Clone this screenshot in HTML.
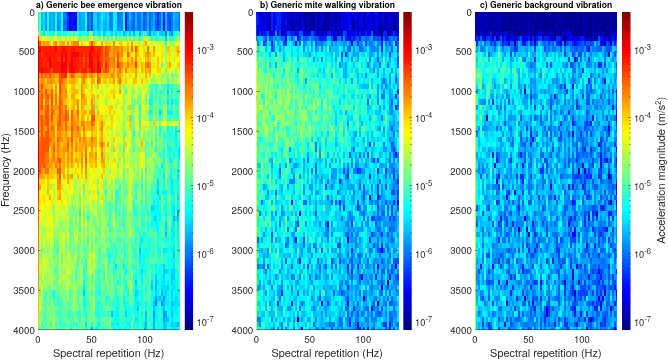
<!DOCTYPE html><html><head><meta charset="utf-8"><style>html,body{margin:0;padding:0;background:#fff;overflow:hidden}svg{display:block;font-family:"TeX Gyre Heros","Liberation Sans",Arial,Helvetica,sans-serif}</style></head><body>
<svg width="668" height="361" viewBox="0 0 668 361" fill="#262626">
<defs><linearGradient id="jetg" x1="0" y1="0" x2="0" y2="1"><stop offset="0" stop-color="#800000"/><stop offset="0.02" stop-color="#8f0000"/><stop offset="0.03" stop-color="#9f0000"/><stop offset="0.05" stop-color="#af0000"/><stop offset="0.06" stop-color="#bf0000"/><stop offset="0.08" stop-color="#cf0000"/><stop offset="0.09" stop-color="#df0000"/><stop offset="0.11" stop-color="#ef0000"/><stop offset="0.12" stop-color="#ff0000"/><stop offset="0.14" stop-color="#ff1000"/><stop offset="0.16" stop-color="#ff2000"/><stop offset="0.17" stop-color="#ff3000"/><stop offset="0.19" stop-color="#ff4000"/><stop offset="0.2" stop-color="#ff5000"/><stop offset="0.22" stop-color="#ff6000"/><stop offset="0.23" stop-color="#ff7000"/><stop offset="0.25" stop-color="#ff8000"/><stop offset="0.27" stop-color="#ff8f00"/><stop offset="0.28" stop-color="#ff9f00"/><stop offset="0.3" stop-color="#ffaf00"/><stop offset="0.31" stop-color="#ffbf00"/><stop offset="0.33" stop-color="#ffcf00"/><stop offset="0.34" stop-color="#ffdf00"/><stop offset="0.36" stop-color="#ffef00"/><stop offset="0.38" stop-color="#ffff00"/><stop offset="0.39" stop-color="#efff10"/><stop offset="0.41" stop-color="#dfff20"/><stop offset="0.42" stop-color="#cfff30"/><stop offset="0.44" stop-color="#bfff40"/><stop offset="0.45" stop-color="#afff50"/><stop offset="0.47" stop-color="#9fff60"/><stop offset="0.48" stop-color="#8fff70"/><stop offset="0.5" stop-color="#80ff80"/><stop offset="0.52" stop-color="#70ff8f"/><stop offset="0.53" stop-color="#60ff9f"/><stop offset="0.55" stop-color="#50ffaf"/><stop offset="0.56" stop-color="#40ffbf"/><stop offset="0.58" stop-color="#30ffcf"/><stop offset="0.59" stop-color="#20ffdf"/><stop offset="0.61" stop-color="#10ffef"/><stop offset="0.62" stop-color="#00ffff"/><stop offset="0.64" stop-color="#00efff"/><stop offset="0.66" stop-color="#00dfff"/><stop offset="0.67" stop-color="#00cfff"/><stop offset="0.69" stop-color="#00bfff"/><stop offset="0.7" stop-color="#00afff"/><stop offset="0.72" stop-color="#009fff"/><stop offset="0.73" stop-color="#008fff"/><stop offset="0.75" stop-color="#0080ff"/><stop offset="0.77" stop-color="#0070ff"/><stop offset="0.78" stop-color="#0060ff"/><stop offset="0.8" stop-color="#0050ff"/><stop offset="0.81" stop-color="#0040ff"/><stop offset="0.83" stop-color="#0030ff"/><stop offset="0.84" stop-color="#0020ff"/><stop offset="0.86" stop-color="#0010ff"/><stop offset="0.88" stop-color="#0000ff"/><stop offset="0.89" stop-color="#0000ef"/><stop offset="0.91" stop-color="#0000df"/><stop offset="0.92" stop-color="#0000cf"/><stop offset="0.94" stop-color="#0000bf"/><stop offset="0.95" stop-color="#0000af"/><stop offset="0.97" stop-color="#00009f"/><stop offset="0.98" stop-color="#00008f"/><stop offset="1" stop-color="#000080"/></linearGradient><filter id="bl" x="0" y="0" width="1" height="1"><feGaussianBlur stdDeviation="0.45"/></filter></defs>
<rect width="668" height="361" fill="#fff"/>
<g shape-rendering="crispEdges" filter="url(#bl)"><path fill="#0000e1" d="M69 12h2v2.65h-2zM69 14.65h2v5.3h-2zM69 19.95h2v5.3h-2zM69 25.25h2v5.3h-2z"/>
<path fill="#0000f1" d="M75 14.65h2v5.3h-2zM75 19.95h2v5.3h-2z"/>
<path fill="#0002ff" d="M73 12h4v2.65h-4zM125 14.65h2v5.3h-2zM73 19.95h2v5.3h-2zM125 19.95h2v5.3h-2zM75 25.25h2v5.3h-2zM125 25.25h2v5.3h-2z"/>
<path fill="#0012ff" d="M71 12h2v2.65h-2zM125 12h2v2.65h-2zM71 14.65h4v5.3h-4zM71 19.95h2v5.3h-2zM163 19.95h2v5.3h-2zM71 25.25h4v5.3h-4zM163 25.25h2v5.3h-2z"/>
<path fill="#0022ff" d="M67 12h2v2.65h-2zM163 12h2v2.65h-2zM163 14.65h2v5.3h-2zM67 19.95h2v5.3h-2zM67 25.25h2v5.3h-2z"/>
<path fill="#0033ff" d="M157 12h2v2.65h-2zM67 14.65h2v5.3h-2zM157 19.95h2v5.3h-2z"/>
<path fill="#0043ff" d="M157 14.65h2v5.3h-2zM169 19.95h2v5.3h-2zM157 25.25h2v5.3h-2zM169 25.25h2v5.3h-2z"/>
<path fill="#0053ff" d="M87 12h2v2.65h-2zM91 12h2v2.65h-2zM169 12h2v2.65h-2zM91 14.65h2v5.3h-2zM167 14.65h4v5.3h-4zM91 19.95h2v5.3h-2zM143 19.95h2v5.3h-2zM87 25.25h2v5.3h-2zM91 25.25h2v5.3h-2z"/>
<path fill="#0063ff" d="M117 12h2v2.65h-2zM133 12h2v2.65h-2zM143 12h4v2.65h-4zM149 12h2v2.65h-2zM155 12h2v2.65h-2zM159 12h2v2.65h-2zM167 12h2v2.65h-2zM179 12h1v2.65h-1zM87 14.65h2v5.3h-2zM133 14.65h2v5.3h-2zM143 14.65h2v5.3h-2zM149 14.65h2v5.3h-2zM179 14.65h1v5.3h-1zM63 19.95h2v5.3h-2zM87 19.95h2v5.3h-2zM133 19.95h2v5.3h-2zM149 19.95h2v5.3h-2zM155 19.95h2v5.3h-2zM159 19.95h2v5.3h-2zM167 19.95h2v5.3h-2zM179 19.95h1v5.3h-1zM133 25.25h2v5.3h-2zM143 25.25h2v5.3h-2zM149 25.25h2v5.3h-2zM155 25.25h2v5.3h-2zM167 25.25h2v5.3h-2zM179 25.25h1v5.3h-1z"/>
<path fill="#0073ff" d="M63 12h4v2.65h-4zM109 12h2v2.65h-2zM127 12h2v2.65h-2zM131 12h2v2.65h-2zM137 12h4v2.65h-4zM171 12h2v2.65h-2zM117 14.65h2v5.3h-2zM127 14.65h2v5.3h-2zM137 14.65h4v5.3h-4zM145 14.65h2v5.3h-2zM155 14.65h2v5.3h-2zM159 14.65h2v5.3h-2zM171 14.65h2v5.3h-2zM65 19.95h2v5.3h-2zM117 19.95h2v5.3h-2zM131 19.95h2v5.3h-2zM137 19.95h4v5.3h-4zM145 19.95h2v5.3h-2zM171 19.95h2v5.3h-2zM63 25.25h4v5.3h-4zM127 25.25h2v5.3h-2zM131 25.25h2v5.3h-2zM137 25.25h4v5.3h-4zM145 25.25h2v5.3h-2zM159 25.25h2v5.3h-2zM171 25.25h2v5.3h-2zM155 300.85h2v5.3h-2z"/>
<path fill="#0084ff" d="M89 12h2v2.65h-2zM111 12h2v2.65h-2zM119 12h4v2.65h-4zM151 12h2v2.65h-2zM63 14.65h4v5.3h-4zM89 14.65h2v5.3h-2zM109 14.65h4v5.3h-4zM119 14.65h2v5.3h-2zM131 14.65h2v5.3h-2zM151 14.65h2v5.3h-2zM57 19.95h2v5.3h-2zM109 19.95h4v5.3h-4zM119 19.95h4v5.3h-4zM127 19.95h2v5.3h-2zM57 25.25h2v5.3h-2zM89 25.25h2v5.3h-2zM109 25.25h4v5.3h-4zM117 25.25h2v5.3h-2zM121 25.25h2v5.3h-2zM149 30.55h2v5.3h-2zM165 30.55h2v5.3h-2zM163 295.55h2v5.3h-2zM161 300.85h2v5.3h-2z"/>
<path fill="#0094ff" d="M45 12h2v2.65h-2zM45 14.65h2v5.3h-2zM97 14.65h2v5.3h-2zM121 14.65h2v5.3h-2zM89 19.95h2v5.3h-2zM97 19.95h2v5.3h-2zM151 19.95h2v5.3h-2zM175 19.95h4v5.3h-4zM45 25.25h2v5.3h-2zM119 25.25h2v5.3h-2zM129 25.25h2v5.3h-2zM151 25.25h2v5.3h-2zM175 25.25h2v5.3h-2zM171 30.55h2v5.3h-2zM153 311.45h2v5.3h-2z"/>
<path fill="#00a4ff" d="M49 12h2v2.65h-2zM53 12h2v2.65h-2zM57 12h4v2.65h-4zM79 12h2v2.65h-2zM97 12h2v2.65h-2zM141 12h2v2.65h-2zM147 12h2v2.65h-2zM153 12h2v2.65h-2zM161 12h2v2.65h-2zM175 12h4v2.65h-4zM53 14.65h2v5.3h-2zM57 14.65h2v5.3h-2zM79 14.65h2v5.3h-2zM175 14.65h4v5.3h-4zM45 19.95h2v5.3h-2zM49 19.95h2v5.3h-2zM53 19.95h2v5.3h-2zM59 19.95h2v5.3h-2zM79 19.95h2v5.3h-2zM83 19.95h2v5.3h-2zM129 19.95h2v5.3h-2zM141 19.95h2v5.3h-2zM147 19.95h2v5.3h-2zM153 19.95h2v5.3h-2zM49 25.25h2v5.3h-2zM53 25.25h2v5.3h-2zM59 25.25h2v5.3h-2zM79 25.25h2v5.3h-2zM83 25.25h2v5.3h-2zM97 25.25h2v5.3h-2zM135 25.25h2v5.3h-2zM141 25.25h2v5.3h-2zM177 25.25h2v5.3h-2zM177 210.75h2v5.3h-2zM155 295.55h2v5.3h-2zM163 311.45h4v5.3h-4zM163 316.75h2v5.3h-2z"/>
<path fill="#00b4ff" d="M41 12h2v2.65h-2zM51 12h2v2.65h-2zM81 12h4v2.65h-4zM99 12h2v2.65h-2zM129 12h2v2.65h-2zM135 12h2v2.65h-2zM173 12h2v2.65h-2zM49 14.65h2v5.3h-2zM59 14.65h2v5.3h-2zM81 14.65h4v5.3h-4zM105 14.65h2v5.3h-2zM135 14.65h2v5.3h-2zM141 14.65h2v5.3h-2zM147 14.65h2v5.3h-2zM153 14.65h2v5.3h-2zM161 14.65h2v5.3h-2zM81 19.95h2v5.3h-2zM103 19.95h4v5.3h-4zM135 19.95h2v5.3h-2zM161 19.95h2v5.3h-2zM165 19.95h2v5.3h-2zM173 19.95h2v5.3h-2zM41 25.25h2v5.3h-2zM81 25.25h2v5.3h-2zM103 25.25h4v5.3h-4zM147 25.25h2v5.3h-2zM153 25.25h2v5.3h-2zM161 25.25h2v5.3h-2zM165 25.25h2v5.3h-2zM173 25.25h2v5.3h-2zM123 30.55h2v5.3h-2zM133 30.55h2v5.3h-2zM139 30.55h2v5.3h-2zM169 30.55h2v5.3h-2zM173 216.05h2v5.3h-2zM155 284.95h2v5.3h-2zM161 290.25h2v5.3h-2zM153 316.75h2v5.3h-2zM167 316.75h2v5.3h-2zM145 322.05h2v5.3h-2zM153 322.05h2v5.3h-2zM177 322.05h2v5.3h-2zM153 327.35h2v2.65h-2z"/>
<path fill="#00c4ff" d="M93 12h2v2.65h-2zM105 12h2v2.65h-2zM165 12h2v2.65h-2zM41 14.65h2v5.3h-2zM51 14.65h2v5.3h-2zM99 14.65h2v5.3h-2zM129 14.65h2v5.3h-2zM165 14.65h2v5.3h-2zM173 14.65h2v5.3h-2zM41 19.95h2v5.3h-2zM51 19.95h2v5.3h-2zM99 19.95h2v5.3h-2zM51 25.25h2v5.3h-2zM93 25.25h2v5.3h-2zM99 25.25h2v5.3h-2zM103 30.55h2v5.3h-2zM129 30.55h2v5.3h-2zM161 30.55h2v5.3h-2zM165 35.85h2v5.3h-2zM179 147.15h1v5.3h-1zM157 189.55h2v5.3h-2zM177 216.05h2v5.3h-2zM165 231.95h2v5.3h-2zM139 247.85h2v5.3h-2zM173 253.15h2v5.3h-2zM171 274.35h2v5.3h-2zM155 279.65h2v5.3h-2zM151 284.95h2v5.3h-2zM167 284.95h2v5.3h-2zM159 295.55h2v5.3h-2zM153 300.85h2v5.3h-2zM163 300.85h2v5.3h-2zM171 300.85h2v5.3h-2zM137 306.15h2v5.3h-2zM153 306.15h2v5.3h-2zM163 306.15h2v5.3h-2zM111 311.45h2v5.3h-2zM145 311.45h2v5.3h-2zM171 311.45h2v5.3h-2zM165 316.75h2v5.3h-2zM163 322.05h2v5.3h-2zM171 322.05h2v5.3h-2zM163 327.35h2v2.65h-2z"/>
<path fill="#00d4ff" d="M77 12h2v2.65h-2zM95 12h2v2.65h-2zM103 12h2v2.65h-2zM107 12h2v2.65h-2zM77 14.65h2v5.3h-2zM93 14.65h2v5.3h-2zM103 14.65h2v5.3h-2zM43 19.95h2v5.3h-2zM77 19.95h2v5.3h-2zM93 19.95h2v5.3h-2zM107 19.95h2v5.3h-2zM77 25.25h2v5.3h-2zM95 25.25h2v5.3h-2zM107 25.25h2v5.3h-2zM93 30.55h2v5.3h-2zM111 30.55h2v5.3h-2zM115 30.55h2v5.3h-2zM147 30.55h2v5.3h-2zM153 30.55h2v5.3h-2zM159 30.55h2v5.3h-2zM163 30.55h2v5.3h-2zM167 88.85h2v5.3h-2zM159 110.05h2v5.3h-2zM179 152.45h1v5.3h-1zM177 173.65h2v5.3h-2zM157 178.95h2v5.3h-2zM177 194.85h2v5.3h-2zM151 205.45h2v5.3h-2zM155 216.05h2v5.3h-2zM165 221.35h2v5.3h-2zM163 263.75h2v5.3h-2zM141 269.05h2v5.3h-2zM163 269.05h4v5.3h-4zM171 269.05h4v5.3h-4zM155 274.35h2v5.3h-2zM163 274.35h2v5.3h-2zM173 274.35h2v5.3h-2zM135 279.65h2v5.3h-2zM151 279.65h2v5.3h-2zM171 279.65h2v5.3h-2zM83 290.25h2v5.3h-2zM135 290.25h2v5.3h-2zM155 290.25h2v5.3h-2zM165 290.25h2v5.3h-2zM171 290.25h2v5.3h-2zM157 295.55h2v5.3h-2zM175 295.55h2v5.3h-2zM173 300.85h2v5.3h-2zM179 300.85h1v5.3h-1zM171 306.15h2v5.3h-2zM125 311.45h2v5.3h-2zM145 316.75h2v5.3h-2zM165 322.05h2v5.3h-2zM175 322.05h2v5.3h-2zM145 327.35h2v2.65h-2zM165 327.35h2v2.65h-2zM173 327.35h2v2.65h-2z"/>
<path fill="#00e5ff" d="M43 12h2v2.65h-2zM101 12h2v2.65h-2zM115 12h2v2.65h-2zM43 14.65h2v5.3h-2zM95 14.65h2v5.3h-2zM107 14.65h2v5.3h-2zM95 19.95h2v5.3h-2zM101 19.95h2v5.3h-2zM115 19.95h2v5.3h-2zM43 25.25h2v5.3h-2zM101 25.25h2v5.3h-2zM115 25.25h2v5.3h-2zM43 30.55h2v5.3h-2zM87 30.55h2v5.3h-2zM97 30.55h4v5.3h-4zM119 30.55h2v5.3h-2zM125 30.55h2v5.3h-2zM141 30.55h2v5.3h-2zM155 30.55h2v5.3h-2zM167 99.45h2v5.3h-2zM171 99.45h2v5.3h-2zM175 131.25h2v5.3h-2zM163 173.65h2v5.3h-2zM171 178.95h2v5.3h-2zM157 184.25h2v5.3h-2zM159 194.85h2v5.3h-2zM153 205.45h2v5.3h-2zM173 205.45h2v5.3h-2zM173 210.75h2v5.3h-2zM153 216.05h2v5.3h-2zM175 216.05h2v5.3h-2zM173 221.35h2v5.3h-2zM177 221.35h2v5.3h-2zM165 226.65h2v5.3h-2zM171 226.65h2v5.3h-2zM173 231.95h2v5.3h-2zM141 237.25h2v5.3h-2zM163 247.85h2v5.3h-2zM173 247.85h2v5.3h-2zM139 253.15h2v5.3h-2zM115 263.75h2v5.3h-2zM173 263.75h2v5.3h-2zM167 269.05h2v5.3h-2zM157 279.65h2v5.3h-2zM163 279.65h2v5.3h-2zM161 284.95h6v5.3h-6zM173 284.95h2v5.3h-2zM137 290.25h2v5.3h-2zM163 290.25h2v5.3h-2zM135 295.55h2v5.3h-2zM153 295.55h2v5.3h-2zM161 295.55h2v5.3h-2zM165 295.55h2v5.3h-2zM171 295.55h2v5.3h-2zM177 295.55h2v5.3h-2zM137 300.85h2v5.3h-2zM167 300.85h2v5.3h-2zM175 300.85h4v5.3h-4zM175 306.15h2v5.3h-2zM135 316.75h2v5.3h-2zM171 316.75h2v5.3h-2zM85 322.05h2v5.3h-2zM173 322.05h2v5.3h-2zM91 327.35h2v2.65h-2zM95 327.35h2v2.65h-2z"/>
<path fill="#00f5ff" d="M38 12h1v2.65h-1zM55 12h2v2.65h-2zM113 12h2v2.65h-2zM123 12h2v2.65h-2zM101 14.65h2v5.3h-2zM113 14.65h4v5.3h-4zM38 25.25h1v5.3h-1zM105 30.55h2v5.3h-2zM151 30.55h2v5.3h-2zM173 30.55h2v5.3h-2zM179 30.55h1v5.3h-1zM167 83.55h2v5.3h-2zM149 99.45h2v5.3h-2zM149 110.05h2v5.3h-2zM167 110.05h4v5.3h-4zM167 125.95h2v5.3h-2zM175 125.95h2v5.3h-2zM169 147.15h2v5.3h-2zM169 157.75h2v5.3h-2zM161 163.05h2v5.3h-2zM169 173.65h2v5.3h-2zM171 184.25h2v5.3h-2zM163 189.55h4v5.3h-4zM171 189.55h4v5.3h-4zM153 200.15h2v5.3h-2zM157 200.15h2v5.3h-2zM177 200.15h2v5.3h-2zM157 205.45h2v5.3h-2zM177 205.45h2v5.3h-2zM155 210.75h2v5.3h-2zM159 210.75h2v5.3h-2zM165 210.75h2v5.3h-2zM159 216.05h2v5.3h-2zM151 221.35h2v5.3h-2zM155 221.35h2v5.3h-2zM157 226.65h2v5.3h-2zM177 226.65h2v5.3h-2zM177 231.95h2v5.3h-2zM171 237.25h2v5.3h-2zM177 237.25h2v5.3h-2zM139 242.55h2v5.3h-2zM173 242.55h2v5.3h-2zM165 247.85h2v5.3h-2zM171 247.85h2v5.3h-2zM139 258.45h2v5.3h-2zM171 258.45h4v5.3h-4zM123 263.75h2v5.3h-2zM155 263.75h2v5.3h-2zM125 269.05h2v5.3h-2zM159 269.05h2v5.3h-2zM175 269.05h2v5.3h-2zM141 274.35h2v5.3h-2zM161 274.35h2v5.3h-2zM169 274.35h2v5.3h-2zM141 279.65h2v5.3h-2zM161 279.65h2v5.3h-2zM167 279.65h2v5.3h-2zM173 279.65h4v5.3h-4zM83 284.95h2v5.3h-2zM135 284.95h2v5.3h-2zM171 284.95h2v5.3h-2zM175 284.95h2v5.3h-2zM157 290.25h2v5.3h-2zM167 290.25h2v5.3h-2zM175 290.25h4v5.3h-4zM167 295.55h2v5.3h-2zM83 300.85h2v5.3h-2zM123 300.85h2v5.3h-2zM135 300.85h2v5.3h-2zM145 300.85h2v5.3h-2zM157 300.85h2v5.3h-2zM165 300.85h2v5.3h-2zM135 306.15h2v5.3h-2zM155 306.15h2v5.3h-2zM161 306.15h2v5.3h-2zM173 306.15h2v5.3h-2zM177 306.15h2v5.3h-2zM117 311.45h2v5.3h-2zM141 311.45h2v5.3h-2zM155 311.45h2v5.3h-2zM161 311.45h2v5.3h-2zM173 311.45h6v5.3h-6zM97 322.05h2v5.3h-2zM111 322.05h2v5.3h-2zM117 322.05h2v5.3h-2zM127 322.05h2v5.3h-2zM143 322.05h2v5.3h-2zM157 322.05h2v5.3h-2zM169 322.05h2v5.3h-2zM113 327.35h2v2.65h-2zM119 327.35h2v2.65h-2zM125 327.35h2v2.65h-2zM159 327.35h2v2.65h-2zM171 327.35h2v2.65h-2zM175 327.35h2v2.65h-2z"/>
<path fill="#06fff9" d="M61 12h2v2.65h-2zM85 12h2v2.65h-2zM38 14.65h1v5.3h-1zM55 14.65h2v5.3h-2zM123 14.65h2v5.3h-2zM38 19.95h1v5.3h-1zM55 19.95h2v5.3h-2zM61 19.95h2v5.3h-2zM113 19.95h2v5.3h-2zM123 19.95h2v5.3h-2zM55 25.25h2v5.3h-2zM61 25.25h2v5.3h-2zM113 25.25h2v5.3h-2zM123 25.25h2v5.3h-2zM53 30.55h2v5.3h-2zM57 30.55h4v5.3h-4zM65 30.55h2v5.3h-2zM109 30.55h2v5.3h-2zM117 30.55h2v5.3h-2zM145 30.55h2v5.3h-2zM171 88.85h2v5.3h-2zM167 94.15h2v5.3h-2zM151 99.45h2v5.3h-2zM175 99.45h2v5.3h-2zM139 104.75h2v5.3h-2zM171 110.05h2v5.3h-2zM169 131.25h2v5.3h-2zM175 136.55h2v5.3h-2zM175 141.85h2v5.3h-2zM179 141.85h1v5.3h-1zM177 147.15h2v5.3h-2zM177 152.45h2v5.3h-2zM171 157.75h2v5.3h-2zM177 163.05h2v5.3h-2zM171 168.35h2v5.3h-2zM177 168.35h2v5.3h-2zM177 178.95h2v5.3h-2zM177 184.25h2v5.3h-2zM177 189.55h2v5.3h-2zM165 194.85h2v5.3h-2zM155 205.45h2v5.3h-2zM165 205.45h2v5.3h-2zM171 205.45h2v5.3h-2zM79 210.75h2v5.3h-2zM151 210.75h4v5.3h-4zM157 210.75h2v5.3h-2zM171 210.75h2v5.3h-2zM157 221.35h2v5.3h-2zM171 221.35h2v5.3h-2zM173 226.65h2v5.3h-2zM171 231.95h2v5.3h-2zM165 237.25h2v5.3h-2zM173 237.25h2v5.3h-2zM177 242.55h2v5.3h-2zM145 247.85h2v5.3h-2zM159 247.85h2v5.3h-2zM167 247.85h2v5.3h-2zM177 247.85h2v5.3h-2zM109 253.15h2v5.3h-2zM143 253.15h2v5.3h-2zM143 258.45h2v5.3h-2zM159 263.75h4v5.3h-4zM171 263.75h2v5.3h-2zM145 269.05h2v5.3h-2zM169 269.05h2v5.3h-2zM135 274.35h2v5.3h-2zM151 274.35h2v5.3h-2zM177 274.35h2v5.3h-2zM83 279.65h2v5.3h-2zM117 279.65h2v5.3h-2zM125 284.95h2v5.3h-2zM159 284.95h2v5.3h-2zM169 284.95h2v5.3h-2zM53 290.25h2v5.3h-2zM127 290.25h2v5.3h-2zM141 290.25h2v5.3h-2zM151 290.25h2v5.3h-2zM83 295.55h2v5.3h-2zM123 295.55h2v5.3h-2zM141 295.55h2v5.3h-2zM151 295.55h2v5.3h-2zM173 295.55h2v5.3h-2zM97 300.85h2v5.3h-2zM117 300.85h2v5.3h-2zM139 300.85h2v5.3h-2zM151 300.85h2v5.3h-2zM169 300.85h2v5.3h-2zM117 306.15h2v5.3h-2zM125 306.15h2v5.3h-2zM133 306.15h2v5.3h-2zM145 306.15h2v5.3h-2zM151 306.15h2v5.3h-2zM167 306.15h4v5.3h-4zM115 311.45h2v5.3h-2zM137 311.45h2v5.3h-2zM157 311.45h2v5.3h-2zM167 311.45h4v5.3h-4zM115 316.75h2v5.3h-2zM137 316.75h2v5.3h-2zM155 316.75h2v5.3h-2zM161 316.75h2v5.3h-2zM169 316.75h2v5.3h-2zM173 316.75h2v5.3h-2zM99 322.05h2v5.3h-2zM129 322.05h2v5.3h-2zM137 322.05h2v5.3h-2zM167 322.05h2v5.3h-2zM129 327.35h2v2.65h-2zM161 327.35h2v2.65h-2zM167 327.35h4v2.65h-4z"/>
<path fill="#16ffe9" d="M47 12h2v2.65h-2zM47 14.65h2v5.3h-2zM61 14.65h2v5.3h-2zM85 14.65h2v5.3h-2zM47 19.95h2v5.3h-2zM85 19.95h2v5.3h-2zM47 25.25h2v5.3h-2zM85 25.25h2v5.3h-2zM49 30.55h2v5.3h-2zM79 30.55h6v5.3h-6zM95 30.55h2v5.3h-2zM121 30.55h2v5.3h-2zM135 30.55h2v5.3h-2zM115 35.85h2v5.3h-2zM139 35.85h2v5.3h-2zM177 88.85h2v5.3h-2zM151 94.15h2v5.3h-2zM177 110.05h2v5.3h-2zM159 125.95h2v5.3h-2zM171 125.95h2v5.3h-2zM133 131.25h2v5.3h-2zM173 136.55h2v5.3h-2zM155 147.15h2v5.3h-2zM171 147.15h2v5.3h-2zM163 152.45h2v5.3h-2zM169 152.45h2v5.3h-2zM173 152.45h2v5.3h-2zM163 157.75h2v5.3h-2zM177 157.75h3v5.3h-3zM163 168.35h2v5.3h-2zM171 173.65h2v5.3h-2zM163 178.95h2v5.3h-2zM141 184.25h2v5.3h-2zM163 184.25h2v5.3h-2zM173 184.25h2v5.3h-2zM105 189.55h2v5.3h-2zM115 189.55h2v5.3h-2zM155 189.55h2v5.3h-2zM161 189.55h2v5.3h-2zM135 194.85h2v5.3h-2zM153 194.85h2v5.3h-2zM157 194.85h2v5.3h-2zM173 194.85h2v5.3h-2zM115 200.15h2v5.3h-2zM165 200.15h2v5.3h-2zM171 200.15h4v5.3h-4zM115 205.45h2v5.3h-2zM133 205.45h2v5.3h-2zM159 205.45h2v5.3h-2zM163 205.45h2v5.3h-2zM135 210.75h2v5.3h-2zM147 210.75h2v5.3h-2zM87 216.05h2v5.3h-2zM151 216.05h2v5.3h-2zM157 216.05h2v5.3h-2zM165 216.05h2v5.3h-2zM143 221.35h2v5.3h-2zM147 221.35h2v5.3h-2zM153 221.35h2v5.3h-2zM147 226.65h2v5.3h-2zM155 226.65h2v5.3h-2zM143 231.95h2v5.3h-2zM157 231.95h2v5.3h-2zM135 237.25h2v5.3h-2zM139 237.25h2v5.3h-2zM147 237.25h2v5.3h-2zM167 237.25h2v5.3h-2zM149 242.55h2v5.3h-2zM157 242.55h2v5.3h-2zM165 242.55h2v5.3h-2zM171 242.55h2v5.3h-2zM143 247.85h2v5.3h-2zM147 247.85h4v5.3h-4zM157 247.85h2v5.3h-2zM147 253.15h2v5.3h-2zM159 253.15h2v5.3h-2zM163 253.15h2v5.3h-2zM169 253.15h2v5.3h-2zM177 253.15h2v5.3h-2zM113 258.45h2v5.3h-2zM163 258.45h2v5.3h-2zM167 258.45h4v5.3h-4zM141 263.75h4v5.3h-4zM151 263.75h2v5.3h-2zM169 263.75h2v5.3h-2zM83 269.05h2v5.3h-2zM113 269.05h2v5.3h-2zM139 269.05h2v5.3h-2zM143 269.05h2v5.3h-2zM151 269.05h2v5.3h-2zM155 269.05h4v5.3h-4zM133 274.35h2v5.3h-2zM139 274.35h2v5.3h-2zM157 274.35h4v5.3h-4zM165 274.35h4v5.3h-4zM175 274.35h2v5.3h-2zM159 279.65h2v5.3h-2zM165 279.65h2v5.3h-2zM169 279.65h2v5.3h-2zM177 279.65h2v5.3h-2zM137 284.95h2v5.3h-2zM141 284.95h2v5.3h-2zM145 284.95h2v5.3h-2zM157 284.95h2v5.3h-2zM177 284.95h2v5.3h-2zM99 290.25h2v5.3h-2zM133 290.25h2v5.3h-2zM145 290.25h2v5.3h-2zM153 290.25h2v5.3h-2zM169 290.25h2v5.3h-2zM173 290.25h2v5.3h-2zM179 290.25h1v5.3h-1zM53 295.55h2v5.3h-2zM85 295.55h2v5.3h-2zM105 295.55h2v5.3h-2zM115 295.55h4v5.3h-4zM137 295.55h2v5.3h-2zM169 295.55h2v5.3h-2zM113 300.85h2v5.3h-2zM125 300.85h4v5.3h-4zM141 300.85h2v5.3h-2zM159 300.85h2v5.3h-2zM83 306.15h2v5.3h-2zM115 306.15h2v5.3h-2zM127 306.15h4v5.3h-4zM141 306.15h2v5.3h-2zM157 306.15h2v5.3h-2zM165 306.15h2v5.3h-2zM85 311.45h2v5.3h-2zM95 311.45h6v5.3h-6zM113 311.45h2v5.3h-2zM127 311.45h4v5.3h-4zM135 311.45h2v5.3h-2zM113 316.75h2v5.3h-2zM117 316.75h2v5.3h-2zM149 316.75h2v5.3h-2zM157 316.75h2v5.3h-2zM175 316.75h4v5.3h-4zM113 322.05h4v5.3h-4zM121 322.05h6v5.3h-6zM133 322.05h4v5.3h-4zM141 322.05h2v5.3h-2zM151 322.05h2v5.3h-2zM161 322.05h2v5.3h-2zM69 327.35h4v2.65h-4zM85 327.35h2v2.65h-2zM97 327.35h2v2.65h-2zM115 327.35h2v2.65h-2zM143 327.35h2v2.65h-2zM147 327.35h2v2.65h-2zM155 327.35h4v2.65h-4zM177 327.35h3v2.65h-3z"/>
<path fill="#26ffd9" d="M41 30.55h2v5.3h-2zM51 30.55h2v5.3h-2zM63 30.55h2v5.3h-2zM107 30.55h2v5.3h-2zM113 30.55h2v5.3h-2zM127 30.55h2v5.3h-2zM131 30.55h2v5.3h-2zM167 30.55h2v5.3h-2zM175 30.55h2v5.3h-2zM103 35.85h2v5.3h-2zM155 35.85h4v5.3h-4zM169 35.85h2v5.3h-2zM155 83.55h2v5.3h-2zM163 83.55h2v5.3h-2zM155 88.85h2v5.3h-2zM171 94.15h2v5.3h-2zM159 99.45h2v5.3h-2zM177 99.45h2v5.3h-2zM167 104.75h2v5.3h-2zM175 104.75h2v5.3h-2zM151 110.05h2v5.3h-2zM175 110.05h2v5.3h-2zM169 115.35h2v5.3h-2zM159 131.25h2v5.3h-2zM167 131.25h2v5.3h-2zM171 131.25h2v5.3h-2zM155 136.55h2v5.3h-2zM163 136.55h2v5.3h-2zM167 136.55h2v5.3h-2zM179 136.55h1v5.3h-1zM151 141.85h2v5.3h-2zM167 141.85h2v5.3h-2zM123 147.15h2v5.3h-2zM163 147.15h2v5.3h-2zM167 147.15h2v5.3h-2zM175 147.15h2v5.3h-2zM159 152.45h2v5.3h-2zM167 152.45h2v5.3h-2zM163 163.05h2v5.3h-2zM159 168.35h2v5.3h-2zM167 178.95h4v5.3h-4zM173 178.95h4v5.3h-4zM119 184.25h2v5.3h-2zM155 184.25h2v5.3h-2zM169 184.25h2v5.3h-2zM117 189.55h2v5.3h-2zM169 189.55h2v5.3h-2zM115 194.85h2v5.3h-2zM163 194.85h2v5.3h-2zM171 194.85h2v5.3h-2zM133 200.15h2v5.3h-2zM155 200.15h2v5.3h-2zM159 200.15h2v5.3h-2zM145 205.45h2v5.3h-2zM133 210.75h2v5.3h-2zM141 210.75h2v5.3h-2zM171 216.05h2v5.3h-2zM141 221.35h2v5.3h-2zM79 226.65h2v5.3h-2zM137 226.65h2v5.3h-2zM153 226.65h2v5.3h-2zM145 231.95h2v5.3h-2zM159 231.95h2v5.3h-2zM143 237.25h2v5.3h-2zM149 237.25h4v5.3h-4zM157 237.25h2v5.3h-2zM163 237.25h2v5.3h-2zM131 242.55h2v5.3h-2zM147 242.55h2v5.3h-2zM159 242.55h2v5.3h-2zM169 242.55h2v5.3h-2zM107 247.85h2v5.3h-2zM115 247.85h2v5.3h-2zM133 247.85h2v5.3h-2zM141 247.85h2v5.3h-2zM169 247.85h2v5.3h-2zM107 253.15h2v5.3h-2zM115 253.15h2v5.3h-2zM125 253.15h2v5.3h-2zM135 253.15h2v5.3h-2zM141 253.15h2v5.3h-2zM145 253.15h2v5.3h-2zM153 253.15h2v5.3h-2zM157 253.15h2v5.3h-2zM165 253.15h4v5.3h-4zM171 253.15h2v5.3h-2zM85 258.45h2v5.3h-2zM141 258.45h2v5.3h-2zM147 258.45h2v5.3h-2zM177 258.45h2v5.3h-2zM113 263.75h2v5.3h-2zM125 263.75h2v5.3h-2zM133 263.75h2v5.3h-2zM139 263.75h2v5.3h-2zM145 263.75h2v5.3h-2zM149 263.75h2v5.3h-2zM167 263.75h2v5.3h-2zM99 269.05h2v5.3h-2zM161 269.05h2v5.3h-2zM177 269.05h2v5.3h-2zM97 274.35h2v5.3h-2zM119 274.35h2v5.3h-2zM147 274.35h2v5.3h-2zM99 279.65h2v5.3h-2zM123 279.65h4v5.3h-4zM153 279.65h2v5.3h-2zM97 284.95h4v5.3h-4zM133 284.95h2v5.3h-2zM153 284.95h2v5.3h-2zM95 290.25h4v5.3h-4zM115 290.25h2v5.3h-2zM123 290.25h2v5.3h-2zM139 290.25h2v5.3h-2zM57 295.55h2v5.3h-2zM95 295.55h2v5.3h-2zM107 295.55h2v5.3h-2zM57 300.85h2v5.3h-2zM85 300.85h2v5.3h-2zM99 300.85h2v5.3h-2zM115 300.85h2v5.3h-2zM133 300.85h2v5.3h-2zM95 306.15h4v5.3h-4zM101 306.15h2v5.3h-2zM123 306.15h2v5.3h-2zM149 306.15h2v5.3h-2zM67 311.45h2v5.3h-2zM77 311.45h4v5.3h-4zM103 311.45h2v5.3h-2zM107 311.45h2v5.3h-2zM123 311.45h2v5.3h-2zM133 311.45h2v5.3h-2zM151 311.45h2v5.3h-2zM85 316.75h2v5.3h-2zM125 316.75h8v5.3h-8zM141 316.75h4v5.3h-4zM151 316.75h2v5.3h-2zM179 316.75h1v5.3h-1zM59 322.05h2v5.3h-2zM71 322.05h2v5.3h-2zM75 322.05h2v5.3h-2zM91 322.05h2v5.3h-2zM159 322.05h2v5.3h-2zM179 322.05h1v5.3h-1zM39 327.35h2v2.65h-2zM121 327.35h4v2.65h-4zM127 327.35h2v2.65h-2zM135 327.35h2v2.65h-2zM141 327.35h2v2.65h-2zM151 327.35h2v2.65h-2z"/>
<path fill="#37ffc8" d="M47 30.55h2v5.3h-2zM69 30.55h2v5.3h-2zM73 30.55h2v5.3h-2zM77 30.55h2v5.3h-2zM85 30.55h2v5.3h-2zM137 30.55h2v5.3h-2zM157 30.55h2v5.3h-2zM177 30.55h2v5.3h-2zM151 35.85h2v5.3h-2zM161 35.85h4v5.3h-4zM171 35.85h4v5.3h-4zM165 41.15h2v5.3h-2zM151 83.55h2v5.3h-2zM169 83.55h4v5.3h-4zM151 88.85h2v5.3h-2zM159 88.85h6v5.3h-6zM155 94.15h2v5.3h-2zM177 94.15h2v5.3h-2zM173 99.45h2v5.3h-2zM151 104.75h2v5.3h-2zM159 104.75h2v5.3h-2zM171 104.75h2v5.3h-2zM177 104.75h2v5.3h-2zM139 110.05h2v5.3h-2zM161 110.05h2v5.3h-2zM131 115.35h2v5.3h-2zM139 115.35h2v5.3h-2zM149 115.35h4v5.3h-4zM159 115.35h2v5.3h-2zM167 115.35h2v5.3h-2zM175 115.35h4v5.3h-4zM139 120.65h2v5.3h-2zM163 131.25h2v5.3h-2zM179 131.25h1v5.3h-1zM169 136.55h4v5.3h-4zM169 141.85h2v5.3h-2zM173 141.85h2v5.3h-2zM133 147.15h2v5.3h-2zM173 147.15h2v5.3h-2zM175 152.45h2v5.3h-2zM169 163.05h4v5.3h-4zM179 163.05h1v5.3h-1zM145 168.35h2v5.3h-2zM169 168.35h2v5.3h-2zM175 168.35h2v5.3h-2zM141 173.65h2v5.3h-2zM157 173.65h4v5.3h-4zM141 178.95h2v5.3h-2zM145 178.95h2v5.3h-2zM161 178.95h2v5.3h-2zM135 184.25h2v5.3h-2zM145 184.25h2v5.3h-2zM175 184.25h2v5.3h-2zM125 189.55h2v5.3h-2zM145 189.55h2v5.3h-2zM151 189.55h2v5.3h-2zM159 189.55h2v5.3h-2zM179 189.55h1v5.3h-1zM117 194.85h2v5.3h-2zM155 194.85h2v5.3h-2zM141 200.15h2v5.3h-2zM109 205.45h2v5.3h-2zM123 205.45h2v5.3h-2zM135 205.45h2v5.3h-2zM175 205.45h2v5.3h-2zM179 205.45h1v5.3h-1zM109 210.75h2v5.3h-2zM115 210.75h2v5.3h-2zM119 210.75h2v5.3h-2zM125 210.75h2v5.3h-2zM143 210.75h2v5.3h-2zM149 210.75h2v5.3h-2zM161 210.75h2v5.3h-2zM167 210.75h2v5.3h-2zM79 216.05h2v5.3h-2zM109 216.05h2v5.3h-2zM123 216.05h2v5.3h-2zM141 216.05h4v5.3h-4zM123 221.35h2v5.3h-2zM135 221.35h2v5.3h-2zM149 221.35h2v5.3h-2zM159 221.35h4v5.3h-4zM109 226.65h2v5.3h-2zM135 226.65h2v5.3h-2zM141 226.65h2v5.3h-2zM159 226.65h2v5.3h-2zM163 226.65h2v5.3h-2zM167 226.65h2v5.3h-2zM175 226.65h2v5.3h-2zM139 231.95h4v5.3h-4zM87 237.25h2v5.3h-2zM119 237.25h2v5.3h-2zM159 237.25h2v5.3h-2zM113 242.55h2v5.3h-2zM123 242.55h2v5.3h-2zM141 242.55h6v5.3h-6zM151 242.55h4v5.3h-4zM167 242.55h2v5.3h-2zM57 247.85h2v5.3h-2zM99 247.85h2v5.3h-2zM111 247.85h4v5.3h-4zM123 247.85h2v5.3h-2zM135 247.85h2v5.3h-2zM151 247.85h2v5.3h-2zM111 253.15h2v5.3h-2zM133 253.15h2v5.3h-2zM149 253.15h4v5.3h-4zM179 253.15h1v5.3h-1zM109 258.45h2v5.3h-2zM123 258.45h2v5.3h-2zM157 258.45h2v5.3h-2zM165 258.45h2v5.3h-2zM175 258.45h2v5.3h-2zM85 263.75h2v5.3h-2zM107 263.75h2v5.3h-2zM117 263.75h2v5.3h-2zM131 263.75h2v5.3h-2zM135 263.75h2v5.3h-2zM153 263.75h2v5.3h-2zM157 263.75h2v5.3h-2zM165 263.75h2v5.3h-2zM175 263.75h2v5.3h-2zM55 269.05h2v5.3h-2zM97 269.05h2v5.3h-2zM123 269.05h2v5.3h-2zM135 269.05h4v5.3h-4zM75 274.35h2v5.3h-2zM83 274.35h2v5.3h-2zM103 274.35h2v5.3h-2zM123 274.35h2v5.3h-2zM137 274.35h2v5.3h-2zM145 274.35h2v5.3h-2zM153 274.35h2v5.3h-2zM119 279.65h2v5.3h-2zM133 279.65h2v5.3h-2zM137 279.65h2v5.3h-2zM143 279.65h2v5.3h-2zM85 284.95h2v5.3h-2zM95 284.95h2v5.3h-2zM115 284.95h2v5.3h-2zM139 284.95h2v5.3h-2zM149 284.95h2v5.3h-2zM85 290.25h2v5.3h-2zM159 290.25h2v5.3h-2zM43 295.55h2v5.3h-2zM109 295.55h2v5.3h-2zM133 295.55h2v5.3h-2zM139 295.55h2v5.3h-2zM59 300.85h2v5.3h-2zM87 300.85h2v5.3h-2zM105 300.85h2v5.3h-2zM111 300.85h2v5.3h-2zM119 300.85h2v5.3h-2zM143 300.85h2v5.3h-2zM147 300.85h4v5.3h-4zM85 306.15h2v5.3h-2zM99 306.15h2v5.3h-2zM111 306.15h4v5.3h-4zM131 306.15h2v5.3h-2zM143 306.15h2v5.3h-2zM59 311.45h2v5.3h-2zM69 311.45h2v5.3h-2zM83 311.45h2v5.3h-2zM101 311.45h2v5.3h-2zM109 311.45h2v5.3h-2zM119 311.45h2v5.3h-2zM131 311.45h2v5.3h-2zM149 311.45h2v5.3h-2zM159 311.45h2v5.3h-2zM59 316.75h2v5.3h-2zM97 316.75h4v5.3h-4zM119 316.75h4v5.3h-4zM139 316.75h2v5.3h-2zM147 316.75h2v5.3h-2zM159 316.75h2v5.3h-2zM41 322.05h2v5.3h-2zM55 322.05h2v5.3h-2zM61 322.05h2v5.3h-2zM65 322.05h2v5.3h-2zM77 322.05h2v5.3h-2zM119 322.05h2v5.3h-2zM149 322.05h2v5.3h-2zM155 322.05h2v5.3h-2zM43 327.35h2v2.65h-2zM57 327.35h2v2.65h-2zM77 327.35h2v2.65h-2zM93 327.35h2v2.65h-2zM103 327.35h2v2.65h-2zM107 327.35h2v2.65h-2zM111 327.35h2v2.65h-2zM117 327.35h2v2.65h-2zM133 327.35h2v2.65h-2zM137 327.35h4v2.65h-4z"/>
<path fill="#47ffb8" d="M61 30.55h2v5.3h-2zM67 30.55h2v5.3h-2zM101 30.55h2v5.3h-2zM143 30.55h2v5.3h-2zM79 35.85h2v5.3h-2zM107 35.85h2v5.3h-2zM111 35.85h2v5.3h-2zM133 35.85h2v5.3h-2zM179 35.85h1v5.3h-1zM171 72.95h2v5.3h-2zM157 83.55h2v5.3h-2zM165 83.55h2v5.3h-2zM173 83.55h2v5.3h-2zM177 83.55h2v5.3h-2zM125 88.85h2v5.3h-2zM149 88.85h2v5.3h-2zM175 88.85h2v5.3h-2zM149 94.15h2v5.3h-2zM159 94.15h2v5.3h-2zM175 94.15h2v5.3h-2zM155 99.45h2v5.3h-2zM169 99.45h2v5.3h-2zM149 104.75h2v5.3h-2zM161 104.75h2v5.3h-2zM169 104.75h2v5.3h-2zM173 110.05h2v5.3h-2zM173 115.35h2v5.3h-2zM155 125.95h2v5.3h-2zM161 125.95h2v5.3h-2zM155 131.25h2v5.3h-2zM165 131.25h2v5.3h-2zM173 131.25h2v5.3h-2zM165 136.55h2v5.3h-2zM177 136.55h2v5.3h-2zM171 152.45h2v5.3h-2zM155 163.05h2v5.3h-2zM157 168.35h2v5.3h-2zM161 168.35h2v5.3h-2zM173 168.35h2v5.3h-2zM153 173.65h4v5.3h-4zM161 173.65h2v5.3h-2zM115 178.95h2v5.3h-2zM151 184.25h4v5.3h-4zM159 184.25h4v5.3h-4zM167 184.25h2v5.3h-2zM179 184.25h1v5.3h-1zM97 189.55h2v5.3h-2zM119 189.55h2v5.3h-2zM135 189.55h2v5.3h-2zM141 189.55h2v5.3h-2zM153 189.55h2v5.3h-2zM119 194.85h2v5.3h-2zM133 194.85h2v5.3h-2zM145 194.85h2v5.3h-2zM151 194.85h2v5.3h-2zM109 200.15h2v5.3h-2zM117 200.15h2v5.3h-2zM145 200.15h4v5.3h-4zM151 200.15h2v5.3h-2zM163 200.15h2v5.3h-2zM175 200.15h2v5.3h-2zM111 205.45h2v5.3h-2zM141 205.45h2v5.3h-2zM147 205.45h2v5.3h-2zM167 205.45h2v5.3h-2zM117 210.75h2v5.3h-2zM123 210.75h2v5.3h-2zM137 210.75h2v5.3h-2zM163 210.75h2v5.3h-2zM169 210.75h2v5.3h-2zM115 216.05h2v5.3h-2zM135 216.05h2v5.3h-2zM147 216.05h2v5.3h-2zM161 216.05h2v5.3h-2zM107 221.35h4v5.3h-4zM121 221.35h2v5.3h-2zM163 221.35h2v5.3h-2zM167 221.35h2v5.3h-2zM69 226.65h2v5.3h-2zM143 226.65h2v5.3h-2zM149 226.65h4v5.3h-4zM125 231.95h2v5.3h-2zM167 231.95h2v5.3h-2zM175 231.95h2v5.3h-2zM109 237.25h2v5.3h-2zM145 237.25h2v5.3h-2zM153 237.25h2v5.3h-2zM161 237.25h2v5.3h-2zM169 237.25h2v5.3h-2zM57 242.55h2v5.3h-2zM115 242.55h2v5.3h-2zM119 242.55h2v5.3h-2zM125 242.55h2v5.3h-2zM135 242.55h2v5.3h-2zM155 242.55h2v5.3h-2zM161 242.55h4v5.3h-4zM85 247.85h2v5.3h-2zM109 247.85h2v5.3h-2zM119 247.85h2v5.3h-2zM125 247.85h2v5.3h-2zM131 247.85h2v5.3h-2zM153 247.85h2v5.3h-2zM175 247.85h2v5.3h-2zM99 253.15h2v5.3h-2zM113 253.15h2v5.3h-2zM119 253.15h2v5.3h-2zM123 253.15h2v5.3h-2zM137 253.15h2v5.3h-2zM99 258.45h2v5.3h-2zM107 258.45h2v5.3h-2zM127 258.45h2v5.3h-2zM135 258.45h4v5.3h-4zM145 258.45h2v5.3h-2zM155 258.45h2v5.3h-2zM159 258.45h2v5.3h-2zM77 263.75h2v5.3h-2zM103 263.75h2v5.3h-2zM147 263.75h2v5.3h-2zM85 269.05h2v5.3h-2zM103 269.05h2v5.3h-2zM107 269.05h2v5.3h-2zM115 269.05h2v5.3h-2zM119 269.05h2v5.3h-2zM127 269.05h2v5.3h-2zM133 269.05h2v5.3h-2zM147 269.05h2v5.3h-2zM153 269.05h2v5.3h-2zM85 274.35h2v5.3h-2zM91 274.35h2v5.3h-2zM99 274.35h2v5.3h-2zM107 274.35h2v5.3h-2zM113 274.35h4v5.3h-4zM97 279.65h2v5.3h-2zM109 279.65h2v5.3h-2zM113 279.65h2v5.3h-2zM139 279.65h2v5.3h-2zM145 279.65h4v5.3h-4zM179 279.65h1v5.3h-1zM105 284.95h2v5.3h-2zM113 284.95h2v5.3h-2zM123 284.95h2v5.3h-2zM127 284.95h2v5.3h-2zM147 284.95h2v5.3h-2zM45 290.25h2v5.3h-2zM51 290.25h2v5.3h-2zM69 290.25h2v5.3h-2zM91 290.25h2v5.3h-2zM125 290.25h2v5.3h-2zM147 290.25h2v5.3h-2zM45 295.55h2v5.3h-2zM59 295.55h2v5.3h-2zM99 295.55h4v5.3h-4zM113 295.55h2v5.3h-2zM119 295.55h2v5.3h-2zM125 295.55h4v5.3h-4zM145 295.55h2v5.3h-2zM149 295.55h2v5.3h-2zM53 300.85h2v5.3h-2zM61 300.85h2v5.3h-2zM67 300.85h4v5.3h-4zM95 300.85h2v5.3h-2zM109 300.85h2v5.3h-2zM59 306.15h4v5.3h-4zM79 306.15h2v5.3h-2zM119 306.15h2v5.3h-2zM159 306.15h2v5.3h-2zM179 306.15h1v5.3h-1zM43 311.45h2v5.3h-2zM57 311.45h2v5.3h-2zM71 311.45h2v5.3h-2zM121 311.45h2v5.3h-2zM139 311.45h2v5.3h-2zM143 311.45h2v5.3h-2zM147 311.45h2v5.3h-2zM179 311.45h1v5.3h-1zM43 316.75h2v5.3h-2zM61 316.75h2v5.3h-2zM69 316.75h2v5.3h-2zM77 316.75h4v5.3h-4zM107 316.75h2v5.3h-2zM111 316.75h2v5.3h-2zM123 316.75h2v5.3h-2zM45 322.05h2v5.3h-2zM63 322.05h2v5.3h-2zM69 322.05h2v5.3h-2zM101 322.05h2v5.3h-2zM107 322.05h2v5.3h-2zM139 322.05h2v5.3h-2zM147 322.05h2v5.3h-2zM45 327.35h2v2.65h-2zM63 327.35h4v2.65h-4zM99 327.35h4v2.65h-4zM105 327.35h2v2.65h-2zM149 327.35h2v2.65h-2z"/>
<path fill="#57ffa8" d="M39 12h2v2.65h-2zM45 30.55h2v5.3h-2zM71 30.55h2v5.3h-2zM75 30.55h2v5.3h-2zM125 35.85h2v5.3h-2zM129 35.85h2v5.3h-2zM159 35.85h2v5.3h-2zM167 78.25h2v5.3h-2zM149 83.55h2v5.3h-2zM153 83.55h2v5.3h-2zM157 94.15h2v5.3h-2zM161 94.15h2v5.3h-2zM157 99.45h2v5.3h-2zM163 99.45h2v5.3h-2zM155 110.05h2v5.3h-2zM161 115.35h2v5.3h-2zM139 125.95h2v5.3h-2zM169 125.95h2v5.3h-2zM173 125.95h2v5.3h-2zM177 125.95h2v5.3h-2zM139 131.25h2v5.3h-2zM161 131.25h2v5.3h-2zM151 136.55h2v5.3h-2zM145 141.85h4v5.3h-4zM155 141.85h2v5.3h-2zM161 141.85h2v5.3h-2zM171 141.85h2v5.3h-2zM177 141.85h2v5.3h-2zM145 147.15h2v5.3h-2zM161 147.15h2v5.3h-2zM145 152.45h2v5.3h-2zM161 152.45h2v5.3h-2zM167 157.75h2v5.3h-2zM173 157.75h2v5.3h-2zM157 163.05h2v5.3h-2zM155 168.35h2v5.3h-2zM123 173.65h2v5.3h-2zM167 173.65h2v5.3h-2zM173 173.65h4v5.3h-4zM153 178.95h2v5.3h-2zM159 178.95h2v5.3h-2zM179 178.95h1v5.3h-1zM133 184.25h2v5.3h-2zM137 184.25h2v5.3h-2zM149 189.55h2v5.3h-2zM167 189.55h2v5.3h-2zM123 194.85h2v5.3h-2zM141 194.85h2v5.3h-2zM147 194.85h4v5.3h-4zM105 200.15h2v5.3h-2zM119 200.15h2v5.3h-2zM161 200.15h2v5.3h-2zM167 200.15h4v5.3h-4zM179 200.15h1v5.3h-1zM79 205.45h2v5.3h-2zM119 205.45h2v5.3h-2zM137 205.45h2v5.3h-2zM143 205.45h2v5.3h-2zM169 205.45h2v5.3h-2zM75 210.75h2v5.3h-2zM83 210.75h2v5.3h-2zM105 210.75h2v5.3h-2zM111 210.75h2v5.3h-2zM139 210.75h2v5.3h-2zM145 210.75h2v5.3h-2zM175 210.75h2v5.3h-2zM133 216.05h2v5.3h-2zM137 216.05h2v5.3h-2zM163 216.05h2v5.3h-2zM167 216.05h2v5.3h-2zM79 221.35h2v5.3h-2zM119 221.35h2v5.3h-2zM133 221.35h2v5.3h-2zM175 221.35h2v5.3h-2zM99 226.65h2v5.3h-2zM111 226.65h2v5.3h-2zM117 226.65h4v5.3h-4zM123 226.65h2v5.3h-2zM139 226.65h2v5.3h-2zM145 226.65h2v5.3h-2zM99 231.95h2v5.3h-2zM117 231.95h2v5.3h-2zM135 231.95h4v5.3h-4zM147 231.95h10v5.3h-10zM161 231.95h2v5.3h-2zM169 231.95h2v5.3h-2zM95 237.25h2v5.3h-2zM111 237.25h2v5.3h-2zM115 237.25h4v5.3h-4zM121 237.25h2v5.3h-2zM131 237.25h2v5.3h-2zM155 237.25h2v5.3h-2zM179 237.25h1v5.3h-1zM65 242.55h2v5.3h-2zM83 242.55h2v5.3h-2zM91 242.55h2v5.3h-2zM109 242.55h4v5.3h-4zM137 242.55h2v5.3h-2zM55 247.85h2v5.3h-2zM77 247.85h2v5.3h-2zM83 247.85h2v5.3h-2zM117 247.85h2v5.3h-2zM121 247.85h2v5.3h-2zM155 247.85h2v5.3h-2zM161 247.85h2v5.3h-2zM179 247.85h1v5.3h-1zM53 253.15h2v5.3h-2zM97 253.15h2v5.3h-2zM103 253.15h2v5.3h-2zM127 253.15h2v5.3h-2zM77 258.45h2v5.3h-2zM81 258.45h2v5.3h-2zM97 258.45h2v5.3h-2zM101 258.45h2v5.3h-2zM111 258.45h2v5.3h-2zM115 258.45h2v5.3h-2zM121 258.45h2v5.3h-2zM131 258.45h4v5.3h-4zM149 258.45h6v5.3h-6zM161 258.45h2v5.3h-2zM179 258.45h1v5.3h-1zM83 263.75h2v5.3h-2zM97 263.75h2v5.3h-2zM109 263.75h2v5.3h-2zM119 263.75h2v5.3h-2zM177 263.75h3v5.3h-3zM75 269.05h2v5.3h-2zM95 269.05h2v5.3h-2zM101 269.05h2v5.3h-2zM111 269.05h2v5.3h-2zM87 274.35h2v5.3h-2zM125 274.35h6v5.3h-6zM143 274.35h2v5.3h-2zM179 274.35h1v5.3h-1zM53 279.65h2v5.3h-2zM85 279.65h4v5.3h-4zM91 279.65h2v5.3h-2zM95 279.65h2v5.3h-2zM103 279.65h2v5.3h-2zM115 279.65h2v5.3h-2zM149 279.65h2v5.3h-2zM109 284.95h2v5.3h-2zM43 290.25h2v5.3h-2zM49 290.25h2v5.3h-2zM57 290.25h2v5.3h-2zM77 290.25h4v5.3h-4zM101 290.25h8v5.3h-8zM117 290.25h4v5.3h-4zM143 290.25h2v5.3h-2zM149 290.25h2v5.3h-2zM49 295.55h2v5.3h-2zM55 295.55h2v5.3h-2zM69 295.55h2v5.3h-2zM77 295.55h2v5.3h-2zM87 295.55h2v5.3h-2zM97 295.55h2v5.3h-2zM129 295.55h4v5.3h-4zM143 295.55h2v5.3h-2zM147 295.55h2v5.3h-2zM179 295.55h1v5.3h-1zM43 300.85h8v5.3h-8zM55 300.85h2v5.3h-2zM77 300.85h2v5.3h-2zM101 300.85h4v5.3h-4zM107 300.85h2v5.3h-2zM129 300.85h4v5.3h-4zM45 306.15h2v5.3h-2zM63 306.15h2v5.3h-2zM69 306.15h2v5.3h-2zM87 306.15h2v5.3h-2zM105 306.15h2v5.3h-2zM109 306.15h2v5.3h-2zM139 306.15h2v5.3h-2zM147 306.15h2v5.3h-2zM45 311.45h2v5.3h-2zM55 311.45h2v5.3h-2zM61 311.45h4v5.3h-4zM89 311.45h2v5.3h-2zM105 311.45h2v5.3h-2zM45 316.75h2v5.3h-2zM71 316.75h4v5.3h-4zM87 316.75h2v5.3h-2zM133 316.75h2v5.3h-2zM43 322.05h2v5.3h-2zM49 322.05h4v5.3h-4zM73 322.05h2v5.3h-2zM81 322.05h2v5.3h-2zM87 322.05h4v5.3h-4zM103 322.05h2v5.3h-2zM55 327.35h2v2.65h-2zM59 327.35h4v2.65h-4zM87 327.35h4v2.65h-4z"/>
<path fill="#67ff98" d="M39 14.65h2v5.3h-2zM39 19.95h2v5.3h-2zM39 25.25h2v5.3h-2zM39 30.55h2v5.3h-2zM99 35.85h2v5.3h-2zM119 35.85h2v5.3h-2zM123 35.85h2v5.3h-2zM153 35.85h2v5.3h-2zM165 46.45h2v5.3h-2zM161 62.35h2v5.3h-2zM161 83.55h2v5.3h-2zM175 83.55h2v5.3h-2zM157 88.85h2v5.3h-2zM165 88.85h2v5.3h-2zM169 88.85h2v5.3h-2zM139 94.15h2v5.3h-2zM153 94.15h2v5.3h-2zM165 94.15h2v5.3h-2zM169 94.15h2v5.3h-2zM173 94.15h2v5.3h-2zM133 99.45h2v5.3h-2zM139 99.45h2v5.3h-2zM145 99.45h2v5.3h-2zM161 99.45h2v5.3h-2zM165 99.45h2v5.3h-2zM131 104.75h2v5.3h-2zM155 104.75h2v5.3h-2zM155 115.35h2v5.3h-2zM171 115.35h2v5.3h-2zM123 120.65h2v5.3h-2zM131 125.95h4v5.3h-4zM179 125.95h1v5.3h-1zM123 131.25h2v5.3h-2zM159 136.55h2v5.3h-2zM163 141.85h4v5.3h-4zM137 147.15h2v5.3h-2zM157 147.15h2v5.3h-2zM165 147.15h2v5.3h-2zM165 152.45h2v5.3h-2zM145 157.75h2v5.3h-2zM153 157.75h2v5.3h-2zM161 157.75h2v5.3h-2zM175 157.75h2v5.3h-2zM117 163.05h2v5.3h-2zM141 168.35h2v5.3h-2zM179 168.35h1v5.3h-1zM137 173.65h2v5.3h-2zM145 173.65h2v5.3h-2zM179 173.65h1v5.3h-1zM105 178.95h2v5.3h-2zM117 178.95h2v5.3h-2zM123 178.95h2v5.3h-2zM155 178.95h2v5.3h-2zM83 184.25h2v5.3h-2zM103 184.25h2v5.3h-2zM123 184.25h4v5.3h-4zM149 184.25h2v5.3h-2zM83 189.55h2v5.3h-2zM123 189.55h2v5.3h-2zM133 189.55h2v5.3h-2zM147 189.55h2v5.3h-2zM175 189.55h2v5.3h-2zM79 194.85h2v5.3h-2zM105 194.85h2v5.3h-2zM179 194.85h1v5.3h-1zM123 200.15h2v5.3h-2zM135 200.15h2v5.3h-2zM139 200.15h2v5.3h-2zM149 200.15h2v5.3h-2zM73 205.45h2v5.3h-2zM105 205.45h2v5.3h-2zM125 205.45h2v5.3h-2zM139 205.45h2v5.3h-2zM149 205.45h2v5.3h-2zM71 210.75h2v5.3h-2zM87 210.75h4v5.3h-4zM121 210.75h2v5.3h-2zM129 210.75h2v5.3h-2zM179 210.75h1v5.3h-1zM93 216.05h2v5.3h-2zM99 216.05h2v5.3h-2zM117 216.05h2v5.3h-2zM121 216.05h2v5.3h-2zM131 216.05h2v5.3h-2zM149 216.05h2v5.3h-2zM169 216.05h2v5.3h-2zM71 221.35h2v5.3h-2zM75 221.35h2v5.3h-2zM111 221.35h2v5.3h-2zM115 221.35h2v5.3h-2zM131 221.35h2v5.3h-2zM137 221.35h2v5.3h-2zM145 221.35h2v5.3h-2zM95 226.65h4v5.3h-4zM125 226.65h2v5.3h-2zM133 226.65h2v5.3h-2zM161 226.65h2v5.3h-2zM169 226.65h2v5.3h-2zM69 231.95h4v5.3h-4zM105 231.95h2v5.3h-2zM109 231.95h2v5.3h-2zM119 231.95h2v5.3h-2zM133 231.95h2v5.3h-2zM163 231.95h2v5.3h-2zM57 237.25h2v5.3h-2zM69 237.25h2v5.3h-2zM79 237.25h2v5.3h-2zM105 237.25h2v5.3h-2zM123 237.25h8v5.3h-8zM133 237.25h2v5.3h-2zM137 237.25h2v5.3h-2zM175 237.25h2v5.3h-2zM53 242.55h4v5.3h-4zM69 242.55h2v5.3h-2zM73 242.55h2v5.3h-2zM79 242.55h2v5.3h-2zM87 242.55h2v5.3h-2zM99 242.55h2v5.3h-2zM117 242.55h2v5.3h-2zM127 242.55h2v5.3h-2zM133 242.55h2v5.3h-2zM175 242.55h2v5.3h-2zM179 242.55h1v5.3h-1zM41 247.85h2v5.3h-2zM53 247.85h2v5.3h-2zM91 247.85h2v5.3h-2zM97 247.85h2v5.3h-2zM127 247.85h2v5.3h-2zM137 247.85h2v5.3h-2zM57 253.15h2v5.3h-2zM61 253.15h2v5.3h-2zM71 253.15h2v5.3h-2zM77 253.15h2v5.3h-2zM85 253.15h2v5.3h-2zM105 253.15h2v5.3h-2zM117 253.15h2v5.3h-2zM131 253.15h2v5.3h-2zM161 253.15h2v5.3h-2zM175 253.15h2v5.3h-2zM57 258.45h2v5.3h-2zM61 258.45h2v5.3h-2zM119 258.45h2v5.3h-2zM125 258.45h2v5.3h-2zM55 263.75h2v5.3h-2zM99 263.75h4v5.3h-4zM121 263.75h2v5.3h-2zM127 263.75h2v5.3h-2zM137 263.75h2v5.3h-2zM53 269.05h2v5.3h-2zM57 269.05h2v5.3h-2zM109 269.05h2v5.3h-2zM117 269.05h2v5.3h-2zM129 269.05h2v5.3h-2zM179 269.05h1v5.3h-1zM57 274.35h2v5.3h-2zM71 274.35h2v5.3h-2zM109 274.35h2v5.3h-2zM55 279.65h2v5.3h-2zM49 284.95h2v5.3h-2zM79 284.95h2v5.3h-2zM87 284.95h2v5.3h-2zM103 284.95h2v5.3h-2zM117 284.95h4v5.3h-4zM55 290.25h2v5.3h-2zM59 290.25h2v5.3h-2zM63 290.25h2v5.3h-2zM71 290.25h2v5.3h-2zM81 290.25h2v5.3h-2zM87 290.25h2v5.3h-2zM111 290.25h4v5.3h-4zM131 290.25h2v5.3h-2zM61 295.55h2v5.3h-2zM65 295.55h2v5.3h-2zM71 295.55h2v5.3h-2zM91 295.55h2v5.3h-2zM71 300.85h2v5.3h-2zM79 300.85h4v5.3h-4zM91 300.85h2v5.3h-2zM55 306.15h4v5.3h-4zM67 306.15h2v5.3h-2zM71 306.15h2v5.3h-2zM91 306.15h2v5.3h-2zM103 306.15h2v5.3h-2zM121 306.15h2v5.3h-2zM49 311.45h2v5.3h-2zM65 311.45h2v5.3h-2zM73 311.45h4v5.3h-4zM81 311.45h2v5.3h-2zM47 316.75h2v5.3h-2zM51 316.75h2v5.3h-2zM57 316.75h2v5.3h-2zM63 316.75h4v5.3h-4zM83 316.75h2v5.3h-2zM91 316.75h2v5.3h-2zM95 316.75h2v5.3h-2zM101 316.75h4v5.3h-4zM57 322.05h2v5.3h-2zM79 322.05h2v5.3h-2zM93 322.05h4v5.3h-4zM105 322.05h2v5.3h-2zM49 327.35h2v2.65h-2zM81 327.35h4v2.65h-4zM131 327.35h2v2.65h-2z"/>
<path fill="#77ff88" d="M91 30.55h2v5.3h-2zM87 35.85h2v5.3h-2zM135 35.85h4v5.3h-4zM141 35.85h2v5.3h-2zM149 35.85h2v5.3h-2zM175 35.85h2v5.3h-2zM165 67.65h2v5.3h-2zM167 72.95h2v5.3h-2zM175 72.95h2v5.3h-2zM151 78.25h2v5.3h-2zM153 88.85h2v5.3h-2zM173 88.85h2v5.3h-2zM179 88.85h1v5.3h-1zM137 94.15h2v5.3h-2zM145 94.15h2v5.3h-2zM163 94.15h2v5.3h-2zM105 99.45h2v5.3h-2zM131 99.45h2v5.3h-2zM137 99.45h2v5.3h-2zM153 99.45h2v5.3h-2zM95 104.75h2v5.3h-2zM127 104.75h2v5.3h-2zM133 104.75h2v5.3h-2zM153 104.75h2v5.3h-2zM147 110.05h2v5.3h-2zM157 110.05h2v5.3h-2zM133 115.35h2v5.3h-2zM157 115.35h2v5.3h-2zM133 120.65h2v5.3h-2zM159 120.65h2v5.3h-2zM151 125.95h2v5.3h-2zM143 131.25h2v5.3h-2zM147 131.25h6v5.3h-6zM177 131.25h2v5.3h-2zM123 136.55h2v5.3h-2zM131 136.55h4v5.3h-4zM143 136.55h2v5.3h-2zM123 141.85h2v5.3h-2zM131 141.85h4v5.3h-4zM159 141.85h2v5.3h-2zM151 147.15h2v5.3h-2zM159 147.15h2v5.3h-2zM123 152.45h2v5.3h-2zM147 152.45h2v5.3h-2zM155 152.45h2v5.3h-2zM119 157.75h2v5.3h-2zM123 157.75h2v5.3h-2zM123 163.05h2v5.3h-2zM145 163.05h2v5.3h-2zM167 163.05h2v5.3h-2zM173 163.05h2v5.3h-2zM123 168.35h2v5.3h-2zM127 168.35h2v5.3h-2zM149 168.35h2v5.3h-2zM153 168.35h2v5.3h-2zM167 168.35h2v5.3h-2zM133 178.95h2v5.3h-2zM137 178.95h2v5.3h-2zM115 184.25h2v5.3h-2zM131 189.55h2v5.3h-2zM111 194.85h2v5.3h-2zM125 194.85h2v5.3h-2zM167 194.85h4v5.3h-4zM79 200.15h2v5.3h-2zM125 200.15h2v5.3h-2zM53 205.45h2v5.3h-2zM69 205.45h2v5.3h-2zM103 205.45h2v5.3h-2zM107 205.45h2v5.3h-2zM117 205.45h2v5.3h-2zM121 205.45h2v5.3h-2zM99 210.75h2v5.3h-2zM107 210.75h2v5.3h-2zM71 216.05h2v5.3h-2zM75 216.05h2v5.3h-2zM83 216.05h2v5.3h-2zM89 216.05h2v5.3h-2zM111 216.05h2v5.3h-2zM119 216.05h2v5.3h-2zM145 216.05h2v5.3h-2zM179 216.05h1v5.3h-1zM61 221.35h2v5.3h-2zM69 221.35h2v5.3h-2zM87 221.35h2v5.3h-2zM93 221.35h4v5.3h-4zM99 221.35h2v5.3h-2zM125 221.35h2v5.3h-2zM83 226.65h2v5.3h-2zM87 226.65h2v5.3h-2zM113 226.65h2v5.3h-2zM127 226.65h2v5.3h-2zM179 226.65h1v5.3h-1zM79 231.95h2v5.3h-2zM83 231.95h2v5.3h-2zM87 231.95h2v5.3h-2zM95 231.95h2v5.3h-2zM111 231.95h2v5.3h-2zM115 231.95h2v5.3h-2zM127 231.95h2v5.3h-2zM179 231.95h1v5.3h-1zM71 237.25h2v5.3h-2zM83 237.25h2v5.3h-2zM91 237.25h2v5.3h-2zM97 237.25h2v5.3h-2zM107 237.25h2v5.3h-2zM77 242.55h2v5.3h-2zM85 242.55h2v5.3h-2zM97 242.55h2v5.3h-2zM101 242.55h4v5.3h-4zM107 242.55h2v5.3h-2zM121 242.55h2v5.3h-2zM71 247.85h4v5.3h-4zM87 247.85h2v5.3h-2zM105 247.85h2v5.3h-2zM55 253.15h2v5.3h-2zM79 253.15h2v5.3h-2zM83 253.15h2v5.3h-2zM129 253.15h2v5.3h-2zM155 253.15h2v5.3h-2zM83 258.45h2v5.3h-2zM103 258.45h2v5.3h-2zM117 258.45h2v5.3h-2zM57 263.75h2v5.3h-2zM75 263.75h2v5.3h-2zM111 263.75h2v5.3h-2zM129 263.75h2v5.3h-2zM131 269.05h2v5.3h-2zM39 274.35h2v5.3h-2zM95 274.35h2v5.3h-2zM101 274.35h2v5.3h-2zM117 274.35h2v5.3h-2zM121 274.35h2v5.3h-2zM149 274.35h2v5.3h-2zM71 279.65h2v5.3h-2zM75 279.65h2v5.3h-2zM101 279.65h2v5.3h-2zM121 279.65h2v5.3h-2zM131 279.65h2v5.3h-2zM53 284.95h8v5.3h-8zM77 284.95h2v5.3h-2zM81 284.95h2v5.3h-2zM91 284.95h2v5.3h-2zM143 284.95h2v5.3h-2zM179 284.95h1v5.3h-1zM47 290.25h2v5.3h-2zM89 290.25h2v5.3h-2zM109 290.25h2v5.3h-2zM121 290.25h2v5.3h-2zM51 295.55h2v5.3h-2zM75 295.55h2v5.3h-2zM79 295.55h4v5.3h-4zM103 295.55h2v5.3h-2zM111 295.55h2v5.3h-2zM121 295.55h2v5.3h-2zM63 300.85h4v5.3h-4zM89 300.85h2v5.3h-2zM121 300.85h2v5.3h-2zM43 306.15h2v5.3h-2zM49 306.15h2v5.3h-2zM53 306.15h2v5.3h-2zM65 306.15h2v5.3h-2zM75 306.15h2v5.3h-2zM89 306.15h2v5.3h-2zM107 306.15h2v5.3h-2zM41 311.45h2v5.3h-2zM51 311.45h4v5.3h-4zM87 311.45h2v5.3h-2zM91 311.45h4v5.3h-4zM55 316.75h2v5.3h-2zM67 316.75h2v5.3h-2zM81 316.75h2v5.3h-2zM93 316.75h2v5.3h-2zM105 316.75h2v5.3h-2zM67 322.05h2v5.3h-2zM83 322.05h2v5.3h-2zM131 322.05h2v5.3h-2zM41 327.35h2v2.65h-2zM47 327.35h2v2.65h-2zM73 327.35h4v2.65h-4zM79 327.35h2v2.65h-2z"/>
<path fill="#88ff77" d="M69 35.85h2v5.3h-2zM85 35.85h2v5.3h-2zM121 35.85h2v5.3h-2zM167 35.85h2v5.3h-2zM175 67.65h2v5.3h-2zM153 72.95h2v5.3h-2zM161 72.95h2v5.3h-2zM179 83.55h1v5.3h-1zM133 88.85h2v5.3h-2zM123 94.15h2v5.3h-2zM131 94.15h2v5.3h-2zM135 99.45h2v5.3h-2zM123 104.75h2v5.3h-2zM157 104.75h2v5.3h-2zM173 104.75h2v5.3h-2zM123 110.05h2v5.3h-2zM131 110.05h2v5.3h-2zM179 115.35h1v5.3h-1zM131 120.65h2v5.3h-2zM163 125.95h4v5.3h-4zM125 131.25h2v5.3h-2zM137 131.25h2v5.3h-2zM157 131.25h2v5.3h-2zM139 136.55h2v5.3h-2zM145 136.55h4v5.3h-4zM161 136.55h2v5.3h-2zM111 141.85h2v5.3h-2zM135 141.85h2v5.3h-2zM119 147.15h2v5.3h-2zM139 147.15h2v5.3h-2zM143 147.15h2v5.3h-2zM153 147.15h2v5.3h-2zM131 152.45h2v5.3h-2zM149 152.45h4v5.3h-4zM157 152.45h2v5.3h-2zM133 157.75h2v5.3h-2zM137 157.75h2v5.3h-2zM155 157.75h2v5.3h-2zM159 157.75h2v5.3h-2zM133 163.05h2v5.3h-2zM137 163.05h2v5.3h-2zM147 163.05h2v5.3h-2zM159 163.05h2v5.3h-2zM109 168.35h2v5.3h-2zM133 168.35h2v5.3h-2zM137 168.35h2v5.3h-2zM117 173.65h2v5.3h-2zM135 173.65h2v5.3h-2zM75 178.95h2v5.3h-2zM97 178.95h2v5.3h-2zM111 178.95h2v5.3h-2zM119 178.95h4v5.3h-4zM135 178.95h2v5.3h-2zM139 178.95h2v5.3h-2zM149 178.95h2v5.3h-2zM165 178.95h2v5.3h-2zM105 184.25h2v5.3h-2zM165 184.25h2v5.3h-2zM79 189.55h2v5.3h-2zM111 189.55h2v5.3h-2zM127 189.55h2v5.3h-2zM139 189.55h2v5.3h-2zM73 194.85h2v5.3h-2zM139 194.85h2v5.3h-2zM175 194.85h2v5.3h-2zM97 200.15h2v5.3h-2zM103 200.15h2v5.3h-2zM107 200.15h2v5.3h-2zM111 200.15h2v5.3h-2zM131 200.15h2v5.3h-2zM137 200.15h2v5.3h-2zM71 205.45h2v5.3h-2zM83 205.45h2v5.3h-2zM87 205.45h2v5.3h-2zM97 205.45h4v5.3h-4zM113 205.45h2v5.3h-2zM161 205.45h2v5.3h-2zM53 210.75h2v5.3h-2zM69 210.75h2v5.3h-2zM97 210.75h2v5.3h-2zM131 210.75h2v5.3h-2zM69 216.05h2v5.3h-2zM107 216.05h2v5.3h-2zM125 216.05h2v5.3h-2zM139 216.05h2v5.3h-2zM59 221.35h2v5.3h-2zM83 221.35h2v5.3h-2zM91 221.35h2v5.3h-2zM101 221.35h2v5.3h-2zM117 221.35h2v5.3h-2zM127 221.35h2v5.3h-2zM139 221.35h2v5.3h-2zM169 221.35h2v5.3h-2zM57 226.65h2v5.3h-2zM71 226.65h2v5.3h-2zM105 226.65h2v5.3h-2zM121 226.65h2v5.3h-2zM131 226.65h2v5.3h-2zM91 231.95h2v5.3h-2zM107 231.95h2v5.3h-2zM113 231.95h2v5.3h-2zM121 231.95h4v5.3h-4zM131 231.95h2v5.3h-2zM53 237.25h4v5.3h-4zM65 237.25h2v5.3h-2zM73 237.25h2v5.3h-2zM99 237.25h4v5.3h-4zM113 237.25h2v5.3h-2zM45 242.55h2v5.3h-2zM95 242.55h2v5.3h-2zM43 247.85h2v5.3h-2zM47 247.85h2v5.3h-2zM65 247.85h2v5.3h-2zM69 247.85h2v5.3h-2zM75 247.85h2v5.3h-2zM81 247.85h2v5.3h-2zM95 247.85h2v5.3h-2zM39 253.15h2v5.3h-2zM65 253.15h2v5.3h-2zM87 253.15h2v5.3h-2zM95 253.15h2v5.3h-2zM101 253.15h2v5.3h-2zM121 253.15h2v5.3h-2zM49 258.45h2v5.3h-2zM53 258.45h4v5.3h-4zM91 258.45h2v5.3h-2zM95 258.45h2v5.3h-2zM51 263.75h4v5.3h-4zM81 263.75h2v5.3h-2zM61 269.05h4v5.3h-4zM77 269.05h4v5.3h-4zM121 269.05h2v5.3h-2zM149 269.05h2v5.3h-2zM45 274.35h2v5.3h-2zM53 274.35h4v5.3h-4zM69 274.35h2v5.3h-2zM77 274.35h4v5.3h-4zM93 274.35h2v5.3h-2zM111 274.35h2v5.3h-2zM131 274.35h2v5.3h-2zM41 279.65h2v5.3h-2zM57 279.65h2v5.3h-2zM61 279.65h2v5.3h-2zM77 279.65h2v5.3h-2zM93 279.65h2v5.3h-2zM105 279.65h4v5.3h-4zM111 279.65h2v5.3h-2zM127 279.65h2v5.3h-2zM43 284.95h2v5.3h-2zM47 284.95h2v5.3h-2zM61 284.95h4v5.3h-4zM69 284.95h4v5.3h-4zM101 284.95h2v5.3h-2zM107 284.95h2v5.3h-2zM131 284.95h2v5.3h-2zM39 290.25h2v5.3h-2zM61 290.25h2v5.3h-2zM65 290.25h4v5.3h-4zM75 290.25h2v5.3h-2zM93 290.25h2v5.3h-2zM129 290.25h2v5.3h-2zM41 300.85h2v5.3h-2zM75 300.85h2v5.3h-2zM77 306.15h2v5.3h-2zM81 306.15h2v5.3h-2zM39 311.45h2v5.3h-2zM47 311.45h2v5.3h-2zM41 316.75h2v5.3h-2zM49 316.75h2v5.3h-2zM89 316.75h2v5.3h-2zM109 316.75h2v5.3h-2zM39 322.05h2v5.3h-2zM109 322.05h2v5.3h-2zM51 327.35h2v2.65h-2z"/>
<path fill="#98ff67" d="M89 30.55h2v5.3h-2zM57 35.85h4v5.3h-4zM65 35.85h2v5.3h-2zM77 35.85h2v5.3h-2zM93 35.85h6v5.3h-6zM117 35.85h2v5.3h-2zM131 35.85h2v5.3h-2zM163 41.15h2v5.3h-2zM169 41.15h4v5.3h-4zM165 51.75h2v5.3h-2zM165 57.05h2v5.3h-2zM177 72.95h2v5.3h-2zM153 78.25h2v5.3h-2zM161 78.25h2v5.3h-2zM171 78.25h4v5.3h-4zM123 83.55h2v5.3h-2zM159 83.55h2v5.3h-2zM131 88.85h2v5.3h-2zM123 99.45h2v5.3h-2zM163 104.75h2v5.3h-2zM133 110.05h2v5.3h-2zM105 115.35h2v5.3h-2zM127 115.35h2v5.3h-2zM143 115.35h2v5.3h-2zM163 115.35h4v5.3h-4zM149 120.65h4v5.3h-4zM155 120.65h2v5.3h-2zM167 120.65h2v5.3h-2zM111 125.95h2v5.3h-2zM123 125.95h2v5.3h-2zM143 125.95h2v5.3h-2zM149 125.95h2v5.3h-2zM131 131.25h2v5.3h-2zM145 131.25h2v5.3h-2zM149 141.85h2v5.3h-2zM157 141.85h2v5.3h-2zM111 147.15h2v5.3h-2zM131 147.15h2v5.3h-2zM147 147.15h4v5.3h-4zM133 152.45h2v5.3h-2zM137 152.45h2v5.3h-2zM157 157.75h2v5.3h-2zM165 157.75h2v5.3h-2zM153 163.05h2v5.3h-2zM165 163.05h2v5.3h-2zM135 168.35h2v5.3h-2zM149 173.65h2v5.3h-2zM103 178.95h2v5.3h-2zM125 178.95h4v5.3h-4zM147 178.95h2v5.3h-2zM151 178.95h2v5.3h-2zM75 184.25h2v5.3h-2zM109 184.25h4v5.3h-4zM117 184.25h2v5.3h-2zM121 184.25h2v5.3h-2zM139 184.25h2v5.3h-2zM89 189.55h2v5.3h-2zM103 189.55h2v5.3h-2zM143 189.55h2v5.3h-2zM71 194.85h2v5.3h-2zM83 194.85h2v5.3h-2zM97 194.85h2v5.3h-2zM109 194.85h2v5.3h-2zM161 194.85h2v5.3h-2zM71 200.15h2v5.3h-2zM93 200.15h2v5.3h-2zM121 200.15h2v5.3h-2zM143 200.15h2v5.3h-2zM75 205.45h2v5.3h-2zM85 205.45h2v5.3h-2zM131 205.45h2v5.3h-2zM67 210.75h2v5.3h-2zM73 210.75h2v5.3h-2zM91 210.75h2v5.3h-2zM103 210.75h2v5.3h-2zM53 216.05h2v5.3h-2zM85 216.05h2v5.3h-2zM95 216.05h2v5.3h-2zM103 216.05h4v5.3h-4zM127 216.05h4v5.3h-4zM65 221.35h2v5.3h-2zM73 221.35h2v5.3h-2zM77 221.35h2v5.3h-2zM105 221.35h2v5.3h-2zM129 221.35h2v5.3h-2zM179 221.35h1v5.3h-1zM43 226.65h2v5.3h-2zM55 226.65h2v5.3h-2zM61 226.65h4v5.3h-4zM73 226.65h2v5.3h-2zM103 226.65h2v5.3h-2zM107 226.65h2v5.3h-2zM115 226.65h2v5.3h-2zM53 231.95h6v5.3h-6zM97 231.95h2v5.3h-2zM77 237.25h2v5.3h-2zM93 237.25h2v5.3h-2zM103 237.25h2v5.3h-2zM41 242.55h2v5.3h-2zM71 242.55h2v5.3h-2zM75 242.55h2v5.3h-2zM81 242.55h2v5.3h-2zM105 242.55h2v5.3h-2zM129 242.55h2v5.3h-2zM49 247.85h2v5.3h-2zM79 247.85h2v5.3h-2zM101 247.85h4v5.3h-4zM129 247.85h2v5.3h-2zM41 253.15h2v5.3h-2zM47 253.15h2v5.3h-2zM73 253.15h2v5.3h-2zM71 258.45h2v5.3h-2zM49 263.75h2v5.3h-2zM61 263.75h2v5.3h-2zM69 263.75h2v5.3h-2zM73 263.75h2v5.3h-2zM79 263.75h2v5.3h-2zM87 263.75h2v5.3h-2zM91 263.75h2v5.3h-2zM95 263.75h2v5.3h-2zM49 269.05h2v5.3h-2zM71 269.05h4v5.3h-4zM87 269.05h2v5.3h-2zM93 269.05h2v5.3h-2zM49 274.35h2v5.3h-2zM81 274.35h2v5.3h-2zM49 279.65h2v5.3h-2zM65 279.65h2v5.3h-2zM79 279.65h2v5.3h-2zM129 279.65h2v5.3h-2zM45 284.95h2v5.3h-2zM51 284.95h2v5.3h-2zM75 284.95h2v5.3h-2zM93 284.95h2v5.3h-2zM111 284.95h2v5.3h-2zM121 284.95h2v5.3h-2zM73 290.25h2v5.3h-2zM47 295.55h2v5.3h-2zM63 295.55h2v5.3h-2zM89 295.55h2v5.3h-2zM41 306.15h2v5.3h-2zM47 306.15h2v5.3h-2zM51 306.15h2v5.3h-2zM73 306.15h2v5.3h-2zM39 316.75h2v5.3h-2zM75 316.75h2v5.3h-2zM47 322.05h2v5.3h-2zM53 327.35h2v2.65h-2zM67 327.35h2v2.65h-2zM109 327.35h2v2.65h-2z"/>
<path fill="#a8ff57" d="M55 30.55h2v5.3h-2zM49 35.85h4v5.3h-4zM73 35.85h2v5.3h-2zM83 35.85h2v5.3h-2zM105 35.85h2v5.3h-2zM109 35.85h2v5.3h-2zM159 41.15h2v5.3h-2zM173 41.15h2v5.3h-2zM163 51.75h2v5.3h-2zM151 57.05h2v5.3h-2zM165 62.35h2v5.3h-2zM163 72.95h4v5.3h-4zM169 78.25h2v5.3h-2zM53 83.55h2v5.3h-2zM121 83.55h2v5.3h-2zM101 88.85h2v5.3h-2zM123 88.85h2v5.3h-2zM139 88.85h2v5.3h-2zM147 88.85h2v5.3h-2zM179 94.15h1v5.3h-1zM95 99.45h2v5.3h-2zM125 99.45h2v5.3h-2zM143 99.45h2v5.3h-2zM179 99.45h1v5.3h-1zM87 104.75h2v5.3h-2zM115 104.75h2v5.3h-2zM165 104.75h2v5.3h-2zM153 110.05h2v5.3h-2zM163 110.05h2v5.3h-2zM123 115.35h4v5.3h-4zM137 115.35h2v5.3h-2zM145 115.35h2v5.3h-2zM121 125.95h2v5.3h-2zM111 131.25h2v5.3h-2zM117 131.25h2v5.3h-2zM135 131.25h2v5.3h-2zM157 136.55h2v5.3h-2zM139 141.85h2v5.3h-2zM129 147.15h2v5.3h-2zM111 152.45h2v5.3h-2zM117 152.45h2v5.3h-2zM135 152.45h2v5.3h-2zM127 157.75h4v5.3h-4zM135 157.75h2v5.3h-2zM151 157.75h2v5.3h-2zM83 163.05h2v5.3h-2zM129 163.05h4v5.3h-4zM151 163.05h2v5.3h-2zM175 163.05h2v5.3h-2zM117 168.35h2v5.3h-2zM151 168.35h2v5.3h-2zM165 168.35h2v5.3h-2zM105 173.65h2v5.3h-2zM127 173.65h2v5.3h-2zM147 173.65h2v5.3h-2zM51 184.25h2v5.3h-2zM97 184.25h2v5.3h-2zM127 184.25h2v5.3h-2zM131 184.25h2v5.3h-2zM147 184.25h2v5.3h-2zM53 189.55h2v5.3h-2zM73 189.55h2v5.3h-2zM107 189.55h4v5.3h-4zM137 189.55h2v5.3h-2zM53 194.85h2v5.3h-2zM67 194.85h2v5.3h-2zM77 194.85h2v5.3h-2zM103 194.85h2v5.3h-2zM121 194.85h2v5.3h-2zM137 194.85h2v5.3h-2zM143 194.85h2v5.3h-2zM113 200.15h2v5.3h-2zM63 205.45h2v5.3h-2zM93 205.45h2v5.3h-2zM101 205.45h2v5.3h-2zM77 210.75h2v5.3h-2zM85 210.75h2v5.3h-2zM93 210.75h2v5.3h-2zM127 210.75h2v5.3h-2zM59 216.05h2v5.3h-2zM91 216.05h2v5.3h-2zM97 216.05h2v5.3h-2zM53 221.35h2v5.3h-2zM89 221.35h2v5.3h-2zM97 221.35h2v5.3h-2zM103 221.35h2v5.3h-2zM41 226.65h2v5.3h-2zM53 226.65h2v5.3h-2zM59 226.65h2v5.3h-2zM65 226.65h4v5.3h-4zM75 226.65h2v5.3h-2zM85 226.65h2v5.3h-2zM89 226.65h6v5.3h-6zM129 226.65h2v5.3h-2zM41 231.95h4v5.3h-4zM65 231.95h2v5.3h-2zM75 231.95h4v5.3h-4zM93 231.95h2v5.3h-2zM41 237.25h2v5.3h-2zM45 237.25h2v5.3h-2zM85 237.25h2v5.3h-2zM89 237.25h2v5.3h-2zM49 242.55h2v5.3h-2zM61 242.55h2v5.3h-2zM67 242.55h2v5.3h-2zM45 247.85h2v5.3h-2zM51 247.85h2v5.3h-2zM61 247.85h4v5.3h-4zM67 247.85h2v5.3h-2zM51 253.15h2v5.3h-2zM81 253.15h2v5.3h-2zM91 253.15h2v5.3h-2zM41 258.45h2v5.3h-2zM65 258.45h2v5.3h-2zM73 258.45h4v5.3h-4zM79 258.45h2v5.3h-2zM87 258.45h2v5.3h-2zM105 258.45h2v5.3h-2zM129 258.45h2v5.3h-2zM47 263.75h2v5.3h-2zM47 269.05h2v5.3h-2zM51 269.05h2v5.3h-2zM65 269.05h2v5.3h-2zM81 269.05h2v5.3h-2zM91 269.05h2v5.3h-2zM105 269.05h2v5.3h-2zM47 274.35h2v5.3h-2zM61 274.35h2v5.3h-2zM67 274.35h2v5.3h-2zM73 274.35h2v5.3h-2zM43 279.65h4v5.3h-4zM63 279.65h2v5.3h-2zM69 279.65h2v5.3h-2zM73 279.65h2v5.3h-2zM81 279.65h2v5.3h-2zM89 279.65h2v5.3h-2zM39 284.95h2v5.3h-2zM65 284.95h2v5.3h-2zM89 284.95h2v5.3h-2zM39 295.55h2v5.3h-2zM67 295.55h2v5.3h-2zM39 300.85h2v5.3h-2zM51 300.85h2v5.3h-2zM73 300.85h2v5.3h-2zM93 300.85h2v5.3h-2z"/>
<path fill="#b8ff47" d="M47 35.85h2v5.3h-2zM81 35.85h2v5.3h-2zM143 35.85h6v5.3h-6zM177 35.85h2v5.3h-2zM111 41.15h2v5.3h-2zM139 41.15h2v5.3h-2zM151 41.15h2v5.3h-2zM145 46.45h2v5.3h-2zM173 57.05h2v5.3h-2zM173 72.95h2v5.3h-2zM147 78.25h2v5.3h-2zM163 78.25h4v5.3h-4zM175 78.25h2v5.3h-2zM87 83.55h2v5.3h-2zM95 83.55h2v5.3h-2zM105 83.55h4v5.3h-4zM127 83.55h2v5.3h-2zM131 83.55h4v5.3h-4zM137 83.55h4v5.3h-4zM143 83.55h2v5.3h-2zM141 88.85h2v5.3h-2zM145 88.85h2v5.3h-2zM105 94.15h2v5.3h-2zM133 94.15h2v5.3h-2zM117 99.45h2v5.3h-2zM147 99.45h2v5.3h-2zM137 104.75h2v5.3h-2zM145 110.05h2v5.3h-2zM165 110.05h2v5.3h-2zM147 115.35h2v5.3h-2zM135 120.65h2v5.3h-2zM177 120.65h2v5.3h-2zM105 125.95h2v5.3h-2zM147 125.95h2v5.3h-2zM153 125.95h2v5.3h-2zM153 131.25h2v5.3h-2zM111 136.55h2v5.3h-2zM135 136.55h2v5.3h-2zM149 136.55h2v5.3h-2zM117 141.85h4v5.3h-4zM109 147.15h2v5.3h-2zM135 147.15h2v5.3h-2zM105 152.45h2v5.3h-2zM119 152.45h2v5.3h-2zM129 152.45h2v5.3h-2zM99 157.75h2v5.3h-2zM117 157.75h2v5.3h-2zM131 157.75h2v5.3h-2zM139 157.75h2v5.3h-2zM147 157.75h2v5.3h-2zM105 163.05h2v5.3h-2zM149 163.05h2v5.3h-2zM87 168.35h2v5.3h-2zM107 168.35h2v5.3h-2zM125 168.35h2v5.3h-2zM147 168.35h2v5.3h-2zM73 173.65h2v5.3h-2zM87 173.65h2v5.3h-2zM129 173.65h2v5.3h-2zM133 173.65h2v5.3h-2zM151 173.65h2v5.3h-2zM165 173.65h2v5.3h-2zM73 178.95h2v5.3h-2zM83 178.95h2v5.3h-2zM87 178.95h2v5.3h-2zM131 178.95h2v5.3h-2zM143 178.95h2v5.3h-2zM73 184.25h2v5.3h-2zM79 184.25h2v5.3h-2zM107 184.25h2v5.3h-2zM113 184.25h2v5.3h-2zM143 184.25h2v5.3h-2zM77 189.55h2v5.3h-2zM87 189.55h2v5.3h-2zM121 189.55h2v5.3h-2zM87 194.85h2v5.3h-2zM107 194.85h2v5.3h-2zM131 194.85h2v5.3h-2zM67 200.15h2v5.3h-2zM73 200.15h4v5.3h-4zM83 200.15h6v5.3h-6zM91 200.15h2v5.3h-2zM127 200.15h2v5.3h-2zM51 205.45h2v5.3h-2zM67 205.45h2v5.3h-2zM77 205.45h2v5.3h-2zM89 205.45h2v5.3h-2zM95 205.45h2v5.3h-2zM127 205.45h4v5.3h-4zM45 210.75h2v5.3h-2zM101 210.75h2v5.3h-2zM113 210.75h2v5.3h-2zM43 216.05h2v5.3h-2zM61 216.05h2v5.3h-2zM101 216.05h2v5.3h-2zM113 216.05h2v5.3h-2zM39 221.35h4v5.3h-4zM57 221.35h2v5.3h-2zM63 221.35h2v5.3h-2zM67 221.35h2v5.3h-2zM39 226.65h2v5.3h-2zM45 226.65h2v5.3h-2zM49 226.65h2v5.3h-2zM77 226.65h2v5.3h-2zM101 226.65h2v5.3h-2zM45 231.95h2v5.3h-2zM59 231.95h4v5.3h-4zM85 231.95h2v5.3h-2zM89 231.95h2v5.3h-2zM101 231.95h4v5.3h-4zM61 237.25h2v5.3h-2zM39 242.55h2v5.3h-2zM47 242.55h2v5.3h-2zM59 242.55h2v5.3h-2zM93 242.55h2v5.3h-2zM93 247.85h2v5.3h-2zM43 253.15h4v5.3h-4zM49 253.15h2v5.3h-2zM63 253.15h2v5.3h-2zM69 253.15h2v5.3h-2zM39 258.45h2v5.3h-2zM51 258.45h2v5.3h-2zM63 258.45h2v5.3h-2zM67 258.45h4v5.3h-4zM41 263.75h2v5.3h-2zM45 263.75h2v5.3h-2zM59 263.75h2v5.3h-2zM63 263.75h6v5.3h-6zM71 263.75h2v5.3h-2zM93 263.75h2v5.3h-2zM39 269.05h4v5.3h-4zM59 269.05h2v5.3h-2zM69 269.05h2v5.3h-2zM43 274.35h2v5.3h-2zM59 274.35h2v5.3h-2zM65 274.35h2v5.3h-2zM105 274.35h2v5.3h-2zM39 279.65h2v5.3h-2zM47 279.65h2v5.3h-2zM51 279.65h2v5.3h-2zM73 284.95h2v5.3h-2zM129 284.95h2v5.3h-2zM41 290.25h2v5.3h-2zM41 295.55h2v5.3h-2zM93 295.55h2v5.3h-2zM93 306.15h2v5.3h-2zM53 316.75h2v5.3h-2z"/>
<path fill="#c8ff37" d="M61 35.85h2v5.3h-2zM89 35.85h2v5.3h-2zM127 35.85h2v5.3h-2zM103 41.15h2v5.3h-2zM141 41.15h2v5.3h-2zM155 41.15h2v5.3h-2zM155 46.45h2v5.3h-2zM173 46.45h2v5.3h-2zM151 62.35h2v5.3h-2zM163 62.35h2v5.3h-2zM167 67.65h2v5.3h-2zM171 67.65h2v5.3h-2zM123 72.95h2v5.3h-2zM131 72.95h2v5.3h-2zM137 72.95h4v5.3h-4zM157 72.95h4v5.3h-4zM155 78.25h6v5.3h-6zM177 78.25h3v5.3h-3zM79 83.55h2v5.3h-2zM101 83.55h2v5.3h-2zM115 83.55h2v5.3h-2zM125 83.55h2v5.3h-2zM147 83.55h2v5.3h-2zM79 88.85h2v5.3h-2zM95 88.85h2v5.3h-2zM99 88.85h2v5.3h-2zM115 88.85h2v5.3h-2zM127 88.85h2v5.3h-2zM135 88.85h4v5.3h-4zM127 94.15h2v5.3h-2zM79 99.45h2v5.3h-2zM115 99.45h2v5.3h-2zM127 99.45h2v5.3h-2zM145 104.75h2v5.3h-2zM99 110.05h2v5.3h-2zM121 110.05h2v5.3h-2zM125 110.05h4v5.3h-4zM135 110.05h4v5.3h-4zM141 110.05h4v5.3h-4zM117 115.35h2v5.3h-2zM153 115.35h2v5.3h-2zM119 120.65h2v5.3h-2zM175 120.65h2v5.3h-2zM125 125.95h4v5.3h-4zM135 125.95h2v5.3h-2zM145 125.95h2v5.3h-2zM157 125.95h2v5.3h-2zM107 131.25h2v5.3h-2zM115 131.25h2v5.3h-2zM119 131.25h2v5.3h-2zM137 136.55h2v5.3h-2zM153 136.55h2v5.3h-2zM121 141.85h2v5.3h-2zM137 141.85h2v5.3h-2zM143 141.85h2v5.3h-2zM115 147.15h2v5.3h-2zM121 147.15h2v5.3h-2zM109 152.45h2v5.3h-2zM127 152.45h2v5.3h-2zM153 152.45h2v5.3h-2zM109 157.75h4v5.3h-4zM149 157.75h2v5.3h-2zM135 163.05h2v5.3h-2zM69 168.35h2v5.3h-2zM97 168.35h2v5.3h-2zM105 168.35h2v5.3h-2zM115 168.35h2v5.3h-2zM131 168.35h2v5.3h-2zM139 168.35h2v5.3h-2zM95 173.65h2v5.3h-2zM107 173.65h2v5.3h-2zM115 173.65h2v5.3h-2zM119 173.65h2v5.3h-2zM125 173.65h2v5.3h-2zM131 173.65h2v5.3h-2zM143 173.65h2v5.3h-2zM79 178.95h2v5.3h-2zM95 178.95h2v5.3h-2zM107 178.95h2v5.3h-2zM53 184.25h2v5.3h-2zM45 189.55h2v5.3h-2zM65 189.55h2v5.3h-2zM75 189.55h2v5.3h-2zM91 189.55h2v5.3h-2zM99 189.55h2v5.3h-2zM113 189.55h2v5.3h-2zM75 194.85h2v5.3h-2zM85 194.85h2v5.3h-2zM99 194.85h2v5.3h-2zM127 194.85h2v5.3h-2zM53 200.15h2v5.3h-2zM77 200.15h2v5.3h-2zM99 200.15h2v5.3h-2zM129 200.15h2v5.3h-2zM61 205.45h2v5.3h-2zM91 205.45h2v5.3h-2zM51 210.75h2v5.3h-2zM55 210.75h2v5.3h-2zM59 210.75h4v5.3h-4zM65 210.75h2v5.3h-2zM57 216.05h2v5.3h-2zM63 216.05h6v5.3h-6zM73 216.05h2v5.3h-2zM77 216.05h2v5.3h-2zM55 221.35h2v5.3h-2zM113 221.35h2v5.3h-2zM47 226.65h2v5.3h-2zM81 226.65h2v5.3h-2zM73 231.95h2v5.3h-2zM81 231.95h2v5.3h-2zM129 231.95h2v5.3h-2zM39 237.25h2v5.3h-2zM47 237.25h4v5.3h-4zM59 237.25h2v5.3h-2zM67 237.25h2v5.3h-2zM81 237.25h2v5.3h-2zM63 242.55h2v5.3h-2zM89 242.55h2v5.3h-2zM39 247.85h2v5.3h-2zM89 247.85h2v5.3h-2zM75 253.15h2v5.3h-2zM89 253.15h2v5.3h-2zM45 258.45h4v5.3h-4zM93 258.45h2v5.3h-2zM39 263.75h2v5.3h-2zM89 263.75h2v5.3h-2zM105 263.75h2v5.3h-2zM43 269.05h4v5.3h-4zM41 274.35h2v5.3h-2zM51 274.35h2v5.3h-2zM89 274.35h2v5.3h-2zM59 279.65h2v5.3h-2zM67 279.65h2v5.3h-2zM67 284.95h2v5.3h-2zM73 295.55h2v5.3h-2zM53 322.05h2v5.3h-2z"/>
<path fill="#d9ff26" d="M41 35.85h2v5.3h-2zM45 35.85h2v5.3h-2zM53 35.85h2v5.3h-2zM63 35.85h2v5.3h-2zM83 41.15h2v5.3h-2zM129 41.15h2v5.3h-2zM133 41.15h2v5.3h-2zM177 41.15h3v5.3h-3zM151 46.45h2v5.3h-2zM171 46.45h2v5.3h-2zM173 51.75h2v5.3h-2zM141 57.05h2v5.3h-2zM179 67.65h1v5.3h-1zM141 72.95h4v5.3h-4zM151 72.95h2v5.3h-2zM169 72.95h2v5.3h-2zM123 78.25h2v5.3h-2zM57 83.55h2v5.3h-2zM77 83.55h2v5.3h-2zM89 83.55h2v5.3h-2zM129 83.55h2v5.3h-2zM141 83.55h2v5.3h-2zM145 83.55h2v5.3h-2zM87 88.85h2v5.3h-2zM105 88.85h2v5.3h-2zM121 88.85h2v5.3h-2zM95 94.15h2v5.3h-2zM125 94.15h2v5.3h-2zM141 94.15h4v5.3h-4zM147 94.15h2v5.3h-2zM69 99.45h2v5.3h-2zM101 99.45h2v5.3h-2zM107 99.45h4v5.3h-4zM119 104.75h2v5.3h-2zM135 104.75h2v5.3h-2zM143 104.75h2v5.3h-2zM147 104.75h2v5.3h-2zM95 110.05h2v5.3h-2zM111 110.05h2v5.3h-2zM179 110.05h1v5.3h-1zM109 115.35h2v5.3h-2zM119 115.35h2v5.3h-2zM117 120.65h2v5.3h-2zM121 120.65h2v5.3h-2zM125 120.65h2v5.3h-2zM145 120.65h2v5.3h-2zM169 120.65h6v5.3h-6zM115 125.95h4v5.3h-4zM121 131.25h2v5.3h-2zM105 136.55h2v5.3h-2zM109 136.55h2v5.3h-2zM117 136.55h2v5.3h-2zM127 136.55h4v5.3h-4zM129 141.85h2v5.3h-2zM153 141.85h2v5.3h-2zM97 147.15h2v5.3h-2zM105 147.15h2v5.3h-2zM117 147.15h2v5.3h-2zM113 152.45h2v5.3h-2zM139 152.45h2v5.3h-2zM143 152.45h2v5.3h-2zM83 157.75h2v5.3h-2zM105 157.75h2v5.3h-2zM125 157.75h2v5.3h-2zM143 157.75h2v5.3h-2zM109 163.05h2v5.3h-2zM119 163.05h2v5.3h-2zM143 163.05h2v5.3h-2zM65 168.35h2v5.3h-2zM83 168.35h2v5.3h-2zM99 168.35h2v5.3h-2zM119 168.35h4v5.3h-4zM79 173.65h2v5.3h-2zM89 173.65h2v5.3h-2zM97 173.65h2v5.3h-2zM103 173.65h2v5.3h-2zM111 173.65h4v5.3h-4zM121 173.65h2v5.3h-2zM51 178.95h2v5.3h-2zM63 184.25h2v5.3h-2zM67 184.25h2v5.3h-2zM77 184.25h2v5.3h-2zM85 184.25h4v5.3h-4zM91 184.25h2v5.3h-2zM95 184.25h2v5.3h-2zM43 189.55h2v5.3h-2zM63 189.55h2v5.3h-2zM55 194.85h2v5.3h-2zM63 194.85h2v5.3h-2zM91 194.85h2v5.3h-2zM113 194.85h2v5.3h-2zM57 200.15h2v5.3h-2zM89 200.15h2v5.3h-2zM95 200.15h2v5.3h-2zM45 205.45h2v5.3h-2zM59 205.45h2v5.3h-2zM57 210.75h2v5.3h-2zM63 210.75h2v5.3h-2zM95 210.75h2v5.3h-2zM45 216.05h2v5.3h-2zM55 216.05h2v5.3h-2zM45 221.35h2v5.3h-2zM85 221.35h2v5.3h-2zM39 231.95h2v5.3h-2zM63 231.95h2v5.3h-2zM67 231.95h2v5.3h-2zM43 237.25h2v5.3h-2zM51 237.25h2v5.3h-2zM75 237.25h2v5.3h-2zM43 242.55h2v5.3h-2zM59 247.85h2v5.3h-2zM59 253.15h2v5.3h-2zM67 253.15h2v5.3h-2zM59 258.45h2v5.3h-2zM43 263.75h2v5.3h-2zM63 274.35h2v5.3h-2zM39 306.15h2v5.3h-2z"/>
<path fill="#e9ff16" d="M43 35.85h2v5.3h-2zM67 35.85h2v5.3h-2zM75 35.85h2v5.3h-2zM91 35.85h2v5.3h-2zM101 35.85h2v5.3h-2zM113 35.85h2v5.3h-2zM97 41.15h2v5.3h-2zM149 41.15h2v5.3h-2zM157 41.15h2v5.3h-2zM175 41.15h2v5.3h-2zM139 46.45h2v5.3h-2zM163 46.45h2v5.3h-2zM155 51.75h2v5.3h-2zM171 51.75h2v5.3h-2zM163 57.05h2v5.3h-2zM167 57.05h2v5.3h-2zM171 57.05h2v5.3h-2zM171 62.35h4v5.3h-4zM173 67.65h2v5.3h-2zM179 72.95h1v5.3h-1zM79 78.25h2v5.3h-2zM129 78.25h4v5.3h-4zM69 83.55h2v5.3h-2zM93 83.55h2v5.3h-2zM67 88.85h2v5.3h-2zM107 88.85h2v5.3h-2zM129 88.85h2v5.3h-2zM69 94.15h2v5.3h-2zM99 94.15h2v5.3h-2zM111 94.15h2v5.3h-2zM121 94.15h2v5.3h-2zM135 94.15h2v5.3h-2zM99 99.45h2v5.3h-2zM103 99.45h2v5.3h-2zM119 99.45h2v5.3h-2zM99 104.75h2v5.3h-2zM105 104.75h2v5.3h-2zM113 104.75h2v5.3h-2zM125 104.75h2v5.3h-2zM179 104.75h1v5.3h-1zM117 110.05h2v5.3h-2zM141 115.35h2v5.3h-2zM143 120.65h2v5.3h-2zM147 120.65h2v5.3h-2zM157 120.65h2v5.3h-2zM161 120.65h2v5.3h-2zM97 125.95h2v5.3h-2zM87 131.25h2v5.3h-2zM97 131.25h2v5.3h-2zM105 131.25h2v5.3h-2zM127 131.25h4v5.3h-4zM125 136.55h2v5.3h-2zM97 141.85h2v5.3h-2zM105 141.85h2v5.3h-2zM109 141.85h2v5.3h-2zM127 147.15h2v5.3h-2zM87 152.45h2v5.3h-2zM97 152.45h2v5.3h-2zM87 163.05h2v5.3h-2zM125 163.05h2v5.3h-2zM139 163.05h4v5.3h-4zM73 168.35h2v5.3h-2zM89 168.35h2v5.3h-2zM111 168.35h2v5.3h-2zM129 168.35h2v5.3h-2zM143 168.35h2v5.3h-2zM61 173.65h2v5.3h-2zM75 173.65h2v5.3h-2zM109 173.65h2v5.3h-2zM139 173.65h2v5.3h-2zM55 178.95h2v5.3h-2zM71 178.95h2v5.3h-2zM81 178.95h2v5.3h-2zM89 178.95h4v5.3h-4zM109 178.95h2v5.3h-2zM113 178.95h2v5.3h-2zM129 178.95h2v5.3h-2zM55 184.25h2v5.3h-2zM65 184.25h2v5.3h-2zM89 184.25h2v5.3h-2zM129 184.25h2v5.3h-2zM67 189.55h2v5.3h-2zM101 189.55h2v5.3h-2zM129 189.55h2v5.3h-2zM39 194.85h2v5.3h-2zM51 194.85h2v5.3h-2zM69 194.85h2v5.3h-2zM89 194.85h2v5.3h-2zM129 194.85h2v5.3h-2zM69 200.15h2v5.3h-2zM39 205.45h2v5.3h-2zM43 205.45h2v5.3h-2zM55 205.45h4v5.3h-4zM65 205.45h2v5.3h-2zM39 210.75h6v5.3h-6zM47 210.75h2v5.3h-2zM41 216.05h2v5.3h-2zM47 216.05h2v5.3h-2zM51 216.05h2v5.3h-2zM43 221.35h2v5.3h-2zM47 221.35h6v5.3h-6zM49 231.95h4v5.3h-4zM63 237.25h2v5.3h-2zM51 242.55h2v5.3h-2zM93 253.15h2v5.3h-2zM43 258.45h2v5.3h-2zM67 269.05h2v5.3h-2zM89 269.05h2v5.3h-2zM41 284.95h2v5.3h-2z"/>
<path fill="#f9ff06" d="M71 35.85h2v5.3h-2zM51 41.15h2v5.3h-2zM79 41.15h2v5.3h-2zM85 41.15h4v5.3h-4zM99 41.15h2v5.3h-2zM115 41.15h2v5.3h-2zM123 41.15h4v5.3h-4zM153 41.15h2v5.3h-2zM161 41.15h2v5.3h-2zM167 41.15h2v5.3h-2zM159 46.45h2v5.3h-2zM141 51.75h2v5.3h-2zM159 51.75h2v5.3h-2zM153 57.05h2v5.3h-2zM159 57.05h2v5.3h-2zM175 57.05h4v5.3h-4zM175 62.35h2v5.3h-2zM139 67.65h2v5.3h-2zM153 67.65h2v5.3h-2zM161 67.65h4v5.3h-4zM155 72.95h2v5.3h-2zM87 78.25h2v5.3h-2zM95 78.25h2v5.3h-2zM115 78.25h2v5.3h-2zM139 78.25h2v5.3h-2zM149 78.25h2v5.3h-2zM99 83.55h2v5.3h-2zM103 83.55h2v5.3h-2zM111 83.55h2v5.3h-2zM117 83.55h2v5.3h-2zM135 83.55h2v5.3h-2zM85 88.85h2v5.3h-2zM93 88.85h2v5.3h-2zM103 88.85h2v5.3h-2zM117 88.85h2v5.3h-2zM143 88.85h2v5.3h-2zM79 94.15h2v5.3h-2zM115 94.15h6v5.3h-6zM87 99.45h2v5.3h-2zM111 99.45h2v5.3h-2zM141 99.45h2v5.3h-2zM117 104.75h2v5.3h-2zM141 104.75h2v5.3h-2zM101 110.05h4v5.3h-4zM119 110.05h2v5.3h-2zM85 115.35h2v5.3h-2zM89 115.35h2v5.3h-2zM113 115.35h4v5.3h-4zM121 115.35h2v5.3h-2zM135 115.35h2v5.3h-2zM113 120.65h4v5.3h-4zM127 120.65h2v5.3h-2zM163 120.65h4v5.3h-4zM137 125.95h2v5.3h-2zM81 131.25h2v5.3h-2zM89 131.25h2v5.3h-2zM109 131.25h2v5.3h-2zM113 131.25h2v5.3h-2zM115 136.55h2v5.3h-2zM119 136.55h2v5.3h-2zM115 141.85h2v5.3h-2zM127 141.85h2v5.3h-2zM89 147.15h2v5.3h-2zM115 152.45h2v5.3h-2zM125 152.45h2v5.3h-2zM141 152.45h2v5.3h-2zM97 157.75h2v5.3h-2zM121 157.75h2v5.3h-2zM141 157.75h2v5.3h-2zM75 163.05h2v5.3h-2zM99 163.05h2v5.3h-2zM91 168.35h2v5.3h-2zM83 173.65h2v5.3h-2zM93 173.65h2v5.3h-2zM45 178.95h2v5.3h-2zM53 178.95h2v5.3h-2zM61 178.95h2v5.3h-2zM41 184.25h2v5.3h-2zM45 184.25h2v5.3h-2zM71 184.25h2v5.3h-2zM93 184.25h2v5.3h-2zM39 189.55h2v5.3h-2zM49 189.55h4v5.3h-4zM55 189.55h2v5.3h-2zM61 189.55h2v5.3h-2zM69 189.55h4v5.3h-4zM81 189.55h2v5.3h-2zM61 194.85h2v5.3h-2zM65 194.85h2v5.3h-2zM41 200.15h2v5.3h-2zM47 200.15h2v5.3h-2zM63 200.15h4v5.3h-4zM81 200.15h2v5.3h-2zM101 200.15h2v5.3h-2zM41 205.45h2v5.3h-2zM81 210.75h2v5.3h-2zM39 216.05h2v5.3h-2zM49 216.05h2v5.3h-2zM81 221.35h2v5.3h-2zM47 231.95h2v5.3h-2zM89 258.45h2v5.3h-2z"/>
<path fill="#fff500" d="M55 35.85h2v5.3h-2zM117 41.15h2v5.3h-2zM135 41.15h2v5.3h-2zM147 41.15h2v5.3h-2zM141 46.45h2v5.3h-2zM157 46.45h2v5.3h-2zM133 51.75h2v5.3h-2zM139 51.75h2v5.3h-2zM157 51.75h2v5.3h-2zM179 51.75h1v5.3h-1zM137 57.05h2v5.3h-2zM143 57.05h2v5.3h-2zM155 57.05h2v5.3h-2zM179 57.05h1v5.3h-1zM155 62.35h2v5.3h-2zM159 62.35h2v5.3h-2zM151 67.65h2v5.3h-2zM155 67.65h2v5.3h-2zM169 67.65h2v5.3h-2zM177 67.65h2v5.3h-2zM127 72.95h2v5.3h-2zM133 72.95h2v5.3h-2zM147 72.95h2v5.3h-2zM89 78.25h2v5.3h-2zM101 78.25h2v5.3h-2zM127 78.25h2v5.3h-2zM137 78.25h2v5.3h-2zM143 78.25h2v5.3h-2zM67 83.55h2v5.3h-2zM109 83.55h2v5.3h-2zM57 88.85h2v5.3h-2zM97 88.85h2v5.3h-2zM75 94.15h4v5.3h-4zM87 94.15h2v5.3h-2zM101 94.15h4v5.3h-4zM129 94.15h2v5.3h-2zM97 99.45h2v5.3h-2zM113 99.45h2v5.3h-2zM121 99.45h2v5.3h-2zM129 99.45h2v5.3h-2zM69 104.75h2v5.3h-2zM75 104.75h2v5.3h-2zM79 104.75h2v5.3h-2zM101 104.75h4v5.3h-4zM69 110.05h2v5.3h-2zM87 110.05h2v5.3h-2zM107 110.05h2v5.3h-2zM115 110.05h2v5.3h-2zM129 110.05h2v5.3h-2zM107 115.35h2v5.3h-2zM97 120.65h2v5.3h-2zM105 120.65h6v5.3h-6zM103 125.95h2v5.3h-2zM113 125.95h2v5.3h-2zM119 125.95h2v5.3h-2zM103 131.25h2v5.3h-2zM141 131.25h2v5.3h-2zM97 136.55h2v5.3h-2zM107 136.55h2v5.3h-2zM121 136.55h2v5.3h-2zM107 147.15h2v5.3h-2zM125 147.15h2v5.3h-2zM73 152.45h2v5.3h-2zM99 152.45h2v5.3h-2zM79 163.05h2v5.3h-2zM97 163.05h2v5.3h-2zM107 163.05h2v5.3h-2zM111 163.05h6v5.3h-6zM121 163.05h2v5.3h-2zM127 163.05h2v5.3h-2zM71 168.35h2v5.3h-2zM77 168.35h4v5.3h-4zM95 168.35h2v5.3h-2zM101 168.35h2v5.3h-2zM113 168.35h2v5.3h-2zM91 173.65h2v5.3h-2zM99 173.65h2v5.3h-2zM49 178.95h2v5.3h-2zM63 178.95h4v5.3h-4zM77 178.95h2v5.3h-2zM99 178.95h4v5.3h-4zM99 184.25h2v5.3h-2zM41 189.55h2v5.3h-2zM95 189.55h2v5.3h-2zM41 194.85h2v5.3h-2zM45 194.85h4v5.3h-4zM81 194.85h2v5.3h-2zM93 194.85h4v5.3h-4zM45 200.15h2v5.3h-2zM49 200.15h2v5.3h-2zM55 200.15h2v5.3h-2zM59 200.15h2v5.3h-2zM47 205.45h4v5.3h-4zM81 205.45h2v5.3h-2zM49 210.75h2v5.3h-2zM81 216.05h2v5.3h-2zM51 226.65h2v5.3h-2z"/>
<path fill="#ffe500" d="M38 30.55h1v5.3h-1zM57 41.15h2v5.3h-2zM65 41.15h2v5.3h-2zM69 41.15h2v5.3h-2zM137 41.15h2v5.3h-2zM129 46.45h2v5.3h-2zM133 46.45h2v5.3h-2zM149 46.45h2v5.3h-2zM161 46.45h2v5.3h-2zM179 46.45h1v5.3h-1zM123 51.75h4v5.3h-4zM131 51.75h2v5.3h-2zM151 51.75h2v5.3h-2zM161 51.75h2v5.3h-2zM167 51.75h2v5.3h-2zM175 51.75h2v5.3h-2zM123 57.05h4v5.3h-4zM161 57.05h2v5.3h-2zM169 57.05h2v5.3h-2zM139 62.35h2v5.3h-2zM123 67.65h2v5.3h-2zM125 72.95h2v5.3h-2zM107 78.25h2v5.3h-2zM145 78.25h2v5.3h-2zM75 83.55h2v5.3h-2zM113 83.55h2v5.3h-2zM69 88.85h2v5.3h-2zM89 88.85h2v5.3h-2zM109 88.85h2v5.3h-2zM89 94.15h2v5.3h-2zM107 94.15h4v5.3h-4zM89 99.45h2v5.3h-2zM85 104.75h2v5.3h-2zM89 104.75h2v5.3h-2zM107 104.75h2v5.3h-2zM121 104.75h2v5.3h-2zM79 110.05h2v5.3h-2zM105 110.05h2v5.3h-2zM69 115.35h2v5.3h-2zM79 115.35h2v5.3h-2zM103 115.35h2v5.3h-2zM137 120.65h2v5.3h-2zM141 120.65h2v5.3h-2zM55 125.95h2v5.3h-2zM107 125.95h4v5.3h-4zM141 125.95h2v5.3h-2zM69 131.25h2v5.3h-2zM103 136.55h2v5.3h-2zM113 141.85h2v5.3h-2zM49 147.15h2v5.3h-2zM87 147.15h2v5.3h-2zM93 147.15h2v5.3h-2zM99 147.15h2v5.3h-2zM107 152.45h2v5.3h-2zM87 157.75h2v5.3h-2zM115 157.75h2v5.3h-2zM93 163.05h2v5.3h-2zM93 168.35h2v5.3h-2zM55 173.65h2v5.3h-2zM65 173.65h2v5.3h-2zM39 178.95h2v5.3h-2zM69 178.95h2v5.3h-2zM93 178.95h2v5.3h-2zM43 184.25h2v5.3h-2zM69 184.25h2v5.3h-2zM81 184.25h2v5.3h-2zM101 184.25h2v5.3h-2zM85 189.55h2v5.3h-2zM93 189.55h2v5.3h-2zM39 200.15h2v5.3h-2zM43 200.15h2v5.3h-2zM51 200.15h2v5.3h-2zM61 200.15h2v5.3h-2z"/>
<path fill="#ffd500" d="M39 35.85h2v5.3h-2zM95 41.15h2v5.3h-2zM107 41.15h4v5.3h-4zM121 41.15h2v5.3h-2zM143 41.15h2v5.3h-2zM143 46.45h2v5.3h-2zM169 46.45h2v5.3h-2zM175 46.45h2v5.3h-2zM143 51.75h2v5.3h-2zM169 51.75h2v5.3h-2zM129 57.05h2v5.3h-2zM133 57.05h2v5.3h-2zM139 57.05h2v5.3h-2zM143 62.35h2v5.3h-2zM153 62.35h2v5.3h-2zM167 62.35h2v5.3h-2zM177 62.35h3v5.3h-3zM129 67.65h2v5.3h-2zM137 67.65h2v5.3h-2zM143 67.65h2v5.3h-2zM157 67.65h4v5.3h-4zM67 72.95h2v5.3h-2zM95 72.95h2v5.3h-2zM115 72.95h2v5.3h-2zM129 72.95h2v5.3h-2zM67 78.25h2v5.3h-2zM77 78.25h2v5.3h-2zM111 78.25h2v5.3h-2zM121 78.25h2v5.3h-2zM91 88.85h2v5.3h-2zM111 88.85h4v5.3h-4zM57 94.15h2v5.3h-2zM67 94.15h2v5.3h-2zM85 94.15h2v5.3h-2zM43 99.45h2v5.3h-2zM53 99.45h2v5.3h-2zM67 99.45h2v5.3h-2zM71 99.45h2v5.3h-2zM67 104.75h2v5.3h-2zM97 104.75h2v5.3h-2zM109 104.75h2v5.3h-2zM113 110.05h2v5.3h-2zM95 115.35h6v5.3h-6zM95 120.65h2v5.3h-2zM103 120.65h2v5.3h-2zM111 120.65h2v5.3h-2zM129 125.95h2v5.3h-2zM85 131.25h2v5.3h-2zM93 131.25h2v5.3h-2zM99 131.25h2v5.3h-2zM141 136.55h2v5.3h-2zM73 141.85h2v5.3h-2zM69 147.15h2v5.3h-2zM103 147.15h2v5.3h-2zM141 147.15h2v5.3h-2zM65 152.45h2v5.3h-2zM77 152.45h2v5.3h-2zM83 152.45h2v5.3h-2zM121 152.45h2v5.3h-2zM65 157.75h2v5.3h-2zM73 157.75h2v5.3h-2zM79 157.75h2v5.3h-2zM107 157.75h2v5.3h-2zM113 157.75h2v5.3h-2zM65 163.05h2v5.3h-2zM69 163.05h2v5.3h-2zM73 163.05h2v5.3h-2zM89 163.05h2v5.3h-2zM75 168.35h2v5.3h-2zM53 173.65h2v5.3h-2zM81 173.65h2v5.3h-2zM41 178.95h4v5.3h-4zM85 178.95h2v5.3h-2zM49 184.25h2v5.3h-2zM61 184.25h2v5.3h-2zM57 189.55h2v5.3h-2zM43 194.85h2v5.3h-2zM101 194.85h2v5.3h-2zM38 322.05h1v5.3h-1zM38 327.35h1v2.65h-1z"/>
<path fill="#ffc400" d="M41 41.15h2v5.3h-2zM49 41.15h2v5.3h-2zM81 41.15h2v5.3h-2zM105 41.15h2v5.3h-2zM119 41.15h2v5.3h-2zM127 41.15h2v5.3h-2zM125 46.45h2v5.3h-2zM167 46.45h2v5.3h-2zM129 51.75h2v5.3h-2zM137 51.75h2v5.3h-2zM177 51.75h2v5.3h-2zM115 57.05h2v5.3h-2zM145 57.05h2v5.3h-2zM149 57.05h2v5.3h-2zM157 57.05h2v5.3h-2zM137 62.35h2v5.3h-2zM157 62.35h2v5.3h-2zM111 67.65h2v5.3h-2zM115 67.65h2v5.3h-2zM127 67.65h2v5.3h-2zM131 67.65h4v5.3h-4zM87 72.95h2v5.3h-2zM121 72.95h2v5.3h-2zM149 72.95h2v5.3h-2zM45 78.25h2v5.3h-2zM55 78.25h2v5.3h-2zM75 78.25h2v5.3h-2zM85 78.25h2v5.3h-2zM103 78.25h4v5.3h-4zM109 78.25h2v5.3h-2zM125 78.25h2v5.3h-2zM135 78.25h2v5.3h-2zM141 78.25h2v5.3h-2zM71 83.55h2v5.3h-2zM83 83.55h4v5.3h-4zM91 83.55h2v5.3h-2zM119 83.55h2v5.3h-2zM53 88.85h2v5.3h-2zM71 88.85h2v5.3h-2zM77 88.85h2v5.3h-2zM83 88.85h2v5.3h-2zM53 94.15h2v5.3h-2zM91 94.15h2v5.3h-2zM97 94.15h2v5.3h-2zM49 99.45h2v5.3h-2zM57 99.45h2v5.3h-2zM65 99.45h2v5.3h-2zM93 99.45h2v5.3h-2zM71 104.75h2v5.3h-2zM83 104.75h2v5.3h-2zM111 104.75h2v5.3h-2zM129 104.75h2v5.3h-2zM81 110.05h2v5.3h-2zM109 110.05h2v5.3h-2zM83 115.35h2v5.3h-2zM87 115.35h2v5.3h-2zM101 115.35h2v5.3h-2zM111 115.35h2v5.3h-2zM69 120.65h2v5.3h-2zM79 120.65h2v5.3h-2zM99 120.65h2v5.3h-2zM129 120.65h2v5.3h-2zM153 120.65h2v5.3h-2zM179 120.65h1v5.3h-1zM81 125.95h2v5.3h-2zM95 125.95h2v5.3h-2zM55 131.25h2v5.3h-2zM67 131.25h2v5.3h-2zM95 131.25h2v5.3h-2zM55 136.55h2v5.3h-2zM73 136.55h2v5.3h-2zM77 136.55h2v5.3h-2zM87 136.55h2v5.3h-2zM99 136.55h2v5.3h-2zM113 136.55h2v5.3h-2zM61 141.85h2v5.3h-2zM69 141.85h2v5.3h-2zM87 141.85h2v5.3h-2zM125 141.85h2v5.3h-2zM73 147.15h2v5.3h-2zM83 147.15h2v5.3h-2zM95 147.15h2v5.3h-2zM113 147.15h2v5.3h-2zM49 152.45h2v5.3h-2zM55 152.45h2v5.3h-2zM75 152.45h2v5.3h-2zM79 152.45h2v5.3h-2zM93 152.45h2v5.3h-2zM103 152.45h2v5.3h-2zM91 157.75h4v5.3h-4zM53 163.05h2v5.3h-2zM61 163.05h2v5.3h-2zM91 163.05h2v5.3h-2zM101 163.05h2v5.3h-2zM49 168.35h2v5.3h-2zM53 168.35h4v5.3h-4zM67 168.35h2v5.3h-2zM103 168.35h2v5.3h-2zM45 173.65h2v5.3h-2zM49 173.65h4v5.3h-4zM69 173.65h2v5.3h-2zM47 178.95h2v5.3h-2zM47 184.25h2v5.3h-2zM47 189.55h2v5.3h-2zM57 194.85h2v5.3h-2zM38 290.25h1v5.3h-1zM38 295.55h1v5.3h-1zM38 300.85h1v5.3h-1zM38 306.15h1v5.3h-1zM38 311.45h1v5.3h-1zM38 316.75h1v5.3h-1z"/>
<path fill="#ffb400" d="M59 41.15h2v5.3h-2zM123 46.45h2v5.3h-2zM137 46.45h2v5.3h-2zM177 46.45h2v5.3h-2zM149 51.75h2v5.3h-2zM153 51.75h2v5.3h-2zM121 57.05h2v5.3h-2zM127 57.05h2v5.3h-2zM123 62.35h4v5.3h-4zM129 62.35h2v5.3h-2zM133 62.35h2v5.3h-2zM141 62.35h2v5.3h-2zM141 67.65h2v5.3h-2zM147 67.65h2v5.3h-2zM75 72.95h6v5.3h-6zM93 72.95h2v5.3h-2zM101 72.95h4v5.3h-4zM107 72.95h4v5.3h-4zM145 72.95h2v5.3h-2zM39 78.25h2v5.3h-2zM57 78.25h2v5.3h-2zM69 78.25h2v5.3h-2zM93 78.25h2v5.3h-2zM117 78.25h2v5.3h-2zM133 78.25h2v5.3h-2zM47 83.55h4v5.3h-4zM65 83.55h2v5.3h-2zM73 83.55h2v5.3h-2zM97 83.55h2v5.3h-2zM43 88.85h2v5.3h-2zM73 88.85h4v5.3h-4zM93 94.15h2v5.3h-2zM113 94.15h2v5.3h-2zM63 99.45h2v5.3h-2zM73 99.45h4v5.3h-4zM85 99.45h2v5.3h-2zM55 110.05h2v5.3h-2zM73 110.05h2v5.3h-2zM85 110.05h2v5.3h-2zM97 110.05h2v5.3h-2zM53 115.35h4v5.3h-4zM75 115.35h2v5.3h-2zM129 115.35h2v5.3h-2zM55 120.65h2v5.3h-2zM67 120.65h2v5.3h-2zM85 120.65h2v5.3h-2zM89 120.65h2v5.3h-2zM63 125.95h2v5.3h-2zM85 125.95h6v5.3h-6zM93 125.95h2v5.3h-2zM99 125.95h2v5.3h-2zM63 131.25h2v5.3h-2zM91 131.25h2v5.3h-2zM63 136.55h2v5.3h-2zM81 136.55h2v5.3h-2zM89 136.55h2v5.3h-2zM55 141.85h2v5.3h-2zM77 141.85h4v5.3h-4zM93 141.85h2v5.3h-2zM141 141.85h2v5.3h-2zM77 147.15h2v5.3h-2zM61 152.45h2v5.3h-2zM69 152.45h2v5.3h-2zM69 157.75h2v5.3h-2zM77 157.75h2v5.3h-2zM89 157.75h2v5.3h-2zM77 163.05h2v5.3h-2zM95 163.05h2v5.3h-2zM51 168.35h2v5.3h-2zM61 168.35h4v5.3h-4zM81 168.35h2v5.3h-2zM43 173.65h2v5.3h-2zM47 173.65h2v5.3h-2zM77 173.65h2v5.3h-2zM101 173.65h2v5.3h-2zM67 178.95h2v5.3h-2zM59 189.55h2v5.3h-2zM49 194.85h2v5.3h-2z"/>
<path fill="#ffa400" d="M45 41.15h2v5.3h-2zM53 41.15h2v5.3h-2zM61 41.15h4v5.3h-4zM67 41.15h2v5.3h-2zM71 41.15h2v5.3h-2zM89 41.15h2v5.3h-2zM93 41.15h2v5.3h-2zM101 41.15h2v5.3h-2zM131 41.15h2v5.3h-2zM145 41.15h2v5.3h-2zM111 46.45h2v5.3h-2zM119 46.45h2v5.3h-2zM127 46.45h2v5.3h-2zM109 51.75h4v5.3h-4zM145 51.75h2v5.3h-2zM119 57.05h2v5.3h-2zM147 57.05h2v5.3h-2zM115 62.35h2v5.3h-2zM131 62.35h2v5.3h-2zM169 62.35h2v5.3h-2zM121 67.65h2v5.3h-2zM135 67.65h2v5.3h-2zM145 67.65h2v5.3h-2zM55 72.95h4v5.3h-4zM99 72.95h2v5.3h-2zM105 72.95h2v5.3h-2zM113 72.95h2v5.3h-2zM119 72.95h2v5.3h-2zM135 72.95h2v5.3h-2zM53 78.25h2v5.3h-2zM65 78.25h2v5.3h-2zM71 78.25h4v5.3h-4zM81 78.25h2v5.3h-2zM91 78.25h2v5.3h-2zM45 83.55h2v5.3h-2zM51 83.55h2v5.3h-2zM81 83.55h2v5.3h-2zM49 88.85h2v5.3h-2zM63 88.85h2v5.3h-2zM119 88.85h2v5.3h-2zM63 94.15h2v5.3h-2zM71 94.15h4v5.3h-4zM81 99.45h4v5.3h-4zM49 104.75h2v5.3h-2zM73 104.75h2v5.3h-2zM81 104.75h2v5.3h-2zM93 104.75h2v5.3h-2zM43 110.05h2v5.3h-2zM49 110.05h2v5.3h-2zM57 110.05h2v5.3h-2zM75 110.05h2v5.3h-2zM83 110.05h2v5.3h-2zM89 110.05h2v5.3h-2zM81 115.35h2v5.3h-2zM49 120.65h2v5.3h-2zM53 120.65h2v5.3h-2zM63 120.65h2v5.3h-2zM77 120.65h2v5.3h-2zM45 125.95h2v5.3h-2zM67 125.95h4v5.3h-4zM79 125.95h2v5.3h-2zM39 131.25h2v5.3h-2zM61 131.25h2v5.3h-2zM73 131.25h4v5.3h-4zM79 131.25h2v5.3h-2zM101 131.25h2v5.3h-2zM65 136.55h2v5.3h-2zM69 136.55h2v5.3h-2zM75 136.55h2v5.3h-2zM85 136.55h2v5.3h-2zM93 136.55h4v5.3h-4zM101 136.55h2v5.3h-2zM51 141.85h2v5.3h-2zM59 141.85h2v5.3h-2zM63 141.85h4v5.3h-4zM81 141.85h4v5.3h-4zM89 141.85h2v5.3h-2zM95 141.85h2v5.3h-2zM99 141.85h2v5.3h-2zM103 141.85h2v5.3h-2zM107 141.85h2v5.3h-2zM55 147.15h2v5.3h-2zM59 147.15h4v5.3h-4zM79 147.15h4v5.3h-4zM51 152.45h2v5.3h-2zM59 152.45h2v5.3h-2zM89 152.45h4v5.3h-4zM49 157.75h2v5.3h-2zM55 157.75h2v5.3h-2zM61 157.75h4v5.3h-4zM75 157.75h2v5.3h-2zM95 157.75h2v5.3h-2zM103 157.75h2v5.3h-2zM51 163.05h2v5.3h-2zM57 163.05h2v5.3h-2zM63 163.05h2v5.3h-2zM67 163.05h2v5.3h-2zM71 163.05h2v5.3h-2zM81 163.05h2v5.3h-2zM103 163.05h2v5.3h-2zM43 168.35h2v5.3h-2zM41 173.65h2v5.3h-2zM57 173.65h2v5.3h-2zM63 173.65h2v5.3h-2zM67 173.65h2v5.3h-2zM85 173.65h2v5.3h-2zM39 184.25h2v5.3h-2z"/>
<path fill="#ff9400" d="M43 41.15h2v5.3h-2zM47 41.15h2v5.3h-2zM153 46.45h2v5.3h-2zM115 51.75h2v5.3h-2zM119 51.75h2v5.3h-2zM135 51.75h2v5.3h-2zM147 51.75h2v5.3h-2zM131 57.05h2v5.3h-2zM111 62.35h2v5.3h-2zM109 67.65h2v5.3h-2zM113 67.65h2v5.3h-2zM117 67.65h2v5.3h-2zM149 67.65h2v5.3h-2zM69 72.95h2v5.3h-2zM89 72.95h2v5.3h-2zM43 78.25h2v5.3h-2zM47 78.25h6v5.3h-6zM63 78.25h2v5.3h-2zM113 78.25h2v5.3h-2zM39 83.55h2v5.3h-2zM43 83.55h2v5.3h-2zM55 83.55h2v5.3h-2zM63 83.55h2v5.3h-2zM39 88.85h2v5.3h-2zM47 88.85h2v5.3h-2zM55 88.85h2v5.3h-2zM81 88.85h2v5.3h-2zM43 94.15h2v5.3h-2zM49 94.15h2v5.3h-2zM61 94.15h2v5.3h-2zM65 94.15h2v5.3h-2zM83 94.15h2v5.3h-2zM77 99.45h2v5.3h-2zM91 99.45h2v5.3h-2zM43 104.75h2v5.3h-2zM53 104.75h6v5.3h-6zM63 104.75h2v5.3h-2zM91 104.75h2v5.3h-2zM41 110.05h2v5.3h-2zM63 110.05h2v5.3h-2zM93 110.05h2v5.3h-2zM49 115.35h2v5.3h-2zM73 115.35h2v5.3h-2zM75 120.65h2v5.3h-2zM87 120.65h2v5.3h-2zM49 125.95h2v5.3h-2zM73 125.95h4v5.3h-4zM91 125.95h2v5.3h-2zM43 131.25h2v5.3h-2zM49 131.25h4v5.3h-4zM57 131.25h2v5.3h-2zM65 131.25h2v5.3h-2zM83 131.25h2v5.3h-2zM51 136.55h4v5.3h-4zM61 136.55h2v5.3h-2zM75 141.85h2v5.3h-2zM85 141.85h2v5.3h-2zM91 141.85h2v5.3h-2zM51 147.15h2v5.3h-2zM63 147.15h4v5.3h-4zM71 147.15h2v5.3h-2zM91 147.15h2v5.3h-2zM101 147.15h2v5.3h-2zM63 152.45h2v5.3h-2zM67 152.45h2v5.3h-2zM81 152.45h2v5.3h-2zM95 152.45h2v5.3h-2zM51 157.75h2v5.3h-2zM67 157.75h2v5.3h-2zM71 157.75h2v5.3h-2zM101 157.75h2v5.3h-2zM47 163.05h4v5.3h-4zM85 168.35h2v5.3h-2zM39 173.65h2v5.3h-2zM71 173.65h2v5.3h-2zM57 184.25h4v5.3h-4zM59 194.85h2v5.3h-2zM38 284.95h1v5.3h-1z"/>
<path fill="#ff8400" d="M55 41.15h2v5.3h-2zM73 41.15h6v5.3h-6zM113 41.15h2v5.3h-2zM113 46.45h6v5.3h-6zM121 46.45h2v5.3h-2zM113 51.75h2v5.3h-2zM121 51.75h2v5.3h-2zM111 57.05h2v5.3h-2zM135 57.05h2v5.3h-2zM103 62.35h2v5.3h-2zM109 62.35h2v5.3h-2zM113 62.35h2v5.3h-2zM121 62.35h2v5.3h-2zM127 62.35h2v5.3h-2zM145 62.35h2v5.3h-2zM149 62.35h2v5.3h-2zM101 67.65h2v5.3h-2zM125 67.65h2v5.3h-2zM39 72.95h2v5.3h-2zM43 72.95h2v5.3h-2zM47 72.95h2v5.3h-2zM51 72.95h4v5.3h-4zM81 72.95h2v5.3h-2zM91 72.95h2v5.3h-2zM111 72.95h2v5.3h-2zM117 72.95h2v5.3h-2zM41 78.25h2v5.3h-2zM83 78.25h2v5.3h-2zM99 78.25h2v5.3h-2zM61 83.55h2v5.3h-2zM61 88.85h2v5.3h-2zM65 88.85h2v5.3h-2zM39 94.15h2v5.3h-2zM81 94.15h2v5.3h-2zM39 99.45h2v5.3h-2zM61 104.75h2v5.3h-2zM77 104.75h2v5.3h-2zM39 110.05h2v5.3h-2zM67 110.05h2v5.3h-2zM91 110.05h2v5.3h-2zM43 115.35h2v5.3h-2zM57 115.35h2v5.3h-2zM61 115.35h2v5.3h-2zM77 115.35h2v5.3h-2zM39 120.65h2v5.3h-2zM43 120.65h2v5.3h-2zM51 120.65h2v5.3h-2zM61 120.65h2v5.3h-2zM73 120.65h2v5.3h-2zM81 120.65h4v5.3h-4zM93 120.65h2v5.3h-2zM101 120.65h2v5.3h-2zM39 125.95h2v5.3h-2zM43 125.95h2v5.3h-2zM53 125.95h2v5.3h-2zM59 125.95h2v5.3h-2zM101 125.95h2v5.3h-2zM53 131.25h2v5.3h-2zM59 131.25h2v5.3h-2zM77 131.25h2v5.3h-2zM59 136.55h2v5.3h-2zM67 136.55h2v5.3h-2zM79 136.55h2v5.3h-2zM83 136.55h2v5.3h-2zM49 141.85h2v5.3h-2zM57 147.15h2v5.3h-2zM75 147.15h2v5.3h-2zM57 152.45h2v5.3h-2zM71 152.45h2v5.3h-2zM53 157.75h2v5.3h-2zM81 157.75h2v5.3h-2zM85 163.05h2v5.3h-2zM41 168.35h2v5.3h-2zM57 178.95h2v5.3h-2zM38 247.85h1v5.3h-1zM38 253.15h1v5.3h-1zM38 258.45h1v5.3h-1zM38 263.75h1v5.3h-1zM38 269.05h1v5.3h-1zM38 274.35h1v5.3h-1zM38 279.65h1v5.3h-1z"/>
<path fill="#ff7300" d="M103 46.45h2v5.3h-2zM109 46.45h2v5.3h-2zM131 46.45h2v5.3h-2zM147 46.45h2v5.3h-2zM109 57.05h2v5.3h-2zM113 57.05h2v5.3h-2zM119 67.65h2v5.3h-2zM73 72.95h2v5.3h-2zM83 72.95h4v5.3h-4zM119 78.25h2v5.3h-2zM41 88.85h2v5.3h-2zM45 94.15h2v5.3h-2zM55 94.15h2v5.3h-2zM45 99.45h4v5.3h-4zM55 99.45h2v5.3h-2zM61 99.45h2v5.3h-2zM39 104.75h2v5.3h-2zM45 104.75h2v5.3h-2zM51 104.75h2v5.3h-2zM65 104.75h2v5.3h-2zM53 110.05h2v5.3h-2zM61 110.05h2v5.3h-2zM39 115.35h2v5.3h-2zM63 115.35h2v5.3h-2zM67 115.35h2v5.3h-2zM71 120.65h2v5.3h-2zM61 125.95h2v5.3h-2zM83 125.95h2v5.3h-2zM39 136.55h2v5.3h-2zM91 136.55h2v5.3h-2zM53 141.85h2v5.3h-2zM57 141.85h2v5.3h-2zM71 141.85h2v5.3h-2zM67 147.15h2v5.3h-2zM85 147.15h2v5.3h-2zM45 152.45h4v5.3h-4zM53 152.45h2v5.3h-2zM85 152.45h2v5.3h-2zM101 152.45h2v5.3h-2zM45 157.75h4v5.3h-4zM41 163.05h2v5.3h-2zM45 163.05h2v5.3h-2zM55 163.05h2v5.3h-2zM59 163.05h2v5.3h-2zM45 168.35h4v5.3h-4zM59 178.95h2v5.3h-2zM38 231.95h1v5.3h-1zM38 237.25h1v5.3h-1zM38 242.55h1v5.3h-1z"/>
<path fill="#ff6300" d="M107 46.45h2v5.3h-2zM103 51.75h2v5.3h-2zM103 57.05h2v5.3h-2zM107 57.05h2v5.3h-2zM119 62.35h2v5.3h-2zM147 62.35h2v5.3h-2zM107 67.65h2v5.3h-2zM45 72.95h2v5.3h-2zM97 72.95h2v5.3h-2zM61 78.25h2v5.3h-2zM51 88.85h2v5.3h-2zM59 94.15h2v5.3h-2zM51 110.05h2v5.3h-2zM71 110.05h2v5.3h-2zM77 110.05h2v5.3h-2zM71 115.35h2v5.3h-2zM57 120.65h2v5.3h-2zM65 120.65h2v5.3h-2zM51 125.95h2v5.3h-2zM57 125.95h2v5.3h-2zM65 125.95h2v5.3h-2zM77 125.95h2v5.3h-2zM71 131.25h2v5.3h-2zM49 136.55h2v5.3h-2zM57 136.55h2v5.3h-2zM39 141.85h2v5.3h-2zM101 141.85h2v5.3h-2zM39 147.15h2v5.3h-2zM53 147.15h2v5.3h-2zM39 157.75h2v5.3h-2zM43 157.75h2v5.3h-2zM57 157.75h2v5.3h-2zM39 168.35h2v5.3h-2zM57 168.35h2v5.3h-2zM38 221.35h1v5.3h-1zM38 226.65h1v5.3h-1z"/>
<path fill="#ff5300" d="M39 41.15h2v5.3h-2zM135 46.45h2v5.3h-2zM107 51.75h2v5.3h-2zM117 51.75h2v5.3h-2zM127 51.75h2v5.3h-2zM83 57.05h2v5.3h-2zM105 57.05h2v5.3h-2zM117 57.05h2v5.3h-2zM107 62.35h2v5.3h-2zM87 67.65h2v5.3h-2zM103 67.65h2v5.3h-2zM41 72.95h2v5.3h-2zM49 72.95h2v5.3h-2zM59 72.95h2v5.3h-2zM71 72.95h2v5.3h-2zM59 78.25h2v5.3h-2zM97 78.25h2v5.3h-2zM41 83.55h2v5.3h-2zM59 83.55h2v5.3h-2zM45 88.85h2v5.3h-2zM59 88.85h2v5.3h-2zM41 94.15h2v5.3h-2zM47 94.15h2v5.3h-2zM51 94.15h2v5.3h-2zM41 99.45h2v5.3h-2zM51 99.45h2v5.3h-2zM59 99.45h2v5.3h-2zM41 104.75h2v5.3h-2zM47 104.75h2v5.3h-2zM59 104.75h2v5.3h-2zM45 110.05h4v5.3h-4zM59 110.05h2v5.3h-2zM65 110.05h2v5.3h-2zM41 115.35h2v5.3h-2zM45 115.35h4v5.3h-4zM51 115.35h2v5.3h-2zM59 115.35h2v5.3h-2zM65 115.35h2v5.3h-2zM91 115.35h4v5.3h-4zM41 120.65h2v5.3h-2zM45 120.65h4v5.3h-4zM59 120.65h2v5.3h-2zM91 120.65h2v5.3h-2zM41 125.95h2v5.3h-2zM47 125.95h2v5.3h-2zM71 125.95h2v5.3h-2zM41 131.25h2v5.3h-2zM45 131.25h4v5.3h-4zM41 136.55h8v5.3h-8zM71 136.55h2v5.3h-2zM41 141.85h8v5.3h-8zM67 141.85h2v5.3h-2zM41 147.15h8v5.3h-8zM39 152.45h6v5.3h-6zM41 157.75h2v5.3h-2zM59 157.75h2v5.3h-2zM85 157.75h2v5.3h-2zM39 163.05h2v5.3h-2zM43 163.05h2v5.3h-2zM59 168.35h2v5.3h-2zM59 173.65h2v5.3h-2zM38 210.75h1v5.3h-1zM38 216.05h1v5.3h-1z"/>
<path fill="#ff4300" d="M91 41.15h2v5.3h-2zM101 46.45h2v5.3h-2zM105 46.45h2v5.3h-2zM101 51.75h2v5.3h-2zM105 51.75h2v5.3h-2zM87 57.05h2v5.3h-2zM99 57.05h4v5.3h-4zM83 62.35h2v5.3h-2zM101 62.35h2v5.3h-2zM135 62.35h2v5.3h-2zM51 67.65h2v5.3h-2zM67 67.65h2v5.3h-2zM79 67.65h2v5.3h-2zM105 67.65h2v5.3h-2zM38 200.15h1v5.3h-1zM38 205.45h1v5.3h-1z"/>
<path fill="#ff3300" d="M38 35.85h1v5.3h-1zM95 46.45h2v5.3h-2zM41 51.75h2v5.3h-2zM83 51.75h2v5.3h-2zM57 57.05h4v5.3h-4zM63 57.05h2v5.3h-2zM79 57.05h2v5.3h-2zM93 57.05h4v5.3h-4zM43 62.35h2v5.3h-2zM47 62.35h2v5.3h-2zM67 62.35h2v5.3h-2zM87 62.35h2v5.3h-2zM95 62.35h2v5.3h-2zM117 62.35h2v5.3h-2zM95 67.65h2v5.3h-2zM61 72.95h4v5.3h-4zM38 194.85h1v5.3h-1z"/>
<path fill="#ff2200" d="M41 46.45h2v5.3h-2zM47 46.45h2v5.3h-2zM51 46.45h2v5.3h-2zM57 46.45h4v5.3h-4zM67 46.45h4v5.3h-4zM75 46.45h14v5.3h-14zM97 46.45h4v5.3h-4zM55 51.75h6v5.3h-6zM67 51.75h4v5.3h-4zM79 51.75h2v5.3h-2zM85 51.75h4v5.3h-4zM95 51.75h2v5.3h-2zM99 51.75h2v5.3h-2zM43 57.05h4v5.3h-4zM51 57.05h2v5.3h-2zM67 57.05h4v5.3h-4zM81 57.05h2v5.3h-2zM85 57.05h2v5.3h-2zM79 62.35h4v5.3h-4zM93 62.35h2v5.3h-2zM105 62.35h2v5.3h-2zM49 67.65h2v5.3h-2zM57 67.65h2v5.3h-2zM77 67.65h2v5.3h-2zM81 67.65h2v5.3h-2zM89 67.65h2v5.3h-2zM65 72.95h2v5.3h-2z"/>
<path fill="#ff1200" d="M43 46.45h4v5.3h-4zM49 46.45h2v5.3h-2zM53 46.45h2v5.3h-2zM61 46.45h2v5.3h-2zM65 46.45h2v5.3h-2zM71 46.45h4v5.3h-4zM89 46.45h2v5.3h-2zM93 46.45h2v5.3h-2zM39 51.75h2v5.3h-2zM43 51.75h12v5.3h-12zM63 51.75h2v5.3h-2zM81 51.75h2v5.3h-2zM91 51.75h4v5.3h-4zM97 51.75h2v5.3h-2zM39 57.05h4v5.3h-4zM47 57.05h2v5.3h-2zM53 57.05h4v5.3h-4zM73 57.05h6v5.3h-6zM39 62.35h4v5.3h-4zM45 62.35h2v5.3h-2zM51 62.35h10v5.3h-10zM73 62.35h6v5.3h-6zM85 62.35h2v5.3h-2zM99 62.35h2v5.3h-2zM39 67.65h2v5.3h-2zM43 67.65h6v5.3h-6zM53 67.65h4v5.3h-4zM59 67.65h2v5.3h-2zM69 67.65h2v5.3h-2zM75 67.65h2v5.3h-2zM83 67.65h4v5.3h-4zM93 67.65h2v5.3h-2zM38 189.55h1v5.3h-1z"/>
<path fill="#ff0200" d="M39 46.45h2v5.3h-2zM55 46.45h2v5.3h-2zM63 46.45h2v5.3h-2zM61 51.75h2v5.3h-2zM71 51.75h2v5.3h-2zM75 51.75h4v5.3h-4zM49 57.05h2v5.3h-2zM61 57.05h2v5.3h-2zM65 57.05h2v5.3h-2zM89 57.05h4v5.3h-4zM97 57.05h2v5.3h-2zM69 62.35h2v5.3h-2zM91 62.35h2v5.3h-2zM41 67.65h2v5.3h-2zM63 67.65h4v5.3h-4zM73 67.65h2v5.3h-2zM91 67.65h2v5.3h-2zM97 67.65h4v5.3h-4z"/>
<path fill="#f10000" d="M91 46.45h2v5.3h-2zM65 51.75h2v5.3h-2zM73 51.75h2v5.3h-2zM89 51.75h2v5.3h-2zM71 57.05h2v5.3h-2zM49 62.35h2v5.3h-2zM61 62.35h6v5.3h-6zM71 62.35h2v5.3h-2zM89 62.35h2v5.3h-2zM97 62.35h2v5.3h-2zM61 67.65h2v5.3h-2zM71 67.65h2v5.3h-2zM38 184.25h1v5.3h-1z"/>
<path fill="#d00000" d="M38 178.95h1v5.3h-1z"/>
<path fill="#c00000" d="M38 41.15h1v5.3h-1zM38 46.45h1v5.3h-1zM38 51.75h1v5.3h-1zM38 57.05h1v5.3h-1zM38 62.35h1v5.3h-1zM38 67.65h1v5.3h-1zM38 72.95h1v5.3h-1zM38 78.25h1v5.3h-1zM38 83.55h1v5.3h-1zM38 88.85h1v5.3h-1zM38 94.15h1v5.3h-1zM38 99.45h1v5.3h-1zM38 104.75h1v5.3h-1zM38 110.05h1v5.3h-1zM38 115.35h1v5.3h-1zM38 120.65h1v5.3h-1zM38 125.95h1v5.3h-1zM38 131.25h1v5.3h-1zM38 136.55h1v5.3h-1zM38 141.85h1v5.3h-1zM38 147.15h1v5.3h-1zM38 152.45h1v5.3h-1zM38 157.75h1v5.3h-1zM38 163.05h1v5.3h-1zM38 168.35h1v5.3h-1zM38 173.65h1v5.3h-1z"/></g>
<rect x="184.8" y="12" width="8.3" height="318" fill="url(#jetg)"/>
<g shape-rendering="crispEdges" filter="url(#bl)"><path fill="#000080" d="M305.4 12h2v2.65h-2zM313.4 12h2v2.65h-2zM327.4 12h2v2.65h-2zM395.4 12h2v2.65h-2zM305.4 14.65h2v5.3h-2zM305.4 19.95h2v5.3h-2zM313.4 19.95h2v5.3h-2zM291.4 25.25h2v5.3h-2zM305.4 25.25h2v5.3h-2zM313.4 25.25h2v5.3h-2zM327.4 25.25h2v5.3h-2zM393.4 25.25h2v5.3h-2zM281.4 30.55h2v5.3h-2zM337.4 30.55h2v5.3h-2zM373.4 30.55h2v5.3h-2zM381.4 30.55h2v5.3h-2zM389.4 30.55h2v5.3h-2z"/>
<path fill="#000090" d="M317.4 12h2v2.65h-2zM335.4 12h2v2.65h-2zM385.4 12h2v2.65h-2zM309.4 14.65h2v5.3h-2zM313.4 14.65h2v5.3h-2zM327.4 14.65h2v5.3h-2zM335.4 14.65h2v5.3h-2zM395.4 14.65h2v5.3h-2zM299.4 19.95h2v5.3h-2zM317.4 19.95h2v5.3h-2zM323.4 25.25h2v5.3h-2zM335.4 25.25h2v5.3h-2zM379.4 25.25h2v5.3h-2zM395.4 25.25h2v5.3h-2zM317.4 30.55h2v5.3h-2zM387.4 279.65h2v5.3h-2z"/>
<path fill="#0000a0" d="M291.4 12h2v2.65h-2zM307.4 12h6v2.65h-6zM323.4 12h4v2.65h-4zM329.4 12h2v2.65h-2zM379.4 12h2v2.65h-2zM317.4 14.65h2v5.3h-2zM325.4 14.65h2v5.3h-2zM363.4 14.65h2v5.3h-2zM385.4 14.65h2v5.3h-2zM393.4 14.65h2v5.3h-2zM291.4 19.95h2v5.3h-2zM295.4 19.95h2v5.3h-2zM309.4 19.95h4v5.3h-4zM323.4 19.95h6v5.3h-6zM335.4 19.95h2v5.3h-2zM353.4 19.95h2v5.3h-2zM385.4 19.95h2v5.3h-2zM393.4 19.95h4v5.3h-4zM309.4 25.25h2v5.3h-2zM317.4 25.25h2v5.3h-2zM373.4 25.25h2v5.3h-2zM321.4 30.55h2v5.3h-2zM379.4 30.55h2v5.3h-2zM377.4 300.85h2v5.3h-2zM297.4 316.75h2v5.3h-2z"/>
<path fill="#0000b0" d="M269.4 12h2v2.65h-2zM297.4 12h4v2.65h-4zM303.4 12h2v2.65h-2zM339.4 12h2v2.65h-2zM359.4 12h2v2.65h-2zM393.4 12h2v2.65h-2zM269.4 14.65h2v5.3h-2zM287.4 14.65h2v5.3h-2zM291.4 14.65h2v5.3h-2zM303.4 14.65h2v5.3h-2zM323.4 14.65h2v5.3h-2zM331.4 14.65h2v5.3h-2zM339.4 14.65h2v5.3h-2zM357.4 14.65h2v5.3h-2zM379.4 14.65h2v5.3h-2zM269.4 19.95h2v5.3h-2zM287.4 19.95h2v5.3h-2zM351.4 19.95h2v5.3h-2zM363.4 19.95h2v5.3h-2zM379.4 19.95h2v5.3h-2zM267.4 25.25h4v5.3h-4zM287.4 25.25h2v5.3h-2zM293.4 25.25h2v5.3h-2zM325.4 25.25h2v5.3h-2zM339.4 25.25h2v5.3h-2zM353.4 25.25h2v5.3h-2zM357.4 25.25h2v5.3h-2zM381.4 25.25h2v5.3h-2zM385.4 25.25h2v5.3h-2zM387.4 30.55h2v5.3h-2zM333.4 35.85h2v5.3h-2z"/>
<path fill="#0000c0" d="M259.4 12h2v2.65h-2zM267.4 12h2v2.65h-2zM287.4 12h2v2.65h-2zM293.4 12h2v2.65h-2zM321.4 12h2v2.65h-2zM331.4 12h4v2.65h-4zM351.4 12h2v2.65h-2zM357.4 12h2v2.65h-2zM363.4 12h4v2.65h-4zM371.4 12h2v2.65h-2zM381.4 12h2v2.65h-2zM389.4 12h2v2.65h-2zM267.4 14.65h2v5.3h-2zM295.4 14.65h6v5.3h-6zM311.4 14.65h2v5.3h-2zM319.4 14.65h2v5.3h-2zM329.4 14.65h2v5.3h-2zM337.4 14.65h2v5.3h-2zM391.4 14.65h2v5.3h-2zM267.4 19.95h2v5.3h-2zM289.4 19.95h2v5.3h-2zM297.4 19.95h2v5.3h-2zM307.4 19.95h2v5.3h-2zM329.4 19.95h4v5.3h-4zM357.4 19.95h2v5.3h-2zM373.4 19.95h2v5.3h-2zM381.4 19.95h2v5.3h-2zM387.4 19.95h2v5.3h-2zM297.4 25.25h4v5.3h-4zM307.4 25.25h2v5.3h-2zM311.4 25.25h2v5.3h-2zM319.4 25.25h4v5.3h-4zM329.4 25.25h6v5.3h-6zM351.4 25.25h2v5.3h-2zM363.4 25.25h2v5.3h-2zM389.4 25.25h2v5.3h-2zM257.4 30.55h2v5.3h-2zM271.4 30.55h2v5.3h-2zM303.4 30.55h2v5.3h-2zM307.4 30.55h2v5.3h-2zM341.4 30.55h2v5.3h-2zM357.4 30.55h2v5.3h-2zM381.4 35.85h2v5.3h-2zM369.4 194.85h2v5.3h-2zM381.4 284.95h2v5.3h-2z"/>
<path fill="#0000d0" d="M261.4 12h2v2.65h-2zM281.4 12h2v2.65h-2zM295.4 12h2v2.65h-2zM301.4 12h2v2.65h-2zM337.4 12h2v2.65h-2zM343.4 12h4v2.65h-4zM373.4 12h2v2.65h-2zM391.4 12h2v2.65h-2zM259.4 14.65h2v5.3h-2zM263.4 14.65h2v5.3h-2zM283.4 14.65h2v5.3h-2zM293.4 14.65h2v5.3h-2zM301.4 14.65h2v5.3h-2zM307.4 14.65h2v5.3h-2zM315.4 14.65h2v5.3h-2zM333.4 14.65h2v5.3h-2zM343.4 14.65h2v5.3h-2zM351.4 14.65h4v5.3h-4zM365.4 14.65h2v5.3h-2zM369.4 14.65h6v5.3h-6zM377.4 14.65h2v5.3h-2zM387.4 14.65h2v5.3h-2zM263.4 19.95h2v5.3h-2zM281.4 19.95h4v5.3h-4zM293.4 19.95h2v5.3h-2zM303.4 19.95h2v5.3h-2zM319.4 19.95h2v5.3h-2zM333.4 19.95h2v5.3h-2zM337.4 19.95h4v5.3h-4zM355.4 19.95h2v5.3h-2zM365.4 19.95h2v5.3h-2zM391.4 19.95h2v5.3h-2zM261.4 25.25h2v5.3h-2zM265.4 25.25h2v5.3h-2zM283.4 25.25h2v5.3h-2zM295.4 25.25h2v5.3h-2zM303.4 25.25h2v5.3h-2zM337.4 25.25h2v5.3h-2zM359.4 25.25h2v5.3h-2zM365.4 25.25h2v5.3h-2zM371.4 25.25h2v5.3h-2zM377.4 25.25h2v5.3h-2zM383.4 25.25h2v5.3h-2zM387.4 25.25h2v5.3h-2zM391.4 25.25h2v5.3h-2zM277.4 30.55h2v5.3h-2zM325.4 30.55h2v5.3h-2zM331.4 30.55h2v5.3h-2zM361.4 30.55h2v5.3h-2zM347.4 237.25h2v5.3h-2z"/>
<path fill="#0000e1" d="M263.4 12h4v2.65h-4zM273.4 12h2v2.65h-2zM283.4 12h4v2.65h-4zM289.4 12h2v2.65h-2zM315.4 12h2v2.65h-2zM319.4 12h2v2.65h-2zM347.4 12h2v2.65h-2zM353.4 12h2v2.65h-2zM361.4 12h2v2.65h-2zM369.4 12h2v2.65h-2zM377.4 12h2v2.65h-2zM387.4 12h2v2.65h-2zM397.4 12h1.2v2.65h-1.2zM261.4 14.65h2v5.3h-2zM273.4 14.65h2v5.3h-2zM281.4 14.65h2v5.3h-2zM289.4 14.65h2v5.3h-2zM321.4 14.65h2v5.3h-2zM345.4 14.65h2v5.3h-2zM361.4 14.65h2v5.3h-2zM375.4 14.65h2v5.3h-2zM381.4 14.65h4v5.3h-4zM389.4 14.65h2v5.3h-2zM259.4 19.95h2v5.3h-2zM301.4 19.95h2v5.3h-2zM315.4 19.95h2v5.3h-2zM321.4 19.95h2v5.3h-2zM343.4 19.95h6v5.3h-6zM359.4 19.95h2v5.3h-2zM367.4 19.95h2v5.3h-2zM371.4 19.95h2v5.3h-2zM383.4 19.95h2v5.3h-2zM389.4 19.95h2v5.3h-2zM257.4 25.25h2v5.3h-2zM273.4 25.25h2v5.3h-2zM281.4 25.25h2v5.3h-2zM285.4 25.25h2v5.3h-2zM315.4 25.25h2v5.3h-2zM341.4 25.25h8v5.3h-8zM355.4 25.25h2v5.3h-2zM361.4 25.25h2v5.3h-2zM367.4 25.25h2v5.3h-2zM269.4 30.55h2v5.3h-2zM309.4 30.55h2v5.3h-2zM333.4 30.55h2v5.3h-2zM351.4 30.55h2v5.3h-2zM397.4 30.55h1.2v5.3h-1.2zM297.4 35.85h2v5.3h-2zM347.4 300.85h2v5.3h-2zM357.4 322.05h2v5.3h-2z"/>
<path fill="#0000f1" d="M341.4 12h2v2.65h-2zM349.4 12h2v2.65h-2zM355.4 12h2v2.65h-2zM383.4 12h2v2.65h-2zM265.4 14.65h2v5.3h-2zM341.4 14.65h2v5.3h-2zM359.4 14.65h2v5.3h-2zM367.4 14.65h2v5.3h-2zM261.4 19.95h2v5.3h-2zM265.4 19.95h2v5.3h-2zM273.4 19.95h4v5.3h-4zM341.4 19.95h2v5.3h-2zM369.4 19.95h2v5.3h-2zM377.4 19.95h2v5.3h-2zM397.4 19.95h1.2v5.3h-1.2zM259.4 25.25h2v5.3h-2zM263.4 25.25h2v5.3h-2zM289.4 25.25h2v5.3h-2zM301.4 25.25h2v5.3h-2zM369.4 25.25h2v5.3h-2zM397.4 25.25h1.2v5.3h-1.2zM295.4 30.55h2v5.3h-2zM315.4 30.55h2v5.3h-2zM347.4 30.55h4v5.3h-4zM353.4 30.55h2v5.3h-2zM367.4 30.55h4v5.3h-4zM375.4 30.55h4v5.3h-4zM391.4 30.55h2v5.3h-2zM349.4 35.85h2v5.3h-2zM397.4 200.15h1.2v5.3h-1.2zM377.4 263.75h2v5.3h-2zM361.4 274.35h2v5.3h-2zM363.4 295.55h2v5.3h-2zM321.4 300.85h2v5.3h-2zM371.4 306.15h2v5.3h-2z"/>
<path fill="#0002ff" d="M257.4 12h2v2.65h-2zM285.4 14.65h2v5.3h-2zM347.4 14.65h4v5.3h-4zM355.4 14.65h2v5.3h-2zM397.4 14.65h1.2v5.3h-1.2zM349.4 19.95h2v5.3h-2zM361.4 19.95h2v5.3h-2zM375.4 19.95h2v5.3h-2zM375.4 25.25h2v5.3h-2zM261.4 30.55h2v5.3h-2zM273.4 30.55h2v5.3h-2zM283.4 30.55h4v5.3h-4zM297.4 30.55h2v5.3h-2zM305.4 30.55h2v5.3h-2zM319.4 30.55h2v5.3h-2zM323.4 30.55h2v5.3h-2zM335.4 30.55h2v5.3h-2zM339.4 30.55h2v5.3h-2zM363.4 30.55h2v5.3h-2zM395.4 30.55h2v5.3h-2zM285.4 35.85h2v5.3h-2zM351.4 41.15h2v5.3h-2zM377.4 194.85h2v5.3h-2zM299.4 210.75h2v5.3h-2zM327.4 221.35h2v5.3h-2zM381.4 247.85h2v5.3h-2zM395.4 263.75h2v5.3h-2zM301.4 327.35h2v2.65h-2z"/>
<path fill="#0012ff" d="M275.4 12h4v2.65h-4zM367.4 12h2v2.65h-2zM375.4 12h2v2.65h-2zM257.4 14.65h2v5.3h-2zM275.4 14.65h2v5.3h-2zM285.4 19.95h2v5.3h-2zM349.4 25.25h2v5.3h-2zM263.4 30.55h4v5.3h-4zM291.4 30.55h2v5.3h-2zM327.4 30.55h2v5.3h-2zM355.4 30.55h2v5.3h-2zM359.4 30.55h2v5.3h-2zM319.4 35.85h4v5.3h-4zM335.4 35.85h2v5.3h-2zM347.4 35.85h2v5.3h-2zM353.4 35.85h2v5.3h-2zM359.4 35.85h2v5.3h-2zM385.4 35.85h2v5.3h-2zM271.4 41.15h2v5.3h-2zM295.4 41.15h2v5.3h-2zM395.4 41.15h2v5.3h-2zM395.4 152.45h2v5.3h-2zM339.4 178.95h2v5.3h-2zM295.4 237.25h2v5.3h-2zM299.4 258.45h2v5.3h-2z"/>
<path fill="#0022ff" d="M256.4 12h1v2.65h-1zM279.4 12h2v2.65h-2zM279.4 14.65h2v5.3h-2zM257.4 19.95h2v5.3h-2zM271.4 19.95h2v5.3h-2zM279.4 19.95h2v5.3h-2zM271.4 25.25h2v5.3h-2zM275.4 25.25h6v5.3h-6zM259.4 30.55h2v5.3h-2zM293.4 30.55h2v5.3h-2zM329.4 30.55h2v5.3h-2zM365.4 30.55h2v5.3h-2zM383.4 30.55h4v5.3h-4zM323.4 35.85h2v5.3h-2zM341.4 35.85h2v5.3h-2zM345.4 35.85h2v5.3h-2zM381.4 41.15h2v5.3h-2zM381.4 46.45h2v5.3h-2zM347.4 173.65h2v5.3h-2zM291.4 200.15h2v5.3h-2zM339.4 200.15h2v5.3h-2zM393.4 200.15h2v5.3h-2zM347.4 263.75h2v5.3h-2zM389.4 274.35h2v5.3h-2zM281.4 290.25h2v5.3h-2zM349.4 322.05h2v5.3h-2zM389.4 322.05h2v5.3h-2zM359.4 327.35h2v2.65h-2zM367.4 327.35h2v2.65h-2z"/>
<path fill="#0033ff" d="M271.4 12h2v2.65h-2zM256.4 14.65h1v5.3h-1zM271.4 14.65h2v5.3h-2zM277.4 14.65h2v5.3h-2zM256.4 19.95h1v5.3h-1zM277.4 19.95h2v5.3h-2zM256.4 25.25h1v5.3h-1zM256.4 30.55h1v5.3h-1zM289.4 30.55h2v5.3h-2zM313.4 30.55h2v5.3h-2zM345.4 30.55h2v5.3h-2zM393.4 30.55h2v5.3h-2zM325.4 35.85h2v5.3h-2zM351.4 35.85h2v5.3h-2zM373.4 35.85h2v5.3h-2zM387.4 35.85h2v5.3h-2zM397.4 35.85h1.2v5.3h-1.2zM357.4 41.15h2v5.3h-2zM365.4 41.15h2v5.3h-2zM345.4 51.75h2v5.3h-2zM395.4 104.75h2v5.3h-2zM357.4 168.35h2v5.3h-2zM377.4 168.35h2v5.3h-2zM369.4 173.65h2v5.3h-2zM393.4 173.65h2v5.3h-2zM343.4 205.45h2v5.3h-2zM357.4 205.45h2v5.3h-2zM371.4 216.05h2v5.3h-2zM381.4 231.95h2v5.3h-2zM369.4 237.25h2v5.3h-2zM381.4 242.55h2v5.3h-2zM351.4 247.85h2v5.3h-2zM357.4 263.75h2v5.3h-2zM351.4 269.05h2v5.3h-2zM375.4 274.35h2v5.3h-2zM347.4 284.95h2v5.3h-2zM291.4 300.85h2v5.3h-2zM353.4 306.15h2v5.3h-2zM383.4 322.05h4v5.3h-4zM357.4 327.35h2v2.65h-2zM389.4 327.35h2v2.65h-2z"/>
<path fill="#0043ff" d="M279.4 30.55h2v5.3h-2zM287.4 30.55h2v5.3h-2zM265.4 35.85h2v5.3h-2zM355.4 35.85h2v5.3h-2zM377.4 35.85h2v5.3h-2zM263.4 41.15h2v5.3h-2zM283.4 41.15h4v5.3h-4zM397.4 88.85h1.2v5.3h-1.2zM395.4 94.15h2v5.3h-2zM369.4 141.85h2v5.3h-2zM391.4 141.85h2v5.3h-2zM393.4 147.15h2v5.3h-2zM373.4 157.75h2v5.3h-2zM385.4 168.35h2v5.3h-2zM397.4 178.95h1.2v5.3h-1.2zM377.4 184.25h2v5.3h-2zM377.4 189.55h2v5.3h-2zM391.4 189.55h2v5.3h-2zM397.4 189.55h1.2v5.3h-1.2zM363.4 194.85h2v5.3h-2zM357.4 200.15h2v5.3h-2zM377.4 205.45h2v5.3h-2zM391.4 205.45h2v5.3h-2zM391.4 210.75h2v5.3h-2zM373.4 216.05h2v5.3h-2zM389.4 216.05h2v5.3h-2zM393.4 216.05h2v5.3h-2zM351.4 221.35h2v5.3h-2zM371.4 231.95h2v5.3h-2zM379.4 247.85h2v5.3h-2zM347.4 269.05h2v5.3h-2zM391.4 269.05h2v5.3h-2zM397.4 274.35h1.2v5.3h-1.2zM347.4 295.55h2v5.3h-2zM277.4 300.85h2v5.3h-2zM389.4 300.85h2v5.3h-2zM349.4 316.75h2v5.3h-2z"/>
<path fill="#0053ff" d="M267.4 30.55h2v5.3h-2zM299.4 30.55h4v5.3h-4zM311.4 30.55h2v5.3h-2zM343.4 30.55h2v5.3h-2zM269.4 35.85h2v5.3h-2zM291.4 35.85h2v5.3h-2zM299.4 35.85h2v5.3h-2zM305.4 35.85h2v5.3h-2zM315.4 35.85h4v5.3h-4zM331.4 35.85h2v5.3h-2zM357.4 35.85h2v5.3h-2zM379.4 35.85h2v5.3h-2zM383.4 35.85h2v5.3h-2zM315.4 41.15h2v5.3h-2zM389.4 41.15h2v5.3h-2zM271.4 46.45h2v5.3h-2zM341.4 51.75h2v5.3h-2zM389.4 51.75h2v5.3h-2zM377.4 57.05h2v5.3h-2zM397.4 57.05h1.2v5.3h-1.2zM349.4 152.45h2v5.3h-2zM367.4 152.45h2v5.3h-2zM377.4 157.75h2v5.3h-2zM343.4 168.35h2v5.3h-2zM359.4 168.35h2v5.3h-2zM393.4 168.35h2v5.3h-2zM325.4 184.25h2v5.3h-2zM359.4 184.25h2v5.3h-2zM385.4 184.25h2v5.3h-2zM363.4 189.55h2v5.3h-2zM393.4 189.55h2v5.3h-2zM331.4 200.15h2v5.3h-2zM385.4 200.15h2v5.3h-2zM387.4 205.45h2v5.3h-2zM315.4 210.75h2v5.3h-2zM297.4 221.35h2v5.3h-2zM375.4 221.35h2v5.3h-2zM327.4 226.65h2v5.3h-2zM389.4 226.65h2v5.3h-2zM271.4 231.95h2v5.3h-2zM387.4 231.95h2v5.3h-2zM303.4 237.25h2v5.3h-2zM337.4 242.55h4v5.3h-4zM373.4 242.55h2v5.3h-2zM377.4 247.85h2v5.3h-2zM331.4 258.45h2v5.3h-2zM339.4 258.45h2v5.3h-2zM351.4 258.45h2v5.3h-2zM381.4 258.45h2v5.3h-2zM393.4 258.45h5.2v5.3h-5.2zM307.4 263.75h2v5.3h-2zM325.4 263.75h2v5.3h-2zM351.4 263.75h2v5.3h-2zM359.4 274.35h2v5.3h-2zM341.4 290.25h2v5.3h-2zM327.4 300.85h2v5.3h-2zM381.4 306.15h2v5.3h-2zM351.4 311.45h2v5.3h-2zM357.4 311.45h2v5.3h-2zM379.4 311.45h2v5.3h-2zM391.4 316.75h2v5.3h-2zM331.4 327.35h2v2.65h-2zM363.4 327.35h2v2.65h-2z"/>
<path fill="#0063ff" d="M371.4 30.55h2v5.3h-2zM271.4 35.85h2v5.3h-2zM281.4 35.85h4v5.3h-4zM303.4 35.85h2v5.3h-2zM307.4 35.85h2v5.3h-2zM313.4 35.85h2v5.3h-2zM337.4 35.85h2v5.3h-2zM365.4 35.85h4v5.3h-4zM375.4 35.85h2v5.3h-2zM393.4 35.85h2v5.3h-2zM265.4 41.15h2v5.3h-2zM299.4 41.15h2v5.3h-2zM397.4 41.15h1.2v5.3h-1.2zM349.4 46.45h2v5.3h-2zM359.4 46.45h2v5.3h-2zM391.4 46.45h2v5.3h-2zM397.4 46.45h1.2v5.3h-1.2zM397.4 62.35h1.2v5.3h-1.2zM395.4 78.25h2v5.3h-2zM391.4 99.45h2v5.3h-2zM391.4 125.95h2v5.3h-2zM359.4 152.45h2v5.3h-2zM307.4 157.75h2v5.3h-2zM389.4 157.75h2v5.3h-2zM315.4 163.05h2v5.3h-2zM279.4 168.35h2v5.3h-2zM347.4 168.35h2v5.3h-2zM363.4 184.25h2v5.3h-2zM275.4 189.55h2v5.3h-2zM327.4 194.85h2v5.3h-2zM379.4 194.85h2v5.3h-2zM397.4 194.85h1.2v5.3h-1.2zM303.4 200.15h4v5.3h-4zM335.4 200.15h2v5.3h-2zM397.4 205.45h1.2v5.3h-1.2zM363.4 210.75h2v5.3h-2zM377.4 210.75h2v5.3h-2zM381.4 210.75h4v5.3h-4zM387.4 210.75h2v5.3h-2zM363.4 216.05h2v5.3h-2zM377.4 216.05h4v5.3h-4zM377.4 226.65h2v5.3h-2zM347.4 231.95h2v5.3h-2zM351.4 231.95h2v5.3h-2zM257.4 237.25h2v5.3h-2zM391.4 237.25h2v5.3h-2zM285.4 242.55h2v5.3h-2zM303.4 242.55h2v5.3h-2zM377.4 242.55h2v5.3h-2zM321.4 247.85h2v5.3h-2zM383.4 247.85h2v5.3h-2zM387.4 247.85h2v5.3h-2zM347.4 253.15h2v5.3h-2zM359.4 253.15h2v5.3h-2zM389.4 253.15h2v5.3h-2zM285.4 258.45h2v5.3h-2zM367.4 258.45h2v5.3h-2zM267.4 263.75h2v5.3h-2zM335.4 263.75h2v5.3h-2zM373.4 263.75h2v5.3h-2zM391.4 263.75h2v5.3h-2zM381.4 269.05h4v5.3h-4zM387.4 269.05h2v5.3h-2zM351.4 274.35h2v5.3h-2zM395.4 274.35h2v5.3h-2zM359.4 279.65h2v5.3h-2zM381.4 279.65h2v5.3h-2zM387.4 284.95h2v5.3h-2zM333.4 290.25h2v5.3h-2zM359.4 290.25h2v5.3h-2zM381.4 290.25h2v5.3h-2zM319.4 295.55h2v5.3h-2zM357.4 300.85h2v5.3h-2zM373.4 300.85h2v5.3h-2zM391.4 300.85h2v5.3h-2zM345.4 306.15h2v5.3h-2zM367.4 306.15h2v5.3h-2zM393.4 306.15h2v5.3h-2zM347.4 311.45h2v5.3h-2zM377.4 311.45h2v5.3h-2zM389.4 311.45h2v5.3h-2zM339.4 316.75h2v5.3h-2zM389.4 316.75h2v5.3h-2zM313.4 322.05h2v5.3h-2zM329.4 322.05h2v5.3h-2zM373.4 327.35h2v2.65h-2zM385.4 327.35h2v2.65h-2zM393.4 327.35h2v2.65h-2z"/>
<path fill="#0073ff" d="M256.4 35.85h1v5.3h-1zM363.4 35.85h2v5.3h-2zM389.4 35.85h2v5.3h-2zM395.4 35.85h2v5.3h-2zM321.4 41.15h2v5.3h-2zM369.4 41.15h2v5.3h-2zM385.4 41.15h2v5.3h-2zM273.4 46.45h2v5.3h-2zM361.4 46.45h2v5.3h-2zM379.4 62.35h2v5.3h-2zM387.4 62.35h2v5.3h-2zM383.4 78.25h2v5.3h-2zM381.4 94.15h2v5.3h-2zM367.4 99.45h2v5.3h-2zM397.4 104.75h1.2v5.3h-1.2zM393.4 131.25h2v5.3h-2zM383.4 141.85h2v5.3h-2zM353.4 147.15h2v5.3h-2zM391.4 147.15h2v5.3h-2zM393.4 152.45h2v5.3h-2zM355.4 163.05h2v5.3h-2zM391.4 163.05h2v5.3h-2zM315.4 168.35h2v5.3h-2zM355.4 168.35h2v5.3h-2zM345.4 173.65h2v5.3h-2zM385.4 173.65h2v5.3h-2zM291.4 178.95h2v5.3h-2zM327.4 178.95h2v5.3h-2zM379.4 178.95h2v5.3h-2zM395.4 178.95h2v5.3h-2zM393.4 184.25h2v5.3h-2zM397.4 184.25h1.2v5.3h-1.2zM337.4 189.55h2v5.3h-2zM353.4 189.55h2v5.3h-2zM261.4 200.15h2v5.3h-2zM371.4 200.15h2v5.3h-2zM375.4 200.15h4v5.3h-4zM359.4 205.45h2v5.3h-2zM351.4 216.05h2v5.3h-2zM325.4 221.35h2v5.3h-2zM347.4 221.35h2v5.3h-2zM391.4 221.35h2v5.3h-2zM287.4 226.65h2v5.3h-2zM295.4 226.65h2v5.3h-2zM379.4 226.65h2v5.3h-2zM391.4 226.65h4v5.3h-4zM345.4 231.95h2v5.3h-2zM373.4 231.95h2v5.3h-2zM391.4 231.95h2v5.3h-2zM271.4 237.25h2v5.3h-2zM287.4 237.25h2v5.3h-2zM377.4 237.25h2v5.3h-2zM313.4 242.55h2v5.3h-2zM387.4 242.55h2v5.3h-2zM315.4 247.85h2v5.3h-2zM369.4 247.85h2v5.3h-2zM351.4 253.15h2v5.3h-2zM317.4 258.45h2v5.3h-2zM359.4 258.45h2v5.3h-2zM257.4 263.75h2v5.3h-2zM263.4 263.75h2v5.3h-2zM291.4 263.75h2v5.3h-2zM319.4 263.75h2v5.3h-2zM331.4 263.75h2v5.3h-2zM265.4 269.05h2v5.3h-2zM357.4 269.05h2v5.3h-2zM377.4 269.05h2v5.3h-2zM291.4 274.35h2v5.3h-2zM309.4 274.35h2v5.3h-2zM315.4 274.35h2v5.3h-2zM381.4 274.35h2v5.3h-2zM345.4 279.65h2v5.3h-2zM397.4 279.65h1.2v5.3h-1.2zM339.4 284.95h2v5.3h-2zM371.4 284.95h2v5.3h-2zM297.4 290.25h2v5.3h-2zM343.4 290.25h2v5.3h-2zM379.4 290.25h2v5.3h-2zM389.4 290.25h2v5.3h-2zM279.4 295.55h2v5.3h-2zM345.4 295.55h2v5.3h-2zM365.4 295.55h2v5.3h-2zM375.4 295.55h2v5.3h-2zM387.4 295.55h2v5.3h-2zM391.4 295.55h2v5.3h-2zM301.4 300.85h2v5.3h-2zM385.4 300.85h2v5.3h-2zM299.4 306.15h2v5.3h-2zM313.4 306.15h2v5.3h-2zM347.4 306.15h2v5.3h-2zM365.4 306.15h2v5.3h-2zM373.4 306.15h2v5.3h-2zM377.4 306.15h2v5.3h-2zM361.4 311.45h2v5.3h-2zM371.4 311.45h2v5.3h-2zM375.4 311.45h2v5.3h-2zM385.4 311.45h2v5.3h-2zM257.4 316.75h2v5.3h-2zM347.4 316.75h2v5.3h-2zM355.4 316.75h2v5.3h-2zM365.4 316.75h2v5.3h-2zM281.4 322.05h2v5.3h-2zM333.4 322.05h2v5.3h-2zM339.4 322.05h4v5.3h-4zM355.4 322.05h2v5.3h-2zM373.4 322.05h2v5.3h-2zM391.4 322.05h2v5.3h-2zM397.4 322.05h1.2v5.3h-1.2zM281.4 327.35h2v2.65h-2zM323.4 327.35h2v2.65h-2zM355.4 327.35h2v2.65h-2z"/>
<path fill="#0084ff" d="M263.4 35.85h2v5.3h-2zM275.4 35.85h2v5.3h-2zM311.4 35.85h2v5.3h-2zM339.4 35.85h2v5.3h-2zM361.4 35.85h2v5.3h-2zM369.4 35.85h2v5.3h-2zM391.4 35.85h2v5.3h-2zM257.4 41.15h2v5.3h-2zM303.4 41.15h2v5.3h-2zM311.4 41.15h2v5.3h-2zM317.4 41.15h4v5.3h-4zM331.4 41.15h2v5.3h-2zM349.4 41.15h2v5.3h-2zM359.4 41.15h4v5.3h-4zM371.4 41.15h2v5.3h-2zM377.4 41.15h2v5.3h-2zM303.4 46.45h2v5.3h-2zM315.4 46.45h2v5.3h-2zM321.4 46.45h2v5.3h-2zM347.4 46.45h2v5.3h-2zM371.4 46.45h4v5.3h-4zM377.4 46.45h2v5.3h-2zM341.4 57.05h2v5.3h-2zM351.4 57.05h2v5.3h-2zM369.4 57.05h2v5.3h-2zM339.4 62.35h2v5.3h-2zM367.4 62.35h2v5.3h-2zM365.4 72.95h2v5.3h-2zM385.4 83.55h2v5.3h-2zM383.4 94.15h2v5.3h-2zM389.4 104.75h2v5.3h-2zM391.4 110.05h2v5.3h-2zM381.4 115.35h2v5.3h-2zM389.4 136.55h2v5.3h-2zM315.4 141.85h2v5.3h-2zM393.4 141.85h2v5.3h-2zM315.4 147.15h2v5.3h-2zM389.4 152.45h2v5.3h-2zM397.4 152.45h1.2v5.3h-1.2zM289.4 157.75h2v5.3h-2zM393.4 157.75h2v5.3h-2zM295.4 163.05h2v5.3h-2zM347.4 163.05h2v5.3h-2zM351.4 163.05h2v5.3h-2zM389.4 163.05h2v5.3h-2zM311.4 168.35h2v5.3h-2zM353.4 168.35h2v5.3h-2zM361.4 168.35h2v5.3h-2zM391.4 168.35h2v5.3h-2zM331.4 173.65h2v5.3h-2zM397.4 173.65h1.2v5.3h-1.2zM289.4 178.95h2v5.3h-2zM293.4 178.95h2v5.3h-2zM331.4 184.25h2v5.3h-2zM371.4 184.25h2v5.3h-2zM267.4 189.55h2v5.3h-2zM381.4 189.55h2v5.3h-2zM343.4 200.15h2v5.3h-2zM363.4 200.15h2v5.3h-2zM339.4 205.45h2v5.3h-2zM381.4 205.45h4v5.3h-4zM259.4 210.75h2v5.3h-2zM275.4 210.75h2v5.3h-2zM281.4 210.75h2v5.3h-2zM349.4 210.75h2v5.3h-2zM361.4 210.75h2v5.3h-2zM341.4 216.05h2v5.3h-2zM349.4 216.05h2v5.3h-2zM367.4 216.05h2v5.3h-2zM375.4 216.05h2v5.3h-2zM381.4 216.05h2v5.3h-2zM391.4 216.05h2v5.3h-2zM395.4 216.05h2v5.3h-2zM279.4 221.35h2v5.3h-2zM319.4 221.35h2v5.3h-2zM361.4 221.35h2v5.3h-2zM367.4 221.35h2v5.3h-2zM393.4 221.35h2v5.3h-2zM325.4 231.95h4v5.3h-4zM331.4 231.95h2v5.3h-2zM357.4 231.95h2v5.3h-2zM379.4 231.95h2v5.3h-2zM327.4 237.25h2v5.3h-2zM355.4 237.25h2v5.3h-2zM359.4 237.25h2v5.3h-2zM393.4 237.25h2v5.3h-2zM355.4 242.55h2v5.3h-2zM371.4 247.85h2v5.3h-2zM393.4 247.85h2v5.3h-2zM357.4 253.15h2v5.3h-2zM379.4 253.15h2v5.3h-2zM309.4 258.45h2v5.3h-2zM343.4 258.45h2v5.3h-2zM349.4 258.45h2v5.3h-2zM383.4 258.45h2v5.3h-2zM387.4 258.45h2v5.3h-2zM367.4 263.75h2v5.3h-2zM383.4 263.75h2v5.3h-2zM393.4 263.75h2v5.3h-2zM279.4 269.05h2v5.3h-2zM319.4 269.05h2v5.3h-2zM373.4 269.05h2v5.3h-2zM393.4 269.05h2v5.3h-2zM397.4 269.05h1.2v5.3h-1.2zM275.4 274.35h2v5.3h-2zM293.4 274.35h2v5.3h-2zM331.4 274.35h2v5.3h-2zM371.4 274.35h2v5.3h-2zM341.4 279.65h2v5.3h-2zM367.4 279.65h2v5.3h-2zM371.4 279.65h2v5.3h-2zM377.4 279.65h4v5.3h-4zM383.4 279.65h2v5.3h-2zM393.4 279.65h4v5.3h-4zM271.4 284.95h2v5.3h-2zM281.4 284.95h2v5.3h-2zM291.4 284.95h2v5.3h-2zM385.4 284.95h2v5.3h-2zM391.4 284.95h2v5.3h-2zM395.4 284.95h2v5.3h-2zM363.4 290.25h2v5.3h-2zM311.4 295.55h2v5.3h-2zM383.4 300.85h2v5.3h-2zM393.4 300.85h2v5.3h-2zM363.4 311.45h2v5.3h-2zM367.4 311.45h2v5.3h-2zM381.4 311.45h2v5.3h-2zM391.4 311.45h6v5.3h-6zM259.4 316.75h2v5.3h-2zM271.4 316.75h2v5.3h-2zM315.4 316.75h2v5.3h-2zM341.4 316.75h2v5.3h-2zM357.4 316.75h2v5.3h-2zM367.4 316.75h2v5.3h-2zM371.4 316.75h6v5.3h-6zM259.4 322.05h2v5.3h-2zM331.4 322.05h2v5.3h-2zM347.4 322.05h2v5.3h-2zM353.4 322.05h2v5.3h-2zM367.4 322.05h2v5.3h-2zM293.4 327.35h2v2.65h-2zM317.4 327.35h2v2.65h-2zM321.4 327.35h2v2.65h-2zM371.4 327.35h2v2.65h-2zM387.4 327.35h2v2.65h-2z"/>
<path fill="#0094ff" d="M275.4 30.55h2v5.3h-2zM273.4 35.85h2v5.3h-2zM279.4 35.85h2v5.3h-2zM293.4 35.85h2v5.3h-2zM301.4 35.85h2v5.3h-2zM309.4 35.85h2v5.3h-2zM329.4 35.85h2v5.3h-2zM343.4 35.85h2v5.3h-2zM273.4 41.15h2v5.3h-2zM305.4 41.15h2v5.3h-2zM335.4 41.15h2v5.3h-2zM343.4 41.15h4v5.3h-4zM379.4 41.15h2v5.3h-2zM387.4 41.15h2v5.3h-2zM391.4 41.15h2v5.3h-2zM279.4 46.45h2v5.3h-2zM329.4 46.45h2v5.3h-2zM343.4 46.45h2v5.3h-2zM353.4 46.45h2v5.3h-2zM375.4 46.45h2v5.3h-2zM309.4 51.75h2v5.3h-2zM353.4 51.75h2v5.3h-2zM377.4 51.75h2v5.3h-2zM381.4 51.75h2v5.3h-2zM397.4 51.75h1.2v5.3h-1.2zM313.4 57.05h2v5.3h-2zM321.4 57.05h2v5.3h-2zM373.4 67.65h2v5.3h-2zM391.4 67.65h2v5.3h-2zM377.4 72.95h2v5.3h-2zM389.4 72.95h2v5.3h-2zM395.4 72.95h2v5.3h-2zM389.4 78.25h2v5.3h-2zM377.4 83.55h2v5.3h-2zM383.4 88.85h2v5.3h-2zM389.4 88.85h2v5.3h-2zM389.4 94.15h2v5.3h-2zM377.4 99.45h2v5.3h-2zM397.4 99.45h1.2v5.3h-1.2zM391.4 104.75h2v5.3h-2zM347.4 120.65h2v5.3h-2zM393.4 120.65h2v5.3h-2zM365.4 147.15h2v5.3h-2zM385.4 147.15h2v5.3h-2zM319.4 152.45h2v5.3h-2zM363.4 152.45h2v5.3h-2zM371.4 157.75h2v5.3h-2zM357.4 163.05h2v5.3h-2zM365.4 163.05h2v5.3h-2zM381.4 163.05h2v5.3h-2zM393.4 163.05h2v5.3h-2zM333.4 168.35h2v5.3h-2zM363.4 168.35h2v5.3h-2zM279.4 173.65h2v5.3h-2zM293.4 173.65h2v5.3h-2zM299.4 173.65h2v5.3h-2zM389.4 173.65h2v5.3h-2zM321.4 178.95h2v5.3h-2zM347.4 178.95h2v5.3h-2zM359.4 178.95h2v5.3h-2zM393.4 178.95h2v5.3h-2zM309.4 184.25h2v5.3h-2zM351.4 184.25h2v5.3h-2zM381.4 184.25h2v5.3h-2zM395.4 184.25h2v5.3h-2zM303.4 189.55h2v5.3h-2zM395.4 189.55h2v5.3h-2zM369.4 200.15h2v5.3h-2zM381.4 200.15h2v5.3h-2zM389.4 200.15h2v5.3h-2zM395.4 200.15h2v5.3h-2zM365.4 205.45h2v5.3h-2zM359.4 210.75h2v5.3h-2zM395.4 210.75h2v5.3h-2zM383.4 216.05h2v5.3h-2zM295.4 221.35h2v5.3h-2zM305.4 221.35h2v5.3h-2zM331.4 221.35h2v5.3h-2zM345.4 221.35h2v5.3h-2zM377.4 221.35h4v5.3h-4zM383.4 221.35h8v5.3h-8zM395.4 221.35h2v5.3h-2zM347.4 226.65h4v5.3h-4zM353.4 226.65h2v5.3h-2zM357.4 226.65h2v5.3h-2zM361.4 226.65h2v5.3h-2zM395.4 226.65h2v5.3h-2zM263.4 231.95h2v5.3h-2zM293.4 231.95h2v5.3h-2zM355.4 231.95h2v5.3h-2zM375.4 231.95h2v5.3h-2zM293.4 237.25h2v5.3h-2zM339.4 237.25h2v5.3h-2zM349.4 237.25h4v5.3h-4zM381.4 237.25h2v5.3h-2zM389.4 237.25h2v5.3h-2zM287.4 242.55h2v5.3h-2zM315.4 242.55h2v5.3h-2zM375.4 242.55h2v5.3h-2zM385.4 242.55h2v5.3h-2zM267.4 247.85h2v5.3h-2zM295.4 247.85h2v5.3h-2zM301.4 247.85h2v5.3h-2zM307.4 247.85h2v5.3h-2zM311.4 253.15h2v5.3h-2zM337.4 253.15h4v5.3h-4zM353.4 253.15h2v5.3h-2zM361.4 253.15h2v5.3h-2zM365.4 253.15h2v5.3h-2zM369.4 253.15h2v5.3h-2zM263.4 258.45h2v5.3h-2zM333.4 258.45h2v5.3h-2zM373.4 258.45h6v5.3h-6zM389.4 258.45h2v5.3h-2zM259.4 263.75h2v5.3h-2zM281.4 263.75h2v5.3h-2zM303.4 263.75h2v5.3h-2zM323.4 263.75h2v5.3h-2zM353.4 263.75h2v5.3h-2zM361.4 263.75h2v5.3h-2zM365.4 263.75h2v5.3h-2zM387.4 263.75h2v5.3h-2zM339.4 269.05h2v5.3h-2zM363.4 269.05h2v5.3h-2zM299.4 274.35h2v5.3h-2zM349.4 274.35h2v5.3h-2zM365.4 274.35h2v5.3h-2zM369.4 274.35h2v5.3h-2zM387.4 274.35h2v5.3h-2zM393.4 274.35h2v5.3h-2zM269.4 279.65h2v5.3h-2zM281.4 279.65h2v5.3h-2zM297.4 279.65h2v5.3h-2zM311.4 279.65h2v5.3h-2zM347.4 279.65h2v5.3h-2zM351.4 279.65h2v5.3h-2zM357.4 279.65h2v5.3h-2zM257.4 284.95h2v5.3h-2zM351.4 284.95h2v5.3h-2zM355.4 284.95h4v5.3h-4zM369.4 284.95h2v5.3h-2zM265.4 290.25h2v5.3h-2zM319.4 290.25h2v5.3h-2zM339.4 290.25h2v5.3h-2zM347.4 290.25h2v5.3h-2zM355.4 290.25h2v5.3h-2zM365.4 290.25h2v5.3h-2zM371.4 290.25h2v5.3h-2zM385.4 290.25h2v5.3h-2zM397.4 290.25h1.2v5.3h-1.2zM325.4 295.55h2v5.3h-2zM355.4 295.55h2v5.3h-2zM373.4 295.55h2v5.3h-2zM383.4 295.55h2v5.3h-2zM269.4 300.85h2v5.3h-2zM371.4 300.85h2v5.3h-2zM395.4 300.85h2v5.3h-2zM287.4 306.15h4v5.3h-4zM325.4 306.15h2v5.3h-2zM355.4 306.15h4v5.3h-4zM363.4 306.15h2v5.3h-2zM375.4 306.15h2v5.3h-2zM385.4 306.15h2v5.3h-2zM321.4 311.45h2v5.3h-2zM325.4 311.45h2v5.3h-2zM355.4 311.45h2v5.3h-2zM293.4 316.75h2v5.3h-2zM321.4 316.75h2v5.3h-2zM327.4 322.05h2v5.3h-2zM361.4 322.05h2v5.3h-2zM381.4 322.05h2v5.3h-2zM395.4 322.05h2v5.3h-2zM273.4 327.35h2v2.65h-2zM277.4 327.35h2v2.65h-2zM285.4 327.35h2v2.65h-2zM315.4 327.35h2v2.65h-2zM337.4 327.35h2v2.65h-2zM341.4 327.35h2v2.65h-2z"/>
<path fill="#00a4ff" d="M277.4 35.85h2v5.3h-2zM289.4 35.85h2v5.3h-2zM327.4 35.85h2v5.3h-2zM371.4 35.85h2v5.3h-2zM277.4 41.15h2v5.3h-2zM293.4 41.15h2v5.3h-2zM323.4 41.15h4v5.3h-4zM341.4 41.15h2v5.3h-2zM355.4 41.15h2v5.3h-2zM367.4 41.15h2v5.3h-2zM373.4 41.15h2v5.3h-2zM363.4 46.45h2v5.3h-2zM369.4 46.45h2v5.3h-2zM385.4 46.45h4v5.3h-4zM275.4 51.75h2v5.3h-2zM347.4 51.75h2v5.3h-2zM357.4 51.75h2v5.3h-2zM369.4 51.75h4v5.3h-4zM335.4 57.05h2v5.3h-2zM389.4 57.05h2v5.3h-2zM345.4 62.35h2v5.3h-2zM297.4 67.65h2v5.3h-2zM345.4 72.95h2v5.3h-2zM305.4 78.25h2v5.3h-2zM351.4 78.25h2v5.3h-2zM381.4 78.25h2v5.3h-2zM385.4 78.25h2v5.3h-2zM381.4 83.55h2v5.3h-2zM377.4 88.85h2v5.3h-2zM369.4 94.15h2v5.3h-2zM389.4 99.45h2v5.3h-2zM379.4 104.75h2v5.3h-2zM383.4 104.75h2v5.3h-2zM389.4 110.05h2v5.3h-2zM393.4 115.35h2v5.3h-2zM389.4 120.65h2v5.3h-2zM379.4 125.95h2v5.3h-2zM383.4 125.95h2v5.3h-2zM389.4 125.95h2v5.3h-2zM355.4 131.25h2v5.3h-2zM393.4 136.55h2v5.3h-2zM373.4 141.85h2v5.3h-2zM289.4 147.15h2v5.3h-2zM383.4 147.15h2v5.3h-2zM395.4 147.15h2v5.3h-2zM307.4 152.45h2v5.3h-2zM303.4 157.75h2v5.3h-2zM331.4 157.75h2v5.3h-2zM351.4 157.75h2v5.3h-2zM357.4 157.75h2v5.3h-2zM397.4 157.75h1.2v5.3h-1.2zM285.4 163.05h2v5.3h-2zM293.4 163.05h2v5.3h-2zM329.4 163.05h2v5.3h-2zM385.4 163.05h2v5.3h-2zM291.4 168.35h2v5.3h-2zM335.4 168.35h2v5.3h-2zM387.4 168.35h4v5.3h-4zM315.4 173.65h2v5.3h-2zM321.4 173.65h2v5.3h-2zM333.4 173.65h4v5.3h-4zM333.4 178.95h2v5.3h-2zM341.4 178.95h2v5.3h-2zM391.4 178.95h2v5.3h-2zM263.4 184.25h2v5.3h-2zM287.4 184.25h2v5.3h-2zM303.4 184.25h2v5.3h-2zM311.4 184.25h2v5.3h-2zM347.4 184.25h2v5.3h-2zM391.4 184.25h2v5.3h-2zM315.4 189.55h4v5.3h-4zM365.4 189.55h4v5.3h-4zM309.4 194.85h2v5.3h-2zM343.4 194.85h2v5.3h-2zM351.4 194.85h4v5.3h-4zM361.4 194.85h2v5.3h-2zM381.4 194.85h4v5.3h-4zM395.4 194.85h2v5.3h-2zM309.4 200.15h2v5.3h-2zM341.4 200.15h2v5.3h-2zM353.4 200.15h2v5.3h-2zM387.4 200.15h2v5.3h-2zM391.4 200.15h2v5.3h-2zM281.4 205.45h2v5.3h-2zM315.4 205.45h2v5.3h-2zM363.4 205.45h2v5.3h-2zM379.4 205.45h2v5.3h-2zM271.4 210.75h2v5.3h-2zM283.4 210.75h2v5.3h-2zM351.4 210.75h2v5.3h-2zM373.4 210.75h2v5.3h-2zM279.4 216.05h2v5.3h-2zM287.4 216.05h2v5.3h-2zM347.4 216.05h2v5.3h-2zM353.4 216.05h2v5.3h-2zM385.4 216.05h2v5.3h-2zM365.4 221.35h2v5.3h-2zM275.4 226.65h2v5.3h-2zM325.4 226.65h2v5.3h-2zM351.4 226.65h2v5.3h-2zM359.4 226.65h2v5.3h-2zM369.4 226.65h2v5.3h-2zM375.4 226.65h2v5.3h-2zM383.4 226.65h2v5.3h-2zM291.4 231.95h2v5.3h-2zM323.4 231.95h2v5.3h-2zM349.4 231.95h2v5.3h-2zM389.4 231.95h2v5.3h-2zM397.4 231.95h1.2v5.3h-1.2zM261.4 237.25h2v5.3h-2zM275.4 237.25h2v5.3h-2zM353.4 237.25h2v5.3h-2zM387.4 237.25h2v5.3h-2zM309.4 242.55h2v5.3h-2zM347.4 242.55h2v5.3h-2zM357.4 242.55h2v5.3h-2zM367.4 242.55h2v5.3h-2zM391.4 242.55h2v5.3h-2zM261.4 247.85h2v5.3h-2zM309.4 247.85h2v5.3h-2zM335.4 247.85h2v5.3h-2zM339.4 247.85h2v5.3h-2zM355.4 247.85h2v5.3h-2zM375.4 247.85h2v5.3h-2zM389.4 247.85h2v5.3h-2zM395.4 247.85h2v5.3h-2zM263.4 253.15h2v5.3h-2zM267.4 253.15h2v5.3h-2zM397.4 253.15h1.2v5.3h-1.2zM297.4 258.45h2v5.3h-2zM321.4 258.45h2v5.3h-2zM341.4 258.45h2v5.3h-2zM355.4 258.45h4v5.3h-4zM261.4 263.75h2v5.3h-2zM317.4 263.75h2v5.3h-2zM369.4 263.75h2v5.3h-2zM379.4 263.75h4v5.3h-4zM385.4 263.75h2v5.3h-2zM287.4 269.05h2v5.3h-2zM359.4 269.05h2v5.3h-2zM389.4 269.05h2v5.3h-2zM317.4 274.35h4v5.3h-4zM325.4 274.35h4v5.3h-4zM347.4 274.35h2v5.3h-2zM355.4 274.35h4v5.3h-4zM363.4 274.35h2v5.3h-2zM259.4 279.65h2v5.3h-2zM339.4 279.65h2v5.3h-2zM363.4 279.65h4v5.3h-4zM259.4 284.95h2v5.3h-2zM263.4 284.95h2v5.3h-2zM279.4 284.95h2v5.3h-2zM313.4 284.95h2v5.3h-2zM323.4 284.95h2v5.3h-2zM331.4 284.95h2v5.3h-2zM341.4 284.95h2v5.3h-2zM349.4 284.95h2v5.3h-2zM365.4 284.95h2v5.3h-2zM373.4 284.95h6v5.3h-6zM393.4 284.95h2v5.3h-2zM277.4 290.25h4v5.3h-4zM291.4 290.25h2v5.3h-2zM303.4 290.25h2v5.3h-2zM325.4 290.25h2v5.3h-2zM337.4 290.25h2v5.3h-2zM345.4 290.25h2v5.3h-2zM369.4 290.25h2v5.3h-2zM395.4 290.25h2v5.3h-2zM317.4 295.55h2v5.3h-2zM327.4 295.55h2v5.3h-2zM351.4 295.55h2v5.3h-2zM359.4 295.55h2v5.3h-2zM379.4 295.55h2v5.3h-2zM393.4 295.55h2v5.3h-2zM303.4 300.85h2v5.3h-2zM317.4 300.85h2v5.3h-2zM329.4 300.85h2v5.3h-2zM335.4 300.85h2v5.3h-2zM345.4 300.85h2v5.3h-2zM353.4 300.85h2v5.3h-2zM363.4 300.85h4v5.3h-4zM341.4 306.15h2v5.3h-2zM359.4 306.15h2v5.3h-2zM297.4 311.45h2v5.3h-2zM339.4 311.45h2v5.3h-2zM343.4 311.45h2v5.3h-2zM369.4 311.45h2v5.3h-2zM283.4 316.75h2v5.3h-2zM301.4 316.75h2v5.3h-2zM307.4 316.75h2v5.3h-2zM329.4 316.75h2v5.3h-2zM345.4 316.75h2v5.3h-2zM385.4 316.75h2v5.3h-2zM393.4 316.75h4v5.3h-4zM325.4 322.05h2v5.3h-2zM337.4 322.05h2v5.3h-2zM271.4 327.35h2v2.65h-2zM351.4 327.35h4v2.65h-4zM361.4 327.35h2v2.65h-2zM397.4 327.35h1.2v2.65h-1.2z"/>
<path fill="#00b4ff" d="M257.4 35.85h2v5.3h-2zM297.4 41.15h2v5.3h-2zM333.4 41.15h2v5.3h-2zM339.4 41.15h2v5.3h-2zM353.4 41.15h2v5.3h-2zM311.4 46.45h2v5.3h-2zM317.4 46.45h2v5.3h-2zM335.4 46.45h2v5.3h-2zM365.4 46.45h2v5.3h-2zM269.4 51.75h2v5.3h-2zM355.4 51.75h2v5.3h-2zM283.4 57.05h2v5.3h-2zM357.4 57.05h2v5.3h-2zM275.4 62.35h2v5.3h-2zM373.4 62.35h2v5.3h-2zM343.4 67.65h4v5.3h-4zM377.4 67.65h2v5.3h-2zM383.4 67.65h2v5.3h-2zM331.4 72.95h2v5.3h-2zM343.4 72.95h2v5.3h-2zM357.4 72.95h2v5.3h-2zM397.4 78.25h1.2v5.3h-1.2zM363.4 83.55h4v5.3h-4zM397.4 83.55h1.2v5.3h-1.2zM377.4 94.15h2v5.3h-2zM391.4 94.15h2v5.3h-2zM345.4 110.05h2v5.3h-2zM379.4 110.05h2v5.3h-2zM361.4 120.65h2v5.3h-2zM397.4 120.65h1.2v5.3h-1.2zM377.4 125.95h2v5.3h-2zM393.4 125.95h2v5.3h-2zM383.4 131.25h2v5.3h-2zM353.4 136.55h2v5.3h-2zM363.4 136.55h2v5.3h-2zM391.4 136.55h2v5.3h-2zM335.4 141.85h2v5.3h-2zM319.4 147.15h2v5.3h-2zM351.4 147.15h2v5.3h-2zM355.4 152.45h2v5.3h-2zM371.4 152.45h2v5.3h-2zM379.4 152.45h2v5.3h-2zM271.4 157.75h2v5.3h-2zM319.4 157.75h2v5.3h-2zM325.4 157.75h2v5.3h-2zM335.4 157.75h2v5.3h-2zM355.4 157.75h2v5.3h-2zM365.4 157.75h2v5.3h-2zM271.4 163.05h2v5.3h-2zM325.4 163.05h2v5.3h-2zM343.4 163.05h2v5.3h-2zM379.4 163.05h2v5.3h-2zM383.4 163.05h2v5.3h-2zM395.4 163.05h2v5.3h-2zM303.4 168.35h2v5.3h-2zM331.4 168.35h2v5.3h-2zM339.4 168.35h2v5.3h-2zM345.4 168.35h2v5.3h-2zM395.4 168.35h3.2v5.3h-3.2zM317.4 173.65h2v5.3h-2zM363.4 173.65h2v5.3h-2zM377.4 173.65h2v5.3h-2zM383.4 173.65h2v5.3h-2zM315.4 178.95h2v5.3h-2zM319.4 178.95h2v5.3h-2zM377.4 178.95h2v5.3h-2zM385.4 178.95h2v5.3h-2zM281.4 184.25h2v5.3h-2zM339.4 184.25h4v5.3h-4zM349.4 184.25h2v5.3h-2zM353.4 184.25h2v5.3h-2zM375.4 184.25h2v5.3h-2zM389.4 184.25h2v5.3h-2zM311.4 189.55h2v5.3h-2zM339.4 189.55h2v5.3h-2zM361.4 189.55h2v5.3h-2zM371.4 189.55h2v5.3h-2zM331.4 194.85h2v5.3h-2zM371.4 194.85h2v5.3h-2zM391.4 194.85h4v5.3h-4zM271.4 200.15h2v5.3h-2zM315.4 200.15h2v5.3h-2zM319.4 200.15h2v5.3h-2zM327.4 200.15h4v5.3h-4zM337.4 200.15h2v5.3h-2zM351.4 200.15h2v5.3h-2zM361.4 200.15h2v5.3h-2zM373.4 200.15h2v5.3h-2zM383.4 200.15h2v5.3h-2zM355.4 205.45h2v5.3h-2zM395.4 205.45h2v5.3h-2zM295.4 210.75h2v5.3h-2zM347.4 210.75h2v5.3h-2zM365.4 210.75h2v5.3h-2zM393.4 210.75h2v5.3h-2zM271.4 216.05h2v5.3h-2zM297.4 216.05h2v5.3h-2zM315.4 216.05h2v5.3h-2zM387.4 216.05h2v5.3h-2zM397.4 216.05h1.2v5.3h-1.2zM397.4 221.35h1.2v5.3h-1.2zM333.4 226.65h2v5.3h-2zM343.4 226.65h2v5.3h-2zM355.4 226.65h2v5.3h-2zM367.4 226.65h2v5.3h-2zM381.4 226.65h2v5.3h-2zM387.4 226.65h2v5.3h-2zM343.4 231.95h2v5.3h-2zM383.4 231.95h4v5.3h-4zM279.4 237.25h2v5.3h-2zM285.4 237.25h2v5.3h-2zM321.4 237.25h2v5.3h-2zM335.4 237.25h2v5.3h-2zM295.4 242.55h2v5.3h-2zM351.4 242.55h2v5.3h-2zM359.4 242.55h2v5.3h-2zM371.4 242.55h2v5.3h-2zM393.4 242.55h2v5.3h-2zM327.4 247.85h2v5.3h-2zM331.4 247.85h4v5.3h-4zM345.4 247.85h4v5.3h-4zM353.4 247.85h2v5.3h-2zM359.4 247.85h2v5.3h-2zM283.4 253.15h2v5.3h-2zM289.4 253.15h2v5.3h-2zM299.4 253.15h4v5.3h-4zM341.4 253.15h2v5.3h-2zM381.4 253.15h4v5.3h-4zM393.4 253.15h2v5.3h-2zM257.4 258.45h2v5.3h-2zM345.4 258.45h2v5.3h-2zM353.4 258.45h2v5.3h-2zM363.4 258.45h4v5.3h-4zM379.4 258.45h2v5.3h-2zM311.4 263.75h2v5.3h-2zM339.4 263.75h2v5.3h-2zM345.4 263.75h2v5.3h-2zM359.4 263.75h2v5.3h-2zM371.4 263.75h2v5.3h-2zM301.4 269.05h2v5.3h-2zM307.4 269.05h2v5.3h-2zM311.4 269.05h2v5.3h-2zM323.4 269.05h4v5.3h-4zM335.4 269.05h2v5.3h-2zM345.4 269.05h2v5.3h-2zM349.4 269.05h2v5.3h-2zM367.4 269.05h4v5.3h-4zM287.4 274.35h2v5.3h-2zM343.4 274.35h2v5.3h-2zM353.4 274.35h2v5.3h-2zM367.4 274.35h2v5.3h-2zM391.4 274.35h2v5.3h-2zM267.4 279.65h2v5.3h-2zM295.4 279.65h2v5.3h-2zM325.4 279.65h2v5.3h-2zM277.4 284.95h2v5.3h-2zM287.4 284.95h2v5.3h-2zM327.4 284.95h4v5.3h-4zM335.4 284.95h2v5.3h-2zM353.4 284.95h2v5.3h-2zM389.4 284.95h2v5.3h-2zM307.4 290.25h2v5.3h-2zM349.4 290.25h4v5.3h-4zM367.4 290.25h2v5.3h-2zM393.4 290.25h2v5.3h-2zM273.4 295.55h2v5.3h-2zM295.4 295.55h2v5.3h-2zM323.4 295.55h2v5.3h-2zM329.4 295.55h2v5.3h-2zM349.4 295.55h2v5.3h-2zM369.4 295.55h2v5.3h-2zM385.4 295.55h2v5.3h-2zM395.4 295.55h2v5.3h-2zM313.4 300.85h2v5.3h-2zM325.4 300.85h2v5.3h-2zM341.4 300.85h2v5.3h-2zM351.4 300.85h2v5.3h-2zM379.4 300.85h2v5.3h-2zM397.4 300.85h1.2v5.3h-1.2zM265.4 306.15h2v5.3h-2zM271.4 306.15h2v5.3h-2zM279.4 306.15h4v5.3h-4zM311.4 306.15h2v5.3h-2zM315.4 306.15h2v5.3h-2zM323.4 306.15h2v5.3h-2zM327.4 306.15h2v5.3h-2zM269.4 311.45h2v5.3h-2zM303.4 311.45h2v5.3h-2zM313.4 311.45h2v5.3h-2zM349.4 311.45h2v5.3h-2zM353.4 311.45h2v5.3h-2zM275.4 316.75h2v5.3h-2zM287.4 316.75h4v5.3h-4zM309.4 316.75h2v5.3h-2zM337.4 316.75h2v5.3h-2zM351.4 316.75h2v5.3h-2zM359.4 316.75h2v5.3h-2zM279.4 322.05h2v5.3h-2zM287.4 322.05h2v5.3h-2zM293.4 322.05h2v5.3h-2zM319.4 322.05h4v5.3h-4zM359.4 322.05h2v5.3h-2zM363.4 322.05h4v5.3h-4zM299.4 327.35h2v2.65h-2zM335.4 327.35h2v2.65h-2zM347.4 327.35h4v2.65h-4zM377.4 327.35h4v2.65h-4zM391.4 327.35h2v2.65h-2z"/>
<path fill="#00c4ff" d="M259.4 35.85h4v5.3h-4zM267.4 35.85h2v5.3h-2zM287.4 35.85h2v5.3h-2zM269.4 41.15h2v5.3h-2zM279.4 41.15h2v5.3h-2zM337.4 41.15h2v5.3h-2zM347.4 41.15h2v5.3h-2zM265.4 46.45h2v5.3h-2zM307.4 46.45h2v5.3h-2zM331.4 46.45h4v5.3h-4zM337.4 46.45h2v5.3h-2zM357.4 46.45h2v5.3h-2zM389.4 46.45h2v5.3h-2zM283.4 51.75h2v5.3h-2zM331.4 51.75h2v5.3h-2zM335.4 51.75h4v5.3h-4zM373.4 51.75h2v5.3h-2zM385.4 51.75h2v5.3h-2zM391.4 51.75h2v5.3h-2zM347.4 57.05h2v5.3h-2zM375.4 57.05h2v5.3h-2zM395.4 57.05h2v5.3h-2zM341.4 62.35h2v5.3h-2zM353.4 62.35h2v5.3h-2zM369.4 62.35h2v5.3h-2zM375.4 62.35h4v5.3h-4zM323.4 67.65h2v5.3h-2zM369.4 67.65h2v5.3h-2zM395.4 67.65h2v5.3h-2zM383.4 72.95h2v5.3h-2zM357.4 78.25h2v5.3h-2zM371.4 78.25h2v5.3h-2zM361.4 83.55h2v5.3h-2zM367.4 83.55h2v5.3h-2zM387.4 83.55h4v5.3h-4zM393.4 83.55h2v5.3h-2zM391.4 88.85h2v5.3h-2zM393.4 94.15h2v5.3h-2zM397.4 94.15h1.2v5.3h-1.2zM383.4 99.45h2v5.3h-2zM367.4 104.75h4v5.3h-4zM375.4 110.05h4v5.3h-4zM393.4 110.05h2v5.3h-2zM369.4 115.35h2v5.3h-2zM391.4 120.65h2v5.3h-2zM395.4 125.95h2v5.3h-2zM353.4 131.25h2v5.3h-2zM359.4 131.25h2v5.3h-2zM371.4 131.25h2v5.3h-2zM387.4 131.25h2v5.3h-2zM391.4 131.25h2v5.3h-2zM351.4 136.55h2v5.3h-2zM367.4 136.55h2v5.3h-2zM377.4 136.55h2v5.3h-2zM357.4 141.85h2v5.3h-2zM367.4 141.85h2v5.3h-2zM371.4 147.15h2v5.3h-2zM327.4 152.45h2v5.3h-2zM343.4 152.45h2v5.3h-2zM385.4 152.45h2v5.3h-2zM391.4 152.45h2v5.3h-2zM269.4 157.75h2v5.3h-2zM291.4 157.75h2v5.3h-2zM339.4 157.75h2v5.3h-2zM361.4 157.75h2v5.3h-2zM367.4 157.75h2v5.3h-2zM375.4 157.75h2v5.3h-2zM385.4 157.75h4v5.3h-4zM257.4 163.05h4v5.3h-4zM279.4 163.05h2v5.3h-2zM297.4 163.05h2v5.3h-2zM303.4 163.05h2v5.3h-2zM363.4 163.05h2v5.3h-2zM367.4 163.05h2v5.3h-2zM397.4 163.05h1.2v5.3h-1.2zM307.4 168.35h2v5.3h-2zM369.4 168.35h2v5.3h-2zM373.4 168.35h2v5.3h-2zM379.4 168.35h4v5.3h-4zM267.4 173.65h2v5.3h-2zM359.4 173.65h4v5.3h-4zM373.4 173.65h2v5.3h-2zM395.4 173.65h2v5.3h-2zM307.4 178.95h2v5.3h-2zM311.4 178.95h2v5.3h-2zM331.4 178.95h2v5.3h-2zM345.4 178.95h2v5.3h-2zM357.4 178.95h2v5.3h-2zM369.4 178.95h2v5.3h-2zM373.4 178.95h2v5.3h-2zM265.4 184.25h2v5.3h-2zM319.4 184.25h2v5.3h-2zM329.4 184.25h2v5.3h-2zM333.4 184.25h2v5.3h-2zM357.4 184.25h2v5.3h-2zM281.4 189.55h2v5.3h-2zM293.4 189.55h2v5.3h-2zM345.4 189.55h2v5.3h-2zM349.4 189.55h2v5.3h-2zM357.4 189.55h2v5.3h-2zM375.4 189.55h2v5.3h-2zM383.4 189.55h2v5.3h-2zM265.4 194.85h4v5.3h-4zM275.4 194.85h2v5.3h-2zM299.4 194.85h2v5.3h-2zM341.4 194.85h2v5.3h-2zM365.4 194.85h2v5.3h-2zM385.4 194.85h2v5.3h-2zM275.4 200.15h2v5.3h-2zM321.4 200.15h2v5.3h-2zM325.4 200.15h2v5.3h-2zM327.4 205.45h4v5.3h-4zM393.4 205.45h2v5.3h-2zM265.4 210.75h2v5.3h-2zM291.4 210.75h2v5.3h-2zM305.4 210.75h2v5.3h-2zM313.4 210.75h2v5.3h-2zM327.4 210.75h2v5.3h-2zM335.4 210.75h2v5.3h-2zM339.4 210.75h2v5.3h-2zM375.4 210.75h2v5.3h-2zM379.4 210.75h2v5.3h-2zM273.4 216.05h2v5.3h-2zM281.4 216.05h2v5.3h-2zM317.4 216.05h2v5.3h-2zM335.4 216.05h2v5.3h-2zM339.4 216.05h2v5.3h-2zM343.4 216.05h2v5.3h-2zM275.4 221.35h2v5.3h-2zM315.4 221.35h2v5.3h-2zM337.4 221.35h2v5.3h-2zM341.4 221.35h4v5.3h-4zM349.4 221.35h2v5.3h-2zM355.4 221.35h2v5.3h-2zM265.4 226.65h2v5.3h-2zM321.4 226.65h2v5.3h-2zM331.4 226.65h2v5.3h-2zM337.4 226.65h4v5.3h-4zM345.4 226.65h2v5.3h-2zM303.4 231.95h2v5.3h-2zM317.4 231.95h2v5.3h-2zM369.4 231.95h2v5.3h-2zM377.4 231.95h2v5.3h-2zM315.4 237.25h2v5.3h-2zM361.4 237.25h2v5.3h-2zM371.4 237.25h6v5.3h-6zM379.4 237.25h2v5.3h-2zM383.4 237.25h4v5.3h-4zM397.4 237.25h1.2v5.3h-1.2zM257.4 242.55h2v5.3h-2zM293.4 242.55h2v5.3h-2zM299.4 242.55h4v5.3h-4zM307.4 242.55h2v5.3h-2zM319.4 242.55h2v5.3h-2zM343.4 242.55h4v5.3h-4zM395.4 242.55h3.2v5.3h-3.2zM259.4 247.85h2v5.3h-2zM271.4 247.85h2v5.3h-2zM275.4 247.85h2v5.3h-2zM279.4 247.85h4v5.3h-4zM299.4 247.85h2v5.3h-2zM361.4 247.85h2v5.3h-2zM367.4 247.85h2v5.3h-2zM265.4 253.15h2v5.3h-2zM287.4 253.15h2v5.3h-2zM323.4 253.15h2v5.3h-2zM345.4 253.15h2v5.3h-2zM375.4 253.15h4v5.3h-4zM385.4 253.15h4v5.3h-4zM281.4 258.45h2v5.3h-2zM291.4 258.45h2v5.3h-2zM319.4 258.45h2v5.3h-2zM325.4 258.45h2v5.3h-2zM335.4 258.45h2v5.3h-2zM347.4 258.45h2v5.3h-2zM371.4 258.45h2v5.3h-2zM385.4 258.45h2v5.3h-2zM269.4 263.75h2v5.3h-2zM315.4 263.75h2v5.3h-2zM343.4 263.75h2v5.3h-2zM397.4 263.75h1.2v5.3h-1.2zM263.4 269.05h2v5.3h-2zM269.4 269.05h2v5.3h-2zM315.4 269.05h2v5.3h-2zM333.4 269.05h2v5.3h-2zM355.4 269.05h2v5.3h-2zM365.4 269.05h2v5.3h-2zM375.4 269.05h2v5.3h-2zM395.4 269.05h2v5.3h-2zM265.4 274.35h2v5.3h-2zM269.4 274.35h2v5.3h-2zM277.4 274.35h2v5.3h-2zM281.4 274.35h2v5.3h-2zM285.4 274.35h2v5.3h-2zM311.4 274.35h2v5.3h-2zM323.4 274.35h2v5.3h-2zM341.4 274.35h2v5.3h-2zM377.4 274.35h4v5.3h-4zM383.4 274.35h2v5.3h-2zM273.4 279.65h2v5.3h-2zM309.4 279.65h2v5.3h-2zM343.4 279.65h2v5.3h-2zM361.4 279.65h2v5.3h-2zM369.4 279.65h2v5.3h-2zM391.4 279.65h2v5.3h-2zM295.4 284.95h2v5.3h-2zM307.4 284.95h2v5.3h-2zM325.4 284.95h2v5.3h-2zM359.4 284.95h2v5.3h-2zM379.4 284.95h2v5.3h-2zM383.4 284.95h2v5.3h-2zM273.4 290.25h2v5.3h-2zM313.4 290.25h2v5.3h-2zM327.4 290.25h2v5.3h-2zM353.4 290.25h2v5.3h-2zM357.4 290.25h2v5.3h-2zM373.4 290.25h2v5.3h-2zM293.4 295.55h2v5.3h-2zM313.4 295.55h2v5.3h-2zM333.4 295.55h2v5.3h-2zM343.4 295.55h2v5.3h-2zM361.4 295.55h2v5.3h-2zM371.4 295.55h2v5.3h-2zM377.4 295.55h2v5.3h-2zM265.4 300.85h2v5.3h-2zM271.4 300.85h2v5.3h-2zM279.4 300.85h2v5.3h-2zM295.4 300.85h2v5.3h-2zM299.4 300.85h2v5.3h-2zM315.4 300.85h2v5.3h-2zM359.4 300.85h2v5.3h-2zM367.4 300.85h2v5.3h-2zM381.4 300.85h2v5.3h-2zM277.4 306.15h2v5.3h-2zM295.4 306.15h2v5.3h-2zM319.4 306.15h2v5.3h-2zM339.4 306.15h2v5.3h-2zM351.4 306.15h2v5.3h-2zM395.4 306.15h2v5.3h-2zM261.4 311.45h4v5.3h-4zM271.4 311.45h4v5.3h-4zM281.4 311.45h2v5.3h-2zM301.4 311.45h2v5.3h-2zM315.4 311.45h4v5.3h-4zM329.4 311.45h2v5.3h-2zM341.4 311.45h2v5.3h-2zM359.4 311.45h2v5.3h-2zM383.4 311.45h2v5.3h-2zM299.4 316.75h2v5.3h-2zM363.4 316.75h2v5.3h-2zM369.4 316.75h2v5.3h-2zM379.4 316.75h2v5.3h-2zM383.4 316.75h2v5.3h-2zM273.4 322.05h2v5.3h-2zM305.4 322.05h2v5.3h-2zM315.4 322.05h2v5.3h-2zM323.4 322.05h2v5.3h-2zM345.4 322.05h2v5.3h-2zM351.4 322.05h2v5.3h-2zM369.4 322.05h4v5.3h-4zM375.4 322.05h2v5.3h-2zM393.4 322.05h2v5.3h-2zM319.4 327.35h2v2.65h-2zM325.4 327.35h4v2.65h-4zM333.4 327.35h2v2.65h-2zM339.4 327.35h2v2.65h-2zM343.4 327.35h4v2.65h-4zM365.4 327.35h2v2.65h-2zM381.4 327.35h4v2.65h-4z"/>
<path fill="#00d4ff" d="M295.4 35.85h2v5.3h-2zM259.4 41.15h2v5.3h-2zM291.4 41.15h2v5.3h-2zM307.4 41.15h4v5.3h-4zM329.4 41.15h2v5.3h-2zM375.4 41.15h2v5.3h-2zM283.4 46.45h2v5.3h-2zM297.4 46.45h2v5.3h-2zM325.4 46.45h2v5.3h-2zM345.4 46.45h2v5.3h-2zM355.4 46.45h2v5.3h-2zM393.4 46.45h2v5.3h-2zM291.4 51.75h2v5.3h-2zM305.4 51.75h4v5.3h-4zM351.4 51.75h2v5.3h-2zM363.4 51.75h2v5.3h-2zM297.4 57.05h2v5.3h-2zM331.4 57.05h2v5.3h-2zM379.4 57.05h4v5.3h-4zM385.4 57.05h2v5.3h-2zM269.4 62.35h2v5.3h-2zM343.4 62.35h2v5.3h-2zM389.4 62.35h2v5.3h-2zM395.4 62.35h2v5.3h-2zM319.4 67.65h2v5.3h-2zM355.4 67.65h2v5.3h-2zM371.4 67.65h2v5.3h-2zM345.4 78.25h2v5.3h-2zM359.4 83.55h2v5.3h-2zM371.4 83.55h2v5.3h-2zM381.4 88.85h2v5.3h-2zM387.4 88.85h2v5.3h-2zM343.4 94.15h2v5.3h-2zM351.4 94.15h2v5.3h-2zM361.4 94.15h2v5.3h-2zM367.4 94.15h2v5.3h-2zM339.4 99.45h2v5.3h-2zM367.4 110.05h2v5.3h-2zM387.4 110.05h2v5.3h-2zM335.4 115.35h2v5.3h-2zM347.4 115.35h2v5.3h-2zM351.4 115.35h2v5.3h-2zM359.4 115.35h2v5.3h-2zM391.4 115.35h2v5.3h-2zM395.4 115.35h2v5.3h-2zM335.4 120.65h2v5.3h-2zM379.4 120.65h2v5.3h-2zM395.4 120.65h2v5.3h-2zM347.4 125.95h2v5.3h-2zM359.4 125.95h2v5.3h-2zM397.4 125.95h1.2v5.3h-1.2zM327.4 131.25h2v5.3h-2zM367.4 131.25h2v5.3h-2zM389.4 131.25h2v5.3h-2zM397.4 131.25h1.2v5.3h-1.2zM311.4 136.55h2v5.3h-2zM317.4 136.55h2v5.3h-2zM325.4 136.55h2v5.3h-2zM335.4 136.55h2v5.3h-2zM371.4 136.55h4v5.3h-4zM387.4 136.55h2v5.3h-2zM395.4 136.55h2v5.3h-2zM307.4 141.85h2v5.3h-2zM319.4 141.85h2v5.3h-2zM325.4 141.85h2v5.3h-2zM353.4 141.85h2v5.3h-2zM363.4 141.85h2v5.3h-2zM389.4 141.85h2v5.3h-2zM395.4 141.85h2v5.3h-2zM373.4 147.15h2v5.3h-2zM381.4 147.15h2v5.3h-2zM387.4 147.15h4v5.3h-4zM337.4 152.45h2v5.3h-2zM351.4 152.45h2v5.3h-2zM381.4 152.45h2v5.3h-2zM315.4 157.75h4v5.3h-4zM321.4 157.75h2v5.3h-2zM319.4 163.05h2v5.3h-2zM359.4 163.05h2v5.3h-2zM375.4 163.05h2v5.3h-2zM271.4 168.35h2v5.3h-2zM293.4 168.35h2v5.3h-2zM319.4 168.35h2v5.3h-2zM341.4 168.35h2v5.3h-2zM349.4 168.35h2v5.3h-2zM303.4 173.65h2v5.3h-2zM307.4 173.65h2v5.3h-2zM323.4 173.65h6v5.3h-6zM339.4 173.65h2v5.3h-2zM343.4 173.65h2v5.3h-2zM353.4 173.65h2v5.3h-2zM367.4 173.65h2v5.3h-2zM275.4 178.95h2v5.3h-2zM325.4 178.95h2v5.3h-2zM329.4 178.95h2v5.3h-2zM335.4 178.95h2v5.3h-2zM349.4 178.95h2v5.3h-2zM355.4 178.95h2v5.3h-2zM361.4 178.95h2v5.3h-2zM365.4 178.95h2v5.3h-2zM383.4 178.95h2v5.3h-2zM387.4 178.95h4v5.3h-4zM279.4 184.25h2v5.3h-2zM293.4 184.25h2v5.3h-2zM315.4 184.25h2v5.3h-2zM327.4 184.25h2v5.3h-2zM343.4 184.25h4v5.3h-4zM367.4 184.25h2v5.3h-2zM383.4 184.25h2v5.3h-2zM279.4 189.55h2v5.3h-2zM319.4 189.55h2v5.3h-2zM341.4 189.55h2v5.3h-2zM355.4 189.55h2v5.3h-2zM389.4 189.55h2v5.3h-2zM283.4 194.85h2v5.3h-2zM291.4 194.85h2v5.3h-2zM307.4 194.85h2v5.3h-2zM315.4 194.85h2v5.3h-2zM321.4 194.85h2v5.3h-2zM325.4 194.85h2v5.3h-2zM335.4 194.85h2v5.3h-2zM347.4 194.85h2v5.3h-2zM357.4 194.85h2v5.3h-2zM373.4 194.85h2v5.3h-2zM389.4 194.85h2v5.3h-2zM263.4 200.15h2v5.3h-2zM277.4 200.15h2v5.3h-2zM295.4 200.15h2v5.3h-2zM313.4 200.15h2v5.3h-2zM323.4 200.15h2v5.3h-2zM349.4 200.15h2v5.3h-2zM379.4 200.15h2v5.3h-2zM293.4 205.45h2v5.3h-2zM325.4 205.45h2v5.3h-2zM351.4 205.45h2v5.3h-2zM371.4 205.45h2v5.3h-2zM389.4 205.45h2v5.3h-2zM309.4 210.75h2v5.3h-2zM321.4 210.75h2v5.3h-2zM325.4 210.75h2v5.3h-2zM337.4 210.75h2v5.3h-2zM369.4 210.75h4v5.3h-4zM321.4 216.05h2v5.3h-2zM325.4 216.05h2v5.3h-2zM337.4 216.05h2v5.3h-2zM359.4 216.05h2v5.3h-2zM283.4 221.35h2v5.3h-2zM313.4 221.35h2v5.3h-2zM371.4 221.35h2v5.3h-2zM381.4 221.35h2v5.3h-2zM271.4 226.65h2v5.3h-2zM293.4 226.65h2v5.3h-2zM307.4 226.65h2v5.3h-2zM319.4 226.65h2v5.3h-2zM323.4 226.65h2v5.3h-2zM335.4 226.65h2v5.3h-2zM341.4 226.65h2v5.3h-2zM363.4 226.65h2v5.3h-2zM371.4 226.65h4v5.3h-4zM397.4 226.65h1.2v5.3h-1.2zM277.4 231.95h2v5.3h-2zM353.4 231.95h2v5.3h-2zM367.4 231.95h2v5.3h-2zM393.4 231.95h4v5.3h-4zM277.4 237.25h2v5.3h-2zM301.4 237.25h2v5.3h-2zM307.4 237.25h2v5.3h-2zM325.4 237.25h2v5.3h-2zM343.4 237.25h2v5.3h-2zM367.4 237.25h2v5.3h-2zM281.4 242.55h2v5.3h-2zM297.4 242.55h2v5.3h-2zM321.4 242.55h2v5.3h-2zM349.4 242.55h2v5.3h-2zM353.4 242.55h2v5.3h-2zM361.4 242.55h2v5.3h-2zM365.4 242.55h2v5.3h-2zM369.4 242.55h2v5.3h-2zM383.4 242.55h2v5.3h-2zM389.4 242.55h2v5.3h-2zM265.4 247.85h2v5.3h-2zM317.4 247.85h2v5.3h-2zM349.4 247.85h2v5.3h-2zM385.4 247.85h2v5.3h-2zM261.4 253.15h2v5.3h-2zM279.4 253.15h2v5.3h-2zM285.4 253.15h2v5.3h-2zM293.4 253.15h4v5.3h-4zM307.4 253.15h2v5.3h-2zM325.4 253.15h2v5.3h-2zM391.4 253.15h2v5.3h-2zM395.4 253.15h2v5.3h-2zM269.4 258.45h2v5.3h-2zM273.4 263.75h2v5.3h-2zM287.4 263.75h4v5.3h-4zM299.4 263.75h2v5.3h-2zM341.4 263.75h2v5.3h-2zM389.4 263.75h2v5.3h-2zM281.4 269.05h2v5.3h-2zM289.4 269.05h2v5.3h-2zM295.4 269.05h2v5.3h-2zM299.4 269.05h2v5.3h-2zM313.4 269.05h2v5.3h-2zM317.4 269.05h2v5.3h-2zM331.4 269.05h2v5.3h-2zM337.4 269.05h2v5.3h-2zM343.4 269.05h2v5.3h-2zM371.4 269.05h2v5.3h-2zM379.4 269.05h2v5.3h-2zM257.4 274.35h2v5.3h-2zM297.4 274.35h2v5.3h-2zM303.4 274.35h2v5.3h-2zM337.4 274.35h4v5.3h-4zM373.4 274.35h2v5.3h-2zM263.4 279.65h2v5.3h-2zM289.4 279.65h2v5.3h-2zM307.4 279.65h2v5.3h-2zM327.4 279.65h2v5.3h-2zM333.4 279.65h2v5.3h-2zM355.4 279.65h2v5.3h-2zM375.4 279.65h2v5.3h-2zM389.4 279.65h2v5.3h-2zM299.4 284.95h6v5.3h-6zM317.4 284.95h2v5.3h-2zM333.4 284.95h2v5.3h-2zM343.4 284.95h4v5.3h-4zM397.4 284.95h1.2v5.3h-1.2zM263.4 290.25h2v5.3h-2zM305.4 290.25h2v5.3h-2zM311.4 290.25h2v5.3h-2zM329.4 290.25h2v5.3h-2zM335.4 290.25h2v5.3h-2zM375.4 290.25h2v5.3h-2zM391.4 290.25h2v5.3h-2zM263.4 295.55h2v5.3h-2zM271.4 295.55h2v5.3h-2zM277.4 295.55h2v5.3h-2zM283.4 295.55h2v5.3h-2zM289.4 295.55h2v5.3h-2zM353.4 295.55h2v5.3h-2zM357.4 295.55h2v5.3h-2zM381.4 295.55h2v5.3h-2zM389.4 295.55h2v5.3h-2zM257.4 300.85h2v5.3h-2zM293.4 300.85h2v5.3h-2zM323.4 300.85h2v5.3h-2zM337.4 300.85h2v5.3h-2zM349.4 300.85h2v5.3h-2zM355.4 300.85h2v5.3h-2zM291.4 306.15h2v5.3h-2zM303.4 306.15h2v5.3h-2zM337.4 306.15h2v5.3h-2zM361.4 306.15h2v5.3h-2zM379.4 306.15h2v5.3h-2zM383.4 306.15h2v5.3h-2zM389.4 306.15h2v5.3h-2zM257.4 311.45h2v5.3h-2zM279.4 311.45h2v5.3h-2zM293.4 311.45h2v5.3h-2zM305.4 311.45h2v5.3h-2zM319.4 311.45h2v5.3h-2zM327.4 311.45h2v5.3h-2zM331.4 311.45h4v5.3h-4zM337.4 311.45h2v5.3h-2zM373.4 311.45h2v5.3h-2zM387.4 311.45h2v5.3h-2zM397.4 311.45h1.2v5.3h-1.2zM295.4 316.75h2v5.3h-2zM303.4 316.75h2v5.3h-2zM319.4 316.75h2v5.3h-2zM323.4 316.75h2v5.3h-2zM335.4 316.75h2v5.3h-2zM353.4 316.75h2v5.3h-2zM377.4 316.75h2v5.3h-2zM387.4 316.75h2v5.3h-2zM257.4 322.05h2v5.3h-2zM297.4 322.05h2v5.3h-2zM387.4 322.05h2v5.3h-2zM265.4 327.35h2v2.65h-2zM287.4 327.35h2v2.65h-2zM311.4 327.35h2v2.65h-2zM329.4 327.35h2v2.65h-2zM369.4 327.35h2v2.65h-2zM375.4 327.35h2v2.65h-2z"/>
<path fill="#00e5ff" d="M281.4 41.15h2v5.3h-2zM287.4 41.15h2v5.3h-2zM327.4 41.15h2v5.3h-2zM363.4 41.15h2v5.3h-2zM383.4 41.15h2v5.3h-2zM257.4 46.45h2v5.3h-2zM281.4 46.45h2v5.3h-2zM291.4 46.45h2v5.3h-2zM341.4 46.45h2v5.3h-2zM351.4 46.45h2v5.3h-2zM379.4 46.45h2v5.3h-2zM395.4 46.45h2v5.3h-2zM297.4 51.75h2v5.3h-2zM303.4 51.75h2v5.3h-2zM315.4 51.75h2v5.3h-2zM325.4 51.75h6v5.3h-6zM343.4 51.75h2v5.3h-2zM361.4 51.75h2v5.3h-2zM367.4 51.75h2v5.3h-2zM383.4 51.75h2v5.3h-2zM387.4 51.75h2v5.3h-2zM393.4 51.75h2v5.3h-2zM317.4 57.05h2v5.3h-2zM325.4 57.05h2v5.3h-2zM355.4 57.05h2v5.3h-2zM365.4 57.05h2v5.3h-2zM373.4 57.05h2v5.3h-2zM393.4 57.05h2v5.3h-2zM331.4 62.35h2v5.3h-2zM335.4 62.35h2v5.3h-2zM361.4 62.35h2v5.3h-2zM365.4 62.35h2v5.3h-2zM385.4 62.35h2v5.3h-2zM283.4 67.65h2v5.3h-2zM335.4 67.65h2v5.3h-2zM351.4 67.65h2v5.3h-2zM357.4 67.65h2v5.3h-2zM317.4 72.95h2v5.3h-2zM323.4 72.95h2v5.3h-2zM347.4 72.95h2v5.3h-2zM361.4 72.95h2v5.3h-2zM381.4 72.95h2v5.3h-2zM397.4 72.95h1.2v5.3h-1.2zM339.4 78.25h2v5.3h-2zM363.4 78.25h2v5.3h-2zM319.4 83.55h2v5.3h-2zM379.4 83.55h2v5.3h-2zM383.4 83.55h2v5.3h-2zM385.4 88.85h2v5.3h-2zM353.4 94.15h2v5.3h-2zM357.4 94.15h2v5.3h-2zM371.4 99.45h2v5.3h-2zM387.4 99.45h2v5.3h-2zM393.4 99.45h2v5.3h-2zM333.4 104.75h2v5.3h-2zM353.4 104.75h2v5.3h-2zM335.4 110.05h2v5.3h-2zM339.4 110.05h4v5.3h-4zM371.4 110.05h2v5.3h-2zM395.4 110.05h3.2v5.3h-3.2zM349.4 115.35h2v5.3h-2zM377.4 115.35h4v5.3h-4zM383.4 115.35h2v5.3h-2zM389.4 115.35h2v5.3h-2zM353.4 120.65h2v5.3h-2zM343.4 125.95h2v5.3h-2zM375.4 125.95h2v5.3h-2zM387.4 125.95h2v5.3h-2zM321.4 131.25h2v5.3h-2zM335.4 131.25h2v5.3h-2zM343.4 131.25h2v5.3h-2zM349.4 131.25h2v5.3h-2zM381.4 131.25h2v5.3h-2zM361.4 136.55h2v5.3h-2zM379.4 136.55h4v5.3h-4zM337.4 141.85h2v5.3h-2zM351.4 141.85h2v5.3h-2zM355.4 141.85h2v5.3h-2zM387.4 141.85h2v5.3h-2zM281.4 147.15h2v5.3h-2zM339.4 147.15h2v5.3h-2zM363.4 147.15h2v5.3h-2zM367.4 147.15h2v5.3h-2zM375.4 147.15h2v5.3h-2zM379.4 147.15h2v5.3h-2zM315.4 152.45h2v5.3h-2zM333.4 152.45h2v5.3h-2zM353.4 152.45h2v5.3h-2zM357.4 152.45h2v5.3h-2zM361.4 152.45h2v5.3h-2zM373.4 152.45h2v5.3h-2zM295.4 157.75h4v5.3h-4zM369.4 157.75h2v5.3h-2zM379.4 157.75h2v5.3h-2zM299.4 163.05h2v5.3h-2zM305.4 163.05h2v5.3h-2zM313.4 163.05h2v5.3h-2zM339.4 163.05h2v5.3h-2zM345.4 163.05h2v5.3h-2zM349.4 163.05h2v5.3h-2zM361.4 163.05h2v5.3h-2zM373.4 163.05h2v5.3h-2zM321.4 168.35h2v5.3h-2zM337.4 168.35h2v5.3h-2zM365.4 168.35h4v5.3h-4zM271.4 173.65h2v5.3h-2zM277.4 173.65h2v5.3h-2zM313.4 173.65h2v5.3h-2zM319.4 173.65h2v5.3h-2zM351.4 173.65h2v5.3h-2zM357.4 173.65h2v5.3h-2zM371.4 173.65h2v5.3h-2zM379.4 173.65h4v5.3h-4zM387.4 173.65h2v5.3h-2zM391.4 173.65h2v5.3h-2zM343.4 178.95h2v5.3h-2zM353.4 178.95h2v5.3h-2zM363.4 178.95h2v5.3h-2zM371.4 178.95h2v5.3h-2zM375.4 178.95h2v5.3h-2zM381.4 178.95h2v5.3h-2zM321.4 184.25h2v5.3h-2zM365.4 184.25h2v5.3h-2zM379.4 184.25h2v5.3h-2zM271.4 189.55h2v5.3h-2zM331.4 189.55h2v5.3h-2zM343.4 189.55h2v5.3h-2zM359.4 189.55h2v5.3h-2zM373.4 189.55h2v5.3h-2zM385.4 189.55h4v5.3h-4zM281.4 194.85h2v5.3h-2zM305.4 194.85h2v5.3h-2zM329.4 194.85h2v5.3h-2zM355.4 194.85h2v5.3h-2zM359.4 194.85h2v5.3h-2zM387.4 194.85h2v5.3h-2zM279.4 200.15h2v5.3h-2zM285.4 200.15h4v5.3h-4zM311.4 200.15h2v5.3h-2zM317.4 200.15h2v5.3h-2zM345.4 200.15h2v5.3h-2zM359.4 200.15h2v5.3h-2zM365.4 200.15h2v5.3h-2zM277.4 205.45h2v5.3h-2zM283.4 205.45h2v5.3h-2zM287.4 205.45h2v5.3h-2zM297.4 205.45h2v5.3h-2zM305.4 205.45h2v5.3h-2zM335.4 205.45h2v5.3h-2zM345.4 205.45h4v5.3h-4zM361.4 205.45h2v5.3h-2zM375.4 205.45h2v5.3h-2zM261.4 210.75h2v5.3h-2zM287.4 210.75h4v5.3h-4zM319.4 210.75h2v5.3h-2zM323.4 210.75h2v5.3h-2zM367.4 210.75h2v5.3h-2zM397.4 210.75h1.2v5.3h-1.2zM263.4 216.05h2v5.3h-2zM283.4 216.05h2v5.3h-2zM323.4 216.05h2v5.3h-2zM333.4 216.05h2v5.3h-2zM345.4 216.05h2v5.3h-2zM289.4 221.35h4v5.3h-4zM309.4 221.35h2v5.3h-2zM317.4 221.35h2v5.3h-2zM321.4 221.35h2v5.3h-2zM339.4 221.35h2v5.3h-2zM357.4 221.35h2v5.3h-2zM261.4 226.65h2v5.3h-2zM279.4 226.65h2v5.3h-2zM311.4 226.65h4v5.3h-4zM317.4 226.65h2v5.3h-2zM265.4 231.95h2v5.3h-2zM315.4 231.95h2v5.3h-2zM319.4 231.95h4v5.3h-4zM259.4 237.25h2v5.3h-2zM289.4 237.25h2v5.3h-2zM299.4 237.25h2v5.3h-2zM323.4 237.25h2v5.3h-2zM331.4 237.25h2v5.3h-2zM337.4 237.25h2v5.3h-2zM345.4 237.25h2v5.3h-2zM357.4 237.25h2v5.3h-2zM271.4 242.55h4v5.3h-4zM279.4 242.55h2v5.3h-2zM325.4 242.55h4v5.3h-4zM331.4 242.55h2v5.3h-2zM379.4 242.55h2v5.3h-2zM263.4 247.85h2v5.3h-2zM293.4 247.85h2v5.3h-2zM303.4 247.85h2v5.3h-2zM341.4 247.85h2v5.3h-2zM363.4 247.85h2v5.3h-2zM259.4 253.15h2v5.3h-2zM269.4 253.15h2v5.3h-2zM281.4 253.15h2v5.3h-2zM303.4 253.15h2v5.3h-2zM309.4 253.15h2v5.3h-2zM315.4 253.15h2v5.3h-2zM319.4 253.15h2v5.3h-2zM329.4 253.15h2v5.3h-2zM333.4 253.15h4v5.3h-4zM343.4 253.15h2v5.3h-2zM349.4 253.15h2v5.3h-2zM371.4 253.15h4v5.3h-4zM293.4 258.45h2v5.3h-2zM307.4 258.45h2v5.3h-2zM361.4 258.45h2v5.3h-2zM277.4 263.75h2v5.3h-2zM283.4 263.75h2v5.3h-2zM293.4 263.75h2v5.3h-2zM297.4 263.75h2v5.3h-2zM321.4 263.75h2v5.3h-2zM327.4 263.75h2v5.3h-2zM349.4 263.75h2v5.3h-2zM355.4 263.75h2v5.3h-2zM375.4 263.75h2v5.3h-2zM259.4 269.05h2v5.3h-2zM283.4 269.05h2v5.3h-2zM291.4 269.05h2v5.3h-2zM321.4 269.05h2v5.3h-2zM353.4 269.05h2v5.3h-2zM385.4 269.05h2v5.3h-2zM273.4 274.35h2v5.3h-2zM283.4 274.35h2v5.3h-2zM289.4 274.35h2v5.3h-2zM307.4 274.35h2v5.3h-2zM313.4 274.35h2v5.3h-2zM345.4 274.35h2v5.3h-2zM385.4 274.35h2v5.3h-2zM291.4 279.65h2v5.3h-2zM299.4 279.65h2v5.3h-2zM303.4 279.65h2v5.3h-2zM319.4 279.65h6v5.3h-6zM373.4 279.65h2v5.3h-2zM261.4 284.95h2v5.3h-2zM269.4 284.95h2v5.3h-2zM309.4 284.95h2v5.3h-2zM315.4 284.95h2v5.3h-2zM319.4 284.95h4v5.3h-4zM269.4 290.25h4v5.3h-4zM283.4 290.25h2v5.3h-2zM293.4 290.25h4v5.3h-4zM331.4 290.25h2v5.3h-2zM387.4 290.25h2v5.3h-2zM269.4 295.55h2v5.3h-2zM299.4 295.55h2v5.3h-2zM321.4 295.55h2v5.3h-2zM331.4 295.55h2v5.3h-2zM341.4 295.55h2v5.3h-2zM367.4 295.55h2v5.3h-2zM259.4 300.85h2v5.3h-2zM273.4 300.85h2v5.3h-2zM283.4 300.85h2v5.3h-2zM287.4 300.85h4v5.3h-4zM309.4 300.85h2v5.3h-2zM333.4 300.85h2v5.3h-2zM343.4 300.85h2v5.3h-2zM375.4 300.85h2v5.3h-2zM387.4 300.85h2v5.3h-2zM259.4 306.15h2v5.3h-2zM321.4 306.15h2v5.3h-2zM329.4 306.15h2v5.3h-2zM349.4 306.15h2v5.3h-2zM387.4 306.15h2v5.3h-2zM391.4 306.15h2v5.3h-2zM397.4 306.15h1.2v5.3h-1.2zM277.4 311.45h2v5.3h-2zM289.4 311.45h4v5.3h-4zM323.4 311.45h2v5.3h-2zM365.4 311.45h2v5.3h-2zM261.4 316.75h2v5.3h-2zM279.4 316.75h2v5.3h-2zM313.4 316.75h2v5.3h-2zM317.4 316.75h2v5.3h-2zM325.4 316.75h2v5.3h-2zM361.4 316.75h2v5.3h-2zM397.4 316.75h1.2v5.3h-1.2zM267.4 322.05h4v5.3h-4zM303.4 322.05h2v5.3h-2zM309.4 322.05h2v5.3h-2zM317.4 322.05h2v5.3h-2zM335.4 322.05h2v5.3h-2zM343.4 322.05h2v5.3h-2zM377.4 322.05h4v5.3h-4zM269.4 327.35h2v2.65h-2zM313.4 327.35h2v2.65h-2zM395.4 327.35h2v2.65h-2z"/>
<path fill="#00f5ff" d="M267.4 41.15h2v5.3h-2zM289.4 41.15h2v5.3h-2zM393.4 41.15h2v5.3h-2zM267.4 46.45h2v5.3h-2zM277.4 46.45h2v5.3h-2zM289.4 46.45h2v5.3h-2zM295.4 46.45h2v5.3h-2zM319.4 46.45h2v5.3h-2zM323.4 46.45h2v5.3h-2zM367.4 46.45h2v5.3h-2zM383.4 46.45h2v5.3h-2zM311.4 51.75h2v5.3h-2zM349.4 51.75h2v5.3h-2zM395.4 51.75h2v5.3h-2zM291.4 57.05h2v5.3h-2zM307.4 57.05h2v5.3h-2zM315.4 57.05h2v5.3h-2zM327.4 57.05h2v5.3h-2zM345.4 57.05h2v5.3h-2zM391.4 57.05h2v5.3h-2zM323.4 62.35h4v5.3h-4zM347.4 62.35h2v5.3h-2zM351.4 62.35h2v5.3h-2zM329.4 67.65h2v5.3h-2zM337.4 67.65h2v5.3h-2zM347.4 67.65h4v5.3h-4zM365.4 67.65h2v5.3h-2zM375.4 67.65h2v5.3h-2zM295.4 72.95h2v5.3h-2zM337.4 72.95h2v5.3h-2zM355.4 72.95h2v5.3h-2zM359.4 72.95h2v5.3h-2zM367.4 72.95h2v5.3h-2zM385.4 72.95h2v5.3h-2zM297.4 78.25h2v5.3h-2zM343.4 78.25h2v5.3h-2zM349.4 78.25h2v5.3h-2zM367.4 78.25h2v5.3h-2zM373.4 78.25h2v5.3h-2zM387.4 78.25h2v5.3h-2zM393.4 78.25h2v5.3h-2zM303.4 83.55h2v5.3h-2zM333.4 83.55h2v5.3h-2zM357.4 83.55h2v5.3h-2zM395.4 83.55h2v5.3h-2zM337.4 88.85h2v5.3h-2zM349.4 88.85h2v5.3h-2zM353.4 88.85h2v5.3h-2zM367.4 88.85h2v5.3h-2zM375.4 94.15h2v5.3h-2zM321.4 99.45h2v5.3h-2zM359.4 99.45h2v5.3h-2zM395.4 99.45h2v5.3h-2zM371.4 104.75h2v5.3h-2zM393.4 104.75h2v5.3h-2zM273.4 115.35h2v5.3h-2zM397.4 115.35h1.2v5.3h-1.2zM359.4 120.65h2v5.3h-2zM369.4 120.65h2v5.3h-2zM381.4 120.65h2v5.3h-2zM387.4 120.65h2v5.3h-2zM337.4 125.95h2v5.3h-2zM369.4 125.95h2v5.3h-2zM315.4 131.25h2v5.3h-2zM351.4 131.25h2v5.3h-2zM365.4 131.25h2v5.3h-2zM379.4 131.25h2v5.3h-2zM259.4 136.55h2v5.3h-2zM319.4 136.55h2v5.3h-2zM337.4 136.55h2v5.3h-2zM369.4 136.55h2v5.3h-2zM375.4 136.55h2v5.3h-2zM385.4 136.55h2v5.3h-2zM257.4 141.85h2v5.3h-2zM295.4 141.85h2v5.3h-2zM361.4 141.85h2v5.3h-2zM279.4 147.15h2v5.3h-2zM297.4 147.15h2v5.3h-2zM307.4 147.15h2v5.3h-2zM325.4 147.15h2v5.3h-2zM335.4 147.15h2v5.3h-2zM345.4 147.15h2v5.3h-2zM361.4 147.15h2v5.3h-2zM369.4 147.15h2v5.3h-2zM271.4 152.45h2v5.3h-2zM275.4 152.45h2v5.3h-2zM281.4 152.45h2v5.3h-2zM293.4 152.45h2v5.3h-2zM297.4 152.45h2v5.3h-2zM311.4 152.45h2v5.3h-2zM347.4 152.45h2v5.3h-2zM387.4 152.45h2v5.3h-2zM283.4 157.75h2v5.3h-2zM299.4 157.75h2v5.3h-2zM313.4 157.75h2v5.3h-2zM343.4 157.75h2v5.3h-2zM391.4 157.75h2v5.3h-2zM395.4 157.75h2v5.3h-2zM281.4 163.05h2v5.3h-2zM289.4 163.05h4v5.3h-4zM307.4 163.05h2v5.3h-2zM317.4 163.05h2v5.3h-2zM337.4 163.05h2v5.3h-2zM369.4 163.05h2v5.3h-2zM277.4 168.35h2v5.3h-2zM295.4 168.35h2v5.3h-2zM317.4 168.35h2v5.3h-2zM327.4 168.35h2v5.3h-2zM351.4 168.35h2v5.3h-2zM371.4 168.35h2v5.3h-2zM257.4 173.65h4v5.3h-4zM289.4 173.65h2v5.3h-2zM311.4 173.65h2v5.3h-2zM337.4 173.65h2v5.3h-2zM375.4 173.65h2v5.3h-2zM271.4 178.95h2v5.3h-2zM283.4 178.95h2v5.3h-2zM287.4 178.95h2v5.3h-2zM295.4 178.95h2v5.3h-2zM313.4 178.95h2v5.3h-2zM317.4 178.95h2v5.3h-2zM337.4 178.95h2v5.3h-2zM351.4 178.95h2v5.3h-2zM267.4 184.25h2v5.3h-2zM291.4 184.25h2v5.3h-2zM305.4 184.25h2v5.3h-2zM313.4 184.25h2v5.3h-2zM361.4 184.25h2v5.3h-2zM369.4 184.25h2v5.3h-2zM387.4 184.25h2v5.3h-2zM291.4 189.55h2v5.3h-2zM299.4 189.55h2v5.3h-2zM309.4 189.55h2v5.3h-2zM321.4 189.55h2v5.3h-2zM335.4 189.55h2v5.3h-2zM369.4 189.55h2v5.3h-2zM379.4 189.55h2v5.3h-2zM279.4 194.85h2v5.3h-2zM297.4 194.85h2v5.3h-2zM319.4 194.85h2v5.3h-2zM333.4 194.85h2v5.3h-2zM339.4 194.85h2v5.3h-2zM345.4 194.85h2v5.3h-2zM349.4 194.85h2v5.3h-2zM259.4 200.15h2v5.3h-2zM281.4 200.15h2v5.3h-2zM347.4 200.15h2v5.3h-2zM355.4 200.15h2v5.3h-2zM367.4 200.15h2v5.3h-2zM257.4 205.45h2v5.3h-2zM263.4 205.45h2v5.3h-2zM275.4 205.45h2v5.3h-2zM295.4 205.45h2v5.3h-2zM309.4 205.45h2v5.3h-2zM313.4 205.45h2v5.3h-2zM319.4 205.45h4v5.3h-4zM337.4 205.45h2v5.3h-2zM349.4 205.45h2v5.3h-2zM285.4 210.75h2v5.3h-2zM311.4 210.75h2v5.3h-2zM329.4 210.75h2v5.3h-2zM333.4 210.75h2v5.3h-2zM341.4 210.75h4v5.3h-4zM355.4 210.75h2v5.3h-2zM385.4 210.75h2v5.3h-2zM289.4 216.05h2v5.3h-2zM295.4 216.05h2v5.3h-2zM309.4 216.05h2v5.3h-2zM327.4 216.05h6v5.3h-6zM355.4 216.05h2v5.3h-2zM369.4 216.05h2v5.3h-2zM257.4 221.35h2v5.3h-2zM271.4 221.35h2v5.3h-2zM287.4 221.35h2v5.3h-2zM335.4 221.35h2v5.3h-2zM359.4 221.35h2v5.3h-2zM363.4 221.35h2v5.3h-2zM373.4 221.35h2v5.3h-2zM283.4 226.65h2v5.3h-2zM315.4 226.65h2v5.3h-2zM329.4 226.65h2v5.3h-2zM267.4 231.95h2v5.3h-2zM279.4 231.95h4v5.3h-4zM287.4 231.95h4v5.3h-4zM299.4 231.95h2v5.3h-2zM307.4 231.95h6v5.3h-6zM329.4 231.95h2v5.3h-2zM359.4 231.95h2v5.3h-2zM365.4 231.95h2v5.3h-2zM263.4 237.25h2v5.3h-2zM291.4 237.25h2v5.3h-2zM363.4 237.25h2v5.3h-2zM395.4 237.25h2v5.3h-2zM259.4 242.55h2v5.3h-2zM283.4 242.55h2v5.3h-2zM291.4 242.55h2v5.3h-2zM329.4 242.55h2v5.3h-2zM341.4 242.55h2v5.3h-2zM257.4 247.85h2v5.3h-2zM287.4 247.85h2v5.3h-2zM311.4 247.85h2v5.3h-2zM373.4 247.85h2v5.3h-2zM391.4 247.85h2v5.3h-2zM397.4 247.85h1.2v5.3h-1.2zM305.4 253.15h2v5.3h-2zM331.4 253.15h2v5.3h-2zM355.4 253.15h2v5.3h-2zM363.4 253.15h2v5.3h-2zM367.4 253.15h2v5.3h-2zM259.4 258.45h2v5.3h-2zM323.4 258.45h2v5.3h-2zM337.4 258.45h2v5.3h-2zM369.4 258.45h2v5.3h-2zM391.4 258.45h2v5.3h-2zM275.4 263.75h2v5.3h-2zM295.4 263.75h2v5.3h-2zM309.4 263.75h2v5.3h-2zM329.4 263.75h2v5.3h-2zM333.4 263.75h2v5.3h-2zM363.4 263.75h2v5.3h-2zM257.4 269.05h2v5.3h-2zM271.4 269.05h2v5.3h-2zM293.4 269.05h2v5.3h-2zM309.4 269.05h2v5.3h-2zM329.4 269.05h2v5.3h-2zM361.4 269.05h2v5.3h-2zM263.4 274.35h2v5.3h-2zM271.4 274.35h2v5.3h-2zM321.4 274.35h2v5.3h-2zM335.4 274.35h2v5.3h-2zM257.4 279.65h2v5.3h-2zM265.4 279.65h2v5.3h-2zM277.4 279.65h2v5.3h-2zM283.4 279.65h2v5.3h-2zM301.4 279.65h2v5.3h-2zM313.4 279.65h2v5.3h-2zM317.4 279.65h2v5.3h-2zM329.4 279.65h4v5.3h-4zM335.4 279.65h4v5.3h-4zM349.4 279.65h2v5.3h-2zM385.4 279.65h2v5.3h-2zM283.4 284.95h2v5.3h-2zM297.4 284.95h2v5.3h-2zM361.4 284.95h2v5.3h-2zM257.4 290.25h2v5.3h-2zM275.4 290.25h2v5.3h-2zM287.4 290.25h4v5.3h-4zM299.4 290.25h4v5.3h-4zM315.4 290.25h4v5.3h-4zM361.4 290.25h2v5.3h-2zM377.4 290.25h2v5.3h-2zM261.4 295.55h2v5.3h-2zM267.4 295.55h2v5.3h-2zM291.4 295.55h2v5.3h-2zM297.4 295.55h2v5.3h-2zM301.4 295.55h6v5.3h-6zM309.4 295.55h2v5.3h-2zM263.4 300.85h2v5.3h-2zM281.4 300.85h2v5.3h-2zM305.4 300.85h2v5.3h-2zM311.4 300.85h2v5.3h-2zM319.4 300.85h2v5.3h-2zM331.4 300.85h2v5.3h-2zM361.4 300.85h2v5.3h-2zM369.4 300.85h2v5.3h-2zM273.4 306.15h2v5.3h-2zM285.4 306.15h2v5.3h-2zM301.4 306.15h2v5.3h-2zM333.4 306.15h4v5.3h-4zM369.4 306.15h2v5.3h-2zM259.4 311.45h2v5.3h-2zM267.4 311.45h2v5.3h-2zM285.4 311.45h2v5.3h-2zM307.4 311.45h4v5.3h-4zM335.4 311.45h2v5.3h-2zM345.4 311.45h2v5.3h-2zM263.4 316.75h2v5.3h-2zM277.4 316.75h2v5.3h-2zM285.4 316.75h2v5.3h-2zM331.4 316.75h4v5.3h-4zM381.4 316.75h2v5.3h-2zM271.4 322.05h2v5.3h-2zM299.4 322.05h4v5.3h-4zM267.4 327.35h2v2.65h-2zM279.4 327.35h2v2.65h-2zM291.4 327.35h2v2.65h-2zM297.4 327.35h2v2.65h-2zM305.4 327.35h2v2.65h-2zM309.4 327.35h2v2.65h-2z"/>
<path fill="#06fff9" d="M313.4 41.15h2v5.3h-2zM275.4 46.45h2v5.3h-2zM299.4 46.45h2v5.3h-2zM305.4 46.45h2v5.3h-2zM313.4 46.45h2v5.3h-2zM339.4 46.45h2v5.3h-2zM257.4 51.75h2v5.3h-2zM261.4 51.75h2v5.3h-2zM271.4 51.75h2v5.3h-2zM281.4 51.75h2v5.3h-2zM285.4 51.75h2v5.3h-2zM293.4 51.75h4v5.3h-4zM299.4 51.75h2v5.3h-2zM317.4 51.75h2v5.3h-2zM323.4 51.75h2v5.3h-2zM359.4 51.75h2v5.3h-2zM269.4 57.05h2v5.3h-2zM285.4 57.05h2v5.3h-2zM329.4 57.05h2v5.3h-2zM343.4 57.05h2v5.3h-2zM349.4 57.05h2v5.3h-2zM361.4 57.05h2v5.3h-2zM387.4 57.05h2v5.3h-2zM299.4 62.35h2v5.3h-2zM307.4 62.35h2v5.3h-2zM311.4 62.35h2v5.3h-2zM315.4 62.35h2v5.3h-2zM319.4 62.35h2v5.3h-2zM355.4 62.35h2v5.3h-2zM391.4 62.35h4v5.3h-4zM265.4 67.65h2v5.3h-2zM317.4 67.65h2v5.3h-2zM363.4 67.65h2v5.3h-2zM385.4 67.65h6v5.3h-6zM393.4 67.65h2v5.3h-2zM273.4 72.95h2v5.3h-2zM281.4 72.95h4v5.3h-4zM297.4 72.95h2v5.3h-2zM313.4 72.95h2v5.3h-2zM321.4 72.95h2v5.3h-2zM325.4 72.95h2v5.3h-2zM363.4 72.95h2v5.3h-2zM375.4 72.95h2v5.3h-2zM387.4 72.95h2v5.3h-2zM359.4 78.25h2v5.3h-2zM365.4 78.25h2v5.3h-2zM375.4 78.25h4v5.3h-4zM391.4 78.25h2v5.3h-2zM343.4 83.55h2v5.3h-2zM391.4 83.55h2v5.3h-2zM319.4 88.85h2v5.3h-2zM333.4 88.85h2v5.3h-2zM343.4 88.85h2v5.3h-2zM351.4 88.85h2v5.3h-2zM359.4 88.85h2v5.3h-2zM363.4 88.85h2v5.3h-2zM379.4 88.85h2v5.3h-2zM395.4 88.85h2v5.3h-2zM261.4 94.15h2v5.3h-2zM275.4 94.15h2v5.3h-2zM339.4 94.15h4v5.3h-4zM365.4 94.15h2v5.3h-2zM387.4 94.15h2v5.3h-2zM347.4 99.45h4v5.3h-4zM353.4 99.45h2v5.3h-2zM373.4 99.45h2v5.3h-2zM321.4 104.75h2v5.3h-2zM337.4 104.75h2v5.3h-2zM375.4 104.75h4v5.3h-4zM381.4 104.75h2v5.3h-2zM387.4 104.75h2v5.3h-2zM315.4 110.05h2v5.3h-2zM347.4 110.05h2v5.3h-2zM351.4 110.05h2v5.3h-2zM359.4 110.05h2v5.3h-2zM369.4 110.05h2v5.3h-2zM381.4 110.05h4v5.3h-4zM363.4 115.35h2v5.3h-2zM371.4 115.35h2v5.3h-2zM343.4 120.65h2v5.3h-2zM365.4 120.65h2v5.3h-2zM375.4 120.65h4v5.3h-4zM277.4 125.95h2v5.3h-2zM287.4 125.95h2v5.3h-2zM287.4 131.25h2v5.3h-2zM347.4 136.55h2v5.3h-2zM355.4 136.55h2v5.3h-2zM299.4 141.85h2v5.3h-2zM317.4 141.85h2v5.3h-2zM329.4 141.85h2v5.3h-2zM339.4 141.85h2v5.3h-2zM349.4 141.85h2v5.3h-2zM381.4 141.85h2v5.3h-2zM385.4 141.85h2v5.3h-2zM331.4 147.15h2v5.3h-2zM343.4 147.15h2v5.3h-2zM357.4 147.15h4v5.3h-4zM377.4 147.15h2v5.3h-2zM397.4 147.15h1.2v5.3h-1.2zM299.4 152.45h2v5.3h-2zM309.4 152.45h2v5.3h-2zM325.4 152.45h2v5.3h-2zM345.4 152.45h2v5.3h-2zM365.4 152.45h2v5.3h-2zM377.4 152.45h2v5.3h-2zM383.4 152.45h2v5.3h-2zM281.4 157.75h2v5.3h-2zM305.4 157.75h2v5.3h-2zM329.4 157.75h2v5.3h-2zM283.4 163.05h2v5.3h-2zM309.4 163.05h2v5.3h-2zM321.4 163.05h4v5.3h-4zM331.4 163.05h2v5.3h-2zM353.4 163.05h2v5.3h-2zM371.4 163.05h2v5.3h-2zM259.4 168.35h2v5.3h-2zM275.4 168.35h2v5.3h-2zM305.4 168.35h2v5.3h-2zM323.4 168.35h2v5.3h-2zM287.4 173.65h2v5.3h-2zM301.4 173.65h2v5.3h-2zM355.4 173.65h2v5.3h-2zM365.4 173.65h2v5.3h-2zM277.4 178.95h4v5.3h-4zM303.4 178.95h2v5.3h-2zM261.4 184.25h2v5.3h-2zM289.4 184.25h2v5.3h-2zM299.4 184.25h2v5.3h-2zM307.4 184.25h2v5.3h-2zM335.4 184.25h4v5.3h-4zM355.4 184.25h2v5.3h-2zM373.4 184.25h2v5.3h-2zM259.4 189.55h2v5.3h-2zM265.4 189.55h2v5.3h-2zM269.4 189.55h2v5.3h-2zM277.4 189.55h2v5.3h-2zM285.4 189.55h4v5.3h-4zM327.4 189.55h4v5.3h-4zM333.4 189.55h2v5.3h-2zM257.4 194.85h2v5.3h-2zM269.4 194.85h2v5.3h-2zM293.4 194.85h4v5.3h-4zM303.4 194.85h2v5.3h-2zM311.4 194.85h4v5.3h-4zM375.4 194.85h2v5.3h-2zM307.4 200.15h2v5.3h-2zM265.4 205.45h2v5.3h-2zM307.4 205.45h2v5.3h-2zM317.4 205.45h2v5.3h-2zM331.4 205.45h2v5.3h-2zM341.4 205.45h2v5.3h-2zM279.4 210.75h2v5.3h-2zM293.4 210.75h2v5.3h-2zM301.4 210.75h4v5.3h-4zM317.4 210.75h2v5.3h-2zM345.4 210.75h2v5.3h-2zM353.4 210.75h2v5.3h-2zM389.4 210.75h2v5.3h-2zM257.4 216.05h2v5.3h-2zM275.4 216.05h2v5.3h-2zM301.4 216.05h2v5.3h-2zM307.4 216.05h2v5.3h-2zM319.4 216.05h2v5.3h-2zM357.4 216.05h2v5.3h-2zM361.4 216.05h2v5.3h-2zM365.4 216.05h2v5.3h-2zM267.4 221.35h2v5.3h-2zM273.4 221.35h2v5.3h-2zM323.4 221.35h2v5.3h-2zM369.4 221.35h2v5.3h-2zM269.4 226.65h2v5.3h-2zM277.4 226.65h2v5.3h-2zM289.4 226.65h2v5.3h-2zM301.4 226.65h4v5.3h-4zM309.4 226.65h2v5.3h-2zM385.4 226.65h2v5.3h-2zM261.4 231.95h2v5.3h-2zM273.4 231.95h2v5.3h-2zM295.4 231.95h2v5.3h-2zM333.4 231.95h2v5.3h-2zM339.4 231.95h4v5.3h-4zM361.4 231.95h2v5.3h-2zM265.4 237.25h2v5.3h-2zM269.4 237.25h2v5.3h-2zM281.4 237.25h2v5.3h-2zM313.4 237.25h2v5.3h-2zM317.4 237.25h2v5.3h-2zM365.4 237.25h2v5.3h-2zM263.4 242.55h2v5.3h-2zM267.4 242.55h2v5.3h-2zM289.4 242.55h2v5.3h-2zM305.4 242.55h2v5.3h-2zM311.4 242.55h2v5.3h-2zM273.4 247.85h2v5.3h-2zM285.4 247.85h2v5.3h-2zM305.4 247.85h2v5.3h-2zM325.4 247.85h2v5.3h-2zM343.4 247.85h2v5.3h-2zM273.4 253.15h2v5.3h-2zM327.4 253.15h2v5.3h-2zM267.4 258.45h2v5.3h-2zM273.4 258.45h2v5.3h-2zM277.4 258.45h2v5.3h-2zM301.4 258.45h4v5.3h-4zM311.4 258.45h2v5.3h-2zM267.4 269.05h2v5.3h-2zM303.4 269.05h2v5.3h-2zM259.4 274.35h2v5.3h-2zM267.4 274.35h2v5.3h-2zM295.4 274.35h2v5.3h-2zM305.4 274.35h2v5.3h-2zM329.4 274.35h2v5.3h-2zM333.4 274.35h2v5.3h-2zM271.4 279.65h2v5.3h-2zM287.4 279.65h2v5.3h-2zM293.4 279.65h2v5.3h-2zM305.4 279.65h2v5.3h-2zM315.4 279.65h2v5.3h-2zM353.4 279.65h2v5.3h-2zM289.4 284.95h2v5.3h-2zM293.4 284.95h2v5.3h-2zM305.4 284.95h2v5.3h-2zM367.4 284.95h2v5.3h-2zM259.4 290.25h2v5.3h-2zM285.4 290.25h2v5.3h-2zM383.4 290.25h2v5.3h-2zM265.4 295.55h2v5.3h-2zM285.4 295.55h4v5.3h-4zM335.4 295.55h6v5.3h-6zM397.4 295.55h1.2v5.3h-1.2zM285.4 300.85h2v5.3h-2zM307.4 300.85h2v5.3h-2zM339.4 300.85h2v5.3h-2zM261.4 306.15h2v5.3h-2zM269.4 306.15h2v5.3h-2zM305.4 306.15h2v5.3h-2zM309.4 306.15h2v5.3h-2zM317.4 306.15h2v5.3h-2zM331.4 306.15h2v5.3h-2zM343.4 306.15h2v5.3h-2zM299.4 311.45h2v5.3h-2zM267.4 316.75h2v5.3h-2zM273.4 316.75h2v5.3h-2zM291.4 316.75h2v5.3h-2zM327.4 316.75h2v5.3h-2zM265.4 322.05h2v5.3h-2zM275.4 322.05h2v5.3h-2zM289.4 322.05h2v5.3h-2zM311.4 322.05h2v5.3h-2zM257.4 327.35h2v2.65h-2zM283.4 327.35h2v2.65h-2zM307.4 327.35h2v2.65h-2z"/>
<path fill="#16ffe9" d="M261.4 41.15h2v5.3h-2zM275.4 41.15h2v5.3h-2zM259.4 46.45h2v5.3h-2zM269.4 46.45h2v5.3h-2zM287.4 46.45h2v5.3h-2zM293.4 46.45h2v5.3h-2zM301.4 46.45h2v5.3h-2zM309.4 46.45h2v5.3h-2zM267.4 51.75h2v5.3h-2zM289.4 51.75h2v5.3h-2zM301.4 51.75h2v5.3h-2zM313.4 51.75h2v5.3h-2zM319.4 51.75h4v5.3h-4zM339.4 51.75h2v5.3h-2zM375.4 51.75h2v5.3h-2zM379.4 51.75h2v5.3h-2zM265.4 57.05h2v5.3h-2zM287.4 57.05h2v5.3h-2zM311.4 57.05h2v5.3h-2zM333.4 57.05h2v5.3h-2zM353.4 57.05h2v5.3h-2zM363.4 57.05h2v5.3h-2zM371.4 57.05h2v5.3h-2zM259.4 62.35h2v5.3h-2zM271.4 62.35h2v5.3h-2zM281.4 62.35h2v5.3h-2zM297.4 62.35h2v5.3h-2zM317.4 62.35h2v5.3h-2zM321.4 62.35h2v5.3h-2zM333.4 62.35h2v5.3h-2zM363.4 62.35h2v5.3h-2zM371.4 62.35h2v5.3h-2zM381.4 62.35h2v5.3h-2zM291.4 67.65h2v5.3h-2zM305.4 67.65h2v5.3h-2zM321.4 67.65h2v5.3h-2zM339.4 67.65h2v5.3h-2zM379.4 67.65h4v5.3h-4zM397.4 67.65h1.2v5.3h-1.2zM311.4 72.95h2v5.3h-2zM335.4 72.95h2v5.3h-2zM353.4 72.95h2v5.3h-2zM369.4 72.95h4v5.3h-4zM379.4 72.95h2v5.3h-2zM393.4 72.95h2v5.3h-2zM303.4 78.25h2v5.3h-2zM319.4 78.25h2v5.3h-2zM325.4 78.25h2v5.3h-2zM353.4 78.25h2v5.3h-2zM277.4 83.55h2v5.3h-2zM327.4 83.55h2v5.3h-2zM337.4 83.55h2v5.3h-2zM347.4 83.55h2v5.3h-2zM351.4 83.55h2v5.3h-2zM373.4 83.55h4v5.3h-4zM335.4 88.85h2v5.3h-2zM347.4 88.85h2v5.3h-2zM393.4 88.85h2v5.3h-2zM319.4 94.15h2v5.3h-2zM345.4 94.15h2v5.3h-2zM373.4 94.15h2v5.3h-2zM385.4 94.15h2v5.3h-2zM263.4 99.45h2v5.3h-2zM331.4 99.45h2v5.3h-2zM343.4 99.45h2v5.3h-2zM381.4 99.45h2v5.3h-2zM385.4 99.45h2v5.3h-2zM335.4 104.75h2v5.3h-2zM359.4 104.75h2v5.3h-2zM365.4 104.75h2v5.3h-2zM385.4 104.75h2v5.3h-2zM353.4 110.05h2v5.3h-2zM373.4 110.05h2v5.3h-2zM321.4 115.35h2v5.3h-2zM331.4 115.35h2v5.3h-2zM339.4 115.35h2v5.3h-2zM365.4 115.35h2v5.3h-2zM387.4 115.35h2v5.3h-2zM295.4 120.65h2v5.3h-2zM331.4 120.65h2v5.3h-2zM337.4 120.65h2v5.3h-2zM345.4 120.65h2v5.3h-2zM351.4 120.65h2v5.3h-2zM373.4 120.65h2v5.3h-2zM273.4 125.95h2v5.3h-2zM327.4 125.95h2v5.3h-2zM335.4 125.95h2v5.3h-2zM353.4 125.95h2v5.3h-2zM367.4 125.95h2v5.3h-2zM371.4 125.95h2v5.3h-2zM273.4 131.25h2v5.3h-2zM369.4 131.25h2v5.3h-2zM377.4 131.25h2v5.3h-2zM395.4 131.25h2v5.3h-2zM261.4 136.55h2v5.3h-2zM297.4 136.55h2v5.3h-2zM305.4 136.55h2v5.3h-2zM333.4 136.55h2v5.3h-2zM357.4 136.55h2v5.3h-2zM383.4 136.55h2v5.3h-2zM397.4 136.55h1.2v5.3h-1.2zM269.4 141.85h4v5.3h-4zM283.4 141.85h2v5.3h-2zM321.4 141.85h2v5.3h-2zM333.4 141.85h2v5.3h-2zM343.4 141.85h2v5.3h-2zM359.4 141.85h2v5.3h-2zM377.4 141.85h2v5.3h-2zM397.4 141.85h1.2v5.3h-1.2zM293.4 147.15h2v5.3h-2zM309.4 147.15h2v5.3h-2zM327.4 147.15h2v5.3h-2zM263.4 152.45h2v5.3h-2zM273.4 152.45h2v5.3h-2zM289.4 152.45h4v5.3h-4zM305.4 152.45h2v5.3h-2zM339.4 152.45h2v5.3h-2zM275.4 157.75h2v5.3h-2zM293.4 157.75h2v5.3h-2zM309.4 157.75h2v5.3h-2zM323.4 157.75h2v5.3h-2zM333.4 157.75h2v5.3h-2zM345.4 157.75h4v5.3h-4zM359.4 157.75h2v5.3h-2zM381.4 157.75h4v5.3h-4zM263.4 163.05h2v5.3h-2zM273.4 163.05h2v5.3h-2zM333.4 163.05h2v5.3h-2zM377.4 163.05h2v5.3h-2zM387.4 163.05h2v5.3h-2zM273.4 168.35h2v5.3h-2zM283.4 168.35h2v5.3h-2zM289.4 168.35h2v5.3h-2zM299.4 168.35h2v5.3h-2zM325.4 168.35h2v5.3h-2zM329.4 168.35h2v5.3h-2zM375.4 168.35h2v5.3h-2zM291.4 173.65h2v5.3h-2zM263.4 178.95h4v5.3h-4zM299.4 178.95h2v5.3h-2zM305.4 178.95h2v5.3h-2zM275.4 184.25h2v5.3h-2zM283.4 184.25h2v5.3h-2zM317.4 184.25h2v5.3h-2zM283.4 189.55h2v5.3h-2zM289.4 189.55h2v5.3h-2zM305.4 189.55h2v5.3h-2zM325.4 189.55h2v5.3h-2zM347.4 189.55h2v5.3h-2zM351.4 189.55h2v5.3h-2zM337.4 194.85h2v5.3h-2zM367.4 194.85h2v5.3h-2zM265.4 200.15h2v5.3h-2zM297.4 200.15h2v5.3h-2zM333.4 200.15h2v5.3h-2zM259.4 205.45h2v5.3h-2zM267.4 205.45h2v5.3h-2zM299.4 205.45h2v5.3h-2zM303.4 205.45h2v5.3h-2zM353.4 205.45h2v5.3h-2zM385.4 205.45h2v5.3h-2zM267.4 210.75h2v5.3h-2zM273.4 210.75h2v5.3h-2zM277.4 210.75h2v5.3h-2zM313.4 216.05h2v5.3h-2zM299.4 221.35h2v5.3h-2zM303.4 221.35h2v5.3h-2zM307.4 221.35h2v5.3h-2zM311.4 221.35h2v5.3h-2zM353.4 221.35h2v5.3h-2zM263.4 226.65h2v5.3h-2zM305.4 226.65h2v5.3h-2zM365.4 226.65h2v5.3h-2zM257.4 231.95h2v5.3h-2zM285.4 231.95h2v5.3h-2zM297.4 231.95h2v5.3h-2zM301.4 231.95h2v5.3h-2zM335.4 231.95h4v5.3h-4zM363.4 231.95h2v5.3h-2zM329.4 237.25h2v5.3h-2zM317.4 242.55h2v5.3h-2zM333.4 242.55h4v5.3h-4zM363.4 242.55h2v5.3h-2zM283.4 247.85h2v5.3h-2zM337.4 247.85h2v5.3h-2zM357.4 247.85h2v5.3h-2zM291.4 253.15h2v5.3h-2zM297.4 253.15h2v5.3h-2zM313.4 253.15h2v5.3h-2zM317.4 253.15h2v5.3h-2zM321.4 253.15h2v5.3h-2zM261.4 258.45h2v5.3h-2zM271.4 258.45h2v5.3h-2zM283.4 258.45h2v5.3h-2zM287.4 258.45h4v5.3h-4zM295.4 258.45h2v5.3h-2zM305.4 258.45h2v5.3h-2zM313.4 258.45h4v5.3h-4zM327.4 258.45h2v5.3h-2zM279.4 263.75h2v5.3h-2zM301.4 263.75h2v5.3h-2zM305.4 263.75h2v5.3h-2zM313.4 263.75h2v5.3h-2zM261.4 269.05h2v5.3h-2zM273.4 269.05h2v5.3h-2zM277.4 269.05h2v5.3h-2zM341.4 269.05h2v5.3h-2zM261.4 279.65h2v5.3h-2zM275.4 279.65h2v5.3h-2zM279.4 279.65h2v5.3h-2zM265.4 284.95h2v5.3h-2zM337.4 284.95h2v5.3h-2zM363.4 284.95h2v5.3h-2zM309.4 290.25h2v5.3h-2zM259.4 295.55h2v5.3h-2zM315.4 295.55h2v5.3h-2zM261.4 300.85h2v5.3h-2zM297.4 300.85h2v5.3h-2zM257.4 306.15h2v5.3h-2zM307.4 306.15h2v5.3h-2zM287.4 311.45h2v5.3h-2zM295.4 311.45h2v5.3h-2zM311.4 311.45h2v5.3h-2zM265.4 316.75h2v5.3h-2zM281.4 316.75h2v5.3h-2zM305.4 316.75h2v5.3h-2zM343.4 316.75h2v5.3h-2zM277.4 322.05h2v5.3h-2zM283.4 322.05h2v5.3h-2zM291.4 322.05h2v5.3h-2zM259.4 327.35h2v2.65h-2zM295.4 327.35h2v2.65h-2z"/>
<path fill="#26ffd9" d="M259.4 51.75h2v5.3h-2zM263.4 51.75h4v5.3h-4zM279.4 51.75h2v5.3h-2zM365.4 51.75h2v5.3h-2zM271.4 57.05h4v5.3h-4zM319.4 57.05h2v5.3h-2zM337.4 57.05h4v5.3h-4zM359.4 57.05h2v5.3h-2zM265.4 62.35h2v5.3h-2zM291.4 62.35h2v5.3h-2zM295.4 62.35h2v5.3h-2zM303.4 62.35h2v5.3h-2zM309.4 62.35h2v5.3h-2zM313.4 62.35h2v5.3h-2zM349.4 62.35h2v5.3h-2zM311.4 67.65h2v5.3h-2zM331.4 67.65h2v5.3h-2zM353.4 67.65h2v5.3h-2zM361.4 67.65h2v5.3h-2zM289.4 72.95h2v5.3h-2zM315.4 72.95h2v5.3h-2zM329.4 72.95h2v5.3h-2zM339.4 72.95h4v5.3h-4zM349.4 72.95h2v5.3h-2zM373.4 72.95h2v5.3h-2zM391.4 72.95h2v5.3h-2zM327.4 78.25h6v5.3h-6zM361.4 78.25h2v5.3h-2zM379.4 78.25h2v5.3h-2zM273.4 83.55h2v5.3h-2zM299.4 83.55h2v5.3h-2zM309.4 83.55h2v5.3h-2zM323.4 83.55h2v5.3h-2zM335.4 83.55h2v5.3h-2zM355.4 83.55h2v5.3h-2zM305.4 88.85h2v5.3h-2zM309.4 88.85h4v5.3h-4zM323.4 88.85h2v5.3h-2zM339.4 88.85h2v5.3h-2zM375.4 88.85h2v5.3h-2zM313.4 94.15h2v5.3h-2zM347.4 94.15h2v5.3h-2zM359.4 94.15h2v5.3h-2zM303.4 99.45h2v5.3h-2zM307.4 99.45h2v5.3h-2zM311.4 99.45h2v5.3h-2zM327.4 99.45h2v5.3h-2zM335.4 99.45h2v5.3h-2zM355.4 99.45h2v5.3h-2zM361.4 99.45h6v5.3h-6zM331.4 104.75h2v5.3h-2zM339.4 104.75h2v5.3h-2zM357.4 104.75h2v5.3h-2zM363.4 104.75h2v5.3h-2zM269.4 110.05h2v5.3h-2zM309.4 110.05h2v5.3h-2zM333.4 110.05h2v5.3h-2zM349.4 110.05h2v5.3h-2zM309.4 115.35h2v5.3h-2zM337.4 115.35h2v5.3h-2zM341.4 115.35h2v5.3h-2zM361.4 115.35h2v5.3h-2zM367.4 115.35h2v5.3h-2zM375.4 115.35h2v5.3h-2zM277.4 120.65h2v5.3h-2zM317.4 120.65h4v5.3h-4zM355.4 120.65h2v5.3h-2zM367.4 120.65h2v5.3h-2zM383.4 120.65h2v5.3h-2zM319.4 125.95h2v5.3h-2zM349.4 125.95h4v5.3h-4zM319.4 131.25h2v5.3h-2zM337.4 131.25h2v5.3h-2zM347.4 131.25h2v5.3h-2zM363.4 131.25h2v5.3h-2zM373.4 131.25h2v5.3h-2zM273.4 136.55h2v5.3h-2zM281.4 136.55h2v5.3h-2zM343.4 136.55h2v5.3h-2zM349.4 136.55h2v5.3h-2zM359.4 136.55h2v5.3h-2zM297.4 141.85h2v5.3h-2zM305.4 141.85h2v5.3h-2zM313.4 141.85h2v5.3h-2zM327.4 141.85h2v5.3h-2zM331.4 141.85h2v5.3h-2zM375.4 141.85h2v5.3h-2zM379.4 141.85h2v5.3h-2zM291.4 147.15h2v5.3h-2zM321.4 147.15h2v5.3h-2zM349.4 147.15h2v5.3h-2zM261.4 152.45h2v5.3h-2zM279.4 152.45h2v5.3h-2zM287.4 152.45h2v5.3h-2zM303.4 152.45h2v5.3h-2zM329.4 152.45h2v5.3h-2zM341.4 152.45h2v5.3h-2zM257.4 157.75h2v5.3h-2zM277.4 157.75h2v5.3h-2zM285.4 157.75h2v5.3h-2zM301.4 157.75h2v5.3h-2zM311.4 157.75h2v5.3h-2zM337.4 157.75h2v5.3h-2zM363.4 157.75h2v5.3h-2zM267.4 163.05h2v5.3h-2zM275.4 163.05h2v5.3h-2zM301.4 163.05h2v5.3h-2zM311.4 163.05h2v5.3h-2zM297.4 168.35h2v5.3h-2zM309.4 168.35h2v5.3h-2zM383.4 168.35h2v5.3h-2zM265.4 173.65h2v5.3h-2zM273.4 173.65h4v5.3h-4zM281.4 173.65h2v5.3h-2zM329.4 173.65h2v5.3h-2zM341.4 173.65h2v5.3h-2zM367.4 178.95h2v5.3h-2zM271.4 184.25h2v5.3h-2zM263.4 189.55h2v5.3h-2zM273.4 189.55h2v5.3h-2zM297.4 189.55h2v5.3h-2zM307.4 189.55h2v5.3h-2zM263.4 194.85h2v5.3h-2zM267.4 200.15h2v5.3h-2zM283.4 200.15h2v5.3h-2zM289.4 200.15h2v5.3h-2zM293.4 200.15h2v5.3h-2zM301.4 200.15h2v5.3h-2zM285.4 205.45h2v5.3h-2zM333.4 205.45h2v5.3h-2zM367.4 205.45h4v5.3h-4zM373.4 205.45h2v5.3h-2zM263.4 210.75h2v5.3h-2zM307.4 210.75h2v5.3h-2zM357.4 210.75h2v5.3h-2zM265.4 216.05h2v5.3h-2zM269.4 216.05h2v5.3h-2zM277.4 216.05h2v5.3h-2zM291.4 216.05h2v5.3h-2zM303.4 216.05h4v5.3h-4zM311.4 216.05h2v5.3h-2zM259.4 221.35h4v5.3h-4zM277.4 221.35h2v5.3h-2zM281.4 221.35h2v5.3h-2zM329.4 221.35h2v5.3h-2zM333.4 221.35h2v5.3h-2zM259.4 226.65h2v5.3h-2zM267.4 226.65h2v5.3h-2zM273.4 226.65h2v5.3h-2zM281.4 226.65h2v5.3h-2zM299.4 226.65h2v5.3h-2zM269.4 231.95h2v5.3h-2zM283.4 237.25h2v5.3h-2zM333.4 237.25h2v5.3h-2zM341.4 237.25h2v5.3h-2zM261.4 242.55h2v5.3h-2zM277.4 242.55h2v5.3h-2zM289.4 247.85h4v5.3h-4zM313.4 247.85h2v5.3h-2zM257.4 253.15h2v5.3h-2zM265.4 258.45h2v5.3h-2zM279.4 258.45h2v5.3h-2zM271.4 263.75h2v5.3h-2zM285.4 263.75h2v5.3h-2zM337.4 263.75h2v5.3h-2zM275.4 269.05h2v5.3h-2zM285.4 269.05h2v5.3h-2zM305.4 269.05h2v5.3h-2zM327.4 269.05h2v5.3h-2zM261.4 274.35h2v5.3h-2zM279.4 274.35h2v5.3h-2zM285.4 279.65h2v5.3h-2zM267.4 284.95h2v5.3h-2zM273.4 284.95h4v5.3h-4zM261.4 290.25h2v5.3h-2zM321.4 290.25h2v5.3h-2zM257.4 295.55h2v5.3h-2zM307.4 295.55h2v5.3h-2zM275.4 300.85h2v5.3h-2zM293.4 306.15h2v5.3h-2zM265.4 311.45h2v5.3h-2zM311.4 316.75h2v5.3h-2zM261.4 322.05h2v5.3h-2zM285.4 322.05h2v5.3h-2zM261.4 327.35h2v2.65h-2zM275.4 327.35h2v2.65h-2zM289.4 327.35h2v2.65h-2zM303.4 327.35h2v2.65h-2z"/>
<path fill="#37ffc8" d="M301.4 41.15h2v5.3h-2zM263.4 46.45h2v5.3h-2zM285.4 46.45h2v5.3h-2zM273.4 51.75h2v5.3h-2zM333.4 51.75h2v5.3h-2zM257.4 57.05h2v5.3h-2zM277.4 57.05h2v5.3h-2zM281.4 57.05h2v5.3h-2zM293.4 57.05h2v5.3h-2zM303.4 57.05h2v5.3h-2zM367.4 57.05h2v5.3h-2zM279.4 62.35h2v5.3h-2zM357.4 62.35h2v5.3h-2zM383.4 62.35h2v5.3h-2zM263.4 67.65h2v5.3h-2zM275.4 67.65h2v5.3h-2zM279.4 67.65h2v5.3h-2zM295.4 67.65h2v5.3h-2zM309.4 67.65h2v5.3h-2zM325.4 67.65h2v5.3h-2zM341.4 67.65h2v5.3h-2zM367.4 67.65h2v5.3h-2zM309.4 72.95h2v5.3h-2zM319.4 72.95h2v5.3h-2zM281.4 78.25h2v5.3h-2zM295.4 78.25h2v5.3h-2zM309.4 78.25h4v5.3h-4zM315.4 78.25h4v5.3h-4zM321.4 78.25h2v5.3h-2zM341.4 78.25h2v5.3h-2zM355.4 78.25h2v5.3h-2zM297.4 83.55h2v5.3h-2zM305.4 83.55h2v5.3h-2zM321.4 83.55h2v5.3h-2zM325.4 83.55h2v5.3h-2zM339.4 83.55h2v5.3h-2zM291.4 88.85h2v5.3h-2zM295.4 88.85h2v5.3h-2zM313.4 88.85h2v5.3h-2zM321.4 88.85h2v5.3h-2zM361.4 88.85h2v5.3h-2zM365.4 88.85h2v5.3h-2zM369.4 88.85h2v5.3h-2zM373.4 88.85h2v5.3h-2zM263.4 94.15h2v5.3h-2zM303.4 94.15h2v5.3h-2zM333.4 94.15h2v5.3h-2zM371.4 94.15h2v5.3h-2zM291.4 99.45h2v5.3h-2zM295.4 99.45h2v5.3h-2zM315.4 99.45h2v5.3h-2zM333.4 99.45h2v5.3h-2zM337.4 99.45h2v5.3h-2zM341.4 99.45h2v5.3h-2zM375.4 99.45h2v5.3h-2zM379.4 99.45h2v5.3h-2zM291.4 104.75h2v5.3h-2zM297.4 104.75h2v5.3h-2zM305.4 104.75h2v5.3h-2zM319.4 104.75h2v5.3h-2zM343.4 104.75h2v5.3h-2zM295.4 110.05h2v5.3h-2zM307.4 110.05h2v5.3h-2zM321.4 110.05h2v5.3h-2zM327.4 110.05h2v5.3h-2zM337.4 110.05h2v5.3h-2zM357.4 110.05h2v5.3h-2zM361.4 110.05h6v5.3h-6zM385.4 110.05h2v5.3h-2zM271.4 115.35h2v5.3h-2zM311.4 115.35h2v5.3h-2zM329.4 115.35h2v5.3h-2zM345.4 115.35h2v5.3h-2zM355.4 115.35h2v5.3h-2zM311.4 120.65h2v5.3h-2zM315.4 120.65h2v5.3h-2zM325.4 120.65h4v5.3h-4zM333.4 120.65h2v5.3h-2zM339.4 120.65h2v5.3h-2zM363.4 120.65h2v5.3h-2zM371.4 120.65h2v5.3h-2zM285.4 125.95h2v5.3h-2zM289.4 125.95h2v5.3h-2zM323.4 125.95h2v5.3h-2zM333.4 125.95h2v5.3h-2zM355.4 125.95h2v5.3h-2zM385.4 125.95h2v5.3h-2zM311.4 131.25h2v5.3h-2zM323.4 131.25h4v5.3h-4zM331.4 131.25h2v5.3h-2zM341.4 131.25h2v5.3h-2zM361.4 131.25h2v5.3h-2zM375.4 131.25h2v5.3h-2zM385.4 131.25h2v5.3h-2zM257.4 136.55h2v5.3h-2zM289.4 136.55h2v5.3h-2zM307.4 136.55h2v5.3h-2zM315.4 136.55h2v5.3h-2zM327.4 136.55h2v5.3h-2zM345.4 136.55h2v5.3h-2zM365.4 136.55h2v5.3h-2zM263.4 141.85h2v5.3h-2zM267.4 141.85h2v5.3h-2zM281.4 141.85h2v5.3h-2zM309.4 141.85h2v5.3h-2zM347.4 141.85h2v5.3h-2zM371.4 141.85h2v5.3h-2zM257.4 147.15h2v5.3h-2zM269.4 147.15h2v5.3h-2zM295.4 147.15h2v5.3h-2zM303.4 147.15h4v5.3h-4zM313.4 147.15h2v5.3h-2zM329.4 147.15h2v5.3h-2zM333.4 147.15h2v5.3h-2zM337.4 147.15h2v5.3h-2zM341.4 147.15h2v5.3h-2zM347.4 147.15h2v5.3h-2zM355.4 147.15h2v5.3h-2zM257.4 152.45h2v5.3h-2zM313.4 152.45h2v5.3h-2zM369.4 152.45h2v5.3h-2zM375.4 152.45h2v5.3h-2zM259.4 157.75h2v5.3h-2zM263.4 157.75h2v5.3h-2zM267.4 157.75h2v5.3h-2zM327.4 157.75h2v5.3h-2zM349.4 157.75h2v5.3h-2zM353.4 157.75h2v5.3h-2zM327.4 163.05h2v5.3h-2zM335.4 163.05h2v5.3h-2zM341.4 163.05h2v5.3h-2zM257.4 168.35h2v5.3h-2zM267.4 168.35h2v5.3h-2zM281.4 168.35h2v5.3h-2zM301.4 168.35h2v5.3h-2zM313.4 168.35h2v5.3h-2zM285.4 173.65h2v5.3h-2zM295.4 173.65h2v5.3h-2zM305.4 173.65h2v5.3h-2zM349.4 173.65h2v5.3h-2zM281.4 178.95h2v5.3h-2zM309.4 178.95h2v5.3h-2zM323.4 178.95h2v5.3h-2zM257.4 184.25h2v5.3h-2zM277.4 184.25h2v5.3h-2zM285.4 184.25h2v5.3h-2zM297.4 184.25h2v5.3h-2zM323.4 184.25h2v5.3h-2zM257.4 189.55h2v5.3h-2zM295.4 189.55h2v5.3h-2zM261.4 194.85h2v5.3h-2zM271.4 194.85h4v5.3h-4zM287.4 194.85h2v5.3h-2zM317.4 194.85h2v5.3h-2zM257.4 200.15h2v5.3h-2zM273.4 200.15h2v5.3h-2zM299.4 200.15h2v5.3h-2zM261.4 205.45h2v5.3h-2zM291.4 205.45h2v5.3h-2zM311.4 205.45h2v5.3h-2zM269.4 210.75h2v5.3h-2zM297.4 210.75h2v5.3h-2zM331.4 210.75h2v5.3h-2zM259.4 216.05h2v5.3h-2zM263.4 221.35h2v5.3h-2zM293.4 221.35h2v5.3h-2zM291.4 226.65h2v5.3h-2zM283.4 231.95h2v5.3h-2zM313.4 231.95h2v5.3h-2zM267.4 237.25h2v5.3h-2zM297.4 237.25h2v5.3h-2zM305.4 237.25h2v5.3h-2zM309.4 237.25h4v5.3h-4zM319.4 237.25h2v5.3h-2zM265.4 242.55h2v5.3h-2zM269.4 242.55h2v5.3h-2zM275.4 242.55h2v5.3h-2zM319.4 247.85h2v5.3h-2zM323.4 247.85h2v5.3h-2zM329.4 247.85h2v5.3h-2zM365.4 247.85h2v5.3h-2zM275.4 258.45h2v5.3h-2zM329.4 258.45h2v5.3h-2zM265.4 263.75h2v5.3h-2zM297.4 269.05h2v5.3h-2zM301.4 274.35h2v5.3h-2zM267.4 290.25h2v5.3h-2zM323.4 290.25h2v5.3h-2zM281.4 295.55h2v5.3h-2zM275.4 306.15h2v5.3h-2zM283.4 306.15h2v5.3h-2zM297.4 306.15h2v5.3h-2zM283.4 311.45h2v5.3h-2zM269.4 316.75h2v5.3h-2zM295.4 322.05h2v5.3h-2zM307.4 322.05h2v5.3h-2zM263.4 327.35h2v2.65h-2z"/>
<path fill="#47ffb8" d="M327.4 46.45h2v5.3h-2zM287.4 51.75h2v5.3h-2zM263.4 57.05h2v5.3h-2zM279.4 57.05h2v5.3h-2zM295.4 57.05h2v5.3h-2zM299.4 57.05h2v5.3h-2zM305.4 57.05h2v5.3h-2zM323.4 57.05h2v5.3h-2zM383.4 57.05h2v5.3h-2zM273.4 62.35h2v5.3h-2zM329.4 62.35h2v5.3h-2zM337.4 62.35h2v5.3h-2zM359.4 62.35h2v5.3h-2zM269.4 67.65h4v5.3h-4zM289.4 67.65h2v5.3h-2zM303.4 67.65h2v5.3h-2zM313.4 67.65h2v5.3h-2zM359.4 67.65h2v5.3h-2zM303.4 72.95h2v5.3h-2zM307.4 72.95h2v5.3h-2zM273.4 78.25h2v5.3h-2zM285.4 78.25h2v5.3h-2zM291.4 78.25h2v5.3h-2zM299.4 78.25h2v5.3h-2zM323.4 78.25h2v5.3h-2zM335.4 78.25h4v5.3h-4zM347.4 78.25h2v5.3h-2zM369.4 78.25h2v5.3h-2zM331.4 83.55h2v5.3h-2zM341.4 83.55h2v5.3h-2zM349.4 83.55h2v5.3h-2zM275.4 88.85h2v5.3h-2zM299.4 88.85h6v5.3h-6zM325.4 88.85h2v5.3h-2zM329.4 88.85h2v5.3h-2zM341.4 88.85h2v5.3h-2zM357.4 88.85h2v5.3h-2zM371.4 88.85h2v5.3h-2zM317.4 94.15h2v5.3h-2zM323.4 94.15h6v5.3h-6zM335.4 94.15h4v5.3h-4zM355.4 94.15h2v5.3h-2zM379.4 94.15h2v5.3h-2zM271.4 99.45h2v5.3h-2zM309.4 99.45h2v5.3h-2zM351.4 99.45h2v5.3h-2zM281.4 104.75h2v5.3h-2zM289.4 104.75h2v5.3h-2zM295.4 104.75h2v5.3h-2zM327.4 104.75h2v5.3h-2zM341.4 104.75h2v5.3h-2zM351.4 104.75h2v5.3h-2zM311.4 110.05h2v5.3h-2zM319.4 110.05h2v5.3h-2zM323.4 110.05h2v5.3h-2zM285.4 115.35h2v5.3h-2zM293.4 115.35h2v5.3h-2zM319.4 115.35h2v5.3h-2zM333.4 115.35h2v5.3h-2zM343.4 115.35h2v5.3h-2zM353.4 115.35h2v5.3h-2zM357.4 115.35h2v5.3h-2zM257.4 120.65h4v5.3h-4zM267.4 120.65h2v5.3h-2zM279.4 120.65h2v5.3h-2zM299.4 120.65h2v5.3h-2zM305.4 120.65h2v5.3h-2zM313.4 120.65h2v5.3h-2zM321.4 120.65h2v5.3h-2zM295.4 125.95h2v5.3h-2zM315.4 125.95h2v5.3h-2zM357.4 125.95h2v5.3h-2zM361.4 125.95h2v5.3h-2zM365.4 125.95h2v5.3h-2zM259.4 131.25h2v5.3h-2zM269.4 131.25h2v5.3h-2zM293.4 131.25h2v5.3h-2zM297.4 131.25h2v5.3h-2zM303.4 131.25h2v5.3h-2zM313.4 131.25h2v5.3h-2zM317.4 131.25h2v5.3h-2zM329.4 131.25h2v5.3h-2zM357.4 131.25h2v5.3h-2zM263.4 136.55h2v5.3h-2zM279.4 136.55h2v5.3h-2zM293.4 136.55h2v5.3h-2zM303.4 136.55h2v5.3h-2zM313.4 136.55h2v5.3h-2zM331.4 136.55h2v5.3h-2zM339.4 136.55h2v5.3h-2zM259.4 141.85h2v5.3h-2zM265.4 141.85h2v5.3h-2zM277.4 141.85h4v5.3h-4zM303.4 141.85h2v5.3h-2zM323.4 141.85h2v5.3h-2zM341.4 141.85h2v5.3h-2zM263.4 147.15h4v5.3h-4zM271.4 147.15h2v5.3h-2zM277.4 147.15h2v5.3h-2zM323.4 147.15h2v5.3h-2zM259.4 152.45h2v5.3h-2zM267.4 152.45h4v5.3h-4zM283.4 152.45h2v5.3h-2zM323.4 152.45h2v5.3h-2zM331.4 152.45h2v5.3h-2zM335.4 152.45h2v5.3h-2zM269.4 163.05h2v5.3h-2zM277.4 163.05h2v5.3h-2zM287.4 168.35h2v5.3h-2zM263.4 173.65h2v5.3h-2zM309.4 173.65h2v5.3h-2zM257.4 178.95h4v5.3h-4zM267.4 178.95h2v5.3h-2zM297.4 178.95h2v5.3h-2zM259.4 184.25h2v5.3h-2zM295.4 184.25h2v5.3h-2zM301.4 184.25h2v5.3h-2zM313.4 189.55h2v5.3h-2zM301.4 194.85h2v5.3h-2zM323.4 194.85h2v5.3h-2zM269.4 205.45h4v5.3h-4zM279.4 205.45h2v5.3h-2zM261.4 216.05h2v5.3h-2zM299.4 216.05h2v5.3h-2zM301.4 221.35h2v5.3h-2zM257.4 226.65h2v5.3h-2zM259.4 231.95h2v5.3h-2zM305.4 231.95h2v5.3h-2zM273.4 237.25h2v5.3h-2zM323.4 242.55h2v5.3h-2zM277.4 247.85h2v5.3h-2zM271.4 253.15h2v5.3h-2zM275.4 253.15h2v5.3h-2zM285.4 284.95h2v5.3h-2zM311.4 284.95h2v5.3h-2zM267.4 300.85h2v5.3h-2zM263.4 306.15h2v5.3h-2zM263.4 322.05h2v5.3h-2z"/>
<path fill="#57ffa8" d="M261.4 57.05h2v5.3h-2zM309.4 57.05h2v5.3h-2zM257.4 62.35h2v5.3h-2zM263.4 62.35h2v5.3h-2zM283.4 62.35h4v5.3h-4zM289.4 62.35h2v5.3h-2zM293.4 62.35h2v5.3h-2zM301.4 62.35h2v5.3h-2zM305.4 62.35h2v5.3h-2zM327.4 62.35h2v5.3h-2zM261.4 67.65h2v5.3h-2zM299.4 67.65h2v5.3h-2zM307.4 67.65h2v5.3h-2zM271.4 72.95h2v5.3h-2zM291.4 72.95h2v5.3h-2zM305.4 72.95h2v5.3h-2zM327.4 72.95h2v5.3h-2zM351.4 72.95h2v5.3h-2zM275.4 78.25h2v5.3h-2zM279.4 78.25h2v5.3h-2zM289.4 78.25h2v5.3h-2zM293.4 78.25h2v5.3h-2zM313.4 78.25h2v5.3h-2zM333.4 78.25h2v5.3h-2zM263.4 83.55h2v5.3h-2zM267.4 83.55h2v5.3h-2zM281.4 83.55h4v5.3h-4zM287.4 83.55h2v5.3h-2zM291.4 83.55h2v5.3h-2zM295.4 83.55h2v5.3h-2zM301.4 83.55h2v5.3h-2zM307.4 83.55h2v5.3h-2zM313.4 83.55h2v5.3h-2zM329.4 83.55h2v5.3h-2zM353.4 83.55h2v5.3h-2zM285.4 88.85h2v5.3h-2zM331.4 88.85h2v5.3h-2zM355.4 88.85h2v5.3h-2zM273.4 94.15h2v5.3h-2zM291.4 94.15h2v5.3h-2zM301.4 94.15h2v5.3h-2zM309.4 94.15h2v5.3h-2zM321.4 94.15h2v5.3h-2zM331.4 94.15h2v5.3h-2zM349.4 94.15h2v5.3h-2zM275.4 99.45h2v5.3h-2zM329.4 99.45h2v5.3h-2zM345.4 99.45h2v5.3h-2zM357.4 99.45h2v5.3h-2zM267.4 104.75h2v5.3h-2zM301.4 104.75h2v5.3h-2zM347.4 104.75h2v5.3h-2zM361.4 104.75h2v5.3h-2zM261.4 110.05h2v5.3h-2zM285.4 110.05h2v5.3h-2zM325.4 110.05h2v5.3h-2zM331.4 110.05h2v5.3h-2zM343.4 110.05h2v5.3h-2zM355.4 110.05h2v5.3h-2zM257.4 115.35h2v5.3h-2zM295.4 115.35h2v5.3h-2zM307.4 115.35h2v5.3h-2zM317.4 115.35h2v5.3h-2zM327.4 115.35h2v5.3h-2zM373.4 115.35h2v5.3h-2zM291.4 120.65h4v5.3h-4zM307.4 120.65h2v5.3h-2zM323.4 120.65h2v5.3h-2zM349.4 120.65h2v5.3h-2zM385.4 120.65h2v5.3h-2zM257.4 125.95h2v5.3h-2zM261.4 125.95h2v5.3h-2zM281.4 125.95h2v5.3h-2zM305.4 125.95h2v5.3h-2zM311.4 125.95h2v5.3h-2zM317.4 125.95h2v5.3h-2zM373.4 125.95h2v5.3h-2zM381.4 125.95h2v5.3h-2zM271.4 131.25h2v5.3h-2zM289.4 131.25h4v5.3h-4zM295.4 131.25h2v5.3h-2zM339.4 131.25h2v5.3h-2zM265.4 136.55h2v5.3h-2zM269.4 136.55h2v5.3h-2zM299.4 136.55h2v5.3h-2zM321.4 136.55h2v5.3h-2zM329.4 136.55h2v5.3h-2zM273.4 141.85h2v5.3h-2zM301.4 141.85h2v5.3h-2zM345.4 141.85h2v5.3h-2zM365.4 141.85h2v5.3h-2zM259.4 147.15h2v5.3h-2zM283.4 147.15h2v5.3h-2zM317.4 147.15h2v5.3h-2zM277.4 152.45h2v5.3h-2zM265.4 163.05h2v5.3h-2zM263.4 168.35h4v5.3h-4zM269.4 168.35h2v5.3h-2zM283.4 173.65h2v5.3h-2zM301.4 178.95h2v5.3h-2zM269.4 184.25h2v5.3h-2zM273.4 184.25h2v5.3h-2zM261.4 189.55h2v5.3h-2zM301.4 189.55h2v5.3h-2zM323.4 189.55h2v5.3h-2zM259.4 194.85h2v5.3h-2zM285.4 194.85h2v5.3h-2zM289.4 194.85h2v5.3h-2zM269.4 200.15h2v5.3h-2zM301.4 205.45h2v5.3h-2zM293.4 216.05h2v5.3h-2zM285.4 226.65h2v5.3h-2zM297.4 247.85h2v5.3h-2zM277.4 253.15h2v5.3h-2zM275.4 295.55h2v5.3h-2zM267.4 306.15h2v5.3h-2z"/>
<path fill="#67ff98" d="M277.4 51.75h2v5.3h-2zM259.4 57.05h2v5.3h-2zM267.4 57.05h2v5.3h-2zM275.4 57.05h2v5.3h-2zM301.4 57.05h2v5.3h-2zM261.4 62.35h2v5.3h-2zM277.4 62.35h2v5.3h-2zM287.4 62.35h2v5.3h-2zM257.4 67.65h2v5.3h-2zM267.4 67.65h2v5.3h-2zM273.4 67.65h2v5.3h-2zM277.4 67.65h2v5.3h-2zM333.4 67.65h2v5.3h-2zM263.4 72.95h2v5.3h-2zM275.4 72.95h6v5.3h-6zM287.4 72.95h2v5.3h-2zM293.4 72.95h2v5.3h-2zM257.4 78.25h2v5.3h-2zM307.4 78.25h2v5.3h-2zM275.4 83.55h2v5.3h-2zM285.4 83.55h2v5.3h-2zM345.4 83.55h2v5.3h-2zM369.4 83.55h2v5.3h-2zM259.4 88.85h2v5.3h-2zM263.4 88.85h2v5.3h-2zM271.4 88.85h2v5.3h-2zM281.4 88.85h2v5.3h-2zM289.4 88.85h2v5.3h-2zM297.4 88.85h2v5.3h-2zM307.4 88.85h2v5.3h-2zM315.4 88.85h2v5.3h-2zM327.4 88.85h2v5.3h-2zM345.4 88.85h2v5.3h-2zM285.4 94.15h2v5.3h-2zM295.4 94.15h2v5.3h-2zM299.4 94.15h2v5.3h-2zM307.4 94.15h2v5.3h-2zM311.4 94.15h2v5.3h-2zM363.4 94.15h2v5.3h-2zM283.4 99.45h2v5.3h-2zM289.4 99.45h2v5.3h-2zM325.4 99.45h2v5.3h-2zM263.4 104.75h2v5.3h-2zM287.4 104.75h2v5.3h-2zM303.4 104.75h2v5.3h-2zM311.4 104.75h2v5.3h-2zM315.4 104.75h4v5.3h-4zM345.4 104.75h2v5.3h-2zM349.4 104.75h2v5.3h-2zM355.4 104.75h2v5.3h-2zM373.4 104.75h2v5.3h-2zM259.4 110.05h2v5.3h-2zM297.4 110.05h2v5.3h-2zM317.4 110.05h2v5.3h-2zM329.4 110.05h2v5.3h-2zM261.4 115.35h2v5.3h-2zM269.4 115.35h2v5.3h-2zM287.4 115.35h4v5.3h-4zM297.4 115.35h2v5.3h-2zM325.4 115.35h2v5.3h-2zM269.4 120.65h4v5.3h-4zM289.4 120.65h2v5.3h-2zM301.4 120.65h2v5.3h-2zM309.4 120.65h2v5.3h-2zM329.4 120.65h2v5.3h-2zM341.4 120.65h2v5.3h-2zM357.4 120.65h2v5.3h-2zM283.4 125.95h2v5.3h-2zM293.4 125.95h2v5.3h-2zM307.4 125.95h2v5.3h-2zM313.4 125.95h2v5.3h-2zM325.4 125.95h2v5.3h-2zM329.4 125.95h2v5.3h-2zM345.4 125.95h2v5.3h-2zM363.4 125.95h2v5.3h-2zM257.4 131.25h2v5.3h-2zM263.4 131.25h2v5.3h-2zM277.4 131.25h2v5.3h-2zM299.4 131.25h2v5.3h-2zM307.4 131.25h2v5.3h-2zM345.4 131.25h2v5.3h-2zM267.4 136.55h2v5.3h-2zM271.4 136.55h2v5.3h-2zM283.4 136.55h2v5.3h-2zM291.4 136.55h2v5.3h-2zM295.4 136.55h2v5.3h-2zM323.4 136.55h2v5.3h-2zM289.4 141.85h6v5.3h-6zM261.4 147.15h2v5.3h-2zM273.4 147.15h4v5.3h-4zM285.4 147.15h4v5.3h-4zM299.4 147.15h4v5.3h-4zM295.4 152.45h2v5.3h-2zM301.4 152.45h2v5.3h-2zM261.4 157.75h2v5.3h-2zM341.4 157.75h2v5.3h-2zM287.4 163.05h2v5.3h-2zM261.4 168.35h2v5.3h-2zM285.4 168.35h2v5.3h-2zM261.4 178.95h2v5.3h-2zM273.4 178.95h2v5.3h-2zM285.4 178.95h2v5.3h-2zM277.4 194.85h2v5.3h-2zM273.4 205.45h2v5.3h-2zM323.4 205.45h2v5.3h-2zM257.4 210.75h2v5.3h-2zM267.4 216.05h2v5.3h-2zM285.4 221.35h2v5.3h-2zM275.4 231.95h2v5.3h-2zM275.4 311.45h2v5.3h-2z"/>
<path fill="#77ff88" d="M261.4 46.45h2v5.3h-2zM289.4 57.05h2v5.3h-2zM293.4 67.65h2v5.3h-2zM315.4 67.65h2v5.3h-2zM327.4 67.65h2v5.3h-2zM259.4 72.95h4v5.3h-4zM265.4 72.95h4v5.3h-4zM285.4 72.95h2v5.3h-2zM299.4 72.95h4v5.3h-4zM333.4 72.95h2v5.3h-2zM261.4 78.25h4v5.3h-4zM267.4 78.25h4v5.3h-4zM277.4 78.25h2v5.3h-2zM283.4 78.25h2v5.3h-2zM269.4 83.55h2v5.3h-2zM279.4 83.55h2v5.3h-2zM311.4 83.55h2v5.3h-2zM317.4 83.55h2v5.3h-2zM267.4 88.85h2v5.3h-2zM317.4 88.85h2v5.3h-2zM267.4 94.15h2v5.3h-2zM329.4 94.15h2v5.3h-2zM259.4 99.45h2v5.3h-2zM269.4 99.45h2v5.3h-2zM299.4 99.45h2v5.3h-2zM305.4 99.45h2v5.3h-2zM319.4 99.45h2v5.3h-2zM369.4 99.45h2v5.3h-2zM257.4 104.75h2v5.3h-2zM265.4 104.75h2v5.3h-2zM273.4 104.75h2v5.3h-2zM277.4 104.75h4v5.3h-4zM325.4 104.75h2v5.3h-2zM257.4 110.05h2v5.3h-2zM271.4 110.05h4v5.3h-4zM277.4 110.05h2v5.3h-2zM281.4 110.05h2v5.3h-2zM289.4 110.05h2v5.3h-2zM299.4 110.05h2v5.3h-2zM259.4 115.35h2v5.3h-2zM265.4 115.35h4v5.3h-4zM299.4 115.35h2v5.3h-2zM261.4 120.65h2v5.3h-2zM265.4 120.65h2v5.3h-2zM269.4 125.95h2v5.3h-2zM275.4 125.95h2v5.3h-2zM279.4 125.95h2v5.3h-2zM297.4 125.95h2v5.3h-2zM303.4 125.95h2v5.3h-2zM321.4 125.95h2v5.3h-2zM261.4 131.25h2v5.3h-2zM279.4 131.25h4v5.3h-4zM285.4 131.25h2v5.3h-2zM285.4 136.55h2v5.3h-2zM275.4 141.85h2v5.3h-2zM287.4 141.85h2v5.3h-2zM311.4 141.85h2v5.3h-2zM267.4 147.15h2v5.3h-2zM311.4 147.15h2v5.3h-2zM265.4 152.45h2v5.3h-2zM279.4 157.75h2v5.3h-2zM261.4 173.65h2v5.3h-2zM269.4 173.65h2v5.3h-2zM297.4 173.65h2v5.3h-2zM269.4 178.95h2v5.3h-2zM289.4 205.45h2v5.3h-2zM285.4 216.05h2v5.3h-2zM269.4 221.35h2v5.3h-2zM269.4 247.85h2v5.3h-2z"/>
<path fill="#88ff77" d="M281.4 67.65h2v5.3h-2zM285.4 67.65h4v5.3h-4zM257.4 72.95h2v5.3h-2zM269.4 72.95h2v5.3h-2zM265.4 78.25h2v5.3h-2zM261.4 83.55h2v5.3h-2zM271.4 83.55h2v5.3h-2zM289.4 83.55h2v5.3h-2zM315.4 83.55h2v5.3h-2zM261.4 88.85h2v5.3h-2zM277.4 88.85h2v5.3h-2zM283.4 88.85h2v5.3h-2zM293.4 88.85h2v5.3h-2zM257.4 94.15h2v5.3h-2zM271.4 94.15h2v5.3h-2zM277.4 94.15h2v5.3h-2zM281.4 94.15h4v5.3h-4zM297.4 94.15h2v5.3h-2zM315.4 94.15h2v5.3h-2zM257.4 99.45h2v5.3h-2zM261.4 99.45h2v5.3h-2zM267.4 99.45h2v5.3h-2zM293.4 99.45h2v5.3h-2zM297.4 99.45h2v5.3h-2zM301.4 99.45h2v5.3h-2zM323.4 99.45h2v5.3h-2zM271.4 104.75h2v5.3h-2zM307.4 104.75h4v5.3h-4zM323.4 104.75h2v5.3h-2zM275.4 110.05h2v5.3h-2zM279.4 110.05h2v5.3h-2zM283.4 110.05h2v5.3h-2zM291.4 110.05h4v5.3h-4zM313.4 110.05h2v5.3h-2zM281.4 115.35h2v5.3h-2zM291.4 115.35h2v5.3h-2zM301.4 115.35h2v5.3h-2zM315.4 115.35h2v5.3h-2zM323.4 115.35h2v5.3h-2zM385.4 115.35h2v5.3h-2zM273.4 120.65h2v5.3h-2zM283.4 120.65h4v5.3h-4zM297.4 120.65h2v5.3h-2zM303.4 120.65h2v5.3h-2zM259.4 125.95h2v5.3h-2zM263.4 125.95h2v5.3h-2zM267.4 125.95h2v5.3h-2zM291.4 125.95h2v5.3h-2zM299.4 125.95h2v5.3h-2zM341.4 125.95h2v5.3h-2zM267.4 131.25h2v5.3h-2zM283.4 131.25h2v5.3h-2zM305.4 131.25h2v5.3h-2zM309.4 131.25h2v5.3h-2zM333.4 131.25h2v5.3h-2zM277.4 136.55h2v5.3h-2zM301.4 136.55h2v5.3h-2zM309.4 136.55h2v5.3h-2zM341.4 136.55h2v5.3h-2zM261.4 141.85h2v5.3h-2zM285.4 141.85h2v5.3h-2zM317.4 152.45h2v5.3h-2zM321.4 152.45h2v5.3h-2zM273.4 157.75h2v5.3h-2zM287.4 157.75h2v5.3h-2zM265.4 221.35h2v5.3h-2zM297.4 226.65h2v5.3h-2z"/>
<path fill="#98ff67" d="M267.4 62.35h2v5.3h-2zM259.4 67.65h2v5.3h-2zM301.4 67.65h2v5.3h-2zM259.4 78.25h2v5.3h-2zM301.4 78.25h2v5.3h-2zM257.4 83.55h2v5.3h-2zM293.4 83.55h2v5.3h-2zM269.4 88.85h2v5.3h-2zM273.4 88.85h2v5.3h-2zM265.4 94.15h2v5.3h-2zM279.4 94.15h2v5.3h-2zM293.4 94.15h2v5.3h-2zM277.4 99.45h2v5.3h-2zM281.4 99.45h2v5.3h-2zM285.4 99.45h2v5.3h-2zM275.4 104.75h2v5.3h-2zM283.4 104.75h2v5.3h-2zM263.4 110.05h4v5.3h-4zM303.4 110.05h4v5.3h-4zM277.4 115.35h4v5.3h-4zM283.4 115.35h2v5.3h-2zM313.4 115.35h2v5.3h-2zM281.4 120.65h2v5.3h-2zM287.4 120.65h2v5.3h-2zM301.4 125.95h2v5.3h-2zM339.4 125.95h2v5.3h-2zM275.4 136.55h2v5.3h-2zM287.4 136.55h2v5.3h-2zM285.4 152.45h2v5.3h-2zM265.4 157.75h2v5.3h-2z"/>
<path fill="#a8ff57" d="M271.4 78.25h2v5.3h-2zM259.4 83.55h2v5.3h-2zM265.4 83.55h2v5.3h-2zM257.4 88.85h2v5.3h-2zM279.4 88.85h2v5.3h-2zM259.4 94.15h2v5.3h-2zM269.4 94.15h2v5.3h-2zM287.4 94.15h4v5.3h-4zM305.4 94.15h2v5.3h-2zM273.4 99.45h2v5.3h-2zM279.4 99.45h2v5.3h-2zM269.4 104.75h2v5.3h-2zM293.4 104.75h2v5.3h-2zM299.4 104.75h2v5.3h-2zM313.4 104.75h2v5.3h-2zM329.4 104.75h2v5.3h-2zM267.4 110.05h2v5.3h-2zM301.4 110.05h2v5.3h-2zM263.4 115.35h2v5.3h-2zM303.4 115.35h4v5.3h-4zM263.4 120.65h2v5.3h-2zM271.4 125.95h2v5.3h-2zM331.4 125.95h2v5.3h-2zM265.4 131.25h2v5.3h-2zM301.4 131.25h2v5.3h-2zM261.4 163.05h2v5.3h-2z"/>
<path fill="#b8ff47" d="M287.4 78.25h2v5.3h-2zM265.4 88.85h2v5.3h-2zM287.4 99.45h2v5.3h-2zM313.4 99.45h2v5.3h-2zM317.4 99.45h2v5.3h-2zM285.4 104.75h2v5.3h-2zM287.4 110.05h2v5.3h-2zM275.4 115.35h2v5.3h-2zM309.4 125.95h2v5.3h-2zM275.4 131.25h2v5.3h-2zM256.4 316.75h1v5.3h-1z"/>
<path fill="#c8ff37" d="M287.4 88.85h2v5.3h-2zM259.4 104.75h4v5.3h-4zM275.4 120.65h2v5.3h-2zM265.4 125.95h2v5.3h-2zM256.4 295.55h1v5.3h-1zM256.4 306.15h1v5.3h-1zM256.4 322.05h1v5.3h-1zM256.4 327.35h1v2.65h-1z"/>
<path fill="#d9ff26" d="M265.4 99.45h2v5.3h-2zM256.4 237.25h1v5.3h-1zM256.4 247.85h1v5.3h-1zM256.4 258.45h1v5.3h-1zM256.4 269.05h1v5.3h-1zM256.4 274.35h1v5.3h-1zM256.4 279.65h1v5.3h-1zM256.4 284.95h1v5.3h-1zM256.4 290.25h1v5.3h-1zM256.4 300.85h1v5.3h-1zM256.4 311.45h1v5.3h-1z"/>
<path fill="#e9ff16" d="M256.4 41.15h1v5.3h-1zM256.4 57.05h1v5.3h-1zM256.4 72.95h1v5.3h-1zM256.4 83.55h1v5.3h-1zM256.4 152.45h1v5.3h-1zM256.4 173.65h1v5.3h-1zM256.4 184.25h1v5.3h-1zM256.4 189.55h1v5.3h-1zM256.4 194.85h1v5.3h-1zM256.4 210.75h1v5.3h-1zM256.4 216.05h1v5.3h-1zM256.4 221.35h1v5.3h-1zM256.4 231.95h1v5.3h-1zM256.4 242.55h1v5.3h-1zM256.4 253.15h1v5.3h-1zM256.4 263.75h1v5.3h-1z"/>
<path fill="#f9ff06" d="M256.4 46.45h1v5.3h-1zM256.4 51.75h1v5.3h-1zM256.4 62.35h1v5.3h-1zM256.4 67.65h1v5.3h-1zM256.4 78.25h1v5.3h-1zM256.4 88.85h1v5.3h-1zM256.4 104.75h1v5.3h-1zM256.4 110.05h1v5.3h-1zM256.4 125.95h1v5.3h-1zM256.4 136.55h1v5.3h-1zM256.4 141.85h1v5.3h-1zM256.4 147.15h1v5.3h-1zM256.4 157.75h1v5.3h-1zM256.4 163.05h1v5.3h-1zM256.4 178.95h1v5.3h-1zM256.4 200.15h1v5.3h-1zM256.4 205.45h1v5.3h-1zM256.4 226.65h1v5.3h-1z"/>
<path fill="#fff500" d="M256.4 120.65h1v5.3h-1zM256.4 131.25h1v5.3h-1zM256.4 168.35h1v5.3h-1z"/>
<path fill="#ffe500" d="M256.4 94.15h1v5.3h-1zM256.4 99.45h1v5.3h-1zM256.4 115.35h1v5.3h-1z"/></g>
<rect x="403.3" y="12" width="8.4" height="318" fill="url(#jetg)"/>
<g shape-rendering="crispEdges" filter="url(#bl)"><path fill="#000080" d="M552 12h2v2.65h-2zM570 12h2v2.65h-2zM580 12h2v2.65h-2zM552 14.65h2v5.3h-2zM590 14.65h2v5.3h-2zM570 19.95h2v5.3h-2zM580 19.95h2v5.3h-2zM504 25.25h2v5.3h-2zM510 25.25h2v5.3h-2zM552 25.25h2v5.3h-2zM570 25.25h2v5.3h-2zM574 25.25h2v5.3h-2zM590 25.25h2v5.3h-2zM502 30.55h2v5.3h-2zM508 30.55h2v5.3h-2zM514 30.55h4v5.3h-4zM520 30.55h2v5.3h-2zM524 30.55h2v5.3h-2zM534 30.55h2v5.3h-2zM544 30.55h2v5.3h-2zM554 30.55h2v5.3h-2zM560 30.55h2v5.3h-2zM580 30.55h2v5.3h-2zM586 30.55h4v5.3h-4zM604 30.55h4v5.3h-4zM564 35.85h2v5.3h-2zM594 35.85h2v5.3h-2zM514 41.15h2v5.3h-2zM608 173.65h2v5.3h-2z"/>
<path fill="#000090" d="M504 12h2v2.65h-2zM510 12h2v2.65h-2zM516 12h2v2.65h-2zM520 12h2v2.65h-2zM530 12h2v2.65h-2zM536 12h12v2.65h-12zM556 12h2v2.65h-2zM568 12h2v2.65h-2zM574 12h2v2.65h-2zM578 12h2v2.65h-2zM588 12h4v2.65h-4zM594 12h2v2.65h-2zM598 12h2v2.65h-2zM602 12h6v2.65h-6zM612 12h5.3v2.65h-5.3zM504 14.65h2v5.3h-2zM508 14.65h4v5.3h-4zM516 14.65h2v5.3h-2zM522 14.65h2v5.3h-2zM530 14.65h2v5.3h-2zM542 14.65h6v5.3h-6zM566 14.65h6v5.3h-6zM578 14.65h4v5.3h-4zM598 14.65h8v5.3h-8zM610 14.65h2v5.3h-2zM616 14.65h1.3v5.3h-1.3zM492 19.95h2v5.3h-2zM504 19.95h2v5.3h-2zM510 19.95h2v5.3h-2zM516 19.95h2v5.3h-2zM542 19.95h6v5.3h-6zM550 19.95h4v5.3h-4zM558 19.95h2v5.3h-2zM562 19.95h4v5.3h-4zM574 19.95h2v5.3h-2zM590 19.95h2v5.3h-2zM602 19.95h15.3v5.3h-15.3zM502 25.25h2v5.3h-2zM508 25.25h2v5.3h-2zM516 25.25h2v5.3h-2zM522 25.25h2v5.3h-2zM534 25.25h4v5.3h-4zM540 25.25h8v5.3h-8zM562 25.25h2v5.3h-2zM578 25.25h4v5.3h-4zM594 25.25h4v5.3h-4zM602 25.25h4v5.3h-4zM616 25.25h1.3v5.3h-1.3zM486 30.55h2v5.3h-2zM518 30.55h2v5.3h-2zM530 30.55h2v5.3h-2zM536 30.55h2v5.3h-2zM558 30.55h2v5.3h-2zM572 30.55h2v5.3h-2zM576 30.55h4v5.3h-4zM584 30.55h2v5.3h-2zM590 30.55h2v5.3h-2zM608 30.55h2v5.3h-2zM586 35.85h2v5.3h-2zM590 35.85h2v5.3h-2z"/>
<path fill="#0000a0" d="M475 12h3v2.65h-3zM482 12h2v2.65h-2zM488 12h6v2.65h-6zM496 12h2v2.65h-2zM502 12h2v2.65h-2zM508 12h2v2.65h-2zM512 12h2v2.65h-2zM518 12h2v2.65h-2zM522 12h8v2.65h-8zM532 12h4v2.65h-4zM548 12h2v2.65h-2zM554 12h2v2.65h-2zM558 12h10v2.65h-10zM572 12h2v2.65h-2zM576 12h2v2.65h-2zM584 12h4v2.65h-4zM596 12h2v2.65h-2zM600 12h2v2.65h-2zM608 12h4v2.65h-4zM475 14.65h1v5.3h-1zM488 14.65h2v5.3h-2zM492 14.65h2v5.3h-2zM496 14.65h2v5.3h-2zM502 14.65h2v5.3h-2zM512 14.65h2v5.3h-2zM520 14.65h2v5.3h-2zM524 14.65h6v5.3h-6zM532 14.65h10v5.3h-10zM548 14.65h2v5.3h-2zM554 14.65h12v5.3h-12zM572 14.65h6v5.3h-6zM584 14.65h6v5.3h-6zM592 14.65h6v5.3h-6zM606 14.65h4v5.3h-4zM612 14.65h4v5.3h-4zM482 19.95h2v5.3h-2zM486 19.95h6v5.3h-6zM496 19.95h2v5.3h-2zM502 19.95h2v5.3h-2zM506 19.95h4v5.3h-4zM512 19.95h4v5.3h-4zM518 19.95h10v5.3h-10zM530 19.95h12v5.3h-12zM548 19.95h2v5.3h-2zM554 19.95h2v5.3h-2zM560 19.95h2v5.3h-2zM566 19.95h4v5.3h-4zM572 19.95h2v5.3h-2zM576 19.95h4v5.3h-4zM584 19.95h6v5.3h-6zM592 19.95h10v5.3h-10zM475 25.25h1v5.3h-1zM488 25.25h10v5.3h-10zM506 25.25h2v5.3h-2zM512 25.25h4v5.3h-4zM524 25.25h4v5.3h-4zM530 25.25h2v5.3h-2zM538 25.25h2v5.3h-2zM548 25.25h4v5.3h-4zM554 25.25h2v5.3h-2zM558 25.25h4v5.3h-4zM564 25.25h6v5.3h-6zM576 25.25h2v5.3h-2zM584 25.25h6v5.3h-6zM592 25.25h2v5.3h-2zM598 25.25h4v5.3h-4zM606 25.25h10v5.3h-10zM476 30.55h4v5.3h-4zM492 30.55h4v5.3h-4zM556 30.55h2v5.3h-2zM564 30.55h2v5.3h-2zM574 30.55h2v5.3h-2zM582 30.55h2v5.3h-2zM592 30.55h2v5.3h-2zM596 30.55h6v5.3h-6zM484 35.85h2v5.3h-2zM496 35.85h2v5.3h-2zM554 35.85h2v5.3h-2zM562 35.85h2v5.3h-2zM596 35.85h2v5.3h-2zM608 35.85h2v5.3h-2z"/>
<path fill="#0000b0" d="M478 12h4v2.65h-4zM486 12h2v2.65h-2zM494 12h2v2.65h-2zM498 12h4v2.65h-4zM506 12h2v2.65h-2zM514 12h2v2.65h-2zM550 12h2v2.65h-2zM582 12h2v2.65h-2zM592 12h2v2.65h-2zM478 14.65h10v5.3h-10zM490 14.65h2v5.3h-2zM494 14.65h2v5.3h-2zM498 14.65h2v5.3h-2zM506 14.65h2v5.3h-2zM514 14.65h2v5.3h-2zM518 14.65h2v5.3h-2zM550 14.65h2v5.3h-2zM582 14.65h2v5.3h-2zM475 19.95h7v5.3h-7zM494 19.95h2v5.3h-2zM498 19.95h4v5.3h-4zM528 19.95h2v5.3h-2zM556 19.95h2v5.3h-2zM582 19.95h2v5.3h-2zM476 25.25h12v5.3h-12zM498 25.25h4v5.3h-4zM518 25.25h4v5.3h-4zM528 25.25h2v5.3h-2zM532 25.25h2v5.3h-2zM556 25.25h2v5.3h-2zM572 25.25h2v5.3h-2zM582 25.25h2v5.3h-2zM512 30.55h2v5.3h-2zM546 30.55h4v5.3h-4zM594 30.55h2v5.3h-2zM492 35.85h2v5.3h-2zM508 35.85h2v5.3h-2zM530 35.85h2v5.3h-2zM604 41.15h2v5.3h-2zM524 88.85h2v5.3h-2zM528 231.95h2v5.3h-2zM524 295.55h2v5.3h-2zM590 316.75h2v5.3h-2z"/>
<path fill="#0000c0" d="M484 12h2v2.65h-2zM476 14.65h2v5.3h-2zM500 14.65h2v5.3h-2zM484 19.95h2v5.3h-2zM475 30.55h1v5.3h-1zM482 30.55h4v5.3h-4zM498 30.55h2v5.3h-2zM522 30.55h2v5.3h-2zM526 30.55h2v5.3h-2zM532 30.55h2v5.3h-2zM542 30.55h2v5.3h-2zM552 30.55h2v5.3h-2zM610 30.55h2v5.3h-2zM614 30.55h2v5.3h-2zM604 35.85h2v5.3h-2zM486 115.35h2v5.3h-2zM578 168.35h2v5.3h-2zM524 216.05h2v5.3h-2z"/>
<path fill="#0000d0" d="M488 30.55h2v5.3h-2zM496 30.55h2v5.3h-2zM500 30.55h2v5.3h-2zM510 30.55h2v5.3h-2zM528 30.55h2v5.3h-2zM540 30.55h2v5.3h-2zM550 30.55h2v5.3h-2zM566 30.55h2v5.3h-2zM570 30.55h2v5.3h-2zM602 30.55h2v5.3h-2zM612 30.55h2v5.3h-2zM616 30.55h1.3v5.3h-1.3zM550 35.85h2v5.3h-2zM566 35.85h2v5.3h-2zM576 35.85h2v5.3h-2zM614 35.85h2v5.3h-2zM534 41.15h2v5.3h-2zM560 41.15h2v5.3h-2zM564 41.15h2v5.3h-2zM610 41.15h2v5.3h-2zM572 83.55h2v5.3h-2zM584 168.35h2v5.3h-2zM616 184.25h1.3v5.3h-1.3zM506 194.85h2v5.3h-2zM610 200.15h2v5.3h-2zM506 300.85h2v5.3h-2z"/>
<path fill="#0000e1" d="M538 30.55h2v5.3h-2zM475 35.85h1v5.3h-1zM506 35.85h2v5.3h-2zM514 35.85h4v5.3h-4zM534 35.85h2v5.3h-2zM552 35.85h2v5.3h-2zM592 35.85h2v5.3h-2zM610 35.85h2v5.3h-2zM600 41.15h2v5.3h-2zM574 57.05h2v5.3h-2zM608 125.95h2v5.3h-2zM572 131.25h2v5.3h-2zM550 184.25h2v5.3h-2zM616 189.55h1.3v5.3h-1.3zM576 263.75h2v5.3h-2zM598 269.05h2v5.3h-2zM572 274.35h2v5.3h-2zM564 279.65h2v5.3h-2zM578 279.65h2v5.3h-2zM574 290.25h2v5.3h-2zM598 295.55h2v5.3h-2zM600 300.85h2v5.3h-2zM610 306.15h2v5.3h-2zM614 327.35h2v2.65h-2z"/>
<path fill="#0000f1" d="M504 30.55h2v5.3h-2zM562 30.55h2v5.3h-2zM502 35.85h2v5.3h-2zM522 35.85h6v5.3h-6zM572 35.85h4v5.3h-4zM578 35.85h2v5.3h-2zM584 35.85h2v5.3h-2zM588 35.85h2v5.3h-2zM606 35.85h2v5.3h-2zM588 46.45h2v5.3h-2zM496 178.95h2v5.3h-2zM616 200.15h1.3v5.3h-1.3zM596 210.75h2v5.3h-2zM526 226.65h2v5.3h-2zM492 263.75h2v5.3h-2zM572 269.05h2v5.3h-2zM604 290.25h2v5.3h-2zM602 295.55h2v5.3h-2zM546 306.15h2v5.3h-2zM504 322.05h2v5.3h-2zM586 327.35h2v2.65h-2z"/>
<path fill="#0002ff" d="M480 30.55h2v5.3h-2zM506 30.55h2v5.3h-2zM568 30.55h2v5.3h-2zM478 35.85h2v5.3h-2zM498 35.85h2v5.3h-2zM510 35.85h4v5.3h-4zM542 35.85h2v5.3h-2zM568 35.85h4v5.3h-4zM602 35.85h2v5.3h-2zM508 41.15h2v5.3h-2zM574 41.15h2v5.3h-2zM602 41.15h2v5.3h-2zM608 51.75h2v5.3h-2zM616 110.05h1.3v5.3h-1.3zM616 115.35h1.3v5.3h-1.3zM616 147.15h1.3v5.3h-1.3zM494 163.05h2v5.3h-2zM582 163.05h2v5.3h-2zM600 163.05h2v5.3h-2zM514 189.55h2v5.3h-2zM572 200.15h2v5.3h-2zM588 216.05h2v5.3h-2zM568 221.35h2v5.3h-2zM518 226.65h2v5.3h-2zM574 226.65h2v5.3h-2zM606 226.65h2v5.3h-2zM572 231.95h4v5.3h-4zM506 279.65h2v5.3h-2zM540 279.65h2v5.3h-2zM616 290.25h1.3v5.3h-1.3zM546 311.45h2v5.3h-2z"/>
<path fill="#0012ff" d="M490 30.55h2v5.3h-2zM482 35.85h2v5.3h-2zM490 35.85h2v5.3h-2zM536 35.85h2v5.3h-2zM546 35.85h4v5.3h-4zM560 35.85h2v5.3h-2zM580 35.85h4v5.3h-4zM600 35.85h2v5.3h-2zM612 35.85h2v5.3h-2zM522 41.15h4v5.3h-4zM558 41.15h2v5.3h-2zM614 41.15h2v5.3h-2zM604 78.25h2v5.3h-2zM592 115.35h2v5.3h-2zM572 120.65h2v5.3h-2zM590 120.65h2v5.3h-2zM532 136.55h2v5.3h-2zM598 141.85h2v5.3h-2zM492 152.45h2v5.3h-2zM496 157.75h2v5.3h-2zM600 157.75h2v5.3h-2zM606 157.75h2v5.3h-2zM616 157.75h1.3v5.3h-1.3zM522 163.05h2v5.3h-2zM498 173.65h2v5.3h-2zM520 173.65h2v5.3h-2zM522 178.95h2v5.3h-2zM572 184.25h2v5.3h-2zM582 184.25h2v5.3h-2zM602 205.45h2v5.3h-2zM570 216.05h2v5.3h-2zM532 221.35h2v5.3h-2zM586 242.55h2v5.3h-2zM480 263.75h2v5.3h-2zM532 300.85h2v5.3h-2zM600 306.15h2v5.3h-2zM580 311.45h2v5.3h-2z"/>
<path fill="#0022ff" d="M504 35.85h2v5.3h-2zM518 35.85h2v5.3h-2zM528 35.85h2v5.3h-2zM532 35.85h2v5.3h-2zM544 35.85h2v5.3h-2zM616 35.85h1.3v5.3h-1.3zM476 41.15h2v5.3h-2zM502 41.15h2v5.3h-2zM530 41.15h2v5.3h-2zM572 41.15h2v5.3h-2zM576 41.15h2v5.3h-2zM598 62.35h2v5.3h-2zM588 78.25h2v5.3h-2zM554 94.15h2v5.3h-2zM612 104.75h2v5.3h-2zM530 131.25h2v5.3h-2zM584 147.15h2v5.3h-2zM520 152.45h2v5.3h-2zM600 152.45h2v5.3h-2zM540 168.35h2v5.3h-2zM586 173.65h2v5.3h-2zM590 173.65h2v5.3h-2zM598 173.65h2v5.3h-2zM610 173.65h2v5.3h-2zM568 184.25h2v5.3h-2zM508 189.55h2v5.3h-2zM554 194.85h2v5.3h-2zM518 205.45h2v5.3h-2zM588 210.75h2v5.3h-2zM592 210.75h2v5.3h-2zM608 210.75h4v5.3h-4zM500 216.05h2v5.3h-2zM512 221.35h2v5.3h-2zM594 242.55h2v5.3h-2zM534 247.85h2v5.3h-2zM552 258.45h2v5.3h-2zM522 263.75h2v5.3h-2zM616 269.05h1.3v5.3h-1.3zM588 274.35h2v5.3h-2zM600 274.35h2v5.3h-2zM498 279.65h2v5.3h-2zM598 279.65h2v5.3h-2zM572 284.95h2v5.3h-2zM604 284.95h2v5.3h-2zM614 284.95h2v5.3h-2zM510 290.25h2v5.3h-2zM574 295.55h2v5.3h-2zM614 300.85h2v5.3h-2zM534 306.15h2v5.3h-2zM574 306.15h2v5.3h-2zM594 306.15h4v5.3h-4zM574 311.45h2v5.3h-2zM554 322.05h2v5.3h-2zM576 322.05h2v5.3h-2zM600 322.05h2v5.3h-2z"/>
<path fill="#0033ff" d="M476 35.85h2v5.3h-2zM486 35.85h2v5.3h-2zM538 35.85h2v5.3h-2zM556 35.85h4v5.3h-4zM494 41.15h2v5.3h-2zM506 41.15h2v5.3h-2zM556 41.15h2v5.3h-2zM584 41.15h2v5.3h-2zM608 41.15h2v5.3h-2zM514 46.45h2v5.3h-2zM564 51.75h2v5.3h-2zM572 51.75h2v5.3h-2zM534 57.05h2v5.3h-2zM600 62.35h2v5.3h-2zM582 67.65h2v5.3h-2zM564 83.55h2v5.3h-2zM566 88.85h2v5.3h-2zM616 88.85h1.3v5.3h-1.3zM616 94.15h1.3v5.3h-1.3zM492 99.45h2v5.3h-2zM576 104.75h2v5.3h-2zM568 110.05h2v5.3h-2zM586 120.65h2v5.3h-2zM600 136.55h2v5.3h-2zM530 141.85h2v5.3h-2zM614 141.85h2v5.3h-2zM590 147.15h2v5.3h-2zM510 157.75h2v5.3h-2zM604 157.75h2v5.3h-2zM608 168.35h2v5.3h-2zM576 173.65h2v5.3h-2zM616 178.95h1.3v5.3h-1.3zM496 200.15h2v5.3h-2zM574 200.15h2v5.3h-2zM600 205.45h2v5.3h-2zM616 205.45h1.3v5.3h-1.3zM574 216.05h2v5.3h-2zM584 216.05h2v5.3h-2zM612 216.05h2v5.3h-2zM498 221.35h2v5.3h-2zM506 221.35h2v5.3h-2zM584 221.35h2v5.3h-2zM592 226.65h2v5.3h-2zM534 231.95h2v5.3h-2zM600 231.95h2v5.3h-2zM498 237.25h2v5.3h-2zM556 237.25h2v5.3h-2zM608 237.25h2v5.3h-2zM536 242.55h2v5.3h-2zM610 242.55h2v5.3h-2zM528 247.85h2v5.3h-2zM556 247.85h2v5.3h-2zM598 253.15h2v5.3h-2zM522 269.05h2v5.3h-2zM592 269.05h2v5.3h-2zM510 274.35h2v5.3h-2zM534 279.65h2v5.3h-2zM512 284.95h2v5.3h-2zM530 284.95h2v5.3h-2zM564 284.95h2v5.3h-2zM564 290.25h2v5.3h-2zM572 290.25h2v5.3h-2zM600 290.25h2v5.3h-2zM516 295.55h2v5.3h-2zM580 295.55h2v5.3h-2zM616 295.55h1.3v5.3h-1.3zM592 300.85h2v5.3h-2zM596 300.85h2v5.3h-2zM572 306.15h2v5.3h-2zM586 311.45h2v5.3h-2zM544 316.75h2v5.3h-2zM584 316.75h2v5.3h-2zM588 316.75h2v5.3h-2zM592 316.75h2v5.3h-2zM604 316.75h2v5.3h-2zM482 322.05h2v5.3h-2zM488 322.05h2v5.3h-2zM564 322.05h4v5.3h-4zM604 322.05h2v5.3h-2zM490 327.35h2v2.65h-2z"/>
<path fill="#0043ff" d="M488 35.85h2v5.3h-2zM494 35.85h2v5.3h-2zM540 35.85h2v5.3h-2zM490 41.15h2v5.3h-2zM504 41.15h2v5.3h-2zM548 41.15h2v5.3h-2zM566 41.15h2v5.3h-2zM578 41.15h4v5.3h-4zM590 41.15h2v5.3h-2zM516 46.45h2v5.3h-2zM534 46.45h2v5.3h-2zM544 46.45h2v5.3h-2zM586 46.45h2v5.3h-2zM510 51.75h2v5.3h-2zM578 51.75h4v5.3h-4zM568 57.05h2v5.3h-2zM576 57.05h2v5.3h-2zM588 57.05h2v5.3h-2zM570 62.35h2v5.3h-2zM582 94.15h2v5.3h-2zM576 99.45h2v5.3h-2zM534 104.75h2v5.3h-2zM550 104.75h2v5.3h-2zM586 110.05h2v5.3h-2zM572 115.35h2v5.3h-2zM560 120.65h2v5.3h-2zM616 120.65h1.3v5.3h-1.3zM526 125.95h2v5.3h-2zM584 125.95h2v5.3h-2zM560 131.25h2v5.3h-2zM580 131.25h2v5.3h-2zM590 131.25h2v5.3h-2zM608 131.25h2v5.3h-2zM558 136.55h2v5.3h-2zM600 141.85h2v5.3h-2zM552 147.15h2v5.3h-2zM544 157.75h2v5.3h-2zM568 157.75h2v5.3h-2zM576 157.75h2v5.3h-2zM610 157.75h2v5.3h-2zM546 163.05h2v5.3h-2zM592 163.05h2v5.3h-2zM542 168.35h2v5.3h-2zM588 168.35h2v5.3h-2zM600 168.35h2v5.3h-2zM516 173.65h2v5.3h-2zM522 173.65h2v5.3h-2zM530 173.65h2v5.3h-2zM574 173.65h2v5.3h-2zM578 173.65h2v5.3h-2zM588 173.65h2v5.3h-2zM600 173.65h2v5.3h-2zM584 178.95h2v5.3h-2zM498 184.25h2v5.3h-2zM522 189.55h2v5.3h-2zM584 189.55h2v5.3h-2zM538 194.85h2v5.3h-2zM586 194.85h4v5.3h-4zM608 200.15h2v5.3h-2zM488 205.45h2v5.3h-2zM510 210.75h2v5.3h-2zM584 210.75h2v5.3h-2zM594 210.75h2v5.3h-2zM592 216.05h2v5.3h-2zM596 216.05h2v5.3h-2zM546 226.65h2v5.3h-2zM604 226.65h2v5.3h-2zM612 226.65h2v5.3h-2zM546 231.95h2v5.3h-2zM578 231.95h2v5.3h-2zM594 231.95h2v5.3h-2zM560 237.25h2v5.3h-2zM570 237.25h2v5.3h-2zM574 237.25h2v5.3h-2zM522 242.55h2v5.3h-2zM526 242.55h2v5.3h-2zM570 242.55h2v5.3h-2zM558 247.85h2v5.3h-2zM586 247.85h2v5.3h-2zM488 253.15h2v5.3h-2zM532 253.15h2v5.3h-2zM558 253.15h2v5.3h-2zM588 253.15h2v5.3h-2zM498 258.45h2v5.3h-2zM508 258.45h2v5.3h-2zM546 258.45h2v5.3h-2zM570 258.45h2v5.3h-2zM500 263.75h2v5.3h-2zM560 263.75h2v5.3h-2zM570 263.75h2v5.3h-2zM584 263.75h2v5.3h-2zM608 263.75h2v5.3h-2zM478 269.05h2v5.3h-2zM488 269.05h2v5.3h-2zM508 269.05h2v5.3h-2zM600 269.05h2v5.3h-2zM514 274.35h2v5.3h-2zM612 274.35h2v5.3h-2zM488 279.65h2v5.3h-2zM536 279.65h2v5.3h-2zM584 279.65h2v5.3h-2zM602 279.65h2v5.3h-2zM614 279.65h2v5.3h-2zM540 284.95h2v5.3h-2zM582 284.95h2v5.3h-2zM588 284.95h2v5.3h-2zM596 284.95h2v5.3h-2zM602 284.95h2v5.3h-2zM610 284.95h2v5.3h-2zM522 290.25h2v5.3h-2zM578 290.25h10v5.3h-10zM592 290.25h2v5.3h-2zM596 290.25h2v5.3h-2zM532 295.55h2v5.3h-2zM540 295.55h2v5.3h-2zM492 300.85h2v5.3h-2zM548 300.85h2v5.3h-2zM514 306.15h2v5.3h-2zM548 306.15h2v5.3h-2zM518 311.45h2v5.3h-2zM544 311.45h2v5.3h-2zM548 311.45h2v5.3h-2zM558 316.75h2v5.3h-2zM564 316.75h2v5.3h-2zM578 316.75h2v5.3h-2zM602 316.75h2v5.3h-2zM498 327.35h2v2.65h-2zM566 327.35h2v2.65h-2z"/>
<path fill="#0053ff" d="M500 35.85h2v5.3h-2zM520 35.85h2v5.3h-2zM598 35.85h2v5.3h-2zM516 41.15h2v5.3h-2zM532 41.15h2v5.3h-2zM536 41.15h2v5.3h-2zM552 41.15h2v5.3h-2zM586 41.15h4v5.3h-4zM592 41.15h2v5.3h-2zM606 41.15h2v5.3h-2zM576 46.45h2v5.3h-2zM606 46.45h4v5.3h-4zM614 51.75h2v5.3h-2zM550 62.35h2v5.3h-2zM604 62.35h2v5.3h-2zM616 62.35h1.3v5.3h-1.3zM560 83.55h2v5.3h-2zM590 83.55h2v5.3h-2zM612 88.85h2v5.3h-2zM530 94.15h2v5.3h-2zM588 94.15h2v5.3h-2zM600 94.15h2v5.3h-2zM508 99.45h2v5.3h-2zM586 99.45h4v5.3h-4zM608 99.45h2v5.3h-2zM616 99.45h1.3v5.3h-1.3zM616 104.75h1.3v5.3h-1.3zM520 115.35h2v5.3h-2zM534 115.35h2v5.3h-2zM606 115.35h2v5.3h-2zM504 120.65h2v5.3h-2zM548 125.95h2v5.3h-2zM558 125.95h2v5.3h-2zM604 125.95h2v5.3h-2zM568 131.25h2v5.3h-2zM520 136.55h2v5.3h-2zM560 136.55h2v5.3h-2zM524 141.85h2v5.3h-2zM576 141.85h2v5.3h-2zM582 141.85h2v5.3h-2zM576 147.15h2v5.3h-2zM582 147.15h2v5.3h-2zM600 147.15h2v5.3h-2zM496 152.45h2v5.3h-2zM576 152.45h2v5.3h-2zM590 152.45h2v5.3h-2zM530 157.75h2v5.3h-2zM546 157.75h2v5.3h-2zM592 157.75h2v5.3h-2zM542 163.05h2v5.3h-2zM616 163.05h1.3v5.3h-1.3zM572 168.35h2v5.3h-2zM598 168.35h2v5.3h-2zM480 173.65h2v5.3h-2zM496 173.65h2v5.3h-2zM560 173.65h2v5.3h-2zM580 173.65h2v5.3h-2zM584 173.65h2v5.3h-2zM592 178.95h2v5.3h-2zM610 178.95h2v5.3h-2zM502 184.25h2v5.3h-2zM584 184.25h2v5.3h-2zM612 184.25h2v5.3h-2zM564 189.55h2v5.3h-2zM588 189.55h2v5.3h-2zM604 189.55h2v5.3h-2zM600 194.85h2v5.3h-2zM606 194.85h2v5.3h-2zM614 194.85h2v5.3h-2zM498 200.15h2v5.3h-2zM518 200.15h2v5.3h-2zM522 200.15h2v5.3h-2zM528 200.15h2v5.3h-2zM582 200.15h2v5.3h-2zM542 205.45h2v5.3h-2zM564 205.45h2v5.3h-2zM592 205.45h4v5.3h-4zM604 205.45h2v5.3h-2zM482 210.75h2v5.3h-2zM504 210.75h2v5.3h-2zM564 210.75h2v5.3h-2zM574 210.75h2v5.3h-2zM504 216.05h2v5.3h-2zM556 216.05h2v5.3h-2zM568 216.05h2v5.3h-2zM608 216.05h2v5.3h-2zM492 221.35h2v5.3h-2zM542 221.35h2v5.3h-2zM532 226.65h2v5.3h-2zM598 226.65h2v5.3h-2zM602 226.65h2v5.3h-2zM506 231.95h2v5.3h-2zM568 231.95h2v5.3h-2zM598 231.95h2v5.3h-2zM538 237.25h2v5.3h-2zM572 237.25h2v5.3h-2zM598 237.25h2v5.3h-2zM556 242.55h2v5.3h-2zM598 242.55h2v5.3h-2zM508 247.85h2v5.3h-2zM518 247.85h2v5.3h-2zM600 247.85h2v5.3h-2zM614 247.85h2v5.3h-2zM486 253.15h2v5.3h-2zM500 253.15h2v5.3h-2zM530 253.15h2v5.3h-2zM608 253.15h2v5.3h-2zM516 258.45h2v5.3h-2zM562 258.45h2v5.3h-2zM532 263.75h2v5.3h-2zM540 263.75h2v5.3h-2zM580 263.75h2v5.3h-2zM598 263.75h2v5.3h-2zM526 269.05h2v5.3h-2zM558 269.05h2v5.3h-2zM584 269.05h2v5.3h-2zM596 269.05h2v5.3h-2zM602 269.05h2v5.3h-2zM608 269.05h2v5.3h-2zM548 274.35h2v5.3h-2zM558 274.35h2v5.3h-2zM596 274.35h4v5.3h-4zM608 274.35h2v5.3h-2zM486 279.65h2v5.3h-2zM492 279.65h2v5.3h-2zM562 279.65h2v5.3h-2zM572 279.65h2v5.3h-2zM594 279.65h4v5.3h-4zM612 279.65h2v5.3h-2zM558 284.95h2v5.3h-2zM580 284.95h2v5.3h-2zM584 284.95h2v5.3h-2zM600 284.95h2v5.3h-2zM570 290.25h2v5.3h-2zM482 295.55h2v5.3h-2zM488 295.55h2v5.3h-2zM536 295.55h2v5.3h-2zM548 295.55h2v5.3h-2zM584 295.55h2v5.3h-2zM528 300.85h2v5.3h-2zM558 300.85h2v5.3h-2zM572 300.85h4v5.3h-4zM588 300.85h2v5.3h-2zM598 300.85h2v5.3h-2zM606 300.85h2v5.3h-2zM544 306.15h2v5.3h-2zM552 306.15h2v5.3h-2zM570 306.15h2v5.3h-2zM596 311.45h2v5.3h-2zM606 311.45h2v5.3h-2zM498 316.75h2v5.3h-2zM506 316.75h2v5.3h-2zM510 322.05h2v5.3h-2zM544 322.05h2v5.3h-2zM574 322.05h2v5.3h-2zM588 322.05h4v5.3h-4zM614 322.05h2v5.3h-2zM488 327.35h2v2.65h-2zM508 327.35h2v2.65h-2zM568 327.35h2v2.65h-2zM590 327.35h2v2.65h-2z"/>
<path fill="#0063ff" d="M480 35.85h2v5.3h-2zM484 41.15h2v5.3h-2zM492 41.15h2v5.3h-2zM510 41.15h4v5.3h-4zM526 41.15h2v5.3h-2zM544 41.15h2v5.3h-2zM568 41.15h4v5.3h-4zM582 41.15h2v5.3h-2zM548 46.45h2v5.3h-2zM560 46.45h2v5.3h-2zM564 46.45h2v5.3h-2zM574 46.45h2v5.3h-2zM580 46.45h4v5.3h-4zM598 46.45h4v5.3h-4zM610 46.45h2v5.3h-2zM488 51.75h2v5.3h-2zM530 62.35h2v5.3h-2zM546 62.35h2v5.3h-2zM572 62.35h2v5.3h-2zM586 83.55h2v5.3h-2zM586 88.85h2v5.3h-2zM590 88.85h2v5.3h-2zM550 99.45h2v5.3h-2zM564 115.35h2v5.3h-2zM586 115.35h2v5.3h-2zM540 120.65h2v5.3h-2zM574 120.65h2v5.3h-2zM584 120.65h2v5.3h-2zM588 120.65h2v5.3h-2zM608 120.65h2v5.3h-2zM496 125.95h2v5.3h-2zM530 125.95h2v5.3h-2zM544 125.95h2v5.3h-2zM616 125.95h1.3v5.3h-1.3zM520 131.25h2v5.3h-2zM546 131.25h2v5.3h-2zM550 131.25h2v5.3h-2zM586 131.25h2v5.3h-2zM526 136.55h2v5.3h-2zM530 136.55h2v5.3h-2zM550 136.55h2v5.3h-2zM580 136.55h4v5.3h-4zM602 136.55h2v5.3h-2zM616 136.55h1.3v5.3h-1.3zM604 141.85h2v5.3h-2zM568 147.15h2v5.3h-2zM608 147.15h2v5.3h-2zM524 152.45h2v5.3h-2zM540 152.45h4v5.3h-4zM550 152.45h2v5.3h-2zM572 152.45h2v5.3h-2zM578 152.45h2v5.3h-2zM582 152.45h2v5.3h-2zM586 152.45h2v5.3h-2zM604 152.45h2v5.3h-2zM616 152.45h1.3v5.3h-1.3zM524 157.75h2v5.3h-2zM516 163.05h2v5.3h-2zM564 163.05h2v5.3h-2zM568 163.05h2v5.3h-2zM572 163.05h2v5.3h-2zM590 163.05h2v5.3h-2zM546 168.35h2v5.3h-2zM616 168.35h1.3v5.3h-1.3zM542 173.65h2v5.3h-2zM572 173.65h2v5.3h-2zM550 178.95h2v5.3h-2zM574 178.95h2v5.3h-2zM580 178.95h2v5.3h-2zM600 178.95h2v5.3h-2zM608 178.95h2v5.3h-2zM542 184.25h2v5.3h-2zM594 184.25h4v5.3h-4zM496 189.55h2v5.3h-2zM506 189.55h2v5.3h-2zM528 189.55h2v5.3h-2zM612 189.55h2v5.3h-2zM518 194.85h2v5.3h-2zM548 194.85h4v5.3h-4zM568 194.85h2v5.3h-2zM572 194.85h2v5.3h-2zM610 194.85h2v5.3h-2zM616 194.85h1.3v5.3h-1.3zM508 200.15h2v5.3h-2zM512 200.15h2v5.3h-2zM530 200.15h2v5.3h-2zM556 200.15h2v5.3h-2zM604 200.15h2v5.3h-2zM476 205.45h2v5.3h-2zM566 205.45h2v5.3h-2zM572 205.45h2v5.3h-2zM518 210.75h2v5.3h-2zM488 216.05h2v5.3h-2zM506 216.05h2v5.3h-2zM476 221.35h2v5.3h-2zM500 221.35h2v5.3h-2zM554 221.35h2v5.3h-2zM588 221.35h2v5.3h-2zM608 221.35h2v5.3h-2zM482 226.65h2v5.3h-2zM510 226.65h2v5.3h-2zM570 226.65h2v5.3h-2zM586 226.65h2v5.3h-2zM594 226.65h2v5.3h-2zM600 226.65h2v5.3h-2zM488 231.95h2v5.3h-2zM518 231.95h2v5.3h-2zM536 231.95h2v5.3h-2zM554 231.95h2v5.3h-2zM602 231.95h2v5.3h-2zM508 237.25h2v5.3h-2zM602 237.25h4v5.3h-4zM482 242.55h2v5.3h-2zM584 247.85h2v5.3h-2zM594 247.85h2v5.3h-2zM602 247.85h2v5.3h-2zM512 253.15h2v5.3h-2zM526 253.15h2v5.3h-2zM568 253.15h2v5.3h-2zM614 253.15h2v5.3h-2zM558 258.45h2v5.3h-2zM564 258.45h2v5.3h-2zM590 258.45h2v5.3h-2zM602 258.45h2v5.3h-2zM614 258.45h2v5.3h-2zM578 263.75h2v5.3h-2zM594 263.75h2v5.3h-2zM518 269.05h2v5.3h-2zM524 269.05h2v5.3h-2zM528 269.05h2v5.3h-2zM556 269.05h2v5.3h-2zM590 269.05h2v5.3h-2zM594 269.05h2v5.3h-2zM580 274.35h2v5.3h-2zM490 279.65h2v5.3h-2zM526 279.65h2v5.3h-2zM532 279.65h2v5.3h-2zM546 279.65h2v5.3h-2zM592 279.65h2v5.3h-2zM608 279.65h2v5.3h-2zM504 284.95h2v5.3h-2zM570 284.95h2v5.3h-2zM598 284.95h2v5.3h-2zM608 284.95h2v5.3h-2zM612 284.95h2v5.3h-2zM526 290.25h2v5.3h-2zM558 290.25h2v5.3h-2zM612 290.25h2v5.3h-2zM534 295.55h2v5.3h-2zM556 295.55h4v5.3h-4zM568 295.55h2v5.3h-2zM522 300.85h4v5.3h-4zM576 300.85h2v5.3h-2zM590 300.85h2v5.3h-2zM608 300.85h2v5.3h-2zM616 300.85h1.3v5.3h-1.3zM532 306.15h2v5.3h-2zM564 306.15h2v5.3h-2zM612 306.15h2v5.3h-2zM522 311.45h2v5.3h-2zM530 311.45h2v5.3h-2zM534 311.45h2v5.3h-2zM602 311.45h4v5.3h-4zM610 311.45h2v5.3h-2zM614 311.45h2v5.3h-2zM510 316.75h2v5.3h-2zM516 316.75h4v5.3h-4zM540 316.75h2v5.3h-2zM540 322.05h2v5.3h-2zM548 322.05h2v5.3h-2zM602 322.05h2v5.3h-2zM530 327.35h2v2.65h-2zM540 327.35h2v2.65h-2z"/>
<path fill="#0073ff" d="M500 41.15h2v5.3h-2zM542 41.15h2v5.3h-2zM550 41.15h2v5.3h-2zM596 41.15h2v5.3h-2zM612 41.15h2v5.3h-2zM616 41.15h1.3v5.3h-1.3zM482 46.45h2v5.3h-2zM494 46.45h2v5.3h-2zM502 46.45h2v5.3h-2zM510 46.45h4v5.3h-4zM552 46.45h4v5.3h-4zM570 46.45h4v5.3h-4zM578 46.45h2v5.3h-2zM592 46.45h2v5.3h-2zM596 46.45h2v5.3h-2zM584 51.75h2v5.3h-2zM604 51.75h2v5.3h-2zM524 57.05h2v5.3h-2zM580 57.05h2v5.3h-2zM574 67.65h2v5.3h-2zM590 72.95h2v5.3h-2zM530 78.25h2v5.3h-2zM602 78.25h2v5.3h-2zM524 83.55h2v5.3h-2zM530 88.85h2v5.3h-2zM602 88.85h2v5.3h-2zM526 94.15h2v5.3h-2zM550 94.15h2v5.3h-2zM586 94.15h2v5.3h-2zM530 99.45h2v5.3h-2zM564 99.45h2v5.3h-2zM592 99.45h2v5.3h-2zM500 104.75h2v5.3h-2zM504 104.75h2v5.3h-2zM542 104.75h2v5.3h-2zM572 104.75h2v5.3h-2zM578 104.75h2v5.3h-2zM554 110.05h2v5.3h-2zM560 110.05h2v5.3h-2zM540 115.35h2v5.3h-2zM550 115.35h2v5.3h-2zM614 115.35h2v5.3h-2zM550 120.65h2v5.3h-2zM598 120.65h2v5.3h-2zM500 125.95h2v5.3h-2zM510 125.95h2v5.3h-2zM566 125.95h2v5.3h-2zM578 125.95h2v5.3h-2zM586 125.95h4v5.3h-4zM592 125.95h2v5.3h-2zM606 125.95h2v5.3h-2zM476 131.25h2v5.3h-2zM536 131.25h2v5.3h-2zM554 131.25h2v5.3h-2zM606 131.25h2v5.3h-2zM512 136.55h2v5.3h-2zM572 136.55h2v5.3h-2zM578 136.55h2v5.3h-2zM606 136.55h2v5.3h-2zM510 141.85h4v5.3h-4zM522 141.85h2v5.3h-2zM564 141.85h2v5.3h-2zM572 141.85h2v5.3h-2zM586 141.85h2v5.3h-2zM558 147.15h2v5.3h-2zM592 147.15h2v5.3h-2zM604 147.15h2v5.3h-2zM498 152.45h2v5.3h-2zM518 152.45h2v5.3h-2zM556 152.45h2v5.3h-2zM568 152.45h2v5.3h-2zM584 152.45h2v5.3h-2zM598 152.45h2v5.3h-2zM610 152.45h2v5.3h-2zM498 157.75h2v5.3h-2zM508 157.75h2v5.3h-2zM558 157.75h2v5.3h-2zM578 157.75h2v5.3h-2zM602 157.75h2v5.3h-2zM608 157.75h2v5.3h-2zM528 163.05h4v5.3h-4zM608 163.05h2v5.3h-2zM614 163.05h2v5.3h-2zM482 168.35h2v5.3h-2zM506 173.65h2v5.3h-2zM562 173.65h2v5.3h-2zM582 173.65h2v5.3h-2zM528 178.95h2v5.3h-2zM542 178.95h4v5.3h-4zM572 178.95h2v5.3h-2zM582 178.95h2v5.3h-2zM602 178.95h2v5.3h-2zM496 184.25h2v5.3h-2zM528 184.25h4v5.3h-4zM562 184.25h2v5.3h-2zM576 184.25h2v5.3h-2zM592 184.25h2v5.3h-2zM608 184.25h2v5.3h-2zM614 184.25h2v5.3h-2zM574 189.55h2v5.3h-2zM530 194.85h2v5.3h-2zM558 194.85h2v5.3h-2zM574 194.85h2v5.3h-2zM582 194.85h2v5.3h-2zM590 194.85h2v5.3h-2zM566 200.15h2v5.3h-2zM570 200.15h2v5.3h-2zM598 200.15h2v5.3h-2zM486 205.45h2v5.3h-2zM504 205.45h4v5.3h-4zM516 205.45h2v5.3h-2zM544 205.45h2v5.3h-2zM574 205.45h2v5.3h-2zM590 205.45h2v5.3h-2zM596 205.45h2v5.3h-2zM534 210.75h2v5.3h-2zM550 210.75h2v5.3h-2zM576 210.75h2v5.3h-2zM586 210.75h2v5.3h-2zM616 210.75h1.3v5.3h-1.3zM526 216.05h2v5.3h-2zM544 216.05h2v5.3h-2zM562 216.05h2v5.3h-2zM572 216.05h2v5.3h-2zM516 221.35h2v5.3h-2zM546 221.35h2v5.3h-2zM570 221.35h4v5.3h-4zM592 221.35h2v5.3h-2zM600 221.35h2v5.3h-2zM604 221.35h2v5.3h-2zM496 226.65h2v5.3h-2zM500 226.65h2v5.3h-2zM514 226.65h2v5.3h-2zM534 226.65h2v5.3h-2zM584 226.65h2v5.3h-2zM500 231.95h2v5.3h-2zM508 231.95h2v5.3h-2zM514 231.95h2v5.3h-2zM552 231.95h2v5.3h-2zM556 231.95h2v5.3h-2zM564 231.95h2v5.3h-2zM586 231.95h2v5.3h-2zM612 231.95h2v5.3h-2zM502 237.25h4v5.3h-4zM526 237.25h2v5.3h-2zM534 237.25h2v5.3h-2zM562 237.25h2v5.3h-2zM578 237.25h2v5.3h-2zM586 237.25h2v5.3h-2zM612 237.25h2v5.3h-2zM492 242.55h2v5.3h-2zM528 242.55h2v5.3h-2zM546 242.55h2v5.3h-2zM558 242.55h2v5.3h-2zM588 242.55h2v5.3h-2zM612 242.55h2v5.3h-2zM506 247.85h2v5.3h-2zM510 247.85h2v5.3h-2zM514 247.85h2v5.3h-2zM536 247.85h2v5.3h-2zM540 247.85h2v5.3h-2zM546 247.85h2v5.3h-2zM574 247.85h2v5.3h-2zM604 247.85h2v5.3h-2zM612 247.85h2v5.3h-2zM482 253.15h2v5.3h-2zM502 253.15h2v5.3h-2zM564 253.15h2v5.3h-2zM570 253.15h2v5.3h-2zM574 253.15h2v5.3h-2zM582 253.15h4v5.3h-4zM592 253.15h2v5.3h-2zM596 253.15h2v5.3h-2zM616 253.15h1.3v5.3h-1.3zM494 258.45h2v5.3h-2zM502 258.45h2v5.3h-2zM506 258.45h2v5.3h-2zM560 258.45h2v5.3h-2zM574 258.45h2v5.3h-2zM600 258.45h2v5.3h-2zM604 258.45h2v5.3h-2zM508 263.75h2v5.3h-2zM590 263.75h4v5.3h-4zM602 263.75h4v5.3h-4zM586 269.05h2v5.3h-2zM530 274.35h2v5.3h-2zM564 274.35h4v5.3h-4zM586 274.35h2v5.3h-2zM590 274.35h2v5.3h-2zM602 274.35h4v5.3h-4zM518 279.65h2v5.3h-2zM528 279.65h2v5.3h-2zM554 279.65h2v5.3h-2zM580 279.65h2v5.3h-2zM500 284.95h2v5.3h-2zM548 284.95h2v5.3h-2zM488 290.25h2v5.3h-2zM532 290.25h2v5.3h-2zM598 290.25h2v5.3h-2zM608 290.25h2v5.3h-2zM480 295.55h2v5.3h-2zM554 295.55h2v5.3h-2zM564 295.55h2v5.3h-2zM570 295.55h2v5.3h-2zM576 295.55h4v5.3h-4zM596 295.55h2v5.3h-2zM600 295.55h2v5.3h-2zM608 295.55h2v5.3h-2zM484 300.85h2v5.3h-2zM540 300.85h2v5.3h-2zM546 300.85h2v5.3h-2zM586 300.85h2v5.3h-2zM594 300.85h2v5.3h-2zM500 306.15h2v5.3h-2zM530 306.15h2v5.3h-2zM540 306.15h2v5.3h-2zM606 306.15h2v5.3h-2zM478 311.45h2v5.3h-2zM492 311.45h2v5.3h-2zM572 311.45h2v5.3h-2zM598 311.45h2v5.3h-2zM482 316.75h2v5.3h-2zM514 316.75h2v5.3h-2zM530 316.75h4v5.3h-4zM536 316.75h2v5.3h-2zM554 316.75h2v5.3h-2zM566 316.75h2v5.3h-2zM594 316.75h4v5.3h-4zM606 316.75h2v5.3h-2zM490 322.05h2v5.3h-2zM512 322.05h2v5.3h-2zM524 322.05h4v5.3h-4zM534 322.05h2v5.3h-2zM522 327.35h2v2.65h-2zM528 327.35h2v2.65h-2zM534 327.35h2v2.65h-2zM552 327.35h2v2.65h-2zM596 327.35h2v2.65h-2zM600 327.35h2v2.65h-2zM604 327.35h2v2.65h-2zM612 327.35h2v2.65h-2zM616 327.35h1.3v2.65h-1.3z"/>
<path fill="#0084ff" d="M496 41.15h2v5.3h-2zM520 41.15h2v5.3h-2zM546 41.15h2v5.3h-2zM562 41.15h2v5.3h-2zM480 46.45h2v5.3h-2zM594 46.45h2v5.3h-2zM604 46.45h2v5.3h-2zM514 51.75h2v5.3h-2zM546 51.75h2v5.3h-2zM574 51.75h2v5.3h-2zM590 51.75h2v5.3h-2zM606 51.75h2v5.3h-2zM604 57.05h2v5.3h-2zM612 57.05h2v5.3h-2zM532 62.35h2v5.3h-2zM566 62.35h2v5.3h-2zM578 62.35h2v5.3h-2zM586 62.35h4v5.3h-4zM572 67.65h2v5.3h-2zM540 72.95h2v5.3h-2zM572 72.95h2v5.3h-2zM580 72.95h2v5.3h-2zM598 72.95h2v5.3h-2zM556 78.25h2v5.3h-2zM572 78.25h4v5.3h-4zM594 78.25h2v5.3h-2zM494 83.55h2v5.3h-2zM520 88.85h2v5.3h-2zM564 88.85h2v5.3h-2zM588 88.85h2v5.3h-2zM592 88.85h2v5.3h-2zM608 88.85h2v5.3h-2zM506 94.15h2v5.3h-2zM532 94.15h4v5.3h-4zM556 94.15h2v5.3h-2zM572 94.15h2v5.3h-2zM484 99.45h2v5.3h-2zM552 99.45h2v5.3h-2zM556 99.45h2v5.3h-2zM596 99.45h2v5.3h-2zM602 99.45h2v5.3h-2zM496 104.75h2v5.3h-2zM594 104.75h4v5.3h-4zM600 104.75h2v5.3h-2zM498 110.05h2v5.3h-2zM588 110.05h2v5.3h-2zM602 110.05h2v5.3h-2zM530 115.35h2v5.3h-2zM536 115.35h2v5.3h-2zM546 115.35h2v5.3h-2zM518 120.65h2v5.3h-2zM550 125.95h2v5.3h-2zM554 125.95h2v5.3h-2zM510 131.25h2v5.3h-2zM500 136.55h2v5.3h-2zM576 136.55h2v5.3h-2zM584 136.55h4v5.3h-4zM614 136.55h2v5.3h-2zM520 141.85h2v5.3h-2zM536 141.85h2v5.3h-2zM546 141.85h2v5.3h-2zM552 141.85h2v5.3h-2zM574 141.85h2v5.3h-2zM584 141.85h2v5.3h-2zM540 147.15h2v5.3h-2zM580 147.15h2v5.3h-2zM594 147.15h2v5.3h-2zM606 147.15h2v5.3h-2zM510 152.45h2v5.3h-2zM522 152.45h2v5.3h-2zM528 152.45h4v5.3h-4zM580 152.45h2v5.3h-2zM592 152.45h2v5.3h-2zM564 157.75h2v5.3h-2zM570 157.75h6v5.3h-6zM588 157.75h2v5.3h-2zM594 157.75h4v5.3h-4zM614 157.75h2v5.3h-2zM478 163.05h2v5.3h-2zM556 163.05h2v5.3h-2zM576 163.05h6v5.3h-6zM588 163.05h2v5.3h-2zM602 163.05h2v5.3h-2zM478 168.35h2v5.3h-2zM498 168.35h2v5.3h-2zM510 168.35h2v5.3h-2zM550 168.35h2v5.3h-2zM556 168.35h2v5.3h-2zM582 168.35h2v5.3h-2zM586 168.35h2v5.3h-2zM590 168.35h2v5.3h-2zM486 173.65h2v5.3h-2zM510 173.65h2v5.3h-2zM548 173.65h2v5.3h-2zM566 173.65h2v5.3h-2zM502 178.95h2v5.3h-2zM516 178.95h2v5.3h-2zM520 178.95h2v5.3h-2zM554 178.95h2v5.3h-2zM588 178.95h2v5.3h-2zM606 178.95h2v5.3h-2zM492 184.25h4v5.3h-4zM512 184.25h2v5.3h-2zM520 184.25h4v5.3h-4zM536 184.25h2v5.3h-2zM574 184.25h2v5.3h-2zM610 184.25h2v5.3h-2zM536 189.55h2v5.3h-2zM586 189.55h2v5.3h-2zM594 189.55h2v5.3h-2zM600 189.55h2v5.3h-2zM608 189.55h4v5.3h-4zM542 194.85h2v5.3h-2zM578 194.85h2v5.3h-2zM594 194.85h2v5.3h-2zM602 194.85h2v5.3h-2zM544 200.15h2v5.3h-2zM548 200.15h2v5.3h-2zM568 200.15h2v5.3h-2zM594 200.15h2v5.3h-2zM584 205.45h2v5.3h-2zM588 205.45h2v5.3h-2zM498 210.75h4v5.3h-4zM508 210.75h2v5.3h-2zM526 210.75h2v5.3h-2zM552 210.75h2v5.3h-2zM562 210.75h2v5.3h-2zM582 210.75h2v5.3h-2zM612 210.75h2v5.3h-2zM542 216.05h2v5.3h-2zM578 216.05h2v5.3h-2zM600 216.05h2v5.3h-2zM504 221.35h2v5.3h-2zM518 221.35h6v5.3h-6zM534 221.35h2v5.3h-2zM550 221.35h2v5.3h-2zM564 221.35h2v5.3h-2zM576 221.35h2v5.3h-2zM582 221.35h2v5.3h-2zM590 221.35h2v5.3h-2zM598 221.35h2v5.3h-2zM602 221.35h2v5.3h-2zM610 221.35h2v5.3h-2zM498 226.65h2v5.3h-2zM504 226.65h2v5.3h-2zM508 226.65h2v5.3h-2zM520 226.65h2v5.3h-2zM568 226.65h2v5.3h-2zM580 226.65h2v5.3h-2zM588 226.65h2v5.3h-2zM596 226.65h2v5.3h-2zM616 226.65h1.3v5.3h-1.3zM482 231.95h2v5.3h-2zM504 231.95h2v5.3h-2zM526 231.95h2v5.3h-2zM540 231.95h2v5.3h-2zM570 231.95h2v5.3h-2zM584 231.95h2v5.3h-2zM610 231.95h2v5.3h-2zM616 231.95h1.3v5.3h-1.3zM496 237.25h2v5.3h-2zM532 237.25h2v5.3h-2zM540 237.25h4v5.3h-4zM548 237.25h2v5.3h-2zM582 237.25h4v5.3h-4zM590 237.25h2v5.3h-2zM616 237.25h1.3v5.3h-1.3zM534 242.55h2v5.3h-2zM560 242.55h2v5.3h-2zM574 242.55h2v5.3h-2zM602 242.55h2v5.3h-2zM614 242.55h2v5.3h-2zM522 247.85h2v5.3h-2zM578 247.85h2v5.3h-2zM588 247.85h2v5.3h-2zM592 247.85h2v5.3h-2zM492 253.15h2v5.3h-2zM496 253.15h4v5.3h-4zM534 253.15h2v5.3h-2zM552 253.15h2v5.3h-2zM556 253.15h2v5.3h-2zM580 253.15h2v5.3h-2zM594 253.15h2v5.3h-2zM604 253.15h4v5.3h-4zM610 253.15h2v5.3h-2zM482 258.45h2v5.3h-2zM496 258.45h2v5.3h-2zM520 258.45h2v5.3h-2zM530 258.45h2v5.3h-2zM536 258.45h2v5.3h-2zM576 258.45h2v5.3h-2zM594 258.45h2v5.3h-2zM598 258.45h2v5.3h-2zM520 263.75h2v5.3h-2zM558 263.75h2v5.3h-2zM596 263.75h2v5.3h-2zM600 263.75h2v5.3h-2zM606 263.75h2v5.3h-2zM506 269.05h2v5.3h-2zM550 269.05h2v5.3h-2zM564 269.05h2v5.3h-2zM580 269.05h4v5.3h-4zM476 274.35h2v5.3h-2zM486 274.35h4v5.3h-4zM492 274.35h2v5.3h-2zM512 274.35h2v5.3h-2zM540 274.35h2v5.3h-2zM578 274.35h2v5.3h-2zM582 274.35h2v5.3h-2zM592 274.35h2v5.3h-2zM478 279.65h2v5.3h-2zM520 279.65h2v5.3h-2zM558 279.65h2v5.3h-2zM570 279.65h2v5.3h-2zM588 279.65h2v5.3h-2zM600 279.65h2v5.3h-2zM488 284.95h2v5.3h-2zM524 284.95h2v5.3h-2zM586 284.95h2v5.3h-2zM480 290.25h2v5.3h-2zM534 290.25h2v5.3h-2zM546 290.25h4v5.3h-4zM568 290.25h2v5.3h-2zM590 290.25h2v5.3h-2zM496 295.55h4v5.3h-4zM506 295.55h2v5.3h-2zM518 295.55h2v5.3h-2zM526 295.55h2v5.3h-2zM606 295.55h2v5.3h-2zM612 295.55h2v5.3h-2zM496 300.85h2v5.3h-2zM536 300.85h2v5.3h-2zM564 300.85h2v5.3h-2zM568 300.85h2v5.3h-2zM602 300.85h2v5.3h-2zM498 306.15h2v5.3h-2zM550 306.15h2v5.3h-2zM580 306.15h2v5.3h-2zM588 306.15h2v5.3h-2zM592 306.15h2v5.3h-2zM494 311.45h2v5.3h-2zM526 311.45h2v5.3h-2zM542 311.45h2v5.3h-2zM556 311.45h2v5.3h-2zM592 311.45h2v5.3h-2zM616 311.45h1.3v5.3h-1.3zM520 316.75h2v5.3h-2zM528 316.75h2v5.3h-2zM542 316.75h2v5.3h-2zM548 316.75h2v5.3h-2zM560 316.75h2v5.3h-2zM580 316.75h4v5.3h-4zM486 322.05h2v5.3h-2zM522 322.05h2v5.3h-2zM528 322.05h2v5.3h-2zM532 322.05h2v5.3h-2zM552 322.05h2v5.3h-2zM558 322.05h2v5.3h-2zM578 322.05h2v5.3h-2zM586 322.05h2v5.3h-2zM596 322.05h2v5.3h-2zM606 322.05h4v5.3h-4zM482 327.35h2v2.65h-2zM510 327.35h2v2.65h-2zM514 327.35h2v2.65h-2zM544 327.35h2v2.65h-2zM562 327.35h2v2.65h-2zM588 327.35h2v2.65h-2zM592 327.35h2v2.65h-2zM602 327.35h2v2.65h-2zM610 327.35h2v2.65h-2z"/>
<path fill="#0094ff" d="M480 41.15h2v5.3h-2zM486 41.15h2v5.3h-2zM598 41.15h2v5.3h-2zM526 46.45h2v5.3h-2zM546 46.45h2v5.3h-2zM584 46.45h2v5.3h-2zM532 51.75h2v5.3h-2zM522 57.05h2v5.3h-2zM534 62.35h2v5.3h-2zM574 62.35h2v5.3h-2zM590 62.35h2v5.3h-2zM594 62.35h2v5.3h-2zM534 67.65h2v5.3h-2zM606 67.65h2v5.3h-2zM616 67.65h1.3v5.3h-1.3zM556 72.95h2v5.3h-2zM616 72.95h1.3v5.3h-1.3zM534 78.25h2v5.3h-2zM552 78.25h2v5.3h-2zM564 78.25h2v5.3h-2zM590 78.25h2v5.3h-2zM614 78.25h2v5.3h-2zM510 83.55h2v5.3h-2zM534 83.55h2v5.3h-2zM548 83.55h2v5.3h-2zM558 83.55h2v5.3h-2zM562 83.55h2v5.3h-2zM608 83.55h2v5.3h-2zM476 88.85h2v5.3h-2zM544 88.85h2v5.3h-2zM560 88.85h2v5.3h-2zM572 88.85h2v5.3h-2zM580 88.85h4v5.3h-4zM508 94.15h2v5.3h-2zM524 94.15h2v5.3h-2zM536 94.15h2v5.3h-2zM564 94.15h2v5.3h-2zM604 94.15h2v5.3h-2zM608 94.15h2v5.3h-2zM482 99.45h2v5.3h-2zM512 99.45h2v5.3h-2zM568 99.45h2v5.3h-2zM572 99.45h2v5.3h-2zM612 99.45h2v5.3h-2zM476 104.75h2v5.3h-2zM586 104.75h4v5.3h-4zM540 110.05h2v5.3h-2zM550 110.05h2v5.3h-2zM562 110.05h2v5.3h-2zM508 115.35h4v5.3h-4zM554 115.35h2v5.3h-2zM566 115.35h2v5.3h-2zM578 115.35h2v5.3h-2zM588 115.35h2v5.3h-2zM596 115.35h2v5.3h-2zM602 115.35h2v5.3h-2zM610 115.35h4v5.3h-4zM490 120.65h2v5.3h-2zM526 120.65h2v5.3h-2zM542 120.65h2v5.3h-2zM576 120.65h2v5.3h-2zM478 125.95h2v5.3h-2zM482 125.95h4v5.3h-4zM508 125.95h2v5.3h-2zM568 125.95h2v5.3h-2zM572 125.95h2v5.3h-2zM576 125.95h2v5.3h-2zM580 125.95h2v5.3h-2zM596 125.95h2v5.3h-2zM602 125.95h2v5.3h-2zM610 125.95h2v5.3h-2zM502 131.25h2v5.3h-2zM542 131.25h2v5.3h-2zM556 131.25h2v5.3h-2zM576 131.25h4v5.3h-4zM582 131.25h2v5.3h-2zM592 131.25h2v5.3h-2zM600 131.25h4v5.3h-4zM508 136.55h2v5.3h-2zM534 136.55h2v5.3h-2zM564 136.55h2v5.3h-2zM568 136.55h2v5.3h-2zM592 136.55h2v5.3h-2zM542 141.85h2v5.3h-2zM560 141.85h2v5.3h-2zM590 141.85h2v5.3h-2zM610 141.85h2v5.3h-2zM616 141.85h1.3v5.3h-1.3zM488 147.15h2v5.3h-2zM524 147.15h2v5.3h-2zM532 147.15h2v5.3h-2zM546 147.15h2v5.3h-2zM564 147.15h2v5.3h-2zM602 147.15h2v5.3h-2zM476 152.45h2v5.3h-2zM548 152.45h2v5.3h-2zM558 152.45h2v5.3h-2zM564 152.45h2v5.3h-2zM588 152.45h2v5.3h-2zM596 152.45h2v5.3h-2zM602 152.45h2v5.3h-2zM606 152.45h2v5.3h-2zM614 152.45h2v5.3h-2zM536 157.75h2v5.3h-2zM540 157.75h2v5.3h-2zM580 157.75h2v5.3h-2zM584 157.75h2v5.3h-2zM482 163.05h2v5.3h-2zM486 163.05h2v5.3h-2zM504 163.05h2v5.3h-2zM510 163.05h2v5.3h-2zM536 163.05h2v5.3h-2zM548 163.05h2v5.3h-2zM522 168.35h2v5.3h-2zM528 168.35h2v5.3h-2zM562 168.35h4v5.3h-4zM576 168.35h2v5.3h-2zM602 168.35h2v5.3h-2zM492 173.65h2v5.3h-2zM504 173.65h2v5.3h-2zM524 173.65h2v5.3h-2zM564 173.65h2v5.3h-2zM568 173.65h2v5.3h-2zM606 173.65h2v5.3h-2zM616 173.65h1.3v5.3h-1.3zM508 178.95h2v5.3h-2zM530 178.95h2v5.3h-2zM576 178.95h4v5.3h-4zM586 178.95h2v5.3h-2zM604 178.95h2v5.3h-2zM486 184.25h4v5.3h-4zM532 184.25h2v5.3h-2zM570 184.25h2v5.3h-2zM588 184.25h2v5.3h-2zM600 184.25h2v5.3h-2zM606 184.25h2v5.3h-2zM498 189.55h2v5.3h-2zM550 189.55h2v5.3h-2zM566 189.55h2v5.3h-2zM484 194.85h4v5.3h-4zM564 194.85h4v5.3h-4zM576 194.85h2v5.3h-2zM604 194.85h2v5.3h-2zM504 200.15h2v5.3h-2zM538 200.15h2v5.3h-2zM564 200.15h2v5.3h-2zM600 200.15h2v5.3h-2zM606 200.15h2v5.3h-2zM612 200.15h2v5.3h-2zM522 205.45h2v5.3h-2zM538 205.45h2v5.3h-2zM554 205.45h2v5.3h-2zM578 205.45h2v5.3h-2zM582 205.45h2v5.3h-2zM586 205.45h2v5.3h-2zM502 210.75h2v5.3h-2zM516 210.75h2v5.3h-2zM536 210.75h2v5.3h-2zM540 210.75h4v5.3h-4zM580 210.75h2v5.3h-2zM476 216.05h2v5.3h-2zM490 216.05h2v5.3h-2zM516 216.05h6v5.3h-6zM528 216.05h2v5.3h-2zM534 216.05h2v5.3h-2zM540 216.05h2v5.3h-2zM550 216.05h2v5.3h-2zM582 216.05h2v5.3h-2zM510 221.35h2v5.3h-2zM526 221.35h2v5.3h-2zM536 221.35h2v5.3h-2zM544 221.35h2v5.3h-2zM556 221.35h2v5.3h-2zM574 221.35h2v5.3h-2zM586 221.35h2v5.3h-2zM516 226.65h2v5.3h-2zM582 226.65h2v5.3h-2zM496 231.95h2v5.3h-2zM532 231.95h2v5.3h-2zM566 231.95h2v5.3h-2zM604 231.95h2v5.3h-2zM482 237.25h2v5.3h-2zM518 237.25h2v5.3h-2zM522 237.25h2v5.3h-2zM544 237.25h2v5.3h-2zM554 237.25h2v5.3h-2zM592 237.25h4v5.3h-4zM600 237.25h2v5.3h-2zM494 242.55h4v5.3h-4zM532 242.55h2v5.3h-2zM538 242.55h2v5.3h-2zM548 242.55h2v5.3h-2zM562 242.55h2v5.3h-2zM600 242.55h2v5.3h-2zM488 247.85h2v5.3h-2zM496 247.85h4v5.3h-4zM502 247.85h2v5.3h-2zM512 247.85h2v5.3h-2zM530 247.85h2v5.3h-2zM554 247.85h2v5.3h-2zM568 247.85h2v5.3h-2zM582 247.85h2v5.3h-2zM596 247.85h2v5.3h-2zM608 247.85h2v5.3h-2zM536 253.15h2v5.3h-2zM550 253.15h2v5.3h-2zM554 253.15h2v5.3h-2zM492 258.45h2v5.3h-2zM518 258.45h2v5.3h-2zM526 258.45h2v5.3h-2zM548 258.45h2v5.3h-2zM572 258.45h2v5.3h-2zM582 258.45h2v5.3h-2zM592 258.45h2v5.3h-2zM596 258.45h2v5.3h-2zM606 258.45h2v5.3h-2zM488 263.75h2v5.3h-2zM502 263.75h2v5.3h-2zM510 263.75h4v5.3h-4zM530 263.75h2v5.3h-2zM548 263.75h2v5.3h-2zM554 263.75h4v5.3h-4zM562 263.75h2v5.3h-2zM586 263.75h2v5.3h-2zM614 263.75h2v5.3h-2zM490 269.05h4v5.3h-4zM530 269.05h2v5.3h-2zM552 269.05h4v5.3h-4zM606 269.05h2v5.3h-2zM614 269.05h2v5.3h-2zM482 274.35h2v5.3h-2zM508 274.35h2v5.3h-2zM520 274.35h2v5.3h-2zM524 274.35h2v5.3h-2zM532 274.35h2v5.3h-2zM584 274.35h2v5.3h-2zM594 274.35h2v5.3h-2zM610 274.35h2v5.3h-2zM614 274.35h2v5.3h-2zM476 279.65h2v5.3h-2zM482 279.65h2v5.3h-2zM516 279.65h2v5.3h-2zM524 279.65h2v5.3h-2zM530 279.65h2v5.3h-2zM542 279.65h2v5.3h-2zM560 279.65h2v5.3h-2zM566 279.65h2v5.3h-2zM576 279.65h2v5.3h-2zM590 279.65h2v5.3h-2zM478 284.95h2v5.3h-2zM492 284.95h2v5.3h-2zM496 284.95h2v5.3h-2zM506 284.95h2v5.3h-2zM526 284.95h2v5.3h-2zM532 284.95h2v5.3h-2zM566 284.95h2v5.3h-2zM590 284.95h2v5.3h-2zM606 284.95h2v5.3h-2zM616 284.95h1.3v5.3h-1.3zM482 290.25h2v5.3h-2zM528 290.25h2v5.3h-2zM540 290.25h2v5.3h-2zM556 290.25h2v5.3h-2zM576 290.25h2v5.3h-2zM602 290.25h2v5.3h-2zM606 290.25h2v5.3h-2zM494 295.55h2v5.3h-2zM510 295.55h2v5.3h-2zM552 295.55h2v5.3h-2zM566 295.55h2v5.3h-2zM508 300.85h2v5.3h-2zM512 300.85h2v5.3h-2zM538 300.85h2v5.3h-2zM580 300.85h2v5.3h-2zM612 300.85h2v5.3h-2zM510 306.15h2v5.3h-2zM518 306.15h2v5.3h-2zM554 306.15h2v5.3h-2zM604 306.15h2v5.3h-2zM608 306.15h2v5.3h-2zM488 311.45h2v5.3h-2zM512 311.45h2v5.3h-2zM528 311.45h2v5.3h-2zM532 311.45h2v5.3h-2zM540 311.45h2v5.3h-2zM550 311.45h2v5.3h-2zM564 311.45h2v5.3h-2zM576 311.45h2v5.3h-2zM502 316.75h2v5.3h-2zM546 316.75h2v5.3h-2zM568 316.75h2v5.3h-2zM574 316.75h4v5.3h-4zM608 316.75h2v5.3h-2zM514 322.05h2v5.3h-2zM520 322.05h2v5.3h-2zM530 322.05h2v5.3h-2zM536 322.05h2v5.3h-2zM546 322.05h2v5.3h-2zM550 322.05h2v5.3h-2zM568 322.05h4v5.3h-4zM592 322.05h2v5.3h-2zM512 327.35h2v2.65h-2zM526 327.35h2v2.65h-2zM550 327.35h2v2.65h-2zM564 327.35h2v2.65h-2zM576 327.35h2v2.65h-2zM606 327.35h2v2.65h-2z"/>
<path fill="#00a4ff" d="M488 41.15h2v5.3h-2zM528 41.15h2v5.3h-2zM540 41.15h2v5.3h-2zM554 41.15h2v5.3h-2zM476 46.45h2v5.3h-2zM484 46.45h2v5.3h-2zM492 46.45h2v5.3h-2zM524 46.45h2v5.3h-2zM550 46.45h2v5.3h-2zM556 46.45h4v5.3h-4zM590 46.45h2v5.3h-2zM616 46.45h1.3v5.3h-1.3zM504 51.75h2v5.3h-2zM526 51.75h2v5.3h-2zM534 51.75h2v5.3h-2zM566 51.75h2v5.3h-2zM612 51.75h2v5.3h-2zM502 57.05h2v5.3h-2zM510 57.05h2v5.3h-2zM590 57.05h2v5.3h-2zM528 62.35h2v5.3h-2zM562 62.35h4v5.3h-4zM530 67.65h2v5.3h-2zM578 67.65h2v5.3h-2zM602 67.65h2v5.3h-2zM562 72.95h2v5.3h-2zM578 72.95h2v5.3h-2zM592 72.95h2v5.3h-2zM614 72.95h2v5.3h-2zM518 78.25h2v5.3h-2zM532 78.25h2v5.3h-2zM554 78.25h2v5.3h-2zM570 78.25h2v5.3h-2zM610 78.25h2v5.3h-2zM482 83.55h2v5.3h-2zM518 83.55h2v5.3h-2zM530 83.55h2v5.3h-2zM556 83.55h2v5.3h-2zM576 83.55h2v5.3h-2zM588 83.55h2v5.3h-2zM612 83.55h2v5.3h-2zM506 88.85h2v5.3h-2zM534 88.85h2v5.3h-2zM540 88.85h2v5.3h-2zM548 88.85h2v5.3h-2zM558 88.85h2v5.3h-2zM594 88.85h2v5.3h-2zM490 94.15h4v5.3h-4zM496 94.15h2v5.3h-2zM502 94.15h2v5.3h-2zM576 94.15h2v5.3h-2zM612 94.15h2v5.3h-2zM480 99.45h2v5.3h-2zM488 99.45h2v5.3h-2zM500 99.45h2v5.3h-2zM504 99.45h2v5.3h-2zM522 99.45h6v5.3h-6zM534 99.45h2v5.3h-2zM540 99.45h2v5.3h-2zM548 99.45h2v5.3h-2zM558 99.45h2v5.3h-2zM594 99.45h2v5.3h-2zM598 99.45h2v5.3h-2zM606 99.45h2v5.3h-2zM610 99.45h2v5.3h-2zM490 104.75h2v5.3h-2zM526 104.75h2v5.3h-2zM560 104.75h4v5.3h-4zM570 104.75h2v5.3h-2zM580 104.75h2v5.3h-2zM590 104.75h2v5.3h-2zM598 104.75h2v5.3h-2zM604 104.75h2v5.3h-2zM614 104.75h2v5.3h-2zM504 110.05h2v5.3h-2zM510 110.05h2v5.3h-2zM520 110.05h2v5.3h-2zM546 110.05h2v5.3h-2zM556 110.05h2v5.3h-2zM570 110.05h4v5.3h-4zM608 110.05h2v5.3h-2zM504 115.35h2v5.3h-2zM512 115.35h4v5.3h-4zM544 115.35h2v5.3h-2zM570 115.35h2v5.3h-2zM574 115.35h2v5.3h-2zM590 115.35h2v5.3h-2zM484 120.65h2v5.3h-2zM508 120.65h2v5.3h-2zM524 120.65h2v5.3h-2zM562 120.65h2v5.3h-2zM568 120.65h2v5.3h-2zM594 120.65h4v5.3h-4zM486 125.95h2v5.3h-2zM534 125.95h2v5.3h-2zM542 125.95h2v5.3h-2zM552 125.95h2v5.3h-2zM560 125.95h4v5.3h-4zM582 125.95h2v5.3h-2zM590 125.95h2v5.3h-2zM534 131.25h2v5.3h-2zM544 131.25h2v5.3h-2zM564 131.25h4v5.3h-4zM570 131.25h2v5.3h-2zM614 131.25h3.3v5.3h-3.3zM498 136.55h2v5.3h-2zM522 136.55h2v5.3h-2zM546 136.55h2v5.3h-2zM562 136.55h2v5.3h-2zM590 136.55h2v5.3h-2zM596 136.55h2v5.3h-2zM500 141.85h4v5.3h-4zM568 141.85h2v5.3h-2zM580 141.85h2v5.3h-2zM602 141.85h2v5.3h-2zM500 147.15h2v5.3h-2zM518 147.15h2v5.3h-2zM522 147.15h2v5.3h-2zM526 147.15h2v5.3h-2zM560 147.15h2v5.3h-2zM572 147.15h2v5.3h-2zM488 152.45h2v5.3h-2zM500 152.45h2v5.3h-2zM504 152.45h2v5.3h-2zM504 157.75h2v5.3h-2zM522 157.75h2v5.3h-2zM562 157.75h2v5.3h-2zM586 157.75h2v5.3h-2zM590 157.75h2v5.3h-2zM508 163.05h2v5.3h-2zM524 163.05h2v5.3h-2zM550 163.05h2v5.3h-2zM554 163.05h2v5.3h-2zM566 163.05h2v5.3h-2zM484 168.35h2v5.3h-2zM492 168.35h2v5.3h-2zM506 168.35h4v5.3h-4zM530 168.35h2v5.3h-2zM538 168.35h2v5.3h-2zM552 168.35h2v5.3h-2zM560 168.35h2v5.3h-2zM604 168.35h2v5.3h-2zM610 168.35h2v5.3h-2zM528 173.65h2v5.3h-2zM534 173.65h2v5.3h-2zM570 173.65h2v5.3h-2zM594 173.65h2v5.3h-2zM614 173.65h2v5.3h-2zM538 178.95h4v5.3h-4zM548 178.95h2v5.3h-2zM560 178.95h2v5.3h-2zM594 178.95h2v5.3h-2zM612 178.95h2v5.3h-2zM482 184.25h2v5.3h-2zM516 184.25h2v5.3h-2zM526 184.25h2v5.3h-2zM538 184.25h2v5.3h-2zM564 184.25h2v5.3h-2zM578 184.25h2v5.3h-2zM598 184.25h2v5.3h-2zM604 184.25h2v5.3h-2zM482 189.55h2v5.3h-2zM530 189.55h2v5.3h-2zM548 189.55h2v5.3h-2zM552 189.55h2v5.3h-2zM568 189.55h2v5.3h-2zM576 189.55h2v5.3h-2zM598 189.55h2v5.3h-2zM498 194.85h2v5.3h-2zM504 194.85h2v5.3h-2zM508 194.85h2v5.3h-2zM520 194.85h4v5.3h-4zM544 194.85h2v5.3h-2zM552 194.85h2v5.3h-2zM488 200.15h2v5.3h-2zM514 200.15h2v5.3h-2zM540 200.15h2v5.3h-2zM550 200.15h2v5.3h-2zM584 200.15h2v5.3h-2zM510 205.45h2v5.3h-2zM550 205.45h2v5.3h-2zM556 205.45h2v5.3h-2zM562 205.45h2v5.3h-2zM568 205.45h2v5.3h-2zM606 205.45h2v5.3h-2zM610 205.45h4v5.3h-4zM538 210.75h2v5.3h-2zM554 210.75h2v5.3h-2zM568 210.75h2v5.3h-2zM572 210.75h2v5.3h-2zM600 210.75h2v5.3h-2zM606 210.75h2v5.3h-2zM614 210.75h2v5.3h-2zM496 216.05h2v5.3h-2zM502 216.05h2v5.3h-2zM510 216.05h2v5.3h-2zM522 216.05h2v5.3h-2zM532 216.05h2v5.3h-2zM558 216.05h2v5.3h-2zM564 216.05h4v5.3h-4zM576 216.05h2v5.3h-2zM594 216.05h2v5.3h-2zM604 216.05h2v5.3h-2zM616 216.05h1.3v5.3h-1.3zM514 221.35h2v5.3h-2zM540 221.35h2v5.3h-2zM552 221.35h2v5.3h-2zM562 221.35h2v5.3h-2zM486 226.65h4v5.3h-4zM494 226.65h2v5.3h-2zM530 226.65h2v5.3h-2zM544 226.65h2v5.3h-2zM548 226.65h10v5.3h-10zM564 226.65h2v5.3h-2zM476 231.95h4v5.3h-4zM510 231.95h2v5.3h-2zM558 231.95h2v5.3h-2zM562 231.95h2v5.3h-2zM582 231.95h2v5.3h-2zM596 231.95h2v5.3h-2zM516 237.25h2v5.3h-2zM528 237.25h2v5.3h-2zM550 237.25h2v5.3h-2zM566 237.25h2v5.3h-2zM500 242.55h2v5.3h-2zM510 242.55h4v5.3h-4zM518 242.55h2v5.3h-2zM530 242.55h2v5.3h-2zM544 242.55h2v5.3h-2zM554 242.55h2v5.3h-2zM566 242.55h2v5.3h-2zM582 242.55h2v5.3h-2zM596 242.55h2v5.3h-2zM608 242.55h2v5.3h-2zM492 247.85h4v5.3h-4zM500 247.85h2v5.3h-2zM504 247.85h2v5.3h-2zM532 247.85h2v5.3h-2zM544 247.85h2v5.3h-2zM564 247.85h2v5.3h-2zM590 247.85h2v5.3h-2zM616 247.85h1.3v5.3h-1.3zM494 253.15h2v5.3h-2zM504 253.15h2v5.3h-2zM510 253.15h2v5.3h-2zM528 253.15h2v5.3h-2zM542 253.15h2v5.3h-2zM566 253.15h2v5.3h-2zM572 253.15h2v5.3h-2zM590 253.15h2v5.3h-2zM600 253.15h4v5.3h-4zM476 258.45h2v5.3h-2zM512 258.45h2v5.3h-2zM532 258.45h4v5.3h-4zM540 258.45h2v5.3h-2zM554 258.45h4v5.3h-4zM580 258.45h2v5.3h-2zM584 258.45h6v5.3h-6zM608 258.45h2v5.3h-2zM518 263.75h2v5.3h-2zM528 263.75h2v5.3h-2zM612 263.75h2v5.3h-2zM476 269.05h2v5.3h-2zM480 269.05h2v5.3h-2zM486 269.05h2v5.3h-2zM542 269.05h2v5.3h-2zM570 269.05h2v5.3h-2zM578 269.05h2v5.3h-2zM604 269.05h2v5.3h-2zM478 274.35h2v5.3h-2zM498 274.35h2v5.3h-2zM526 274.35h2v5.3h-2zM562 274.35h2v5.3h-2zM570 274.35h2v5.3h-2zM606 274.35h2v5.3h-2zM616 274.35h1.3v5.3h-1.3zM502 279.65h4v5.3h-4zM548 279.65h2v5.3h-2zM568 279.65h2v5.3h-2zM604 279.65h2v5.3h-2zM616 279.65h1.3v5.3h-1.3zM502 284.95h2v5.3h-2zM518 284.95h2v5.3h-2zM522 284.95h2v5.3h-2zM534 284.95h2v5.3h-2zM552 284.95h2v5.3h-2zM498 290.25h2v5.3h-2zM512 290.25h2v5.3h-2zM524 290.25h2v5.3h-2zM542 290.25h2v5.3h-2zM550 290.25h2v5.3h-2zM588 290.25h2v5.3h-2zM614 290.25h2v5.3h-2zM476 295.55h2v5.3h-2zM520 295.55h2v5.3h-2zM528 295.55h2v5.3h-2zM544 295.55h2v5.3h-2zM550 295.55h2v5.3h-2zM560 295.55h2v5.3h-2zM572 295.55h2v5.3h-2zM582 295.55h2v5.3h-2zM588 295.55h8v5.3h-8zM604 295.55h2v5.3h-2zM486 300.85h2v5.3h-2zM516 300.85h2v5.3h-2zM534 300.85h2v5.3h-2zM560 300.85h2v5.3h-2zM578 300.85h2v5.3h-2zM582 300.85h2v5.3h-2zM516 306.15h2v5.3h-2zM528 306.15h2v5.3h-2zM556 306.15h4v5.3h-4zM614 306.15h2v5.3h-2zM480 311.45h2v5.3h-2zM498 311.45h4v5.3h-4zM506 311.45h4v5.3h-4zM554 311.45h2v5.3h-2zM562 311.45h2v5.3h-2zM568 311.45h2v5.3h-2zM578 311.45h2v5.3h-2zM582 311.45h2v5.3h-2zM590 311.45h2v5.3h-2zM594 311.45h2v5.3h-2zM600 311.45h2v5.3h-2zM608 311.45h2v5.3h-2zM500 316.75h2v5.3h-2zM508 316.75h2v5.3h-2zM512 316.75h2v5.3h-2zM562 316.75h2v5.3h-2zM598 316.75h4v5.3h-4zM610 316.75h2v5.3h-2zM614 316.75h3.3v5.3h-3.3zM498 322.05h2v5.3h-2zM516 322.05h2v5.3h-2zM562 322.05h2v5.3h-2zM572 322.05h2v5.3h-2zM582 322.05h2v5.3h-2zM598 322.05h2v5.3h-2zM524 327.35h2v2.65h-2zM536 327.35h2v2.65h-2zM554 327.35h2v2.65h-2zM560 327.35h2v2.65h-2zM594 327.35h2v2.65h-2z"/>
<path fill="#00b4ff" d="M478 41.15h2v5.3h-2zM498 41.15h2v5.3h-2zM518 41.15h2v5.3h-2zM488 46.45h2v5.3h-2zM500 46.45h2v5.3h-2zM504 46.45h4v5.3h-4zM518 46.45h4v5.3h-4zM530 46.45h2v5.3h-2zM566 46.45h4v5.3h-4zM602 46.45h2v5.3h-2zM484 51.75h2v5.3h-2zM490 51.75h2v5.3h-2zM558 51.75h2v5.3h-2zM588 51.75h2v5.3h-2zM594 51.75h4v5.3h-4zM602 51.75h2v5.3h-2zM512 57.05h2v5.3h-2zM530 57.05h2v5.3h-2zM544 57.05h2v5.3h-2zM584 57.05h2v5.3h-2zM614 57.05h2v5.3h-2zM526 62.35h2v5.3h-2zM596 62.35h2v5.3h-2zM608 62.35h2v5.3h-2zM614 62.35h2v5.3h-2zM518 67.65h2v5.3h-2zM532 67.65h2v5.3h-2zM540 67.65h2v5.3h-2zM580 67.65h2v5.3h-2zM594 67.65h2v5.3h-2zM518 72.95h2v5.3h-2zM534 72.95h2v5.3h-2zM546 72.95h2v5.3h-2zM568 72.95h2v5.3h-2zM574 72.95h2v5.3h-2zM602 72.95h2v5.3h-2zM504 78.25h2v5.3h-2zM558 78.25h2v5.3h-2zM578 78.25h2v5.3h-2zM600 78.25h2v5.3h-2zM520 83.55h2v5.3h-2zM532 83.55h2v5.3h-2zM582 83.55h2v5.3h-2zM598 83.55h2v5.3h-2zM602 83.55h4v5.3h-4zM614 83.55h2v5.3h-2zM504 88.85h2v5.3h-2zM542 88.85h2v5.3h-2zM546 88.85h2v5.3h-2zM562 88.85h2v5.3h-2zM604 88.85h2v5.3h-2zM552 94.15h2v5.3h-2zM570 94.15h2v5.3h-2zM602 94.15h2v5.3h-2zM546 99.45h2v5.3h-2zM578 99.45h2v5.3h-2zM600 99.45h2v5.3h-2zM498 104.75h2v5.3h-2zM514 104.75h2v5.3h-2zM524 104.75h2v5.3h-2zM548 104.75h2v5.3h-2zM556 104.75h2v5.3h-2zM564 104.75h6v5.3h-6zM602 104.75h2v5.3h-2zM610 104.75h2v5.3h-2zM486 110.05h2v5.3h-2zM518 110.05h2v5.3h-2zM566 110.05h2v5.3h-2zM574 110.05h2v5.3h-2zM592 110.05h2v5.3h-2zM492 115.35h2v5.3h-2zM522 115.35h2v5.3h-2zM538 115.35h2v5.3h-2zM562 115.35h2v5.3h-2zM582 115.35h4v5.3h-4zM604 115.35h2v5.3h-2zM488 120.65h2v5.3h-2zM498 120.65h2v5.3h-2zM506 120.65h2v5.3h-2zM514 120.65h2v5.3h-2zM520 120.65h2v5.3h-2zM528 120.65h4v5.3h-4zM558 120.65h2v5.3h-2zM564 120.65h4v5.3h-4zM578 120.65h4v5.3h-4zM604 120.65h2v5.3h-2zM610 120.65h2v5.3h-2zM488 125.95h2v5.3h-2zM520 125.95h4v5.3h-4zM556 125.95h2v5.3h-2zM594 125.95h2v5.3h-2zM518 131.25h2v5.3h-2zM526 131.25h2v5.3h-2zM532 131.25h2v5.3h-2zM562 131.25h2v5.3h-2zM584 131.25h2v5.3h-2zM594 131.25h2v5.3h-2zM506 136.55h2v5.3h-2zM510 136.55h2v5.3h-2zM524 136.55h2v5.3h-2zM542 136.55h2v5.3h-2zM548 136.55h2v5.3h-2zM604 136.55h2v5.3h-2zM478 141.85h2v5.3h-2zM528 141.85h2v5.3h-2zM548 141.85h2v5.3h-2zM558 141.85h2v5.3h-2zM588 141.85h2v5.3h-2zM592 141.85h2v5.3h-2zM596 141.85h2v5.3h-2zM608 141.85h2v5.3h-2zM612 141.85h2v5.3h-2zM482 147.15h2v5.3h-2zM490 147.15h2v5.3h-2zM496 147.15h4v5.3h-4zM520 147.15h2v5.3h-2zM528 147.15h4v5.3h-4zM534 147.15h2v5.3h-2zM550 147.15h2v5.3h-2zM556 147.15h2v5.3h-2zM574 147.15h2v5.3h-2zM578 147.15h2v5.3h-2zM596 147.15h2v5.3h-2zM486 152.45h2v5.3h-2zM502 152.45h2v5.3h-2zM506 152.45h2v5.3h-2zM532 152.45h2v5.3h-2zM546 152.45h2v5.3h-2zM566 152.45h2v5.3h-2zM608 152.45h2v5.3h-2zM478 157.75h4v5.3h-4zM500 157.75h4v5.3h-4zM520 157.75h2v5.3h-2zM538 157.75h2v5.3h-2zM550 157.75h4v5.3h-4zM560 157.75h2v5.3h-2zM566 157.75h2v5.3h-2zM582 157.75h2v5.3h-2zM520 163.05h2v5.3h-2zM562 163.05h2v5.3h-2zM596 163.05h2v5.3h-2zM480 168.35h2v5.3h-2zM488 168.35h2v5.3h-2zM500 168.35h2v5.3h-2zM514 168.35h4v5.3h-4zM524 168.35h2v5.3h-2zM558 168.35h2v5.3h-2zM574 168.35h2v5.3h-2zM592 168.35h2v5.3h-2zM512 173.65h4v5.3h-4zM540 173.65h2v5.3h-2zM550 173.65h4v5.3h-4zM596 173.65h2v5.3h-2zM612 173.65h2v5.3h-2zM482 178.95h2v5.3h-2zM512 178.95h2v5.3h-2zM536 178.95h2v5.3h-2zM590 178.95h2v5.3h-2zM596 178.95h2v5.3h-2zM504 184.25h6v5.3h-6zM518 184.25h2v5.3h-2zM540 184.25h2v5.3h-2zM548 184.25h2v5.3h-2zM552 184.25h2v5.3h-2zM558 184.25h2v5.3h-2zM580 184.25h2v5.3h-2zM586 184.25h2v5.3h-2zM602 184.25h2v5.3h-2zM486 189.55h2v5.3h-2zM492 189.55h2v5.3h-2zM510 189.55h2v5.3h-2zM516 189.55h2v5.3h-2zM546 189.55h2v5.3h-2zM578 189.55h2v5.3h-2zM596 189.55h2v5.3h-2zM492 194.85h6v5.3h-6zM502 194.85h2v5.3h-2zM532 194.85h2v5.3h-2zM484 200.15h4v5.3h-4zM506 200.15h2v5.3h-2zM516 200.15h2v5.3h-2zM534 200.15h2v5.3h-2zM542 200.15h2v5.3h-2zM588 200.15h4v5.3h-4zM596 200.15h2v5.3h-2zM478 205.45h2v5.3h-2zM498 205.45h4v5.3h-4zM520 205.45h2v5.3h-2zM524 205.45h2v5.3h-2zM548 205.45h2v5.3h-2zM570 205.45h2v5.3h-2zM598 205.45h2v5.3h-2zM608 205.45h2v5.3h-2zM490 210.75h2v5.3h-2zM514 210.75h2v5.3h-2zM522 210.75h2v5.3h-2zM532 210.75h2v5.3h-2zM556 210.75h2v5.3h-2zM560 210.75h2v5.3h-2zM566 210.75h2v5.3h-2zM570 210.75h2v5.3h-2zM604 210.75h2v5.3h-2zM478 216.05h4v5.3h-4zM498 216.05h2v5.3h-2zM508 216.05h2v5.3h-2zM538 216.05h2v5.3h-2zM546 216.05h2v5.3h-2zM586 216.05h2v5.3h-2zM602 216.05h2v5.3h-2zM480 221.35h2v5.3h-2zM488 221.35h2v5.3h-2zM496 221.35h2v5.3h-2zM508 221.35h2v5.3h-2zM530 221.35h2v5.3h-2zM548 221.35h2v5.3h-2zM596 221.35h2v5.3h-2zM612 221.35h2v5.3h-2zM616 221.35h1.3v5.3h-1.3zM480 226.65h2v5.3h-2zM566 226.65h2v5.3h-2zM614 226.65h2v5.3h-2zM484 231.95h2v5.3h-2zM490 231.95h2v5.3h-2zM498 231.95h2v5.3h-2zM522 231.95h2v5.3h-2zM550 231.95h2v5.3h-2zM576 231.95h2v5.3h-2zM588 231.95h2v5.3h-2zM606 231.95h2v5.3h-2zM614 231.95h2v5.3h-2zM512 237.25h4v5.3h-4zM520 237.25h2v5.3h-2zM564 237.25h2v5.3h-2zM588 237.25h2v5.3h-2zM610 237.25h2v5.3h-2zM516 242.55h2v5.3h-2zM564 242.55h2v5.3h-2zM616 242.55h1.3v5.3h-1.3zM482 247.85h2v5.3h-2zM538 247.85h2v5.3h-2zM542 247.85h2v5.3h-2zM548 247.85h2v5.3h-2zM560 247.85h4v5.3h-4zM572 247.85h2v5.3h-2zM508 253.15h2v5.3h-2zM518 253.15h2v5.3h-2zM586 253.15h2v5.3h-2zM500 258.45h2v5.3h-2zM504 258.45h2v5.3h-2zM522 258.45h2v5.3h-2zM528 258.45h2v5.3h-2zM568 258.45h2v5.3h-2zM476 263.75h2v5.3h-2zM498 263.75h2v5.3h-2zM550 263.75h2v5.3h-2zM564 263.75h2v5.3h-2zM568 263.75h2v5.3h-2zM572 263.75h2v5.3h-2zM582 263.75h2v5.3h-2zM482 269.05h2v5.3h-2zM502 269.05h2v5.3h-2zM512 269.05h4v5.3h-4zM520 269.05h2v5.3h-2zM534 269.05h2v5.3h-2zM538 269.05h2v5.3h-2zM568 269.05h2v5.3h-2zM496 274.35h2v5.3h-2zM522 274.35h2v5.3h-2zM534 274.35h2v5.3h-2zM546 274.35h2v5.3h-2zM550 274.35h2v5.3h-2zM560 274.35h2v5.3h-2zM568 274.35h2v5.3h-2zM510 279.65h6v5.3h-6zM550 279.65h2v5.3h-2zM556 279.65h2v5.3h-2zM574 279.65h2v5.3h-2zM582 279.65h2v5.3h-2zM586 279.65h2v5.3h-2zM606 279.65h2v5.3h-2zM486 284.95h2v5.3h-2zM510 284.95h2v5.3h-2zM514 284.95h2v5.3h-2zM536 284.95h2v5.3h-2zM556 284.95h2v5.3h-2zM568 284.95h2v5.3h-2zM574 284.95h2v5.3h-2zM578 284.95h2v5.3h-2zM592 284.95h2v5.3h-2zM476 290.25h2v5.3h-2zM492 290.25h2v5.3h-2zM504 290.25h2v5.3h-2zM508 290.25h2v5.3h-2zM516 290.25h2v5.3h-2zM530 290.25h2v5.3h-2zM536 290.25h2v5.3h-2zM566 290.25h2v5.3h-2zM594 290.25h2v5.3h-2zM484 295.55h2v5.3h-2zM508 295.55h2v5.3h-2zM512 295.55h2v5.3h-2zM542 295.55h2v5.3h-2zM614 295.55h2v5.3h-2zM500 300.85h2v5.3h-2zM530 300.85h2v5.3h-2zM610 300.85h2v5.3h-2zM478 306.15h2v5.3h-2zM538 306.15h2v5.3h-2zM566 306.15h4v5.3h-4zM584 306.15h2v5.3h-2zM602 306.15h2v5.3h-2zM616 306.15h1.3v5.3h-1.3zM510 311.45h2v5.3h-2zM524 311.45h2v5.3h-2zM536 311.45h4v5.3h-4zM552 311.45h2v5.3h-2zM588 311.45h2v5.3h-2zM612 311.45h2v5.3h-2zM486 316.75h2v5.3h-2zM490 316.75h2v5.3h-2zM522 316.75h2v5.3h-2zM526 316.75h2v5.3h-2zM550 316.75h4v5.3h-4zM556 316.75h2v5.3h-2zM570 316.75h4v5.3h-4zM586 316.75h2v5.3h-2zM612 316.75h2v5.3h-2zM478 322.05h2v5.3h-2zM538 322.05h2v5.3h-2zM542 322.05h2v5.3h-2zM556 322.05h2v5.3h-2zM580 322.05h2v5.3h-2zM610 322.05h2v5.3h-2zM616 322.05h1.3v5.3h-1.3zM478 327.35h2v2.65h-2zM484 327.35h2v2.65h-2zM500 327.35h4v2.65h-4zM516 327.35h2v2.65h-2zM542 327.35h2v2.65h-2zM548 327.35h2v2.65h-2zM582 327.35h2v2.65h-2zM598 327.35h2v2.65h-2z"/>
<path fill="#00c4ff" d="M594 41.15h2v5.3h-2zM490 46.45h2v5.3h-2zM496 46.45h2v5.3h-2zM508 46.45h2v5.3h-2zM522 46.45h2v5.3h-2zM528 46.45h2v5.3h-2zM542 46.45h2v5.3h-2zM614 46.45h2v5.3h-2zM492 51.75h2v5.3h-2zM502 51.75h2v5.3h-2zM518 51.75h4v5.3h-4zM530 51.75h2v5.3h-2zM542 51.75h2v5.3h-2zM554 51.75h2v5.3h-2zM560 51.75h2v5.3h-2zM568 51.75h2v5.3h-2zM592 51.75h2v5.3h-2zM616 51.75h1.3v5.3h-1.3zM488 57.05h2v5.3h-2zM516 57.05h2v5.3h-2zM554 57.05h2v5.3h-2zM586 57.05h2v5.3h-2zM592 57.05h2v5.3h-2zM598 57.05h2v5.3h-2zM610 57.05h2v5.3h-2zM510 62.35h2v5.3h-2zM576 62.35h2v5.3h-2zM580 62.35h2v5.3h-2zM602 62.35h2v5.3h-2zM528 67.65h2v5.3h-2zM560 67.65h2v5.3h-2zM564 67.65h2v5.3h-2zM604 67.65h2v5.3h-2zM528 72.95h2v5.3h-2zM538 72.95h2v5.3h-2zM594 72.95h4v5.3h-4zM604 72.95h2v5.3h-2zM492 78.25h4v5.3h-4zM510 78.25h2v5.3h-2zM544 78.25h2v5.3h-2zM562 78.25h2v5.3h-2zM576 78.25h2v5.3h-2zM582 78.25h2v5.3h-2zM596 78.25h2v5.3h-2zM498 83.55h2v5.3h-2zM528 83.55h2v5.3h-2zM536 83.55h2v5.3h-2zM550 83.55h4v5.3h-4zM594 83.55h2v5.3h-2zM600 83.55h2v5.3h-2zM616 83.55h1.3v5.3h-1.3zM492 88.85h2v5.3h-2zM532 88.85h2v5.3h-2zM536 88.85h2v5.3h-2zM550 88.85h4v5.3h-4zM570 88.85h2v5.3h-2zM600 88.85h2v5.3h-2zM606 88.85h2v5.3h-2zM520 94.15h2v5.3h-2zM560 94.15h2v5.3h-2zM596 94.15h2v5.3h-2zM610 94.15h2v5.3h-2zM478 99.45h2v5.3h-2zM496 99.45h2v5.3h-2zM536 99.45h2v5.3h-2zM554 99.45h2v5.3h-2zM566 99.45h2v5.3h-2zM574 99.45h2v5.3h-2zM584 99.45h2v5.3h-2zM604 99.45h2v5.3h-2zM530 104.75h2v5.3h-2zM582 104.75h4v5.3h-4zM608 104.75h2v5.3h-2zM500 110.05h2v5.3h-2zM552 110.05h2v5.3h-2zM578 110.05h2v5.3h-2zM590 110.05h2v5.3h-2zM594 110.05h6v5.3h-6zM612 110.05h2v5.3h-2zM484 115.35h2v5.3h-2zM524 115.35h2v5.3h-2zM528 115.35h2v5.3h-2zM558 115.35h2v5.3h-2zM576 115.35h2v5.3h-2zM580 115.35h2v5.3h-2zM598 115.35h2v5.3h-2zM608 115.35h2v5.3h-2zM486 120.65h2v5.3h-2zM496 120.65h2v5.3h-2zM502 120.65h2v5.3h-2zM510 120.65h2v5.3h-2zM522 120.65h2v5.3h-2zM536 120.65h4v5.3h-4zM544 120.65h2v5.3h-2zM552 120.65h2v5.3h-2zM582 120.65h2v5.3h-2zM606 120.65h2v5.3h-2zM614 120.65h2v5.3h-2zM490 125.95h4v5.3h-4zM498 125.95h2v5.3h-2zM512 125.95h2v5.3h-2zM528 125.95h2v5.3h-2zM564 125.95h2v5.3h-2zM574 125.95h2v5.3h-2zM598 125.95h4v5.3h-4zM614 125.95h2v5.3h-2zM484 131.25h4v5.3h-4zM506 131.25h2v5.3h-2zM512 131.25h2v5.3h-2zM552 131.25h2v5.3h-2zM558 131.25h2v5.3h-2zM574 131.25h2v5.3h-2zM604 131.25h2v5.3h-2zM610 131.25h2v5.3h-2zM478 136.55h2v5.3h-2zM486 136.55h2v5.3h-2zM528 136.55h2v5.3h-2zM540 136.55h2v5.3h-2zM566 136.55h2v5.3h-2zM570 136.55h2v5.3h-2zM588 136.55h2v5.3h-2zM518 141.85h2v5.3h-2zM526 141.85h2v5.3h-2zM532 141.85h2v5.3h-2zM538 141.85h2v5.3h-2zM544 141.85h2v5.3h-2zM566 141.85h2v5.3h-2zM606 141.85h2v5.3h-2zM484 147.15h2v5.3h-2zM492 147.15h2v5.3h-2zM504 147.15h2v5.3h-2zM512 147.15h2v5.3h-2zM536 147.15h2v5.3h-2zM566 147.15h2v5.3h-2zM586 147.15h4v5.3h-4zM610 147.15h2v5.3h-2zM614 147.15h2v5.3h-2zM516 152.45h2v5.3h-2zM534 152.45h2v5.3h-2zM544 152.45h2v5.3h-2zM552 152.45h2v5.3h-2zM482 157.75h4v5.3h-4zM492 157.75h2v5.3h-2zM518 157.75h2v5.3h-2zM528 157.75h2v5.3h-2zM532 157.75h2v5.3h-2zM548 157.75h2v5.3h-2zM598 157.75h2v5.3h-2zM480 163.05h2v5.3h-2zM492 163.05h2v5.3h-2zM502 163.05h2v5.3h-2zM532 163.05h2v5.3h-2zM540 163.05h2v5.3h-2zM560 163.05h2v5.3h-2zM584 163.05h2v5.3h-2zM610 163.05h2v5.3h-2zM486 168.35h2v5.3h-2zM496 168.35h2v5.3h-2zM502 168.35h2v5.3h-2zM520 168.35h2v5.3h-2zM544 168.35h2v5.3h-2zM566 168.35h2v5.3h-2zM594 168.35h2v5.3h-2zM606 168.35h2v5.3h-2zM614 168.35h2v5.3h-2zM488 173.65h2v5.3h-2zM502 173.65h2v5.3h-2zM508 173.65h2v5.3h-2zM532 173.65h2v5.3h-2zM554 173.65h4v5.3h-4zM592 173.65h2v5.3h-2zM602 173.65h2v5.3h-2zM488 178.95h2v5.3h-2zM492 178.95h2v5.3h-2zM498 178.95h2v5.3h-2zM504 178.95h4v5.3h-4zM510 178.95h2v5.3h-2zM532 178.95h2v5.3h-2zM562 178.95h4v5.3h-4zM614 178.95h2v5.3h-2zM490 184.25h2v5.3h-2zM544 184.25h2v5.3h-2zM560 184.25h2v5.3h-2zM590 184.25h2v5.3h-2zM488 189.55h2v5.3h-2zM520 189.55h2v5.3h-2zM540 189.55h4v5.3h-4zM558 189.55h4v5.3h-4zM572 189.55h2v5.3h-2zM580 189.55h2v5.3h-2zM590 189.55h2v5.3h-2zM602 189.55h2v5.3h-2zM606 189.55h2v5.3h-2zM614 189.55h2v5.3h-2zM488 194.85h4v5.3h-4zM516 194.85h2v5.3h-2zM526 194.85h2v5.3h-2zM536 194.85h2v5.3h-2zM540 194.85h2v5.3h-2zM556 194.85h2v5.3h-2zM584 194.85h2v5.3h-2zM596 194.85h2v5.3h-2zM608 194.85h2v5.3h-2zM612 194.85h2v5.3h-2zM482 200.15h2v5.3h-2zM490 200.15h2v5.3h-2zM510 200.15h2v5.3h-2zM536 200.15h2v5.3h-2zM552 200.15h2v5.3h-2zM558 200.15h2v5.3h-2zM602 200.15h2v5.3h-2zM614 200.15h2v5.3h-2zM508 205.45h2v5.3h-2zM534 205.45h2v5.3h-2zM552 205.45h2v5.3h-2zM580 205.45h2v5.3h-2zM506 210.75h2v5.3h-2zM512 210.75h2v5.3h-2zM544 210.75h2v5.3h-2zM578 210.75h2v5.3h-2zM598 210.75h2v5.3h-2zM602 210.75h2v5.3h-2zM512 216.05h2v5.3h-2zM580 216.05h2v5.3h-2zM598 216.05h2v5.3h-2zM482 221.35h6v5.3h-6zM528 221.35h2v5.3h-2zM566 221.35h2v5.3h-2zM578 221.35h2v5.3h-2zM594 221.35h2v5.3h-2zM606 221.35h2v5.3h-2zM490 226.65h2v5.3h-2zM506 226.65h2v5.3h-2zM540 226.65h4v5.3h-4zM560 226.65h4v5.3h-4zM572 226.65h2v5.3h-2zM576 226.65h2v5.3h-2zM590 226.65h2v5.3h-2zM608 226.65h2v5.3h-2zM516 231.95h2v5.3h-2zM538 231.95h2v5.3h-2zM592 231.95h2v5.3h-2zM492 237.25h4v5.3h-4zM524 237.25h2v5.3h-2zM536 237.25h2v5.3h-2zM552 237.25h2v5.3h-2zM568 237.25h2v5.3h-2zM576 237.25h2v5.3h-2zM596 237.25h2v5.3h-2zM486 242.55h2v5.3h-2zM498 242.55h2v5.3h-2zM504 242.55h2v5.3h-2zM508 242.55h2v5.3h-2zM542 242.55h2v5.3h-2zM550 242.55h4v5.3h-4zM584 242.55h2v5.3h-2zM592 242.55h2v5.3h-2zM478 247.85h2v5.3h-2zM550 247.85h2v5.3h-2zM566 247.85h2v5.3h-2zM570 247.85h2v5.3h-2zM548 253.15h2v5.3h-2zM562 253.15h2v5.3h-2zM478 258.45h2v5.3h-2zM486 258.45h4v5.3h-4zM542 258.45h2v5.3h-2zM616 258.45h1.3v5.3h-1.3zM494 263.75h2v5.3h-2zM524 263.75h2v5.3h-2zM574 263.75h2v5.3h-2zM504 269.05h2v5.3h-2zM510 269.05h2v5.3h-2zM540 269.05h2v5.3h-2zM562 269.05h2v5.3h-2zM588 269.05h2v5.3h-2zM612 269.05h2v5.3h-2zM490 274.35h2v5.3h-2zM494 274.35h2v5.3h-2zM506 274.35h2v5.3h-2zM574 274.35h4v5.3h-4zM484 279.65h2v5.3h-2zM508 279.65h2v5.3h-2zM490 284.95h2v5.3h-2zM508 284.95h2v5.3h-2zM516 284.95h2v5.3h-2zM520 284.95h2v5.3h-2zM528 284.95h2v5.3h-2zM594 284.95h2v5.3h-2zM478 290.25h2v5.3h-2zM494 290.25h2v5.3h-2zM502 290.25h2v5.3h-2zM506 290.25h2v5.3h-2zM520 290.25h2v5.3h-2zM560 290.25h4v5.3h-4zM610 290.25h2v5.3h-2zM522 295.55h2v5.3h-2zM530 295.55h2v5.3h-2zM538 295.55h2v5.3h-2zM476 300.85h2v5.3h-2zM510 300.85h2v5.3h-2zM514 300.85h2v5.3h-2zM518 300.85h2v5.3h-2zM570 300.85h2v5.3h-2zM480 306.15h2v5.3h-2zM486 306.15h4v5.3h-4zM502 306.15h8v5.3h-8zM524 306.15h2v5.3h-2zM536 306.15h2v5.3h-2zM582 306.15h2v5.3h-2zM586 306.15h2v5.3h-2zM590 306.15h2v5.3h-2zM490 311.45h2v5.3h-2zM496 311.45h2v5.3h-2zM502 311.45h2v5.3h-2zM520 311.45h2v5.3h-2zM566 311.45h2v5.3h-2zM570 311.45h2v5.3h-2zM480 316.75h2v5.3h-2zM492 316.75h2v5.3h-2zM538 316.75h2v5.3h-2zM480 322.05h2v5.3h-2zM484 322.05h2v5.3h-2zM496 322.05h2v5.3h-2zM502 322.05h2v5.3h-2zM506 322.05h4v5.3h-4zM518 322.05h2v5.3h-2zM486 327.35h2v2.65h-2zM492 327.35h2v2.65h-2zM504 327.35h4v2.65h-4zM546 327.35h2v2.65h-2zM572 327.35h4v2.65h-4zM608 327.35h2v2.65h-2z"/>
<path fill="#00d4ff" d="M482 41.15h2v5.3h-2zM538 41.15h2v5.3h-2zM536 46.45h4v5.3h-4zM562 46.45h2v5.3h-2zM612 46.45h2v5.3h-2zM516 51.75h2v5.3h-2zM522 51.75h4v5.3h-4zM544 51.75h2v5.3h-2zM548 51.75h4v5.3h-4zM576 51.75h2v5.3h-2zM582 51.75h2v5.3h-2zM598 51.75h2v5.3h-2zM476 57.05h2v5.3h-2zM532 57.05h2v5.3h-2zM538 57.05h2v5.3h-2zM558 57.05h2v5.3h-2zM572 57.05h2v5.3h-2zM600 57.05h2v5.3h-2zM552 62.35h2v5.3h-2zM592 62.35h2v5.3h-2zM610 62.35h2v5.3h-2zM498 67.65h2v5.3h-2zM510 67.65h2v5.3h-2zM516 67.65h2v5.3h-2zM536 67.65h2v5.3h-2zM548 67.65h2v5.3h-2zM590 67.65h2v5.3h-2zM598 67.65h4v5.3h-4zM614 67.65h2v5.3h-2zM522 72.95h4v5.3h-4zM576 72.95h2v5.3h-2zM600 72.95h2v5.3h-2zM608 72.95h6v5.3h-6zM482 78.25h2v5.3h-2zM536 78.25h6v5.3h-6zM568 78.25h2v5.3h-2zM616 78.25h1.3v5.3h-1.3zM484 83.55h2v5.3h-2zM496 83.55h2v5.3h-2zM522 83.55h2v5.3h-2zM554 83.55h2v5.3h-2zM570 83.55h2v5.3h-2zM484 88.85h2v5.3h-2zM490 88.85h2v5.3h-2zM498 88.85h2v5.3h-2zM502 88.85h2v5.3h-2zM508 88.85h2v5.3h-2zM514 88.85h2v5.3h-2zM518 88.85h2v5.3h-2zM538 88.85h2v5.3h-2zM556 88.85h2v5.3h-2zM596 88.85h2v5.3h-2zM610 88.85h2v5.3h-2zM614 88.85h2v5.3h-2zM498 94.15h4v5.3h-4zM512 94.15h2v5.3h-2zM522 94.15h2v5.3h-2zM528 94.15h2v5.3h-2zM544 94.15h2v5.3h-2zM548 94.15h2v5.3h-2zM558 94.15h2v5.3h-2zM578 94.15h4v5.3h-4zM590 94.15h4v5.3h-4zM598 94.15h2v5.3h-2zM538 99.45h2v5.3h-2zM560 99.45h2v5.3h-2zM570 99.45h2v5.3h-2zM580 99.45h4v5.3h-4zM590 99.45h2v5.3h-2zM614 99.45h2v5.3h-2zM488 104.75h2v5.3h-2zM512 104.75h2v5.3h-2zM552 104.75h2v5.3h-2zM592 104.75h2v5.3h-2zM606 104.75h2v5.3h-2zM484 110.05h2v5.3h-2zM508 110.05h2v5.3h-2zM530 110.05h6v5.3h-6zM558 110.05h2v5.3h-2zM564 110.05h2v5.3h-2zM580 110.05h2v5.3h-2zM584 110.05h2v5.3h-2zM600 110.05h2v5.3h-2zM476 115.35h2v5.3h-2zM498 115.35h2v5.3h-2zM542 115.35h2v5.3h-2zM556 115.35h2v5.3h-2zM600 115.35h2v5.3h-2zM492 120.65h2v5.3h-2zM512 120.65h2v5.3h-2zM546 120.65h2v5.3h-2zM570 120.65h2v5.3h-2zM600 120.65h4v5.3h-4zM476 125.95h2v5.3h-2zM494 125.95h2v5.3h-2zM504 125.95h2v5.3h-2zM514 125.95h2v5.3h-2zM532 125.95h2v5.3h-2zM536 125.95h4v5.3h-4zM546 125.95h2v5.3h-2zM478 131.25h2v5.3h-2zM490 131.25h4v5.3h-4zM508 131.25h2v5.3h-2zM522 131.25h2v5.3h-2zM588 131.25h2v5.3h-2zM596 131.25h4v5.3h-4zM496 136.55h2v5.3h-2zM552 136.55h2v5.3h-2zM556 136.55h2v5.3h-2zM610 136.55h2v5.3h-2zM496 141.85h2v5.3h-2zM504 141.85h2v5.3h-2zM550 141.85h2v5.3h-2zM594 141.85h2v5.3h-2zM554 147.15h2v5.3h-2zM480 152.45h2v5.3h-2zM536 152.45h2v5.3h-2zM554 152.45h2v5.3h-2zM560 152.45h4v5.3h-4zM570 152.45h2v5.3h-2zM574 152.45h2v5.3h-2zM476 157.75h2v5.3h-2zM512 157.75h2v5.3h-2zM526 157.75h2v5.3h-2zM556 157.75h2v5.3h-2zM496 163.05h2v5.3h-2zM500 163.05h2v5.3h-2zM574 163.05h2v5.3h-2zM598 163.05h2v5.3h-2zM604 163.05h2v5.3h-2zM476 168.35h2v5.3h-2zM518 168.35h2v5.3h-2zM532 168.35h2v5.3h-2zM536 168.35h2v5.3h-2zM548 168.35h2v5.3h-2zM580 168.35h2v5.3h-2zM494 173.65h2v5.3h-2zM518 173.65h2v5.3h-2zM546 173.65h2v5.3h-2zM558 173.65h2v5.3h-2zM486 178.95h2v5.3h-2zM552 178.95h2v5.3h-2zM556 178.95h2v5.3h-2zM566 178.95h2v5.3h-2zM598 178.95h2v5.3h-2zM524 184.25h2v5.3h-2zM546 184.25h2v5.3h-2zM556 184.25h2v5.3h-2zM566 184.25h2v5.3h-2zM478 189.55h2v5.3h-2zM484 189.55h2v5.3h-2zM502 189.55h2v5.3h-2zM518 189.55h2v5.3h-2zM534 189.55h2v5.3h-2zM538 189.55h2v5.3h-2zM544 189.55h2v5.3h-2zM554 189.55h2v5.3h-2zM582 189.55h2v5.3h-2zM534 194.85h2v5.3h-2zM580 194.85h2v5.3h-2zM492 200.15h2v5.3h-2zM554 200.15h2v5.3h-2zM560 200.15h2v5.3h-2zM586 200.15h2v5.3h-2zM592 200.15h2v5.3h-2zM492 205.45h6v5.3h-6zM528 205.45h6v5.3h-6zM536 205.45h2v5.3h-2zM540 205.45h2v5.3h-2zM478 210.75h2v5.3h-2zM484 210.75h6v5.3h-6zM520 210.75h2v5.3h-2zM524 210.75h2v5.3h-2zM528 210.75h2v5.3h-2zM548 210.75h2v5.3h-2zM558 210.75h2v5.3h-2zM482 216.05h2v5.3h-2zM486 216.05h2v5.3h-2zM494 216.05h2v5.3h-2zM514 216.05h2v5.3h-2zM530 216.05h2v5.3h-2zM536 216.05h2v5.3h-2zM552 216.05h4v5.3h-4zM606 216.05h2v5.3h-2zM490 221.35h2v5.3h-2zM538 221.35h2v5.3h-2zM522 226.65h2v5.3h-2zM536 226.65h2v5.3h-2zM578 226.65h2v5.3h-2zM610 226.65h2v5.3h-2zM486 231.95h2v5.3h-2zM502 231.95h2v5.3h-2zM512 231.95h2v5.3h-2zM544 231.95h2v5.3h-2zM560 231.95h2v5.3h-2zM608 231.95h2v5.3h-2zM488 237.25h4v5.3h-4zM506 237.25h2v5.3h-2zM510 237.25h2v5.3h-2zM476 242.55h2v5.3h-2zM490 242.55h2v5.3h-2zM502 242.55h2v5.3h-2zM506 242.55h2v5.3h-2zM514 242.55h2v5.3h-2zM520 242.55h2v5.3h-2zM572 242.55h2v5.3h-2zM578 242.55h2v5.3h-2zM590 242.55h2v5.3h-2zM604 242.55h2v5.3h-2zM516 247.85h2v5.3h-2zM524 247.85h4v5.3h-4zM552 247.85h2v5.3h-2zM476 253.15h4v5.3h-4zM514 253.15h2v5.3h-2zM522 253.15h2v5.3h-2zM538 253.15h4v5.3h-4zM560 253.15h2v5.3h-2zM576 253.15h2v5.3h-2zM480 258.45h2v5.3h-2zM510 258.45h2v5.3h-2zM544 258.45h2v5.3h-2zM578 258.45h2v5.3h-2zM612 258.45h2v5.3h-2zM478 263.75h2v5.3h-2zM482 263.75h2v5.3h-2zM486 263.75h2v5.3h-2zM506 263.75h2v5.3h-2zM514 263.75h4v5.3h-4zM526 263.75h2v5.3h-2zM538 263.75h2v5.3h-2zM542 263.75h2v5.3h-2zM552 263.75h2v5.3h-2zM610 263.75h2v5.3h-2zM496 269.05h2v5.3h-2zM532 269.05h2v5.3h-2zM544 269.05h2v5.3h-2zM560 269.05h2v5.3h-2zM566 269.05h2v5.3h-2zM574 269.05h4v5.3h-4zM480 274.35h2v5.3h-2zM500 274.35h2v5.3h-2zM504 274.35h2v5.3h-2zM528 274.35h2v5.3h-2zM556 274.35h2v5.3h-2zM480 279.65h2v5.3h-2zM496 279.65h2v5.3h-2zM500 279.65h2v5.3h-2zM522 279.65h2v5.3h-2zM552 279.65h2v5.3h-2zM610 279.65h2v5.3h-2zM476 284.95h2v5.3h-2zM498 284.95h2v5.3h-2zM546 284.95h2v5.3h-2zM496 290.25h2v5.3h-2zM538 290.25h2v5.3h-2zM552 290.25h2v5.3h-2zM486 295.55h2v5.3h-2zM514 295.55h2v5.3h-2zM546 295.55h2v5.3h-2zM562 295.55h2v5.3h-2zM488 300.85h2v5.3h-2zM498 300.85h2v5.3h-2zM520 300.85h2v5.3h-2zM550 300.85h2v5.3h-2zM554 300.85h4v5.3h-4zM566 300.85h2v5.3h-2zM584 300.85h2v5.3h-2zM604 300.85h2v5.3h-2zM484 306.15h2v5.3h-2zM512 306.15h2v5.3h-2zM522 306.15h2v5.3h-2zM542 306.15h2v5.3h-2zM562 306.15h2v5.3h-2zM576 306.15h4v5.3h-4zM476 311.45h2v5.3h-2zM484 316.75h2v5.3h-2zM496 316.75h2v5.3h-2zM476 322.05h2v5.3h-2zM492 322.05h2v5.3h-2zM500 322.05h2v5.3h-2zM584 322.05h2v5.3h-2zM612 322.05h2v5.3h-2zM518 327.35h2v2.65h-2zM584 327.35h2v2.65h-2z"/>
<path fill="#00e5ff" d="M478 46.45h2v5.3h-2zM486 46.45h2v5.3h-2zM532 46.45h2v5.3h-2zM494 51.75h2v5.3h-2zM506 51.75h2v5.3h-2zM538 51.75h2v5.3h-2zM562 51.75h2v5.3h-2zM570 51.75h2v5.3h-2zM586 51.75h2v5.3h-2zM600 51.75h2v5.3h-2zM526 57.05h4v5.3h-4zM536 57.05h2v5.3h-2zM542 57.05h2v5.3h-2zM566 57.05h2v5.3h-2zM578 57.05h2v5.3h-2zM582 57.05h2v5.3h-2zM596 57.05h2v5.3h-2zM602 57.05h2v5.3h-2zM606 57.05h2v5.3h-2zM616 57.05h1.3v5.3h-1.3zM476 62.35h2v5.3h-2zM500 62.35h2v5.3h-2zM542 62.35h2v5.3h-2zM548 62.35h2v5.3h-2zM556 62.35h4v5.3h-4zM568 62.35h2v5.3h-2zM582 62.35h2v5.3h-2zM606 62.35h2v5.3h-2zM522 67.65h2v5.3h-2zM554 67.65h4v5.3h-4zM566 67.65h2v5.3h-2zM576 67.65h2v5.3h-2zM588 67.65h2v5.3h-2zM592 67.65h2v5.3h-2zM608 67.65h4v5.3h-4zM510 72.95h2v5.3h-2zM530 72.95h4v5.3h-4zM558 72.95h2v5.3h-2zM564 72.95h2v5.3h-2zM586 72.95h2v5.3h-2zM606 72.95h2v5.3h-2zM506 78.25h2v5.3h-2zM520 78.25h4v5.3h-4zM548 78.25h4v5.3h-4zM612 78.25h2v5.3h-2zM476 83.55h2v5.3h-2zM492 83.55h2v5.3h-2zM502 83.55h2v5.3h-2zM542 83.55h2v5.3h-2zM584 83.55h2v5.3h-2zM606 83.55h2v5.3h-2zM478 88.85h2v5.3h-2zM496 88.85h2v5.3h-2zM510 88.85h2v5.3h-2zM568 88.85h2v5.3h-2zM578 88.85h2v5.3h-2zM584 88.85h2v5.3h-2zM484 94.15h2v5.3h-2zM516 94.15h2v5.3h-2zM614 94.15h2v5.3h-2zM510 99.45h2v5.3h-2zM518 99.45h2v5.3h-2zM532 99.45h2v5.3h-2zM542 99.45h2v5.3h-2zM562 99.45h2v5.3h-2zM486 104.75h2v5.3h-2zM510 104.75h2v5.3h-2zM536 104.75h2v5.3h-2zM540 104.75h2v5.3h-2zM546 104.75h2v5.3h-2zM558 104.75h2v5.3h-2zM574 104.75h2v5.3h-2zM512 110.05h4v5.3h-4zM522 110.05h2v5.3h-2zM544 110.05h2v5.3h-2zM604 110.05h4v5.3h-4zM482 115.35h2v5.3h-2zM494 115.35h2v5.3h-2zM500 115.35h2v5.3h-2zM516 115.35h2v5.3h-2zM526 115.35h2v5.3h-2zM532 115.35h2v5.3h-2zM552 115.35h2v5.3h-2zM482 120.65h2v5.3h-2zM494 120.65h2v5.3h-2zM548 120.65h2v5.3h-2zM524 125.95h2v5.3h-2zM540 125.95h2v5.3h-2zM570 125.95h2v5.3h-2zM612 125.95h2v5.3h-2zM488 131.25h2v5.3h-2zM496 131.25h2v5.3h-2zM500 131.25h2v5.3h-2zM524 131.25h2v5.3h-2zM540 131.25h2v5.3h-2zM488 136.55h2v5.3h-2zM492 136.55h2v5.3h-2zM514 136.55h2v5.3h-2zM544 136.55h2v5.3h-2zM574 136.55h2v5.3h-2zM594 136.55h2v5.3h-2zM608 136.55h2v5.3h-2zM612 136.55h2v5.3h-2zM480 141.85h2v5.3h-2zM498 141.85h2v5.3h-2zM508 141.85h2v5.3h-2zM534 141.85h2v5.3h-2zM570 141.85h2v5.3h-2zM478 147.15h2v5.3h-2zM486 147.15h2v5.3h-2zM494 147.15h2v5.3h-2zM508 147.15h4v5.3h-4zM542 147.15h2v5.3h-2zM562 147.15h2v5.3h-2zM570 147.15h2v5.3h-2zM598 147.15h2v5.3h-2zM484 152.45h2v5.3h-2zM490 152.45h2v5.3h-2zM512 152.45h2v5.3h-2zM526 152.45h2v5.3h-2zM538 152.45h2v5.3h-2zM594 152.45h2v5.3h-2zM612 152.45h2v5.3h-2zM486 157.75h4v5.3h-4zM484 163.05h2v5.3h-2zM488 163.05h2v5.3h-2zM498 163.05h2v5.3h-2zM506 163.05h2v5.3h-2zM518 163.05h2v5.3h-2zM586 163.05h2v5.3h-2zM606 163.05h2v5.3h-2zM612 163.05h2v5.3h-2zM512 168.35h2v5.3h-2zM526 168.35h2v5.3h-2zM568 168.35h4v5.3h-4zM596 168.35h2v5.3h-2zM612 168.35h2v5.3h-2zM476 173.65h4v5.3h-4zM482 173.65h2v5.3h-2zM500 173.65h2v5.3h-2zM536 173.65h2v5.3h-2zM604 173.65h2v5.3h-2zM478 178.95h2v5.3h-2zM526 178.95h2v5.3h-2zM570 178.95h2v5.3h-2zM478 184.25h2v5.3h-2zM510 184.25h2v5.3h-2zM514 184.25h2v5.3h-2zM500 189.55h2v5.3h-2zM556 189.55h2v5.3h-2zM570 189.55h2v5.3h-2zM592 189.55h2v5.3h-2zM478 194.85h2v5.3h-2zM500 194.85h2v5.3h-2zM514 194.85h2v5.3h-2zM528 194.85h2v5.3h-2zM592 194.85h2v5.3h-2zM598 194.85h2v5.3h-2zM500 200.15h4v5.3h-4zM562 200.15h2v5.3h-2zM576 200.15h4v5.3h-4zM482 205.45h2v5.3h-2zM490 205.45h2v5.3h-2zM512 205.45h4v5.3h-4zM546 205.45h2v5.3h-2zM614 205.45h2v5.3h-2zM476 210.75h2v5.3h-2zM496 210.75h2v5.3h-2zM546 210.75h2v5.3h-2zM590 210.75h2v5.3h-2zM484 216.05h2v5.3h-2zM560 216.05h2v5.3h-2zM590 216.05h2v5.3h-2zM610 216.05h2v5.3h-2zM614 216.05h2v5.3h-2zM478 221.35h2v5.3h-2zM614 221.35h2v5.3h-2zM476 226.65h4v5.3h-4zM492 226.65h2v5.3h-2zM502 226.65h2v5.3h-2zM512 226.65h2v5.3h-2zM524 226.65h2v5.3h-2zM538 226.65h2v5.3h-2zM558 226.65h2v5.3h-2zM480 231.95h2v5.3h-2zM492 231.95h2v5.3h-2zM524 231.95h2v5.3h-2zM542 231.95h2v5.3h-2zM590 231.95h2v5.3h-2zM480 237.25h2v5.3h-2zM500 237.25h2v5.3h-2zM530 237.25h2v5.3h-2zM546 237.25h2v5.3h-2zM606 237.25h2v5.3h-2zM614 237.25h2v5.3h-2zM480 242.55h2v5.3h-2zM484 242.55h2v5.3h-2zM488 242.55h2v5.3h-2zM576 242.55h2v5.3h-2zM580 242.55h2v5.3h-2zM486 247.85h2v5.3h-2zM520 247.85h2v5.3h-2zM576 247.85h2v5.3h-2zM580 247.85h2v5.3h-2zM598 247.85h2v5.3h-2zM610 247.85h2v5.3h-2zM506 253.15h2v5.3h-2zM520 253.15h2v5.3h-2zM546 253.15h2v5.3h-2zM612 253.15h2v5.3h-2zM490 258.45h2v5.3h-2zM484 263.75h2v5.3h-2zM490 263.75h2v5.3h-2zM536 263.75h2v5.3h-2zM544 263.75h2v5.3h-2zM566 263.75h2v5.3h-2zM500 269.05h2v5.3h-2zM548 269.05h2v5.3h-2zM610 269.05h2v5.3h-2zM536 274.35h2v5.3h-2zM552 274.35h4v5.3h-4zM494 279.65h2v5.3h-2zM494 284.95h2v5.3h-2zM538 284.95h2v5.3h-2zM542 284.95h2v5.3h-2zM554 284.95h2v5.3h-2zM576 284.95h2v5.3h-2zM484 290.25h4v5.3h-4zM514 290.25h2v5.3h-2zM518 290.25h2v5.3h-2zM554 290.25h2v5.3h-2zM490 295.55h4v5.3h-4zM500 295.55h2v5.3h-2zM482 300.85h2v5.3h-2zM490 300.85h2v5.3h-2zM494 300.85h2v5.3h-2zM502 300.85h2v5.3h-2zM526 300.85h2v5.3h-2zM544 300.85h2v5.3h-2zM552 300.85h2v5.3h-2zM482 306.15h2v5.3h-2zM492 306.15h2v5.3h-2zM496 306.15h2v5.3h-2zM526 306.15h2v5.3h-2zM560 306.15h2v5.3h-2zM598 306.15h2v5.3h-2zM482 311.45h2v5.3h-2zM486 311.45h2v5.3h-2zM558 311.45h2v5.3h-2zM476 316.75h2v5.3h-2zM504 316.75h2v5.3h-2zM594 322.05h2v5.3h-2zM476 327.35h2v2.65h-2zM480 327.35h2v2.65h-2zM532 327.35h2v2.65h-2zM538 327.35h2v2.65h-2zM558 327.35h2v2.65h-2zM570 327.35h2v2.65h-2zM578 327.35h2v2.65h-2z"/>
<path fill="#00f5ff" d="M540 46.45h2v5.3h-2zM476 51.75h2v5.3h-2zM482 51.75h2v5.3h-2zM496 51.75h2v5.3h-2zM508 51.75h2v5.3h-2zM512 51.75h2v5.3h-2zM536 51.75h2v5.3h-2zM540 51.75h2v5.3h-2zM552 51.75h2v5.3h-2zM556 51.75h2v5.3h-2zM508 57.05h2v5.3h-2zM552 57.05h2v5.3h-2zM564 57.05h2v5.3h-2zM608 57.05h2v5.3h-2zM484 62.35h2v5.3h-2zM496 62.35h2v5.3h-2zM508 62.35h2v5.3h-2zM524 62.35h2v5.3h-2zM544 62.35h2v5.3h-2zM560 62.35h2v5.3h-2zM584 62.35h2v5.3h-2zM538 67.65h2v5.3h-2zM550 67.65h2v5.3h-2zM586 67.65h2v5.3h-2zM492 72.95h4v5.3h-4zM508 72.95h2v5.3h-2zM554 72.95h2v5.3h-2zM570 72.95h2v5.3h-2zM582 72.95h4v5.3h-4zM496 78.25h2v5.3h-2zM512 78.25h2v5.3h-2zM526 78.25h4v5.3h-4zM560 78.25h2v5.3h-2zM566 78.25h2v5.3h-2zM586 78.25h2v5.3h-2zM592 78.25h2v5.3h-2zM598 78.25h2v5.3h-2zM606 78.25h2v5.3h-2zM538 83.55h4v5.3h-4zM546 83.55h2v5.3h-2zM610 83.55h2v5.3h-2zM482 88.85h2v5.3h-2zM526 88.85h2v5.3h-2zM574 88.85h4v5.3h-4zM478 94.15h2v5.3h-2zM482 94.15h2v5.3h-2zM504 94.15h2v5.3h-2zM510 94.15h2v5.3h-2zM518 94.15h2v5.3h-2zM540 94.15h4v5.3h-4zM546 94.15h2v5.3h-2zM566 94.15h4v5.3h-4zM574 94.15h2v5.3h-2zM584 94.15h2v5.3h-2zM606 94.15h2v5.3h-2zM498 99.45h2v5.3h-2zM514 99.45h2v5.3h-2zM520 99.45h2v5.3h-2zM482 104.75h2v5.3h-2zM492 104.75h4v5.3h-4zM520 104.75h2v5.3h-2zM528 104.75h2v5.3h-2zM532 104.75h2v5.3h-2zM544 104.75h2v5.3h-2zM554 104.75h2v5.3h-2zM478 110.05h2v5.3h-2zM488 110.05h2v5.3h-2zM492 110.05h2v5.3h-2zM502 110.05h2v5.3h-2zM506 110.05h2v5.3h-2zM516 110.05h2v5.3h-2zM536 110.05h2v5.3h-2zM542 110.05h2v5.3h-2zM576 110.05h2v5.3h-2zM610 110.05h2v5.3h-2zM502 115.35h2v5.3h-2zM506 115.35h2v5.3h-2zM560 115.35h2v5.3h-2zM568 115.35h2v5.3h-2zM594 115.35h2v5.3h-2zM554 120.65h4v5.3h-4zM592 120.65h2v5.3h-2zM518 125.95h2v5.3h-2zM494 131.25h2v5.3h-2zM504 131.25h2v5.3h-2zM514 131.25h2v5.3h-2zM528 131.25h2v5.3h-2zM538 131.25h2v5.3h-2zM484 136.55h2v5.3h-2zM490 136.55h2v5.3h-2zM494 136.55h2v5.3h-2zM502 136.55h2v5.3h-2zM482 141.85h6v5.3h-6zM490 141.85h2v5.3h-2zM562 141.85h2v5.3h-2zM502 147.15h2v5.3h-2zM612 147.15h2v5.3h-2zM478 152.45h2v5.3h-2zM494 152.45h2v5.3h-2zM514 157.75h4v5.3h-4zM538 163.05h2v5.3h-2zM552 163.05h2v5.3h-2zM570 163.05h2v5.3h-2zM594 163.05h2v5.3h-2zM494 168.35h2v5.3h-2zM534 168.35h2v5.3h-2zM554 168.35h2v5.3h-2zM484 173.65h2v5.3h-2zM526 173.65h2v5.3h-2zM538 173.65h2v5.3h-2zM544 173.65h2v5.3h-2zM484 178.95h2v5.3h-2zM490 178.95h2v5.3h-2zM514 178.95h2v5.3h-2zM518 178.95h2v5.3h-2zM558 178.95h2v5.3h-2zM534 184.25h2v5.3h-2zM554 184.25h2v5.3h-2zM480 189.55h2v5.3h-2zM490 189.55h2v5.3h-2zM504 189.55h2v5.3h-2zM526 189.55h2v5.3h-2zM532 189.55h2v5.3h-2zM546 194.85h2v5.3h-2zM560 194.85h4v5.3h-4zM476 200.15h4v5.3h-4zM520 200.15h2v5.3h-2zM532 200.15h2v5.3h-2zM480 205.45h2v5.3h-2zM502 205.45h2v5.3h-2zM526 205.45h2v5.3h-2zM560 205.45h2v5.3h-2zM576 205.45h2v5.3h-2zM492 210.75h2v5.3h-2zM530 210.75h2v5.3h-2zM558 221.35h2v5.3h-2zM484 226.65h2v5.3h-2zM530 231.95h2v5.3h-2zM548 231.95h2v5.3h-2zM580 231.95h2v5.3h-2zM478 237.25h2v5.3h-2zM484 237.25h4v5.3h-4zM558 237.25h2v5.3h-2zM524 242.55h2v5.3h-2zM540 242.55h2v5.3h-2zM568 242.55h2v5.3h-2zM606 242.55h2v5.3h-2zM490 247.85h2v5.3h-2zM606 247.85h2v5.3h-2zM480 253.15h2v5.3h-2zM490 253.15h2v5.3h-2zM516 253.15h2v5.3h-2zM524 253.15h2v5.3h-2zM544 253.15h2v5.3h-2zM578 253.15h2v5.3h-2zM524 258.45h2v5.3h-2zM538 258.45h2v5.3h-2zM550 258.45h2v5.3h-2zM610 258.45h2v5.3h-2zM504 263.75h2v5.3h-2zM546 263.75h2v5.3h-2zM588 263.75h2v5.3h-2zM616 263.75h1.3v5.3h-1.3zM494 269.05h2v5.3h-2zM498 269.05h2v5.3h-2zM516 269.05h2v5.3h-2zM546 269.05h2v5.3h-2zM502 274.35h2v5.3h-2zM544 279.65h2v5.3h-2zM484 284.95h2v5.3h-2zM560 284.95h4v5.3h-4zM500 290.25h2v5.3h-2zM610 295.55h2v5.3h-2zM478 300.85h4v5.3h-4zM562 300.85h2v5.3h-2zM490 306.15h2v5.3h-2zM520 306.15h2v5.3h-2zM484 311.45h2v5.3h-2zM504 311.45h2v5.3h-2zM516 311.45h2v5.3h-2zM584 311.45h2v5.3h-2zM488 316.75h2v5.3h-2zM494 316.75h2v5.3h-2zM524 316.75h2v5.3h-2zM534 316.75h2v5.3h-2zM496 327.35h2v2.65h-2zM520 327.35h2v2.65h-2zM580 327.35h2v2.65h-2z"/>
<path fill="#06fff9" d="M500 51.75h2v5.3h-2zM610 51.75h2v5.3h-2zM482 57.05h2v5.3h-2zM492 57.05h2v5.3h-2zM506 57.05h2v5.3h-2zM514 57.05h2v5.3h-2zM548 57.05h2v5.3h-2zM560 57.05h4v5.3h-4zM594 57.05h2v5.3h-2zM486 62.35h4v5.3h-4zM506 62.35h2v5.3h-2zM512 62.35h2v5.3h-2zM516 62.35h2v5.3h-2zM520 62.35h2v5.3h-2zM536 62.35h2v5.3h-2zM540 62.35h2v5.3h-2zM554 62.35h2v5.3h-2zM506 67.65h2v5.3h-2zM546 67.65h2v5.3h-2zM568 67.65h2v5.3h-2zM596 67.65h2v5.3h-2zM482 72.95h6v5.3h-6zM496 72.95h2v5.3h-2zM512 72.95h2v5.3h-2zM544 72.95h2v5.3h-2zM548 72.95h4v5.3h-4zM560 72.95h2v5.3h-2zM566 72.95h2v5.3h-2zM588 72.95h2v5.3h-2zM486 78.25h2v5.3h-2zM524 78.25h2v5.3h-2zM542 78.25h2v5.3h-2zM546 78.25h2v5.3h-2zM608 78.25h2v5.3h-2zM508 83.55h2v5.3h-2zM526 83.55h2v5.3h-2zM544 83.55h2v5.3h-2zM566 83.55h2v5.3h-2zM578 83.55h4v5.3h-4zM596 83.55h2v5.3h-2zM512 88.85h2v5.3h-2zM522 88.85h2v5.3h-2zM554 88.85h2v5.3h-2zM598 88.85h2v5.3h-2zM480 94.15h2v5.3h-2zM514 94.15h2v5.3h-2zM538 94.15h2v5.3h-2zM562 94.15h2v5.3h-2zM594 94.15h2v5.3h-2zM494 99.45h2v5.3h-2zM502 99.45h2v5.3h-2zM506 99.45h2v5.3h-2zM528 99.45h2v5.3h-2zM506 104.75h4v5.3h-4zM524 110.05h6v5.3h-6zM582 110.05h2v5.3h-2zM614 110.05h2v5.3h-2zM478 115.35h2v5.3h-2zM488 115.35h2v5.3h-2zM476 120.65h2v5.3h-2zM500 120.65h2v5.3h-2zM532 120.65h4v5.3h-4zM502 125.95h2v5.3h-2zM506 125.95h2v5.3h-2zM516 125.95h2v5.3h-2zM498 131.25h2v5.3h-2zM480 136.55h4v5.3h-4zM516 136.55h4v5.3h-4zM554 136.55h2v5.3h-2zM598 136.55h2v5.3h-2zM492 141.85h2v5.3h-2zM506 141.85h2v5.3h-2zM514 141.85h2v5.3h-2zM540 141.85h2v5.3h-2zM554 141.85h2v5.3h-2zM578 141.85h2v5.3h-2zM538 147.15h2v5.3h-2zM544 147.15h2v5.3h-2zM548 147.15h2v5.3h-2zM482 152.45h2v5.3h-2zM508 152.45h2v5.3h-2zM514 152.45h2v5.3h-2zM506 157.75h2v5.3h-2zM534 157.75h2v5.3h-2zM542 157.75h2v5.3h-2zM512 163.05h2v5.3h-2zM544 163.05h2v5.3h-2zM558 163.05h2v5.3h-2zM504 168.35h2v5.3h-2zM476 178.95h2v5.3h-2zM494 178.95h2v5.3h-2zM546 178.95h2v5.3h-2zM568 178.95h2v5.3h-2zM476 189.55h2v5.3h-2zM512 189.55h2v5.3h-2zM524 189.55h2v5.3h-2zM476 194.85h2v5.3h-2zM524 194.85h2v5.3h-2zM524 200.15h4v5.3h-4zM558 205.45h2v5.3h-2zM480 210.75h2v5.3h-2zM492 216.05h2v5.3h-2zM494 221.35h2v5.3h-2zM502 221.35h2v5.3h-2zM528 226.65h2v5.3h-2zM476 237.25h2v5.3h-2zM580 237.25h2v5.3h-2zM476 247.85h2v5.3h-2zM480 247.85h2v5.3h-2zM484 247.85h2v5.3h-2zM496 263.75h2v5.3h-2zM518 274.35h2v5.3h-2zM538 274.35h2v5.3h-2zM544 274.35h2v5.3h-2zM538 279.65h2v5.3h-2zM480 284.95h4v5.3h-4zM544 284.95h2v5.3h-2zM490 290.25h2v5.3h-2zM544 290.25h2v5.3h-2zM478 295.55h2v5.3h-2zM586 295.55h2v5.3h-2zM504 300.85h2v5.3h-2zM542 300.85h2v5.3h-2zM514 311.45h2v5.3h-2zM560 311.45h2v5.3h-2zM478 316.75h2v5.3h-2zM560 322.05h2v5.3h-2z"/>
<path fill="#16ffe9" d="M478 51.75h2v5.3h-2zM486 51.75h2v5.3h-2zM494 57.05h4v5.3h-4zM504 57.05h2v5.3h-2zM540 57.05h2v5.3h-2zM550 57.05h2v5.3h-2zM556 57.05h2v5.3h-2zM570 57.05h2v5.3h-2zM478 62.35h4v5.3h-4zM492 62.35h2v5.3h-2zM538 62.35h2v5.3h-2zM612 62.35h2v5.3h-2zM482 67.65h4v5.3h-4zM490 67.65h4v5.3h-4zM526 67.65h2v5.3h-2zM558 67.65h2v5.3h-2zM570 67.65h2v5.3h-2zM584 67.65h2v5.3h-2zM504 72.95h4v5.3h-4zM552 72.95h2v5.3h-2zM484 78.25h2v5.3h-2zM498 78.25h2v5.3h-2zM508 78.25h2v5.3h-2zM580 78.25h2v5.3h-2zM500 83.55h2v5.3h-2zM568 83.55h2v5.3h-2zM494 88.85h2v5.3h-2zM528 88.85h2v5.3h-2zM490 99.45h2v5.3h-2zM516 99.45h2v5.3h-2zM478 104.75h2v5.3h-2zM502 104.75h2v5.3h-2zM516 104.75h2v5.3h-2zM522 104.75h2v5.3h-2zM480 110.05h4v5.3h-4zM494 110.05h2v5.3h-2zM538 110.05h2v5.3h-2zM490 115.35h2v5.3h-2zM496 115.35h2v5.3h-2zM518 115.35h2v5.3h-2zM548 115.35h2v5.3h-2zM480 120.65h2v5.3h-2zM612 120.65h2v5.3h-2zM476 136.55h2v5.3h-2zM536 136.55h4v5.3h-4zM476 141.85h2v5.3h-2zM488 141.85h2v5.3h-2zM494 141.85h2v5.3h-2zM556 141.85h2v5.3h-2zM476 147.15h2v5.3h-2zM480 147.15h2v5.3h-2zM506 147.15h2v5.3h-2zM514 147.15h2v5.3h-2zM554 157.75h2v5.3h-2zM476 163.05h2v5.3h-2zM490 163.05h2v5.3h-2zM514 163.05h2v5.3h-2zM526 163.05h2v5.3h-2zM524 178.95h2v5.3h-2zM534 178.95h2v5.3h-2zM476 184.25h2v5.3h-2zM480 184.25h2v5.3h-2zM484 184.25h2v5.3h-2zM494 189.55h2v5.3h-2zM562 189.55h2v5.3h-2zM482 194.85h2v5.3h-2zM510 194.85h2v5.3h-2zM570 194.85h2v5.3h-2zM480 200.15h2v5.3h-2zM546 200.15h2v5.3h-2zM484 205.45h2v5.3h-2zM494 210.75h2v5.3h-2zM524 221.35h2v5.3h-2zM494 231.95h2v5.3h-2zM566 258.45h2v5.3h-2zM534 263.75h2v5.3h-2zM484 269.05h2v5.3h-2zM536 269.05h2v5.3h-2zM516 274.35h2v5.3h-2zM542 274.35h2v5.3h-2zM550 284.95h2v5.3h-2zM504 295.55h2v5.3h-2zM494 322.05h2v5.3h-2z"/>
<path fill="#26ffd9" d="M498 46.45h2v5.3h-2zM480 51.75h2v5.3h-2zM528 51.75h2v5.3h-2zM500 57.05h2v5.3h-2zM518 57.05h2v5.3h-2zM546 57.05h2v5.3h-2zM494 62.35h2v5.3h-2zM514 62.35h2v5.3h-2zM518 62.35h2v5.3h-2zM480 67.65h2v5.3h-2zM496 67.65h2v5.3h-2zM524 67.65h2v5.3h-2zM544 67.65h2v5.3h-2zM552 67.65h2v5.3h-2zM562 67.65h2v5.3h-2zM488 72.95h2v5.3h-2zM498 72.95h4v5.3h-4zM516 72.95h2v5.3h-2zM520 72.95h2v5.3h-2zM526 72.95h2v5.3h-2zM536 72.95h2v5.3h-2zM476 78.25h2v5.3h-2zM490 78.25h2v5.3h-2zM514 78.25h4v5.3h-4zM584 78.25h2v5.3h-2zM512 83.55h2v5.3h-2zM516 83.55h2v5.3h-2zM574 83.55h2v5.3h-2zM592 83.55h2v5.3h-2zM480 88.85h2v5.3h-2zM516 88.85h2v5.3h-2zM488 94.15h2v5.3h-2zM544 99.45h2v5.3h-2zM484 104.75h2v5.3h-2zM476 110.05h2v5.3h-2zM490 110.05h2v5.3h-2zM496 110.05h2v5.3h-2zM548 110.05h2v5.3h-2zM478 120.65h2v5.3h-2zM482 131.25h2v5.3h-2zM548 131.25h2v5.3h-2zM504 136.55h2v5.3h-2zM516 141.85h2v5.3h-2zM516 147.15h2v5.3h-2zM490 157.75h2v5.3h-2zM494 157.75h2v5.3h-2zM612 157.75h2v5.3h-2zM490 173.65h2v5.3h-2zM480 178.95h2v5.3h-2zM500 178.95h2v5.3h-2zM512 194.85h2v5.3h-2zM580 200.15h2v5.3h-2zM548 216.05h2v5.3h-2zM560 221.35h2v5.3h-2zM580 221.35h2v5.3h-2zM520 231.95h2v5.3h-2zM478 242.55h2v5.3h-2zM484 253.15h2v5.3h-2zM514 258.45h2v5.3h-2zM484 274.35h2v5.3h-2zM502 295.55h2v5.3h-2zM476 306.15h2v5.3h-2zM494 306.15h2v5.3h-2zM556 327.35h2v2.65h-2z"/>
<path fill="#37ffc8" d="M484 57.05h4v5.3h-4zM498 57.05h2v5.3h-2zM490 62.35h2v5.3h-2zM502 62.35h4v5.3h-4zM522 62.35h2v5.3h-2zM476 67.65h2v5.3h-2zM488 67.65h2v5.3h-2zM490 72.95h2v5.3h-2zM478 78.25h2v5.3h-2zM488 78.25h2v5.3h-2zM502 78.25h2v5.3h-2zM490 83.55h2v5.3h-2zM506 83.55h2v5.3h-2zM514 83.55h2v5.3h-2zM486 88.85h2v5.3h-2zM494 94.15h2v5.3h-2zM486 99.45h2v5.3h-2zM518 104.75h2v5.3h-2zM538 104.75h2v5.3h-2zM480 125.95h2v5.3h-2zM480 131.25h2v5.3h-2zM612 131.25h2v5.3h-2zM534 163.05h2v5.3h-2zM500 184.25h2v5.3h-2zM480 194.85h2v5.3h-2zM494 327.35h2v2.65h-2z"/>
<path fill="#47ffb8" d="M478 57.05h4v5.3h-4zM482 62.35h2v5.3h-2zM498 62.35h2v5.3h-2zM494 67.65h2v5.3h-2zM500 67.65h6v5.3h-6zM512 67.65h2v5.3h-2zM520 67.65h2v5.3h-2zM542 67.65h2v5.3h-2zM612 67.65h2v5.3h-2zM502 72.95h2v5.3h-2zM486 83.55h2v5.3h-2zM500 88.85h2v5.3h-2zM476 94.15h2v5.3h-2zM494 200.15h2v5.3h-2zM484 258.45h2v5.3h-2z"/>
<path fill="#57ffa8" d="M490 57.05h2v5.3h-2zM520 57.05h2v5.3h-2zM478 67.65h2v5.3h-2zM486 67.65h2v5.3h-2zM514 67.65h2v5.3h-2zM542 72.95h2v5.3h-2zM500 78.25h2v5.3h-2zM488 83.55h2v5.3h-2zM504 83.55h2v5.3h-2zM488 88.85h2v5.3h-2zM486 94.15h2v5.3h-2zM516 120.65h2v5.3h-2zM516 131.25h2v5.3h-2zM490 168.35h2v5.3h-2z"/>
<path fill="#67ff98" d="M508 67.65h2v5.3h-2zM476 72.95h2v5.3h-2zM480 72.95h2v5.3h-2zM514 72.95h2v5.3h-2zM478 83.55h2v5.3h-2zM476 99.45h2v5.3h-2z"/>
<path fill="#77ff88" d="M498 51.75h2v5.3h-2zM480 78.25h2v5.3h-2zM480 83.55h2v5.3h-2zM480 104.75h2v5.3h-2z"/>
<path fill="#88ff77" d="M478 72.95h2v5.3h-2zM480 115.35h2v5.3h-2z"/>
<path fill="#98ff67" d="M475 263.75h1v5.3h-1zM475 300.85h1v5.3h-1zM475 311.45h1v5.3h-1zM475 322.05h1v5.3h-1z"/>
<path fill="#a8ff57" d="M475 41.15h1v5.3h-1zM475 194.85h1v5.3h-1zM475 221.35h1v5.3h-1zM475 226.65h1v5.3h-1zM475 247.85h1v5.3h-1zM475 253.15h1v5.3h-1zM475 269.05h1v5.3h-1zM475 290.25h1v5.3h-1zM475 306.15h1v5.3h-1zM475 327.35h1v2.65h-1z"/>
<path fill="#b8ff47" d="M475 51.75h1v5.3h-1zM475 57.05h1v5.3h-1zM475 67.65h1v5.3h-1zM475 78.25h1v5.3h-1zM475 168.35h1v5.3h-1zM475 173.65h1v5.3h-1zM475 200.15h1v5.3h-1zM475 205.45h1v5.3h-1zM475 210.75h1v5.3h-1zM475 216.05h1v5.3h-1zM475 231.95h1v5.3h-1zM475 242.55h1v5.3h-1zM475 274.35h1v5.3h-1zM475 279.65h1v5.3h-1zM475 284.95h1v5.3h-1zM475 295.55h1v5.3h-1zM475 316.75h1v5.3h-1z"/>
<path fill="#c8ff37" d="M475 46.45h1v5.3h-1zM475 62.35h1v5.3h-1zM475 83.55h1v5.3h-1zM475 110.05h1v5.3h-1zM475 115.35h1v5.3h-1zM475 120.65h1v5.3h-1zM475 136.55h1v5.3h-1zM475 147.15h1v5.3h-1zM475 163.05h1v5.3h-1zM475 178.95h1v5.3h-1zM475 184.25h1v5.3h-1zM475 189.55h1v5.3h-1zM475 237.25h1v5.3h-1zM475 258.45h1v5.3h-1z"/>
<path fill="#d9ff26" d="M475 72.95h1v5.3h-1zM475 88.85h1v5.3h-1zM475 94.15h1v5.3h-1zM475 99.45h1v5.3h-1zM475 104.75h1v5.3h-1zM475 125.95h1v5.3h-1zM475 131.25h1v5.3h-1zM475 152.45h1v5.3h-1zM475 157.75h1v5.3h-1z"/>
<path fill="#e9ff16" d="M475 141.85h1v5.3h-1z"/></g>
<rect x="622" y="12" width="8.5" height="318" fill="url(#jetg)"/>
<text x="109" y="8" font-weight="bold" font-size="8.6" text-anchor="middle" fill="#000">a) Generic bee emergence vibration</text>
<text x="327.5" y="8" font-weight="bold" font-size="8.6" text-anchor="middle" fill="#000">b) Generic mite walking vibration</text>
<text x="546.15" y="8" font-weight="bold" font-size="8.6" text-anchor="middle" fill="#000">c) Generic background vibration</text>
<text x="34.9" y="15.6" text-anchor="end" font-size="9.75">0</text>
<text x="34.9" y="55.35" text-anchor="end" font-size="9.75">500</text>
<text x="34.9" y="95.1" text-anchor="end" font-size="9.75">1000</text>
<text x="34.9" y="134.85" text-anchor="end" font-size="9.75">1500</text>
<text x="34.9" y="174.6" text-anchor="end" font-size="9.75">2000</text>
<text x="34.9" y="214.35" text-anchor="end" font-size="9.75">2500</text>
<text x="34.9" y="254.1" text-anchor="end" font-size="9.75">3000</text>
<text x="34.9" y="293.85" text-anchor="end" font-size="9.75">3500</text>
<text x="34.9" y="333.6" text-anchor="end" font-size="9.75">4000</text>
<text x="38" y="342.9" text-anchor="middle" font-size="9.5">0</text>
<text x="91.42" y="342.9" text-anchor="middle" font-size="9.5">50</text>
<text x="144.85" y="342.9" text-anchor="middle" font-size="9.5">100</text>
<text x="108.7" y="357" text-anchor="middle" font-size="10.4" textLength="111.5" lengthAdjust="spacingAndGlyphs">Spectral repetition (Hz)</text>
<path d="M38 51.75h2.6M180 51.75h-2.6M38 91.5h2.6M180 91.5h-2.6M38 131.25h2.6M180 131.25h-2.6M38 171h2.6M180 171h-2.6M38 210.75h2.6M180 210.75h-2.6M38 250.5h2.6M180 250.5h-2.6M38 290.25h2.6M180 290.25h-2.6M91.42 330v-2.6M91.42 12v2.6M144.85 330v-2.6M144.85 12v2.6" stroke="#262626" stroke-width="0.7" stroke-opacity="0.8" fill="none"/>
<path d="M38 329.6H180" stroke="#262626" stroke-width="0.8" stroke-opacity="0.6" fill="none"/>
<text x="196.5" y="54" font-size="9.35">10<tspan font-size="7.6" dy="-4.1">-3</tspan></text>
<text x="196.5" y="122" font-size="9.35">10<tspan font-size="7.6" dy="-4.1">-4</tspan></text>
<text x="196.5" y="190" font-size="9.35">10<tspan font-size="7.6" dy="-4.1">-5</tspan></text>
<text x="196.5" y="258" font-size="9.35">10<tspan font-size="7.6" dy="-4.1">-6</tspan></text>
<text x="196.5" y="326" font-size="9.35">10<tspan font-size="7.6" dy="-4.1">-7</tspan></text>
<path d="M193.1 49.5h-2.4M193.1 29.03h-1.4M193.1 17.06h-1.4M193.1 117.5h-2.4M193.1 97.03h-1.4M193.1 85.06h-1.4M193.1 76.56h-1.4M193.1 69.97h-1.4M193.1 64.59h-1.4M193.1 60.03h-1.4M193.1 56.09h-1.4M193.1 52.61h-1.4M193.1 185.5h-2.4M193.1 165.03h-1.4M193.1 153.06h-1.4M193.1 144.56h-1.4M193.1 137.97h-1.4M193.1 132.59h-1.4M193.1 128.03h-1.4M193.1 124.09h-1.4M193.1 120.61h-1.4M193.1 253.5h-2.4M193.1 233.03h-1.4M193.1 221.06h-1.4M193.1 212.56h-1.4M193.1 205.97h-1.4M193.1 200.59h-1.4M193.1 196.03h-1.4M193.1 192.09h-1.4M193.1 188.61h-1.4M193.1 321.5h-2.4M193.1 301.03h-1.4M193.1 289.06h-1.4M193.1 280.56h-1.4M193.1 273.97h-1.4M193.1 268.59h-1.4M193.1 264.03h-1.4M193.1 260.09h-1.4M193.1 256.61h-1.4" stroke="#262626" stroke-width="0.6" fill="none"/>
<text x="253.3" y="15.6" text-anchor="end" font-size="9.75">0</text>
<text x="253.3" y="55.35" text-anchor="end" font-size="9.75">500</text>
<text x="253.3" y="95.1" text-anchor="end" font-size="9.75">1000</text>
<text x="253.3" y="134.85" text-anchor="end" font-size="9.75">1500</text>
<text x="253.3" y="174.6" text-anchor="end" font-size="9.75">2000</text>
<text x="253.3" y="214.35" text-anchor="end" font-size="9.75">2500</text>
<text x="253.3" y="254.1" text-anchor="end" font-size="9.75">3000</text>
<text x="253.3" y="293.85" text-anchor="end" font-size="9.75">3500</text>
<text x="253.3" y="333.6" text-anchor="end" font-size="9.75">4000</text>
<text x="256.4" y="342.9" text-anchor="middle" font-size="9.5">0</text>
<text x="309.82" y="342.9" text-anchor="middle" font-size="9.5">50</text>
<text x="363.25" y="342.9" text-anchor="middle" font-size="9.5">100</text>
<text x="327.2" y="357" text-anchor="middle" font-size="10.4" textLength="111.5" lengthAdjust="spacingAndGlyphs">Spectral repetition (Hz)</text>
<path d="M256.4 51.75h2.6M398.6 51.75h-2.6M256.4 91.5h2.6M398.6 91.5h-2.6M256.4 131.25h2.6M398.6 131.25h-2.6M256.4 171h2.6M398.6 171h-2.6M256.4 210.75h2.6M398.6 210.75h-2.6M256.4 250.5h2.6M398.6 250.5h-2.6M256.4 290.25h2.6M398.6 290.25h-2.6M309.82 330v-2.6M309.82 12v2.6M363.25 330v-2.6M363.25 12v2.6" stroke="#262626" stroke-width="0.7" stroke-opacity="0.8" fill="none"/>
<path d="M256.4 329.6H398.6" stroke="#262626" stroke-width="0.8" stroke-opacity="0.6" fill="none"/>
<text x="415.1" y="54" font-size="9.35">10<tspan font-size="7.6" dy="-4.1">-3</tspan></text>
<text x="415.1" y="122" font-size="9.35">10<tspan font-size="7.6" dy="-4.1">-4</tspan></text>
<text x="415.1" y="190" font-size="9.35">10<tspan font-size="7.6" dy="-4.1">-5</tspan></text>
<text x="415.1" y="258" font-size="9.35">10<tspan font-size="7.6" dy="-4.1">-6</tspan></text>
<text x="415.1" y="326" font-size="9.35">10<tspan font-size="7.6" dy="-4.1">-7</tspan></text>
<path d="M411.7 49.5h-2.4M411.7 29.03h-1.4M411.7 17.06h-1.4M411.7 117.5h-2.4M411.7 97.03h-1.4M411.7 85.06h-1.4M411.7 76.56h-1.4M411.7 69.97h-1.4M411.7 64.59h-1.4M411.7 60.03h-1.4M411.7 56.09h-1.4M411.7 52.61h-1.4M411.7 185.5h-2.4M411.7 165.03h-1.4M411.7 153.06h-1.4M411.7 144.56h-1.4M411.7 137.97h-1.4M411.7 132.59h-1.4M411.7 128.03h-1.4M411.7 124.09h-1.4M411.7 120.61h-1.4M411.7 253.5h-2.4M411.7 233.03h-1.4M411.7 221.06h-1.4M411.7 212.56h-1.4M411.7 205.97h-1.4M411.7 200.59h-1.4M411.7 196.03h-1.4M411.7 192.09h-1.4M411.7 188.61h-1.4M411.7 321.5h-2.4M411.7 301.03h-1.4M411.7 289.06h-1.4M411.7 280.56h-1.4M411.7 273.97h-1.4M411.7 268.59h-1.4M411.7 264.03h-1.4M411.7 260.09h-1.4M411.7 256.61h-1.4" stroke="#262626" stroke-width="0.6" fill="none"/>
<text x="471.9" y="15.6" text-anchor="end" font-size="9.75">0</text>
<text x="471.9" y="55.35" text-anchor="end" font-size="9.75">500</text>
<text x="471.9" y="95.1" text-anchor="end" font-size="9.75">1000</text>
<text x="471.9" y="134.85" text-anchor="end" font-size="9.75">1500</text>
<text x="471.9" y="174.6" text-anchor="end" font-size="9.75">2000</text>
<text x="471.9" y="214.35" text-anchor="end" font-size="9.75">2500</text>
<text x="471.9" y="254.1" text-anchor="end" font-size="9.75">3000</text>
<text x="471.9" y="293.85" text-anchor="end" font-size="9.75">3500</text>
<text x="471.9" y="333.6" text-anchor="end" font-size="9.75">4000</text>
<text x="475" y="342.9" text-anchor="middle" font-size="9.5">0</text>
<text x="528.42" y="342.9" text-anchor="middle" font-size="9.5">50</text>
<text x="581.85" y="342.9" text-anchor="middle" font-size="9.5">100</text>
<text x="545.85" y="357" text-anchor="middle" font-size="10.4" textLength="111.5" lengthAdjust="spacingAndGlyphs">Spectral repetition (Hz)</text>
<path d="M475 51.75h2.6M617.3 51.75h-2.6M475 91.5h2.6M617.3 91.5h-2.6M475 131.25h2.6M617.3 131.25h-2.6M475 171h2.6M617.3 171h-2.6M475 210.75h2.6M617.3 210.75h-2.6M475 250.5h2.6M617.3 250.5h-2.6M475 290.25h2.6M617.3 290.25h-2.6M528.42 330v-2.6M528.42 12v2.6M581.85 330v-2.6M581.85 12v2.6" stroke="#262626" stroke-width="0.7" stroke-opacity="0.8" fill="none"/>
<path d="M475 329.6H617.3" stroke="#262626" stroke-width="0.8" stroke-opacity="0.6" fill="none"/>
<text x="633.9" y="54" font-size="9.35">10<tspan font-size="7.6" dy="-4.1">-3</tspan></text>
<text x="633.9" y="122" font-size="9.35">10<tspan font-size="7.6" dy="-4.1">-4</tspan></text>
<text x="633.9" y="190" font-size="9.35">10<tspan font-size="7.6" dy="-4.1">-5</tspan></text>
<text x="633.9" y="258" font-size="9.35">10<tspan font-size="7.6" dy="-4.1">-6</tspan></text>
<text x="633.9" y="326" font-size="9.35">10<tspan font-size="7.6" dy="-4.1">-7</tspan></text>
<path d="M630.5 49.5h-2.4M630.5 29.03h-1.4M630.5 17.06h-1.4M630.5 117.5h-2.4M630.5 97.03h-1.4M630.5 85.06h-1.4M630.5 76.56h-1.4M630.5 69.97h-1.4M630.5 64.59h-1.4M630.5 60.03h-1.4M630.5 56.09h-1.4M630.5 52.61h-1.4M630.5 185.5h-2.4M630.5 165.03h-1.4M630.5 153.06h-1.4M630.5 144.56h-1.4M630.5 137.97h-1.4M630.5 132.59h-1.4M630.5 128.03h-1.4M630.5 124.09h-1.4M630.5 120.61h-1.4M630.5 253.5h-2.4M630.5 233.03h-1.4M630.5 221.06h-1.4M630.5 212.56h-1.4M630.5 205.97h-1.4M630.5 200.59h-1.4M630.5 196.03h-1.4M630.5 192.09h-1.4M630.5 188.61h-1.4M630.5 321.5h-2.4M630.5 301.03h-1.4M630.5 289.06h-1.4M630.5 280.56h-1.4M630.5 273.97h-1.4M630.5 268.59h-1.4M630.5 264.03h-1.4M630.5 260.09h-1.4M630.5 256.61h-1.4" stroke="#262626" stroke-width="0.6" fill="none"/>
<text transform="translate(9.2 170.1) rotate(-90)" text-anchor="middle" font-size="10.6" textLength="74" lengthAdjust="spacingAndGlyphs">Frequency (Hz)</text>
<text transform="translate(664.6 170.3) rotate(-90)" text-anchor="middle" font-size="11">Acceleration magnitude (m/s<tspan font-size="7.6" dy="-4">2</tspan><tspan dy="4">)</tspan></text>
</svg>
</body></html>
